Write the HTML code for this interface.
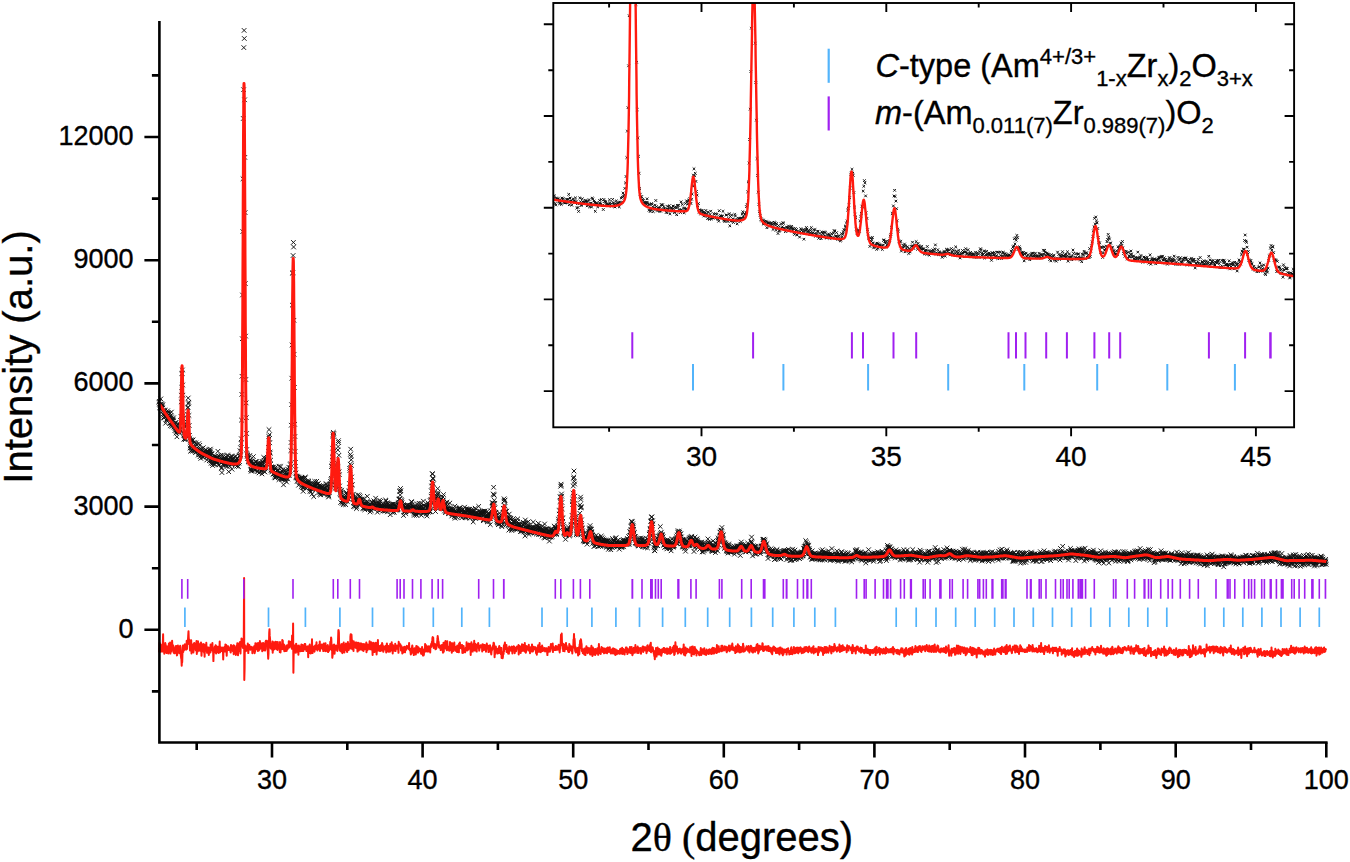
<!DOCTYPE html>
<html><head><meta charset="utf-8"><style>html,body{margin:0;padding:0;background:#fff;overflow:hidden}svg{display:block}</style></head><body>
<svg width="1350" height="862" viewBox="0 0 1350 862">
<rect width="1350" height="862" fill="#fff"/>
<defs><marker id="xm" markerUnits="userSpaceOnUse" markerWidth="8" markerHeight="8" refX="4" refY="4" overflow="visible"><path d="M1.7 1.7L6.3 6.3M6.3 1.7L1.7 6.3" stroke="#111" stroke-width="0.95"/></marker><marker id="xi" markerUnits="userSpaceOnUse" markerWidth="8" markerHeight="8" refX="4" refY="4" overflow="visible"><path d="M2.7 2.7L5.3 5.3M5.3 2.7L2.7 5.3" stroke="#111" stroke-width="1"/></marker></defs>
<polyline points="159,402.3 159.3,401.4 159.5,404.2 159.8,407.3 160,405.7 160.3,408.4 160.6,404.2 160.8,398.9 161.1,407.4 161.3,408.3 161.6,403.8 161.8,404.8 162.1,406.3 162.3,411.2 162.6,407.7 162.8,404.9 163.1,414.2 163.3,410.7 163.6,417.4 163.8,415.2 164.1,418 164.3,411.4 164.6,416.3 164.8,410 165.1,410.9 165.3,412.8 165.6,423.2 165.8,415.1 166.1,413.3 166.3,413 166.6,420.5 166.8,416.3 167.1,418.9 167.3,418.5 167.6,410.8 167.8,419.2 168.1,416.3 168.3,412.7 168.6,419.3 168.9,417.6 169.1,417 169.4,417.6 169.6,423.4 169.9,418.2 170.1,413.1 170.4,425.8 170.6,415.9 170.9,419.4 171.1,423 171.4,412.1 171.6,417.7 171.9,426.4 172.1,421.4 172.4,419.6 172.6,423.2 172.9,419.9 173.1,423.4 173.4,420.7 173.6,417.8 173.9,427 174.1,423.7 174.4,426.9 174.6,424.8 174.9,430.6 175.1,428.5 175.4,427.2 175.6,423 175.9,422.4 176.1,433 176.4,431.2 176.6,425.5 176.9,436.8 177.2,430.8 177.4,429.6 177.7,424.3 177.9,427 178.2,431.5 178.4,431.9 178.7,431.6 178.9,424.5 179.2,432.7 179.4,432.1 179.7,429.2 179.9,430.4 180.2,429 180.4,429.8 180.7,420.5 180.9,416.3 181.2,401.9 181.4,395.2 181.7,387.4 181.9,373.7 182.2,373.4 182.4,370 182.7,385 182.9,395.2 183.2,415.6 183.4,418.3 183.7,433.7 183.9,439.3 184.2,434.7 184.4,438.6 184.7,435 184.9,427 185.2,439.7 185.5,438.8 185.7,435 186,433 186.2,434.2 186.5,432.1 186.7,425.4 187,422.1 187.2,423.8 187.5,414.2 187.7,407.9 188,407.2 188.2,398 188.5,403.8 188.7,402.3 189,415.4 189.2,425.5 189.5,435.5 189.7,438 190,448.1 190.2,445.9 190.5,440.8 190.7,451.3 191,439.8 191.2,450.5 191.5,440.8 191.7,447.5 192,441.4 192.2,444.2 192.5,451.1 192.7,440.3 193,439.8 193.2,446 193.5,447.1 193.8,446.9 194,450.3 194.3,442.3 194.5,449.1 194.8,447.3 195,450.4 195.3,450 195.5,452.7 195.8,442.9 196,448.7 196.3,444.4 196.5,448.4 196.8,451.4 197,450.1 197.3,451.2 197.5,449.2 197.8,450.8 198,450.7 198.3,455.1 198.5,453.1 198.8,443.6 199,452.9 199.3,454.6 199.5,449.3 199.8,445.3 200,456.7 200.3,452 200.5,453.8 200.8,458.4 201,448.8 201.3,451.9 201.5,451.6 201.8,455 202.1,450.4 202.3,454.4 202.6,453 202.8,456.9 203.1,457.5 203.3,447.7 203.6,455 203.8,452 204.1,453.4 204.3,455.1 204.6,455.5 204.8,451.2 205.1,454.9 205.3,454.5 205.6,453.9 205.8,449.6 206.1,451.6 206.3,452.9 206.6,456.7 206.8,460 207.1,451.1 207.3,451.1 207.6,455.5 207.8,453 208.1,452.2 208.3,452.2 208.6,451.9 208.8,457.4 209.1,449.9 209.3,460.7 209.6,452.7 209.8,454.2 210.1,452.9 210.4,449.1 210.6,450.8 210.9,461 211.1,463.2 211.4,453.7 211.6,460.9 211.9,457.1 212.1,454 212.4,463.6 212.6,465.5 212.9,456.5 213.1,457.4 213.4,458.6 213.6,457.6 213.9,461.1 214.1,463.7 214.4,458.6 214.6,461.8 214.9,464.5 215.1,456.3 215.4,458.5 215.6,456.8 215.9,462.2 216.1,461 216.4,462.4 216.6,462.1 216.9,458 217.1,461.8 217.4,457.5 217.6,457.7 217.9,451.3 218.1,464.4 218.4,455.8 218.7,459.6 218.9,459.4 219.2,464.9 219.4,461.2 219.7,456.7 219.9,459.9 220.2,459.4 220.4,460.9 220.7,455.4 220.9,460 221.2,468.4 221.4,462.7 221.7,467.6 221.9,472.6 222.2,462.3 222.4,455.2 222.7,460.2 222.9,464.9 223.2,464.1 223.4,456.3 223.7,460 223.9,460.5 224.2,461 224.4,460.7 224.7,457.8 224.9,458.9 225.2,460.2 225.4,465 225.7,459.2 225.9,463.8 226.2,457.1 226.4,466.1 226.7,461.9 227,461.5 227.2,466.5 227.5,455 227.7,456 228,463.4 228.2,458.8 228.5,460.3 228.7,471.7 229,460.9 229.2,462.1 229.5,461.6 229.7,466.1 230,463.1 230.2,462.7 230.5,457.6 230.7,460.9 231,462.2 231.2,456.4 231.5,464.4 231.7,463.8 232,469.2 232.2,456.4 232.5,458.7 232.7,459 233,459.9 233.2,462 233.5,461.7 233.7,463.4 234,463.3 234.2,462.3 234.5,456.8 234.7,460.4 235,462.7 235.3,464.6 235.5,464.8 235.8,456.3 236,460.3 236.3,461.9 236.5,463.4 236.8,466.2 237,462.1 237.3,458.4 237.5,463 237.8,462.2 238,461.9 238.3,460.4 238.5,466.6 238.8,461.1 239,463 239.3,455.9 239.5,461.5 239.8,455.5 240,450.7 240.3,456 240.5,454.7 240.8,448 241,443.3 241.3,438.7 241.5,420.1 241.8,394.4 242,376.3 242.3,338.7 242.5,295 242.8,231.6 243,178.8 243.3,118.5 243.6,89.7 243.8,47.6 244.1,30.4 244.3,38.5 244.6,99.8 244.8,157.4 245.1,212.6 245.3,283.6 245.6,336.1 245.8,379.5 246.1,402.9 246.3,417.7 246.6,433.5 246.8,449.5 247.1,454.4 247.3,456.3 247.6,455.3 247.8,458.6 248.1,458.1 248.3,458.6 248.6,461.5 248.8,461.1 249.1,460.6 249.3,462.1 249.6,460.3 249.8,455.5 250.1,460.6 250.3,462.9 250.6,469.7 250.8,462.1 251.1,471.1 251.3,469.2 251.6,460.9 251.9,461.6 252.1,465 252.4,471 252.6,466.1 252.9,467.3 253.1,462.5 253.4,456.6 253.6,464.3 253.9,468.1 254.1,469.7 254.4,465.6 254.6,466.1 254.9,469.9 255.1,465.2 255.4,470 255.6,461.6 255.9,461.8 256.1,461.8 256.4,467.7 256.6,464.1 256.9,466.5 257.1,467.5 257.4,467.4 257.6,471.1 257.9,471.6 258.1,463.3 258.4,467 258.6,465.6 258.9,462.7 259.1,472.9 259.4,469.4 259.6,465.9 259.9,465.1 260.2,468 260.4,462.8 260.7,465.9 260.9,471.2 261.2,470.2 261.4,463.8 261.7,465.1 261.9,473.9 262.2,461.8 262.4,464.6 262.7,461.9 262.9,468.3 263.2,468 263.4,471.1 263.7,457.4 263.9,467.5 264.2,460.8 264.4,468.9 264.7,465.6 264.9,472 265.2,466.6 265.4,460.6 265.7,468 265.9,458.2 266.2,459.7 266.4,463.5 266.7,460.2 266.9,459.1 267.2,457.6 267.4,460.7 267.7,462.7 268,458.3 268.2,454.6 268.5,447.5 268.7,436.4 269,429.6 269.2,438.8 269.5,434.7 269.7,442.8 270,452.1 270.2,453.2 270.5,464.3 270.7,460.1 271,470.3 271.2,466.9 271.5,469.7 271.7,472 272,467.2 272.2,470.2 272.5,467.6 272.7,470.1 273,474.1 273.2,470.6 273.5,470.2 273.7,467 274,474 274.2,470.9 274.5,477.2 274.7,468.6 275,475.1 275.2,477.9 275.5,471.6 275.7,467.4 276,477.2 276.3,475.7 276.5,474.6 276.8,476.1 277,470.7 277.3,475.1 277.5,474.9 277.8,470.2 278,475.2 278.3,471 278.5,476.2 278.8,477.2 279,479.6 279.3,466.2 279.5,474.3 279.8,472.3 280,473.4 280.3,472.8 280.5,473.3 280.8,466.6 281,477.5 281.3,479.4 281.5,477.5 281.8,478.8 282,471.3 282.3,471.1 282.5,477.7 282.8,479.4 283,475.7 283.3,469.4 283.5,484.8 283.8,472.7 284,478.6 284.3,471 284.6,478.7 284.8,475.9 285.1,480.4 285.3,478.5 285.6,470 285.8,472.1 286.1,476.6 286.3,478.3 286.6,482 286.8,476.6 287.1,475.2 287.3,475.4 287.6,475.4 287.8,479 288.1,475.1 288.3,474.8 288.6,469.7 288.8,467.2 289.1,473.9 289.3,475.3 289.6,471.6 289.8,472 290.1,470.3 290.3,464.7 290.6,463.8 290.8,450.6 291.1,442.5 291.3,425.2 291.6,404.7 291.8,378.2 292.1,345 292.3,305.1 292.6,273.3 292.9,272.5 293.1,255.5 293.4,242.4 293.6,247 293.9,320.3 294.1,354.3 294.4,387.6 294.6,424.3 294.9,436.5 295.1,451.5 295.4,462.5 295.6,469.6 295.9,473 296.1,477.3 296.4,476 296.6,478 296.9,476.3 297.1,481.5 297.4,476.8 297.6,477.5 297.9,478.9 298.1,480.3 298.4,477 298.6,485.2 298.9,477.9 299.1,478.9 299.4,478.9 299.6,478.8 299.9,482.7 300.1,481.5 300.4,478.4 300.6,479.3 300.9,480.3 301.2,486.6 301.4,479.4 301.7,477.3 301.9,478.1 302.2,481 302.4,487.5 302.7,478.7 302.9,482.7 303.2,491.3 303.4,481.1 303.7,487.9 303.9,487.3 304.2,485.1 304.4,478.5 304.7,484.4 304.9,482.2 305.2,477.1 305.4,477.8 305.7,483.9 305.9,484.5 306.2,488.2 306.4,486.4 306.7,482.5 306.9,482.7 307.2,483.9 307.4,480.9 307.7,487.2 307.9,484.8 308.2,482.1 308.4,482.7 308.7,481.1 308.9,483.6 309.2,486.2 309.5,484 309.7,488.9 310,491.2 310.2,483.5 310.5,485.9 310.7,484.7 311,491.8 311.2,487.3 311.5,488.2 311.7,489.2 312,494.2 312.2,487.6 312.5,483.4 312.7,485.3 313,488.8 313.2,486.8 313.5,484.2 313.7,496.6 314,487.5 314.2,485.3 314.5,484.9 314.7,481.4 315,483.5 315.2,486.5 315.5,486.6 315.7,485 316,489.7 316.2,488.1 316.5,484.9 316.7,481.3 317,488.8 317.2,488.5 317.5,487.7 317.8,483.8 318,488.7 318.3,483.6 318.5,492.1 318.8,489.5 319,489.6 319.3,486.3 319.5,485.5 319.8,494.5 320,492.5 320.3,488.2 320.5,491.8 320.8,494.9 321,486.1 321.3,488.1 321.5,488.2 321.8,491.6 322,486.5 322.3,490.9 322.5,486.4 322.8,493.4 323,493.3 323.3,489.8 323.5,493 323.8,488.3 324,489.8 324.3,494 324.5,490.6 324.8,492.2 325,487.9 325.3,493.3 325.5,492.7 325.8,487.1 326.1,483.6 326.3,484.5 326.6,491.2 326.8,490.7 327.1,486.3 327.3,492 327.6,495 327.8,491.2 328.1,490 328.3,494.3 328.6,497 328.8,495.9 329.1,488.2 329.3,492.4 329.6,489.4 329.8,487.1 330.1,484.4 330.3,486.1 330.6,481.5 330.8,484.2 331.1,479.6 331.3,478.4 331.6,466.4 331.8,466.1 332.1,464.1 332.3,456.9 332.6,448.2 332.8,434.6 333.1,436.3 333.3,432.4 333.6,435.1 333.8,433.5 334.1,450.9 334.4,465.1 334.6,470.5 334.9,472.2 335.1,485 335.4,488.3 335.6,484.3 335.9,487 336.1,485.3 336.4,487.2 336.6,475.2 336.9,471.3 337.1,469.9 337.4,463.3 337.6,467 337.9,450 338.1,446.6 338.4,440.7 338.6,442.5 338.9,455.3 339.1,471.9 339.4,474.7 339.6,486 339.9,489.3 340.1,493.3 340.4,494.5 340.6,502.5 340.9,491.5 341.1,495.3 341.4,492.8 341.6,490.2 341.9,497 342.1,503.3 342.4,500.5 342.7,501.7 342.9,499.5 343.2,497.7 343.4,504.8 343.7,497.1 343.9,503.4 344.2,497.4 344.4,498.9 344.7,499.7 344.9,499 345.2,500.6 345.4,500.9 345.7,504.6 345.9,499.1 346.2,492.9 346.4,492.5 346.7,494.7 346.9,496.7 347.2,501.3 347.4,494 347.7,498.8 347.9,498.3 348.2,498.2 348.4,495.6 348.7,495.3 348.9,491.2 349.2,490.8 349.4,483.5 349.7,468.3 349.9,470.5 350.2,464.2 350.4,454.4 350.7,449.2 351,456.7 351.2,459.8 351.5,465.4 351.7,477 352,484.7 352.2,484.9 352.5,496.1 352.7,496 353,499.8 353.2,494.2 353.5,506.4 353.7,502.6 354,502.4 354.2,498.7 354.5,499.1 354.7,496.6 355,506.5 355.2,499 355.5,502.5 355.7,503.8 356,499.9 356.2,504.8 356.5,508.6 356.7,503 357,506.6 357.2,503.6 357.5,499.9 357.7,499.7 358,494.8 358.2,500 358.5,503.6 358.7,500.2 359,500.2 359.3,500.9 359.5,495.4 359.8,499.6 360,504.8 360.3,496.8 360.5,500.5 360.8,499.8 361,501.4 361.3,500.2 361.5,502.6 361.8,499 362,501.9 362.3,502.1 362.5,502.2 362.8,508.4 363,504.3 363.3,504.7 363.5,503.2 363.8,508.4 364,498.7 364.3,503.7 364.5,508.1 364.8,509.8 365,505.2 365.3,504.6 365.5,506.7 365.8,504.1 366,506.6 366.3,502.7 366.5,506.9 366.8,504.7 367,501.5 367.3,496.3 367.6,508 367.8,506.3 368.1,507.6 368.3,502.3 368.6,508.7 368.8,506.6 369.1,505.1 369.3,508.2 369.6,508.2 369.8,506.7 370.1,512 370.3,509.8 370.6,506.4 370.8,504.6 371.1,505.6 371.3,510.6 371.6,506.2 371.8,502 372.1,502.7 372.3,504.7 372.6,507.4 372.8,502.6 373.1,506.7 373.3,508.8 373.6,507.9 373.8,500.8 374.1,504.9 374.3,502.1 374.6,507.5 374.8,503 375.1,508.1 375.3,506.7 375.6,498.2 375.9,503.8 376.1,508 376.4,506.7 376.6,505.4 376.9,502.6 377.1,508.1 377.4,512.2 377.6,507.6 377.9,506.6 378.1,506.4 378.4,502.5 378.6,505.8 378.9,504.3 379.1,510.5 379.4,504.2 379.6,500.2 379.9,504.5 380.1,506.3 380.4,506.6 380.6,501.4 380.9,510.1 381.1,507.5 381.4,505.7 381.6,504.8 381.9,508.7 382.1,506.3 382.4,508.2 382.6,506.9 382.9,507.8 383.1,511 383.4,507.4 383.6,504.6 383.9,510.5 384.2,508.2 384.4,505.3 384.7,510.9 384.9,506.9 385.2,510.9 385.4,503.9 385.7,500.1 385.9,501.1 386.2,508.3 386.4,505.2 386.7,507.2 386.9,507.3 387.2,502.7 387.4,511.9 387.7,504.3 387.9,507.9 388.2,503.2 388.4,507.1 388.7,509.9 388.9,506.9 389.2,505.4 389.4,507.7 389.7,506.3 389.9,509.5 390.2,514.7 390.4,505 390.7,505.7 390.9,507.4 391.2,507.7 391.4,504.6 391.7,509.4 391.9,510.3 392.2,508.6 392.5,504.2 392.7,512.5 393,504.2 393.2,510.1 393.5,511.6 393.7,504 394,508.4 394.2,512.3 394.5,509.3 394.7,505.1 395,504.3 395.2,509.5 395.5,506.8 395.7,505.9 396,510.2 396.2,507 396.5,508.2 396.7,509.8 397,509.7 397.2,507.8 397.5,507.8 397.7,509.5 398,508.8 398.2,503.4 398.5,505.5 398.7,502.2 399,499.5 399.2,499.2 399.5,491.1 399.7,498.8 400,491.7 400.2,495 400.5,488.5 400.8,490.7 401,504.8 401.3,503.5 401.5,499.9 401.8,501 402,502.5 402.3,506.2 402.5,505.3 402.8,505.2 403,507.9 403.3,504.7 403.5,515.4 403.8,506.2 404,511.6 404.3,505.3 404.5,509.2 404.8,511.3 405,507.3 405.3,511.4 405.5,511.5 405.8,513.6 406,508.7 406.3,507 406.5,505.3 406.8,509.1 407,505.3 407.3,508.6 407.5,509 407.8,506.8 408,505.3 408.3,509.8 408.5,509.5 408.8,509.2 409.1,508.4 409.3,511.6 409.6,505.4 409.8,510 410.1,507.2 410.3,511.3 410.6,507.4 410.8,507.2 411.1,509.7 411.3,501.7 411.6,506.8 411.8,502.1 412.1,504.5 412.3,509.5 412.6,508.5 412.8,505.8 413.1,507 413.3,507.2 413.6,508.5 413.8,513.6 414.1,508.8 414.3,515.3 414.6,507.2 414.8,510.9 415.1,510.9 415.3,509.4 415.6,507.9 415.8,513.4 416.1,514.4 416.3,512.2 416.6,515.4 416.8,511.9 417.1,503.8 417.4,512.2 417.6,506.8 417.9,513.3 418.1,507.9 418.4,509.9 418.6,509.1 418.9,507.1 419.1,503.3 419.4,508.3 419.6,508.5 419.9,512 420.1,507.1 420.4,509.7 420.6,506.3 420.9,509.1 421.1,503.4 421.4,515.3 421.6,509.9 421.9,506.2 422.1,510.1 422.4,511.5 422.6,509.8 422.9,513.4 423.1,508.6 423.4,501.2 423.6,505.3 423.9,512.5 424.1,511.8 424.4,510.3 424.6,505.8 424.9,511.6 425.1,511.2 425.4,506.2 425.7,506.2 425.9,510.2 426.2,512.5 426.4,513.9 426.7,511.2 426.9,516 427.2,506.5 427.4,510.9 427.7,507.3 427.9,502.8 428.2,504.9 428.4,512.3 428.7,505.7 428.9,504.7 429.2,510.6 429.4,510.9 429.7,507.7 429.9,511.8 430.2,500.8 430.4,511.8 430.7,505.4 430.9,499.8 431.2,496.3 431.4,490.9 431.7,486 431.9,482.9 432.2,473.8 432.4,482.4 432.7,473.9 432.9,478.1 433.2,479 433.4,483.9 433.7,493.2 434,497.2 434.2,496.3 434.5,500.8 434.7,506.3 435,498.9 435.2,498.9 435.5,511.5 435.7,505.8 436,498.2 436.2,502.8 436.5,503.1 436.7,502.3 437,500.4 437.2,496.2 437.5,494.6 437.7,488.6 438,492.4 438.2,493.9 438.5,498.7 438.7,497.3 439,502.4 439.2,502.1 439.5,499.8 439.7,503.5 440,504.2 440.2,505.4 440.5,506.8 440.7,507.4 441,507.6 441.2,503.5 441.5,508.5 441.7,499.3 442,502 442.3,503.1 442.5,500.8 442.8,500.3 443,497 443.3,500 443.5,494.6 443.8,502.3 444,508.8 444.3,505.3 444.5,511 444.8,505.9 445,503.5 445.3,505.7 445.5,512.7 445.8,511.3 446,503.6 446.3,508.5 446.5,509.6 446.8,506.4 447,502.1 447.3,505.8 447.5,509.5 447.8,508.9 448,508.2 448.3,512.1 448.5,513.6 448.8,510.1 449,513.3 449.3,510.6 449.5,510.1 449.8,503.1 450,513.2 450.3,510.9 450.6,511.1 450.8,509.3 451.1,507.4 451.3,512.3 451.6,513.4 451.8,516 452.1,513.8 452.3,509.2 452.6,510.8 452.8,514.2 453.1,512.2 453.3,511 453.6,509.5 453.8,513 454.1,512 454.3,516.9 454.6,514.9 454.8,506.2 455.1,518.2 455.3,512.4 455.6,510.7 455.8,512.6 456.1,514 456.3,511.7 456.6,511.6 456.8,511.8 457.1,517.5 457.3,512.1 457.6,514.4 457.8,513.4 458.1,511 458.3,509.8 458.6,509 458.9,513.4 459.1,509 459.4,508.2 459.6,508.4 459.9,507.6 460.1,512.5 460.4,512.6 460.6,509.5 460.9,516.4 461.1,511.5 461.4,513.9 461.6,513.4 461.9,517.8 462.1,515.1 462.4,512.4 462.6,509.6 462.9,509.3 463.1,512.7 463.4,513.1 463.6,515.1 463.9,511.3 464.1,513.4 464.4,510.7 464.6,507.2 464.9,512.8 465.1,517.5 465.4,515.5 465.6,517.4 465.9,516.6 466.1,508.8 466.4,512.2 466.6,517.8 466.9,511 467.2,509.1 467.4,514.3 467.7,515.3 467.9,514.3 468.2,512.4 468.4,511.3 468.7,509.7 468.9,509.6 469.2,509.7 469.4,509.2 469.7,511.5 469.9,518.4 470.2,514 470.4,512.7 470.7,514.9 470.9,510.9 471.2,514.9 471.4,516.8 471.7,509.4 471.9,511.9 472.2,513.3 472.4,511.2 472.7,510.8 472.9,513.1 473.2,521.9 473.4,516.3 473.7,515.7 473.9,517.4 474.2,513.8 474.4,510.7 474.7,516 474.9,518 475.2,508.2 475.5,516 475.7,518.5 476,514 476.2,513.4 476.5,517 476.7,512.4 477,516.4 477.2,517.8 477.5,514.4 477.7,512.6 478,517 478.2,514.1 478.5,515.4 478.7,506.4 479,517.4 479.2,511 479.5,515.5 479.7,515.8 480,513.2 480.2,512.7 480.5,511.6 480.7,514.5 481,517.5 481.2,517.3 481.5,514.1 481.7,513.9 482,511.5 482.2,514.5 482.5,512.6 482.7,511.2 483,515.4 483.3,520.6 483.5,519.7 483.8,520.5 484,511.2 484.3,518.8 484.5,512.4 484.8,514.4 485,511 485.3,513.2 485.5,516.7 485.8,517 486,516.2 486.3,515.9 486.5,518.2 486.8,516.7 487,511.6 487.3,521.9 487.5,515.9 487.8,519.5 488,516.2 488.3,514.2 488.5,517 488.8,514.4 489,521.7 489.3,513.4 489.5,518.7 489.8,514.9 490,516.2 490.3,524.6 490.5,518.8 490.8,515.5 491,510.9 491.3,514.1 491.6,513.2 491.8,517.2 492.1,506.4 492.3,502.8 492.6,505.5 492.8,502.9 493.1,504.4 493.3,494 493.6,487.3 493.8,494.8 494.1,495.2 494.3,500.4 494.6,508.2 494.8,503.3 495.1,513.9 495.3,512.6 495.6,512.8 495.8,512.3 496.1,514.8 496.3,515.7 496.6,519.8 496.8,521.8 497.1,518 497.3,520.6 497.6,522.6 497.8,522.6 498.1,520.3 498.3,524.6 498.6,523.1 498.8,524.1 499.1,518.6 499.3,517.9 499.6,513.1 499.9,523.9 500.1,521.4 500.4,516.7 500.6,520.3 500.9,520.9 501.1,515.2 501.4,522.2 501.6,525.5 501.9,526.7 502.1,521.7 502.4,521.1 502.6,524.5 502.9,520.6 503.1,512.3 503.4,508.3 503.6,508.6 503.9,501.2 504.1,498.8 504.4,505.2 504.6,500.6 504.9,500.1 505.1,506.3 505.4,514.7 505.6,512.1 505.9,511.7 506.1,511.3 506.4,524.6 506.6,511.1 506.9,523.4 507.1,517.7 507.4,517.4 507.6,518.5 507.9,521.3 508.2,525.5 508.4,520.3 508.7,524.5 508.9,530.1 509.2,514.1 509.4,520.7 509.7,517.5 509.9,525.8 510.2,518.8 510.4,518.5 510.7,518.8 510.9,523.6 511.2,527.3 511.4,524.3 511.7,530.5 511.9,529.1 512.2,523.9 512.4,527.2 512.7,524.9 512.9,524.8 513.2,518.8 513.4,520.8 513.7,524.9 513.9,521.2 514.2,527.2 514.4,526 514.7,522.3 514.9,528.8 515.2,526 515.4,529.2 515.7,525 515.9,520.5 516.2,527.7 516.5,524.9 516.7,528.3 517,529.1 517.2,529.4 517.5,521.5 517.7,518.9 518,524.5 518.2,528.1 518.5,524 518.7,527.1 519,523.8 519.2,525.4 519.5,525.5 519.7,524.6 520,528.2 520.2,527.7 520.5,531.7 520.7,527.9 521,530.9 521.2,527.2 521.5,529.7 521.7,526.6 522,525.6 522.2,531.2 522.5,529.5 522.7,529.9 523,525 523.2,522.3 523.5,524.8 523.7,528.4 524,523.2 524.2,532 524.5,523.2 524.8,529.6 525,535.9 525.3,520 525.5,523.2 525.8,531 526,527.5 526.3,528.7 526.5,527.8 526.8,532.5 527,530.2 527.3,526.9 527.5,527.7 527.8,524.9 528,528.3 528.3,521.7 528.5,530.7 528.8,527.9 529,534.4 529.3,532.5 529.5,525 529.8,531.7 530,527.5 530.3,529.2 530.5,532.2 530.8,530.2 531,530.8 531.3,530.7 531.5,527.2 531.8,527.5 532,531.2 532.3,532.2 532.5,528.8 532.8,530 533.1,526.8 533.3,522.1 533.6,527.4 533.8,530.1 534.1,530.5 534.3,532.6 534.6,532.8 534.8,533.1 535.1,531.4 535.3,531.6 535.6,528.2 535.8,531.6 536.1,531.1 536.3,534.1 536.6,525.9 536.8,529.2 537.1,525.6 537.3,528.5 537.6,526.6 537.8,531.7 538.1,528.9 538.3,523.3 538.6,534.7 538.8,527.8 539.1,526.4 539.3,530.1 539.6,529.2 539.8,527.8 540.1,533.4 540.3,530.4 540.6,534.2 540.8,533.7 541.1,533.6 541.4,532.2 541.6,531.4 541.9,530.6 542.1,536.1 542.4,526.2 542.6,528.7 542.9,530 543.1,533.3 543.4,532.5 543.6,530.7 543.9,531.2 544.1,537.4 544.4,530.3 544.6,524 544.9,538 545.1,529.8 545.4,531.7 545.6,533.1 545.9,528.8 546.1,536.4 546.4,532.5 546.6,528.7 546.9,533.7 547.1,534.4 547.4,532.8 547.6,534.5 547.9,528.8 548.1,536 548.4,530.8 548.6,537.1 548.9,531.5 549.1,533.8 549.4,541.1 549.7,533.6 549.9,536.8 550.2,535 550.4,529.2 550.7,537 550.9,536.9 551.2,529.6 551.4,533.5 551.7,529.3 551.9,532.9 552.2,536.4 552.4,534 552.7,530.1 552.9,530.8 553.2,533.3 553.4,532.9 553.7,533.1 553.9,534 554.2,526.1 554.4,531.3 554.7,534.1 554.9,531.6 555.2,527.5 555.4,527.4 555.7,529.5 555.9,531.1 556.2,529.1 556.4,534.5 556.7,533.6 556.9,527.6 557.2,531.6 557.4,528.9 557.7,526 558,526.9 558.2,527.5 558.5,519.2 558.7,521.2 559,521.3 559.2,514.1 559.5,510.8 559.7,510.1 560,501.6 560.2,496.7 560.5,497.2 560.7,486.2 561,484.2 561.2,485.6 561.5,494 561.7,496.2 562,502.5 562.2,508.9 562.5,518.7 562.7,517.7 563,527.1 563.2,526.9 563.5,524.6 563.7,532.2 564,532.9 564.2,529.1 564.5,533.9 564.7,533.9 565,532.5 565.2,530 565.5,539.3 565.7,534.9 566,535.1 566.3,534.9 566.5,533.8 566.8,533.3 567,529.6 567.3,533 567.5,530.1 567.8,529.5 568,533.2 568.3,531.1 568.5,527.1 568.8,531.5 569,534.6 569.3,533.2 569.5,535.9 569.8,532.3 570,530.3 570.3,534.6 570.5,531.9 570.8,526.6 571,529.4 571.3,524.8 571.5,525.3 571.8,520.8 572,515.3 572.3,501.6 572.5,504.4 572.8,499 573,493.1 573.3,486 573.5,478.3 573.8,477.1 574,471 574.3,481.3 574.6,484 574.8,496.2 575.1,503.2 575.3,516.7 575.6,518.2 575.8,522.4 576.1,526.4 576.3,534.6 576.6,527.7 576.8,532.7 577.1,533.6 577.3,533.5 577.6,533.3 577.8,531.1 578.1,535 578.3,532.8 578.6,527.6 578.8,526 579.1,525.1 579.3,522.7 579.6,520 579.8,513.3 580.1,504.8 580.3,507.7 580.6,497.1 580.8,499.5 581.1,506.6 581.3,507.6 581.6,519.8 581.8,525.4 582.1,528 582.3,528.6 582.6,530.8 582.9,533.4 583.1,533.3 583.4,540.9 583.6,534.4 583.9,540.6 584.1,539 584.4,538.8 584.6,541.1 584.9,542 585.1,541.1 585.4,538.5 585.6,536.9 585.9,537.1 586.1,541.5 586.4,540.9 586.6,541.3 586.9,537.4 587.1,544.2 587.4,534.9 587.6,539.4 587.9,539.8 588.1,536.2 588.4,533.5 588.6,534.7 588.9,531.7 589.1,533.2 589.4,529 589.6,527.9 589.9,530.8 590.1,525.6 590.4,528.9 590.6,529.2 590.9,532.5 591.2,531.5 591.4,529.4 591.7,536.6 591.9,532.2 592.2,534.3 592.4,535.5 592.7,543.4 592.9,538.4 593.2,537 593.4,541.4 593.7,539.5 593.9,546.6 594.2,538.5 594.4,542.4 594.7,538.3 594.9,545.9 595.2,539 595.4,541.7 595.7,538.9 595.9,543.7 596.2,542.9 596.4,535.2 596.7,543.7 596.9,543.4 597.2,542.3 597.4,544.4 597.7,538.4 597.9,537 598.2,543.6 598.4,546.5 598.7,538.6 598.9,538.9 599.2,539.7 599.5,538.8 599.7,544.4 600,542.5 600.2,545.9 600.5,546 600.7,539.6 601,544.1 601.2,536.1 601.5,542.2 601.7,544.1 602,540.3 602.2,537.6 602.5,541.2 602.7,545.9 603,541.6 603.2,538.9 603.5,544.1 603.7,544.9 604,540 604.2,542.5 604.5,545.9 604.7,544 605,545 605.2,542.2 605.5,542.8 605.7,540 606,541.2 606.2,547.4 606.5,542.1 606.7,540.8 607,542.1 607.2,540.5 607.5,544.8 607.8,545.9 608,540.9 608.3,546.3 608.5,549.3 608.8,540.7 609,545.4 609.3,544.3 609.5,547.3 609.8,547.1 610,546.6 610.3,544.5 610.5,542.5 610.8,549.7 611,541.5 611.3,546.7 611.5,546.4 611.8,541.7 612,543.8 612.3,547.7 612.5,538.6 612.8,545.9 613,542.9 613.3,543.1 613.5,539.8 613.8,544.9 614,540.9 614.3,545.6 614.5,540.6 614.8,545.7 615,544.6 615.3,538.5 615.5,542.8 615.8,543.4 616.1,537.6 616.3,542.7 616.6,545.9 616.8,541.7 617.1,546.9 617.3,540.7 617.6,540.5 617.8,545.3 618.1,545.4 618.3,543.2 618.6,543.7 618.8,546.4 619.1,542.2 619.3,549.2 619.6,544.9 619.8,544.8 620.1,544.5 620.3,542.9 620.6,547.1 620.8,542.2 621.1,544.2 621.3,545.5 621.6,547.4 621.8,546.9 622.1,542.8 622.3,546.3 622.6,543.6 622.8,540.9 623.1,540.9 623.3,539.5 623.6,544.5 623.8,546.6 624.1,540.9 624.4,542.8 624.6,540.6 624.9,543.6 625.1,540.4 625.4,541.3 625.6,541.6 625.9,542.2 626.1,542.4 626.4,542.8 626.6,542.8 626.9,540.7 627.1,544.7 627.4,538.5 627.6,543.4 627.9,540.3 628.1,543 628.4,543.2 628.6,536.6 628.9,542.5 629.1,544.5 629.4,542.1 629.6,540 629.9,531.8 630.1,535.8 630.4,531.9 630.6,535.5 630.9,529.6 631.1,526.5 631.4,521.2 631.6,526.9 631.9,521.7 632.1,522 632.4,526 632.7,523.8 632.9,525.8 633.2,533.7 633.4,527.1 633.7,529.4 633.9,534.2 634.2,538.7 634.4,532.5 634.7,537.4 634.9,536.5 635.2,536.5 635.4,542.6 635.7,539.6 635.9,543 636.2,542.8 636.4,543.2 636.7,543.1 636.9,540.3 637.2,543.1 637.4,543.9 637.7,544.3 637.9,542.7 638.2,546.1 638.4,545.1 638.7,543.9 638.9,545.3 639.2,544.1 639.4,545.5 639.7,538.5 639.9,540.3 640.2,542.7 640.4,544.1 640.7,538 641,543.1 641.2,544.2 641.5,543.1 641.7,543.1 642,540.1 642.2,544 642.5,538.3 642.7,546.3 643,542.1 643.2,546.6 643.5,539 643.7,544.8 644,544 644.2,541.4 644.5,540.4 644.7,546.8 645,544.7 645.2,547.5 645.5,543.3 645.7,543.9 646,544.5 646.2,545.3 646.5,544.4 646.7,545.3 647,541.7 647.2,538.8 647.5,547.9 647.7,542.6 648,542.9 648.2,539.7 648.5,542.8 648.7,539.6 649,540.7 649.3,534.3 649.5,534.2 649.8,532.9 650,529.1 650.3,528.6 650.5,530.2 650.8,521.7 651,520.9 651.3,521.1 651.5,517.2 651.8,516.8 652,524.9 652.3,525.6 652.5,520.8 652.8,523.7 653,532.8 653.3,537.1 653.5,538.7 653.8,541.5 654,547.5 654.3,545.3 654.5,550.5 654.8,550.8 655,544.6 655.3,548.2 655.5,545.5 655.8,542.7 656,541.6 656.3,544.3 656.5,543.1 656.8,545.3 657,538.2 657.3,541.1 657.6,545.7 657.8,542.4 658.1,540.1 658.3,540.3 658.6,536 658.8,536.5 659.1,541 659.3,538.8 659.6,541.1 659.8,535.7 660.1,534.9 660.3,526.6 660.6,533.2 660.8,538.8 661.1,534.4 661.3,532.2 661.6,536.5 661.8,536.1 662.1,535.6 662.3,534.7 662.6,537.3 662.8,540.4 663.1,536.8 663.3,541.4 663.6,542.1 663.8,545.3 664.1,544.2 664.3,540.8 664.6,547.4 664.8,543.5 665.1,541.6 665.3,544.7 665.6,543.2 665.9,546.9 666.1,540.5 666.4,541.1 666.6,543.5 666.9,548.9 667.1,547 667.4,541.6 667.6,539.6 667.9,543.5 668.1,540.9 668.4,545.9 668.6,544.8 668.9,544.3 669.1,543.2 669.4,548.5 669.6,541.8 669.9,540.8 670.1,547.5 670.4,548 670.6,543.5 670.9,546.2 671.1,550.8 671.4,542.3 671.6,544 671.9,545.7 672.1,538.8 672.4,544.1 672.6,546.5 672.9,544.2 673.1,547.2 673.4,546.4 673.6,543.3 673.9,545.8 674.2,545.5 674.4,539.7 674.7,541.7 674.9,541.7 675.2,542.2 675.4,542 675.7,538.9 675.9,542.4 676.2,536.6 676.4,543.5 676.7,540.7 676.9,542.8 677.2,538.7 677.4,535 677.7,531.1 677.9,535.8 678.2,532.8 678.4,532.9 678.7,533.4 678.9,534.5 679.2,531 679.4,536.8 679.7,532.4 679.9,533.9 680.2,537.1 680.4,539.4 680.7,541.7 680.9,533.9 681.2,543.9 681.4,536.9 681.7,540.4 681.9,543.7 682.2,546.4 682.5,540.9 682.7,539.4 683,546.9 683.2,545.4 683.5,541.9 683.7,544 684,539.6 684.2,546.6 684.5,543.7 684.7,548.5 685,539.6 685.2,547.2 685.5,551.2 685.7,545.7 686,545.7 686.2,540.2 686.5,546.2 686.7,545.3 687,543.6 687.2,540.9 687.5,545.2 687.7,542 688,543.2 688.2,545.1 688.5,543.7 688.7,543.4 689,545.5 689.2,539.1 689.5,545.6 689.7,538 690,537.9 690.2,540.2 690.5,541.5 690.8,539.6 691,537.5 691.3,536.7 691.5,538.2 691.8,536.6 692,541.4 692.3,539.9 692.5,545.4 692.8,539.7 693,541.9 693.3,544 693.5,540.1 693.8,541.8 694,551.5 694.3,543.9 694.5,547.9 694.8,541.1 695,537.1 695.3,545 695.5,543.2 695.8,543.9 696,542.1 696.3,541.1 696.5,539.3 696.8,545.5 697,538.7 697.3,545.7 697.5,542.7 697.8,540.6 698,542.2 698.3,547 698.6,546.7 698.8,546.4 699.1,545.6 699.3,542.7 699.6,549.4 699.8,544.9 700.1,544.7 700.3,545 700.6,545.3 700.8,542.6 701.1,545.4 701.3,544.5 701.6,545.3 701.8,542.1 702.1,551.9 702.3,543.5 702.6,547.6 702.8,547.7 703.1,549.5 703.3,551.9 703.6,548 703.8,548.8 704.1,545.6 704.3,550.8 704.6,543 704.8,546 705.1,547.2 705.3,548.3 705.6,548.4 705.8,549.1 706.1,547.2 706.3,545.5 706.6,545.7 706.9,548.7 707.1,545.3 707.4,546.7 707.6,543.7 707.9,538.9 708.1,542.2 708.4,544.8 708.6,548.5 708.9,548.1 709.1,549.2 709.4,543 709.6,547.3 709.9,545.5 710.1,547.6 710.4,546 710.6,542.8 710.9,548.6 711.1,547.9 711.4,549.3 711.6,544.9 711.9,550.1 712.1,550.4 712.4,551.2 712.6,551.3 712.9,546.4 713.1,540.9 713.4,550.3 713.6,545.2 713.9,547 714.1,550.6 714.4,548.4 714.6,548.3 714.9,549.5 715.2,542.5 715.4,552.6 715.7,546.5 715.9,546.6 716.2,548.9 716.4,546.8 716.7,544.7 716.9,546.4 717.2,545.4 717.4,544.3 717.7,551 717.9,541 718.2,538 718.4,540.6 718.7,539.4 718.9,544.7 719.2,539.8 719.4,540.2 719.7,538.1 719.9,532.1 720.2,535.7 720.4,532.5 720.7,536.6 720.9,531 721.2,530.2 721.4,532.9 721.7,533.8 721.9,527.5 722.2,537.8 722.4,538.9 722.7,539.8 722.9,535.8 723.2,534.8 723.5,541.1 723.7,545.2 724,545.4 724.2,542.3 724.5,548.4 724.7,542.7 725,543.3 725.2,547.2 725.5,546 725.7,546 726,544.1 726.2,551.1 726.5,545.4 726.7,549.6 727,550.7 727.2,548.5 727.5,549.4 727.7,551.5 728,553.1 728.2,551.5 728.5,545.2 728.7,544 729,547.4 729.2,546.1 729.5,550.6 729.7,549.5 730,548.6 730.2,552.2 730.5,552 730.7,549.1 731,550.3 731.2,552.2 731.5,548.5 731.8,550.2 732,546.9 732.3,549.6 732.5,550.4 732.8,549.3 733,550.1 733.3,551.4 733.5,550.7 733.8,547.7 734,548 734.3,546.4 734.5,554.2 734.8,550.8 735,550.8 735.3,549.3 735.5,550.9 735.8,551.1 736,547.7 736.3,549.3 736.5,552.7 736.8,546.1 737,547 737.3,551 737.5,547.2 737.8,551.1 738,546 738.3,549.3 738.5,550.6 738.8,549.1 739,549.8 739.3,546.8 739.5,546.5 739.8,546.4 740.1,547.5 740.3,555.5 740.6,545.1 740.8,550.2 741.1,544.4 741.3,542 741.6,544.5 741.8,546.5 742.1,546.3 742.3,546.6 742.6,548.2 742.8,548.7 743.1,550.1 743.3,544.9 743.6,548.4 743.8,546.2 744.1,549.7 744.3,549.1 744.6,549.9 744.8,548.4 745.1,547.6 745.3,549.2 745.6,551.7 745.8,552 746.1,545.7 746.3,550.7 746.6,550.7 746.8,546.1 747.1,546.9 747.3,548.3 747.6,550.5 747.8,543.1 748.1,548 748.4,547.2 748.6,548.8 748.9,551.6 749.1,550.9 749.4,545.8 749.6,545.3 749.9,546.5 750.1,548.5 750.4,548.8 750.6,545.5 750.9,548.3 751.1,541.9 751.4,541.3 751.6,537.1 751.9,542.7 752.1,547.2 752.4,548.4 752.6,555.9 752.9,548.8 753.1,548.2 753.4,545.7 753.6,547.1 753.9,547.6 754.1,548.9 754.4,548 754.6,546.3 754.9,553 755.1,551.6 755.4,554.2 755.6,546.5 755.9,547.4 756.1,548.9 756.4,554 756.7,550.5 756.9,551.6 757.2,550.8 757.4,551.6 757.7,549.8 757.9,552.1 758.2,548.9 758.4,550.5 758.7,551.8 758.9,551.3 759.2,552.1 759.4,548.7 759.7,551.4 759.9,549.7 760.2,551.2 760.4,553.7 760.7,547 760.9,551.6 761.2,546.4 761.4,546.3 761.7,551 761.9,548.2 762.2,546.1 762.4,546 762.7,546 762.9,539.8 763.2,541.7 763.4,539.4 763.7,541.3 763.9,539.2 764.2,542.4 764.4,540.9 764.7,540 765,542.4 765.2,544.8 765.5,547.6 765.7,545.3 766,545.9 766.2,548.4 766.5,550.6 766.7,548 767,543.6 767.2,551.5 767.5,550.3 767.7,550.6 768,558.5 768.2,551.9 768.5,554.2 768.7,549.1 769,553.4 769.2,554.9 769.5,553.6 769.7,552.7 770,554.6 770.2,553.4 770.5,556.8 770.7,554 771,551.5 771.2,548.6 771.5,551.8 771.7,553 772,550.7 772.2,551.2 772.5,549.6 772.7,551.2 773,554.2 773.3,553.3 773.5,553.6 773.8,553.3 774,553.6 774.3,556.1 774.5,559.5 774.8,555.9 775,559.3 775.3,554 775.5,554.2 775.8,558.5 776,552.5 776.3,552.1 776.5,554.1 776.8,550.1 777,549.6 777.3,557.4 777.5,551.7 777.8,553.2 778,553.3 778.3,552 778.5,556.2 778.8,555.9 779,556.5 779.3,556.3 779.5,554.6 779.8,558.1 780,557 780.3,552.9 780.5,554.5 780.8,553.3 781,559 781.3,556.2 781.6,555.5 781.8,554 782.1,555.4 782.3,551.5 782.6,553.9 782.8,553.6 783.1,553.5 783.3,551.6 783.6,554.5 783.8,550.3 784.1,552 784.3,552.7 784.6,553.1 784.8,551.9 785.1,550.7 785.3,551 785.6,552.6 785.8,551.5 786.1,553.5 786.3,550.8 786.6,554.2 786.8,559.5 787.1,551 787.3,554.2 787.6,557.5 787.8,555.1 788.1,556.9 788.3,549.4 788.6,553.5 788.8,558.8 789.1,553.5 789.3,555.9 789.6,550.1 789.9,557.6 790.1,560.6 790.4,554.8 790.6,555.9 790.9,556.1 791.1,560.4 791.4,554 791.6,550.8 791.9,559.9 792.1,552.1 792.4,556.5 792.6,549.2 792.9,554 793.1,555.6 793.4,552.3 793.6,553.8 793.9,556.6 794.1,553.4 794.4,556.5 794.6,559.7 794.9,550.1 795.1,556.1 795.4,556.7 795.6,554.4 795.9,559.1 796.1,558.6 796.4,556.5 796.6,556.5 796.9,555.1 797.1,552.4 797.4,556.4 797.6,554 797.9,553.7 798.2,558 798.4,554.7 798.7,557.6 798.9,552.5 799.2,554.1 799.4,555.2 799.7,558.6 799.9,554.9 800.2,557.1 800.4,553.3 800.7,555.4 800.9,557.1 801.2,552.6 801.4,553.1 801.7,556.3 801.9,551.8 802.2,555.3 802.4,555.1 802.7,553.8 802.9,555.8 803.2,554.6 803.4,553.5 803.7,548.7 803.9,548.2 804.2,552.1 804.4,546.6 804.7,550.2 804.9,548.3 805.2,546.2 805.4,546.9 805.7,540.6 805.9,545.7 806.2,549.1 806.5,542.1 806.7,546.6 807,546.5 807.2,554 807.5,543.9 807.7,545.1 808,545.9 808.2,546.2 808.5,545.2 808.7,550.5 809,548.7 809.2,553.7 809.5,553.3 809.7,550.3 810,552.4 810.2,557.2 810.5,553.3 810.7,554.9 811,556.8 811.2,553.8 811.5,556.1 811.7,559.1 812,558.1 812.2,550.9 812.5,559.2 812.7,554.9 813,554 813.2,554 813.5,558.7 813.7,556.4 814,555.3 814.2,553.7 814.5,557.3 814.8,558.7 815,553.3 815.3,553 815.5,554.9 815.8,557.4 816,554.8 816.3,555.6 816.5,553.8 816.8,559 817,555.6 817.3,556.3 817.5,558.7 817.8,555.4 818,555.9 818.3,557 818.5,555 818.8,559.6 819,556.2 819.3,555 819.5,555.3 819.8,553.4 820,559.1 820.3,559.9 820.5,555.5 820.8,555 821,550.8 821.3,554.6 821.5,558.3 821.8,554.1 822,558.3 822.3,559.9 822.5,549.7 822.8,555.4 823.1,554.4 823.3,554.8 823.6,551.7 823.8,555.5 824.1,553.2 824.3,558.8 824.6,559.7 824.8,552.7 825.1,552.6 825.3,555 825.6,555.7 825.8,555.9 826.1,558 826.3,552.5 826.6,554.7 826.8,555.1 827.1,555.4 827.3,553.7 827.6,555.1 827.8,554.5 828.1,559.3 828.3,555.1 828.6,550.9 828.8,557.7 829.1,556.7 829.3,554.2 829.6,554 829.8,554.9 830.1,560.5 830.3,555.2 830.6,559.4 830.8,558.5 831.1,555.1 831.4,557.2 831.6,554.5 831.9,548.6 832.1,554.6 832.4,554.7 832.6,558.8 832.9,558.1 833.1,559.2 833.4,557.9 833.6,559.3 833.9,558.2 834.1,557.1 834.4,559.1 834.6,560.1 834.9,560 835.1,555.5 835.4,556.5 835.6,554.1 835.9,554 836.1,557.5 836.4,555 836.6,560.2 836.9,551 837.1,553.7 837.4,557.2 837.6,559.6 837.9,555.7 838.1,561.4 838.4,558.6 838.6,554.8 838.9,556.5 839.1,557.9 839.4,554.3 839.7,559.3 839.9,556 840.2,558 840.4,558.9 840.7,555.6 840.9,559.2 841.2,552 841.4,558.2 841.7,551.8 841.9,559.5 842.2,555.3 842.4,559.8 842.7,560.2 842.9,556.4 843.2,555.1 843.4,560 843.7,553.9 843.9,558.8 844.2,556.5 844.4,555.9 844.7,555.3 844.9,561.3 845.2,552.8 845.4,555.4 845.7,557.9 845.9,559.4 846.2,561 846.4,560.2 846.7,555.4 846.9,557.6 847.2,559.6 847.4,558.1 847.7,552.9 848,557.6 848.2,558.2 848.5,553.4 848.7,555.6 849,556.6 849.2,558.2 849.5,560.6 849.7,559.6 850,557.9 850.2,557.2 850.5,555.8 850.7,555.3 851,556.1 851.2,556.1 851.5,559.1 851.7,561.9 852,557.8 852.2,558.9 852.5,558.1 852.7,557.1 853,559.4 853.2,559 853.5,556.4 853.7,555.7 854,557.5 854.2,554.5 854.5,556.2 854.7,558 855,555.2 855.2,550.4 855.5,556.7 855.7,551.9 856,551.3 856.3,550.9 856.5,556.7 856.8,549.5 857,554.4 857.3,555.4 857.5,555.4 857.8,553.4 858,554.9 858.3,555.7 858.5,552.1 858.8,557.3 859,558.3 859.3,553.8 859.5,554.1 859.8,553.2 860,558.8 860.3,553.4 860.5,555 860.8,551.8 861,559.4 861.3,555.8 861.5,557.1 861.8,560.4 862,558.2 862.3,553.6 862.5,557.6 862.8,558.2 863,554.3 863.3,554 863.5,554 863.8,558.4 864,556.6 864.3,553.9 864.6,558.1 864.8,558.3 865.1,554.4 865.3,552.5 865.6,559.3 865.8,562.9 866.1,560.1 866.3,559 866.6,556.8 866.8,554.9 867.1,556.8 867.3,558.2 867.6,556 867.8,558.8 868.1,556.5 868.3,558 868.6,549.7 868.8,554.4 869.1,558.5 869.3,558.9 869.6,557.5 869.8,560.5 870.1,558.2 870.3,558.2 870.6,554.2 870.8,557.4 871.1,558.3 871.3,559.7 871.6,559.3 871.8,556.5 872.1,556.9 872.3,553.5 872.6,557.9 872.9,553.6 873.1,555.6 873.4,556.3 873.6,561.3 873.9,559.5 874.1,554.4 874.4,552.7 874.6,555.7 874.9,554.3 875.1,557.2 875.4,557.1 875.6,557.8 875.9,553.7 876.1,555.3 876.4,556.7 876.6,557 876.9,554.7 877.1,555.3 877.4,558.2 877.6,551.8 877.9,555.4 878.1,556 878.4,552.3 878.6,553.5 878.9,556.2 879.1,554.7 879.4,558.7 879.6,557.6 879.9,561.6 880.1,552.9 880.4,560.7 880.6,554.2 880.9,558 881.2,558.3 881.4,556.3 881.7,555.1 881.9,554.3 882.2,551.3 882.4,554.8 882.7,553.5 882.9,557.2 883.2,553.8 883.4,555.2 883.7,556.7 883.9,555.7 884.2,555.5 884.4,554.8 884.7,554.2 884.9,556.3 885.2,556.8 885.4,552.8 885.7,558.8 885.9,555.8 886.2,550 886.4,560.6 886.7,555.1 886.9,551.2 887.2,556.7 887.4,545.4 887.7,558.3 887.9,547.4 888.2,546.6 888.4,547.8 888.7,550.4 888.9,548.6 889.2,551.7 889.5,547.1 889.7,552.2 890,550.1 890.2,547.1 890.5,552.9 890.7,551.3 891,550.4 891.2,554.8 891.5,548.7 891.7,551.3 892,556.5 892.2,553.1 892.5,555.3 892.7,555.3 893,553.7 893.2,556 893.5,551.9 893.7,556.3 894,552.2 894.2,554.9 894.5,552.7 894.7,556.4 895,556.3 895.2,558 895.5,553.7 895.7,552.8 896,549.8 896.2,551.9 896.5,554.6 896.7,555.7 897,554.2 897.2,555.3 897.5,551.5 897.8,552.8 898,557.3 898.3,556.9 898.5,551.7 898.8,554.4 899,555.7 899.3,552.1 899.5,556.1 899.8,555.8 900,556.3 900.3,560 900.5,552.9 900.8,558.1 901,556.5 901.3,556.9 901.5,553.2 901.8,555.2 902,555 902.3,559.2 902.5,555.2 902.8,558.7 903,554.2 903.3,554 903.5,554.9 903.8,549.7 904,553.5 904.3,553.3 904.5,554.5 904.8,555.3 905,552.4 905.3,552 905.6,558.1 905.8,552.1 906.1,553.4 906.3,552.3 906.6,553.5 906.8,557.8 907.1,557.6 907.3,550 907.6,554 907.8,558.2 908.1,553.7 908.3,555.5 908.6,559.2 908.8,560.3 909.1,558.6 909.3,553.8 909.6,554.6 909.8,555.1 910.1,553.8 910.3,553 910.6,559.8 910.8,555.3 911.1,556.6 911.3,557.7 911.6,555.9 911.8,554.9 912.1,555.3 912.3,558.3 912.6,555.9 912.8,549.6 913.1,557.4 913.3,559.1 913.6,554.1 913.9,553.4 914.1,553.8 914.4,557.8 914.6,552.5 914.9,557 915.1,558 915.4,556.7 915.6,555.5 915.9,553.4 916.1,553.7 916.4,555.4 916.6,553 916.9,555.2 917.1,553.2 917.4,559 917.6,559.5 917.9,553.6 918.1,559.1 918.4,556.4 918.6,555.9 918.9,557 919.1,556.9 919.4,552.3 919.6,562.2 919.9,553.7 920.1,550.2 920.4,555.9 920.6,556.1 920.9,554.3 921.1,551.5 921.4,559.2 921.6,556 921.9,556.7 922.2,554.9 922.4,555.9 922.7,554.7 922.9,557.5 923.2,556.3 923.4,558.2 923.7,558.2 923.9,556.9 924.2,557 924.4,559.6 924.7,552.8 924.9,557.1 925.2,560.2 925.4,554 925.7,558.7 925.9,555.6 926.2,556.9 926.4,556.2 926.7,556.4 926.9,558.3 927.2,556.7 927.4,551.7 927.7,562.3 927.9,556.5 928.2,555.6 928.4,559.3 928.7,560 928.9,551.2 929.2,557.5 929.4,551.3 929.7,555.1 929.9,556.2 930.2,555.2 930.5,554.7 930.7,553.3 931,555.1 931.2,555.8 931.5,555.7 931.7,552.7 932,554 932.2,558.6 932.5,557.6 932.7,555.1 933,557.5 933.2,556.8 933.5,558.2 933.7,556.4 934,554.7 934.2,553.2 934.5,555.6 934.7,550.4 935,555.8 935.2,547.5 935.5,553 935.7,554.2 936,556.7 936.2,562.5 936.5,555.7 936.7,554.8 937,550.4 937.2,558.7 937.5,550.4 937.7,555.8 938,553.3 938.2,561.5 938.5,554.7 938.8,555.9 939,553.2 939.3,554.7 939.5,557.8 939.8,552.5 940,553.1 940.3,553.4 940.5,552.3 940.8,552.1 941,554.9 941.3,558.3 941.5,558.4 941.8,551.5 942,553.1 942.3,554.7 942.5,556 942.8,554.9 943,554.9 943.3,555.8 943.5,556.7 943.8,549.5 944,554.4 944.3,556.5 944.5,558.2 944.8,556.8 945,553.1 945.3,552.9 945.5,555.3 945.8,554.6 946,555.4 946.3,557.4 946.5,551.1 946.8,553.4 947.1,547.9 947.3,556 947.6,554.2 947.8,551.5 948.1,554.2 948.3,556.9 948.6,555.7 948.8,552.8 949.1,552.1 949.3,553.2 949.6,550.3 949.8,550.3 950.1,552.1 950.3,553 950.6,553.8 950.8,552 951.1,551.2 951.3,553.6 951.6,552.8 951.8,555 952.1,558 952.3,557.1 952.6,552.8 952.8,553.8 953.1,551.1 953.3,555.1 953.6,553.2 953.8,552.2 954.1,553.1 954.3,557.2 954.6,556.3 954.8,555.5 955.1,558.4 955.4,554.8 955.6,553.5 955.9,557.3 956.1,551.2 956.4,556.9 956.6,556.7 956.9,556.8 957.1,558 957.4,555.2 957.6,556.2 957.9,552.1 958.1,554.8 958.4,555 958.6,556.9 958.9,559.9 959.1,556.5 959.4,558.4 959.6,553.9 959.9,556.3 960.1,552 960.4,554.3 960.6,554 960.9,555.5 961.1,555.5 961.4,554.3 961.6,553.6 961.9,557.6 962.1,554.6 962.4,549.2 962.6,555.9 962.9,556.3 963.1,557.4 963.4,559.2 963.7,552.5 963.9,555.3 964.2,554.7 964.4,550.7 964.7,549 964.9,557.5 965.2,552.6 965.4,553.6 965.7,554.1 965.9,553.9 966.2,555.1 966.4,551 966.7,553.5 966.9,554.1 967.2,551.8 967.4,552.7 967.7,553.8 967.9,554.2 968.2,550.6 968.4,553.8 968.7,555.3 968.9,557.3 969.2,556 969.4,557.8 969.7,554.9 969.9,554.6 970.2,560.4 970.4,555.2 970.7,553.7 970.9,554.9 971.2,557.8 971.4,552.2 971.7,557.2 972,558.6 972.2,558.2 972.5,555.6 972.7,553.1 973,552.7 973.2,555.1 973.5,558.7 973.7,557.3 974,558 974.2,556.2 974.5,560.2 974.7,555.5 975,554.2 975.2,556.3 975.5,554.8 975.7,558.3 976,559.6 976.2,557.6 976.5,553.1 976.7,553.5 977,557.2 977.2,553.1 977.5,557 977.7,552.4 978,555 978.2,557.4 978.5,554.3 978.7,558.3 979,558.7 979.2,560 979.5,555.8 979.7,556.6 980,556.6 980.3,557.5 980.5,552.9 980.8,557.6 981,558.3 981.3,553.4 981.5,553 981.8,555.7 982,560.9 982.3,558 982.5,555 982.8,556.5 983,552.6 983.3,559.9 983.5,554.8 983.8,558 984,553.2 984.3,556.6 984.5,553.9 984.8,558.1 985,560 985.3,559.2 985.5,557.9 985.8,559 986,553.4 986.3,553 986.5,555.7 986.8,559 987,556.7 987.3,558.1 987.5,552.7 987.8,555.5 988,555.1 988.3,557.3 988.6,561.4 988.8,558.2 989.1,559.1 989.3,555.4 989.6,556 989.8,558.3 990.1,557.2 990.3,552.3 990.6,558.7 990.8,558.5 991.1,556.8 991.3,558 991.6,557.3 991.8,554.9 992.1,551.8 992.3,560.6 992.6,556.2 992.8,556 993.1,556.3 993.3,556.6 993.6,556.9 993.8,553.5 994.1,557.2 994.3,556.3 994.6,556 994.8,555.7 995.1,556.4 995.3,553.4 995.6,555.9 995.8,555.4 996.1,556 996.3,558.3 996.6,557.9 996.9,558.4 997.1,555.3 997.4,557.5 997.6,558.4 997.9,555.1 998.1,554.3 998.4,560.1 998.6,551.3 998.9,555.5 999.1,555.8 999.4,552.8 999.6,555.3 999.9,557 1000.1,549.9 1000.4,558.1 1000.6,555.6 1000.9,553.2 1001.1,558 1001.4,555.6 1001.6,554.3 1001.9,549.2 1002.1,557.5 1002.4,555.3 1002.6,553.5 1002.9,555 1003.1,558.2 1003.4,554.1 1003.6,554.8 1003.9,554 1004.1,552.2 1004.4,552.5 1004.6,554 1004.9,554.3 1005.2,557.8 1005.4,555.4 1005.7,554.5 1005.9,556.1 1006.2,554.8 1006.4,557.2 1006.7,551.3 1006.9,549.8 1007.2,556.2 1007.4,554.3 1007.7,555.9 1007.9,552.2 1008.2,554.3 1008.4,555.2 1008.7,556 1008.9,555.2 1009.2,558.1 1009.4,553.9 1009.7,557.4 1009.9,554.3 1010.2,555.4 1010.4,553 1010.7,555.9 1010.9,553.3 1011.2,558.2 1011.4,554.4 1011.7,556.6 1011.9,555.6 1012.2,555.9 1012.4,553.8 1012.7,561.2 1012.9,555.4 1013.2,560 1013.5,553.3 1013.7,561.3 1014,558.9 1014.2,560.6 1014.5,552.4 1014.7,559.8 1015,556.3 1015.2,558 1015.5,561.2 1015.7,557.5 1016,555.1 1016.2,557.3 1016.5,554.5 1016.7,557.8 1017,556.9 1017.2,557.9 1017.5,556.2 1017.7,552.3 1018,556.2 1018.2,556.6 1018.5,558.7 1018.7,559.1 1019,553.6 1019.2,560 1019.5,559.6 1019.7,557.6 1020,558.4 1020.2,552.5 1020.5,563.2 1020.7,556.4 1021,555.6 1021.2,560.1 1021.5,558.9 1021.8,556.2 1022,553.2 1022.3,559.6 1022.5,561.2 1022.8,554.8 1023,553.4 1023.3,558 1023.5,562.7 1023.8,553.5 1024,557.6 1024.3,554.3 1024.5,557.2 1024.8,558 1025,558.2 1025.3,553.4 1025.5,553.5 1025.8,562.4 1026,559.3 1026.3,552.5 1026.5,557.9 1026.8,560.3 1027,556.9 1027.3,557.2 1027.5,557.1 1027.8,558.1 1028,557.6 1028.3,558 1028.5,556 1028.8,558.8 1029,557.5 1029.3,557.1 1029.5,553.5 1029.8,555.8 1030.1,557 1030.3,555.4 1030.6,555.7 1030.8,553.9 1031.1,555.4 1031.3,552.1 1031.6,553.2 1031.8,556.7 1032.1,557.6 1032.3,554.3 1032.6,555.2 1032.8,556.8 1033.1,560.2 1033.3,561.1 1033.6,555.6 1033.8,554.5 1034.1,554.4 1034.3,559.6 1034.6,553.8 1034.8,557.7 1035.1,555.4 1035.3,555.3 1035.6,558.3 1035.8,557.8 1036.1,561.5 1036.3,558.6 1036.6,560.8 1036.8,555.1 1037.1,556.1 1037.3,553.9 1037.6,555.3 1037.8,557.7 1038.1,555.3 1038.4,557.1 1038.6,554.6 1038.9,555.3 1039.1,558.5 1039.4,556 1039.6,555.9 1039.9,556.8 1040.1,553.7 1040.4,551.7 1040.6,556.9 1040.9,556.8 1041.1,561.6 1041.4,556.2 1041.6,557 1041.9,561.3 1042.1,555.1 1042.4,554.3 1042.6,557.7 1042.9,556.7 1043.1,558.2 1043.4,553.8 1043.6,559.6 1043.9,556.5 1044.1,550.8 1044.4,555.6 1044.6,554.5 1044.9,556 1045.1,558.6 1045.4,555.7 1045.6,554.6 1045.9,558.2 1046.1,554.7 1046.4,552.4 1046.7,552.9 1046.9,559.5 1047.2,558 1047.4,559.6 1047.7,552.8 1047.9,554 1048.2,553.7 1048.4,557.7 1048.7,558.4 1048.9,555.3 1049.2,555.2 1049.4,557.6 1049.7,555 1049.9,553.8 1050.2,554.8 1050.4,558 1050.7,560.7 1050.9,556 1051.2,554.9 1051.4,556 1051.7,556.4 1051.9,557 1052.2,553.5 1052.4,555.4 1052.7,554.9 1052.9,557.7 1053.2,556.8 1053.4,554.8 1053.7,557.7 1053.9,558.3 1054.2,556 1054.4,552.1 1054.7,554.6 1055,551.4 1055.2,555.4 1055.5,555.9 1055.7,558.6 1056,556.5 1056.2,551.4 1056.5,554.2 1056.7,553.1 1057,553.2 1057.2,555 1057.5,555.4 1057.7,554.6 1058,553.2 1058.2,553.7 1058.5,553.6 1058.7,554.4 1059,556.7 1059.2,555.4 1059.5,557.1 1059.7,552.1 1060,560 1060.2,555.2 1060.5,548.5 1060.7,555.4 1061,557.4 1061.2,554.5 1061.5,551.2 1061.7,554.8 1062,552.8 1062.2,554.1 1062.5,555.3 1062.7,546.3 1063,554.1 1063.3,555.6 1063.5,555.4 1063.8,553.2 1064,553.1 1064.3,552.1 1064.5,553.7 1064.8,557.7 1065,552.7 1065.3,554.8 1065.5,554.7 1065.8,557.7 1066,555.3 1066.3,555.7 1066.5,553.9 1066.8,557.5 1067,553.6 1067.3,553.4 1067.5,556.6 1067.8,555.3 1068,555.8 1068.3,551.3 1068.5,560 1068.8,554.4 1069,557.8 1069.3,554.6 1069.5,551.3 1069.8,555 1070,553.1 1070.3,555.6 1070.5,548.4 1070.8,551 1071,550.5 1071.3,556.8 1071.6,556.2 1071.8,550.6 1072.1,553.9 1072.3,554.1 1072.6,552.6 1072.8,556.6 1073.1,551.5 1073.3,553.4 1073.6,552.3 1073.8,555.2 1074.1,552.2 1074.3,555.4 1074.6,551.2 1074.8,550.7 1075.1,551.3 1075.3,552.4 1075.6,552.1 1075.8,560.6 1076.1,551.6 1076.3,554.5 1076.6,553.6 1076.8,554.5 1077.1,557.4 1077.3,555.2 1077.6,552.2 1077.8,550.3 1078.1,555.5 1078.3,556.3 1078.6,550.3 1078.8,556.3 1079.1,548.8 1079.3,553.9 1079.6,556.3 1079.9,551.6 1080.1,549.8 1080.4,557.8 1080.6,550.2 1080.9,554.9 1081.1,550.5 1081.4,555.2 1081.6,558.3 1081.9,553 1082.1,552 1082.4,549 1082.6,550 1082.9,552.6 1083.1,555 1083.4,555.8 1083.6,555.2 1083.9,556.6 1084.1,555.2 1084.4,561 1084.6,554.1 1084.9,554.7 1085.1,548.2 1085.4,552.8 1085.6,556 1085.9,553.3 1086.1,557.9 1086.4,556.4 1086.6,559.6 1086.9,551.3 1087.1,553.5 1087.4,558 1087.6,555.2 1087.9,552.7 1088.2,553.9 1088.4,554.2 1088.7,557.4 1088.9,556.8 1089.2,555 1089.4,553 1089.7,557.4 1089.9,558.2 1090.2,552.5 1090.4,557.8 1090.7,552.8 1090.9,554.9 1091.2,553.4 1091.4,551.2 1091.7,553.9 1091.9,553.8 1092.2,558.1 1092.4,557.5 1092.7,554.2 1092.9,552 1093.2,552.4 1093.4,550.1 1093.7,555.2 1093.9,555.5 1094.2,553.5 1094.4,556.1 1094.7,556.3 1094.9,558.8 1095.2,553.7 1095.4,558.9 1095.7,555 1095.9,559.9 1096.2,553.6 1096.5,559 1096.7,554.3 1097,560.5 1097.2,557.6 1097.5,553.6 1097.7,558.6 1098,556.4 1098.2,557.8 1098.5,562.4 1098.7,555.8 1099,555.5 1099.2,559.4 1099.5,555.2 1099.7,558.6 1100,559.1 1100.2,556.6 1100.5,558.3 1100.7,550.8 1101,560.4 1101.2,554.7 1101.5,554 1101.7,561.4 1102,560.8 1102.2,555.1 1102.5,557.7 1102.7,555.5 1103,553.6 1103.2,557.3 1103.5,559.1 1103.7,563.2 1104,555.8 1104.2,558.7 1104.5,555.5 1104.8,555.7 1105,559.8 1105.3,552 1105.5,553.6 1105.8,554.1 1106,559.2 1106.3,557.2 1106.5,557.6 1106.8,557.2 1107,559 1107.3,555.1 1107.5,555.6 1107.8,555.2 1108,557.4 1108.3,552.9 1108.5,555.6 1108.8,563 1109,557.7 1109.3,556.2 1109.5,553.6 1109.8,556.8 1110,556.6 1110.3,557.7 1110.5,554.3 1110.8,557.1 1111,557.5 1111.3,557.8 1111.5,554.5 1111.8,557.3 1112,560.1 1112.3,554.3 1112.5,557.6 1112.8,555 1113.1,554.9 1113.3,552.9 1113.6,553.3 1113.8,557.3 1114.1,556.3 1114.3,559.2 1114.6,551.7 1114.8,554.8 1115.1,552.5 1115.3,556.8 1115.6,561.2 1115.8,552.2 1116.1,555.9 1116.3,555.8 1116.6,556 1116.8,554.6 1117.1,554.9 1117.3,560.2 1117.6,553.5 1117.8,557.6 1118.1,557.5 1118.3,552 1118.6,554.1 1118.8,557.3 1119.1,561.1 1119.3,556.1 1119.6,555.2 1119.8,556.7 1120.1,559.7 1120.3,558.6 1120.6,559.8 1120.9,556.1 1121.1,554.6 1121.4,554.1 1121.6,558.6 1121.9,556.2 1122.1,555.4 1122.4,558.1 1122.6,557.2 1122.9,551.6 1123.1,556.4 1123.4,554.7 1123.6,558.1 1123.9,556.9 1124.1,561.3 1124.4,557.1 1124.6,554.1 1124.9,551.8 1125.1,554.1 1125.4,555.4 1125.6,556.9 1125.9,558.6 1126.1,557.5 1126.4,555.5 1126.6,559 1126.9,554.6 1127.1,559.4 1127.4,561.4 1127.6,559.4 1127.9,561 1128.1,560.2 1128.4,553.9 1128.6,557.2 1128.9,556.1 1129.2,553.7 1129.4,553.4 1129.7,557.8 1129.9,553.2 1130.2,555.5 1130.4,556.4 1130.7,555.3 1130.9,559.9 1131.2,558.3 1131.4,556.5 1131.7,554.7 1131.9,557.1 1132.2,556.5 1132.4,553.7 1132.7,552.5 1132.9,554.1 1133.2,552.8 1133.4,557 1133.7,556.7 1133.9,555.1 1134.2,556.6 1134.4,557.1 1134.7,551.6 1134.9,556.2 1135.2,558.1 1135.4,554.4 1135.7,551 1135.9,555.4 1136.2,552.4 1136.4,556.6 1136.7,556.7 1136.9,557.2 1137.2,555.8 1137.5,550.7 1137.7,558.3 1138,551.2 1138.2,557.8 1138.5,555.8 1138.7,553.1 1139,553.6 1139.2,554.4 1139.5,559.3 1139.7,554.2 1140,557.6 1140.2,548.5 1140.5,555.5 1140.7,554.5 1141,557.8 1141.2,556.1 1141.5,558.1 1141.7,552.3 1142,555.4 1142.2,553.3 1142.5,556.4 1142.7,555.9 1143,551.4 1143.2,557.1 1143.5,559.2 1143.7,553.5 1144,557.4 1144.2,555.6 1144.5,552.1 1144.7,556.5 1145,552.2 1145.2,556.1 1145.5,550.6 1145.8,551 1146,555.5 1146.3,554.9 1146.5,556.5 1146.8,553.9 1147,551.5 1147.3,558.1 1147.5,552.2 1147.8,557.9 1148,556.8 1148.3,559.2 1148.5,549.4 1148.8,554.7 1149,554.3 1149.3,556.7 1149.5,552.4 1149.8,560.5 1150,555.1 1150.3,549.7 1150.5,556.3 1150.8,555.4 1151,553.8 1151.3,557.7 1151.5,555.7 1151.8,553.4 1152,555.4 1152.3,555 1152.5,556.9 1152.8,555.3 1153,556.1 1153.3,552.6 1153.5,554.5 1153.8,557.1 1154.1,562.7 1154.3,554.8 1154.6,554.8 1154.8,559 1155.1,561.8 1155.3,559.7 1155.6,554.6 1155.8,559.6 1156.1,558.2 1156.3,556.5 1156.6,554 1156.8,557.1 1157.1,557.3 1157.3,558.4 1157.6,553 1157.8,554.4 1158.1,557.2 1158.3,560.5 1158.6,558.9 1158.8,555.5 1159.1,558.7 1159.3,554.6 1159.6,555.9 1159.8,556.1 1160.1,555.2 1160.3,555.5 1160.6,558.9 1160.8,557.5 1161.1,550.8 1161.3,559.7 1161.6,557.8 1161.8,553.9 1162.1,557 1162.4,558.6 1162.6,559.8 1162.9,555.1 1163.1,553.9 1163.4,552.9 1163.6,556.2 1163.9,553.7 1164.1,558.9 1164.4,555.9 1164.6,558 1164.9,555.8 1165.1,554.3 1165.4,553.5 1165.6,558.6 1165.9,552.9 1166.1,557.3 1166.4,558.6 1166.6,556.5 1166.9,559.7 1167.1,556 1167.4,555.3 1167.6,556.5 1167.9,554.7 1168.1,556.8 1168.4,556 1168.6,559.7 1168.9,556 1169.1,558.3 1169.4,557.3 1169.6,556.4 1169.9,555.8 1170.1,560.4 1170.4,560.3 1170.7,557.2 1170.9,555.3 1171.2,555.6 1171.4,554.3 1171.7,553.4 1171.9,555.4 1172.2,556.8 1172.4,559.4 1172.7,559.2 1172.9,558.1 1173.2,556.3 1173.4,556.5 1173.7,557.1 1173.9,557.5 1174.2,555.6 1174.4,556.7 1174.7,556.6 1174.9,556.6 1175.2,558.8 1175.4,560 1175.7,556.3 1175.9,556.5 1176.2,558.2 1176.4,558.7 1176.7,552.1 1176.9,559.7 1177.2,558.4 1177.4,557.3 1177.7,560.8 1177.9,557.7 1178.2,553.6 1178.4,555.8 1178.7,556.6 1179,556.8 1179.2,558 1179.5,556 1179.7,558.8 1180,559.4 1180.2,558.2 1180.5,556.2 1180.7,557.7 1181,556.9 1181.2,563.5 1181.5,555.6 1181.7,552.8 1182,555.3 1182.2,559.4 1182.5,560.7 1182.7,558 1183,561.1 1183.2,556.9 1183.5,560 1183.7,556.3 1184,555.4 1184.2,563.8 1184.5,558 1184.7,560.5 1185,562.3 1185.2,560.3 1185.5,559.4 1185.7,556.3 1186,562.6 1186.2,556.3 1186.5,553.9 1186.7,557.4 1187,557.6 1187.3,559 1187.5,561.8 1187.8,557.6 1188,558 1188.3,557.2 1188.5,552.7 1188.8,557.2 1189,558 1189.3,555.2 1189.5,562.4 1189.8,561.9 1190,560 1190.3,560.7 1190.5,557.4 1190.8,559.9 1191,554.9 1191.3,555.4 1191.5,557.3 1191.8,560.1 1192,557.7 1192.3,557.2 1192.5,561.9 1192.8,558.4 1193,557.5 1193.3,558.7 1193.5,555.4 1193.8,556.3 1194,561.3 1194.3,559 1194.5,561.4 1194.8,557.9 1195,561.5 1195.3,557.1 1195.6,558.5 1195.8,557 1196.1,559.8 1196.3,563 1196.6,555.1 1196.8,559.9 1197.1,556.1 1197.3,558.5 1197.6,557.9 1197.8,555.1 1198.1,558.7 1198.3,556.1 1198.6,563.2 1198.8,557.5 1199.1,560.2 1199.3,560 1199.6,559.6 1199.8,558.8 1200.1,555.6 1200.3,564.2 1200.6,559.6 1200.8,561.5 1201.1,556.9 1201.3,560.8 1201.6,558.6 1201.8,560.8 1202.1,558.2 1202.3,557.3 1202.6,560.8 1202.8,559.7 1203.1,563.3 1203.3,559.1 1203.6,557.8 1203.9,561.3 1204.1,557.2 1204.4,565 1204.6,564.5 1204.9,563.4 1205.1,561.2 1205.4,559.9 1205.6,560.2 1205.9,560.2 1206.1,558.3 1206.4,561.2 1206.6,563.2 1206.9,563.1 1207.1,554.9 1207.4,565.8 1207.6,560.5 1207.9,556.6 1208.1,558.9 1208.4,562.2 1208.6,560.1 1208.9,558 1209.1,557.2 1209.4,562.3 1209.6,558.3 1209.9,559.5 1210.1,557.4 1210.4,556.7 1210.6,560.9 1210.9,563.6 1211.1,559.1 1211.4,555.7 1211.6,558.3 1211.9,559.4 1212.2,554.1 1212.4,562.5 1212.7,557.7 1212.9,561.3 1213.2,559.8 1213.4,559.7 1213.7,556.1 1213.9,562.1 1214.2,561.1 1214.4,563.7 1214.7,558.6 1214.9,560.9 1215.2,558.7 1215.4,562.4 1215.7,560.6 1215.9,557.1 1216.2,560.1 1216.4,558.1 1216.7,558.3 1216.9,560.5 1217.2,563.4 1217.4,557.2 1217.7,559.1 1217.9,557.1 1218.2,564.5 1218.4,563.6 1218.7,564.7 1218.9,561.6 1219.2,556.9 1219.4,558 1219.7,559.5 1219.9,559.1 1220.2,557.5 1220.5,560.1 1220.7,558.4 1221,559 1221.2,564.7 1221.5,560.2 1221.7,555.9 1222,560.2 1222.2,559.6 1222.5,560.7 1222.7,560.4 1223,556.4 1223.2,559.8 1223.5,561.7 1223.7,566.8 1224,560.5 1224.2,563.9 1224.5,563.6 1224.7,557.1 1225,557.3 1225.2,563.7 1225.5,556.9 1225.7,557.8 1226,560.9 1226.2,557.1 1226.5,562.9 1226.7,561.9 1227,562.5 1227.2,561.6 1227.5,556.7 1227.7,562.2 1228,561.7 1228.2,561.3 1228.5,558.4 1228.8,559.8 1229,556.8 1229.3,560.7 1229.5,562.2 1229.8,560.3 1230,559 1230.3,561.4 1230.5,558.4 1230.8,554.7 1231,560.6 1231.3,559.1 1231.5,555.9 1231.8,560.8 1232,561.3 1232.3,562 1232.5,558.3 1232.8,558.1 1233,559.7 1233.3,559.3 1233.5,556.3 1233.8,557.3 1234,562.9 1234.3,559.5 1234.5,559.3 1234.8,557.8 1235,560.1 1235.3,561.2 1235.5,560.8 1235.8,564 1236,559.7 1236.3,561.2 1236.5,558.6 1236.8,562.3 1237.1,560.8 1237.3,562.2 1237.6,562.4 1237.8,558.1 1238.1,561 1238.3,558.7 1238.6,562.6 1238.8,559.6 1239.1,564 1239.3,561 1239.6,561 1239.8,558.4 1240.1,559.3 1240.3,560.2 1240.6,557.7 1240.8,559.3 1241.1,558.4 1241.3,557.8 1241.6,559.9 1241.8,560.4 1242.1,558.9 1242.3,560.7 1242.6,558.7 1242.8,556.9 1243.1,557.5 1243.3,560.5 1243.6,562.7 1243.8,559.7 1244.1,559.9 1244.3,556.8 1244.6,560.5 1244.8,560 1245.1,557.7 1245.4,560.6 1245.6,559.8 1245.9,555.2 1246.1,555.8 1246.4,557.9 1246.6,558.7 1246.9,561.8 1247.1,558 1247.4,559.2 1247.6,558.8 1247.9,560.6 1248.1,559.3 1248.4,559.7 1248.6,558.5 1248.9,555.7 1249.1,558.3 1249.4,563.3 1249.6,561.6 1249.9,563.1 1250.1,561.1 1250.4,557.8 1250.6,558.2 1250.9,560.6 1251.1,558.4 1251.4,560.9 1251.6,562.6 1251.9,562.5 1252.1,561.2 1252.4,555.5 1252.6,562.3 1252.9,555.9 1253.1,555.7 1253.4,559.4 1253.7,559 1253.9,560.4 1254.2,558.9 1254.4,557.2 1254.7,558.8 1254.9,556.3 1255.2,555.9 1255.4,557.9 1255.7,557.9 1255.9,558.9 1256.2,557.8 1256.4,561.4 1256.7,557.6 1256.9,558.1 1257.2,560.7 1257.4,553.2 1257.7,560.9 1257.9,560.6 1258.2,557.8 1258.4,563.2 1258.7,560.4 1258.9,562.2 1259.2,560.7 1259.4,558.7 1259.7,557.5 1259.9,555.5 1260.2,556.3 1260.4,555.3 1260.7,556.7 1260.9,559.3 1261.2,555.4 1261.4,559.3 1261.7,559.6 1262,554.3 1262.2,556.1 1262.5,557.5 1262.7,556.1 1263,555.8 1263.2,561.3 1263.5,558.1 1263.7,560.8 1264,557.5 1264.2,559.5 1264.5,554.4 1264.7,556.5 1265,559.8 1265.2,557.8 1265.5,560.7 1265.7,557.6 1266,556.3 1266.2,557 1266.5,562.4 1266.7,558.4 1267,556.3 1267.2,556.7 1267.5,554.6 1267.7,560.7 1268,556.1 1268.2,559 1268.5,556.9 1268.7,556.3 1269,555.6 1269.2,558.7 1269.5,556.8 1269.7,560.2 1270,560.7 1270.3,555.8 1270.5,557.3 1270.8,561.2 1271,559.3 1271.3,557.1 1271.5,553.3 1271.8,554.5 1272,555.2 1272.3,561.6 1272.5,557.5 1272.8,556.1 1273,556.3 1273.3,556.3 1273.5,558 1273.8,553.1 1274,553.8 1274.3,557.8 1274.5,560.1 1274.8,552.6 1275,559.1 1275.3,554.8 1275.5,553.1 1275.8,560.3 1276,557.3 1276.3,558.9 1276.5,556.8 1276.8,557.4 1277,553.4 1277.3,556.8 1277.5,558.4 1277.8,555.6 1278,559.2 1278.3,559.5 1278.6,553.1 1278.8,560.7 1279.1,560 1279.3,558.7 1279.6,561.5 1279.8,564.1 1280.1,556.4 1280.3,561 1280.6,560.5 1280.8,560.1 1281.1,561.7 1281.3,562 1281.6,559 1281.8,553.5 1282.1,557.7 1282.3,557.7 1282.6,563.3 1282.8,559.7 1283.1,562.7 1283.3,557.9 1283.6,560.4 1283.8,559.8 1284.1,560.2 1284.3,561.5 1284.6,563.8 1284.8,558.7 1285.1,563.6 1285.3,563.1 1285.6,561 1285.8,562 1286.1,559.7 1286.3,557.9 1286.6,559.7 1286.9,559.9 1287.1,560.3 1287.4,558.3 1287.6,564.9 1287.9,559.5 1288.1,562.6 1288.4,563.4 1288.6,560.4 1288.9,561.3 1289.1,558.9 1289.4,557.7 1289.6,566 1289.9,560.5 1290.1,555.5 1290.4,558.2 1290.6,556.8 1290.9,560.1 1291.1,563.8 1291.4,563.1 1291.6,558.6 1291.9,558 1292.1,562.1 1292.4,560.9 1292.6,559.6 1292.9,564.6 1293.1,561.1 1293.4,556.3 1293.6,554.9 1293.9,560.5 1294.1,555.8 1294.4,561.5 1294.6,562.2 1294.9,565.7 1295.2,557.9 1295.4,561.2 1295.7,554.5 1295.9,559.4 1296.2,559.8 1296.4,564.6 1296.7,556.5 1296.9,561.1 1297.2,560.6 1297.4,565.6 1297.7,557.9 1297.9,557.8 1298.2,561.7 1298.4,560 1298.7,559.2 1298.9,557.8 1299.2,559.9 1299.4,555.9 1299.7,560.7 1299.9,561.6 1300.2,561.3 1300.4,566.3 1300.7,562.1 1300.9,557.7 1301.2,559.5 1301.4,562.1 1301.7,559.3 1301.9,565 1302.2,560.8 1302.4,558.8 1302.7,558.4 1302.9,562 1303.2,557.8 1303.5,555.5 1303.7,561.1 1304,558.3 1304.2,563.9 1304.5,564.9 1304.7,558.6 1305,559.9 1305.2,559.6 1305.5,561.5 1305.7,560.8 1306,558 1306.2,555.8 1306.5,560.5 1306.7,564.1 1307,556.9 1307.2,558.5 1307.5,558.3 1307.7,559.5 1308,554.3 1308.2,559.8 1308.5,558.7 1308.7,564.5 1309,561.4 1309.2,561.7 1309.5,560 1309.7,559.1 1310,561.8 1310.2,555.7 1310.5,562.6 1310.7,561.1 1311,559.4 1311.2,563 1311.5,558.6 1311.8,558.4 1312,560.7 1312.3,555.3 1312.5,559.8 1312.8,559.4 1313,562.4 1313.3,564.2 1313.5,561.7 1313.8,560.9 1314,561.3 1314.3,558.3 1314.5,566 1314.8,563 1315,564.7 1315.3,557 1315.5,561.7 1315.8,561.6 1316,563 1316.3,558.2 1316.5,561.4 1316.8,559.9 1317,565.4 1317.3,557.6 1317.5,559.5 1317.8,559.1 1318,557.5 1318.3,561 1318.5,560.9 1318.8,558.8 1319,559.5 1319.3,561.2 1319.5,560.5 1319.8,561.9 1320.1,558.9 1320.3,558.4 1320.6,560.7 1320.8,556.1 1321.1,564.5 1321.3,561.3 1321.6,556.6 1321.8,561.8 1322.1,564.7 1322.3,557.4 1322.6,559.5 1322.8,563.8 1323.1,559 1323.3,563.4 1323.6,564.2 1323.8,561.3 1324.1,562.2 1324.3,563.7 1324.6,561.9 1324.8,563.5 1325.1,560.9 1325.3,561.2 1325.6,559.3 1325.8,562.2 1326.1,564.4" fill="none" stroke="none" marker-start="url(#xm)" marker-mid="url(#xm)" marker-end="url(#xm)"/>
<polyline points="159,403.6 159.2,403.8 159.3,404 159.5,404.2 159.6,404.4 159.8,404.6 159.9,404.8 160.1,405 160.2,405.2 160.4,405.5 160.5,405.7 160.7,405.9 160.8,406.1 161,406.3 161.2,406.6 161.3,406.8 161.5,407 161.6,407.3 161.8,407.5 161.9,407.7 162.1,408 162.2,408.2 162.4,408.5 162.5,408.7 162.7,408.9 162.8,409.2 163,409.4 163.1,409.7 163.3,409.9 163.4,410.1 163.6,410.4 163.7,410.6 163.9,410.9 164,411.1 164.2,411.3 164.3,411.6 164.5,411.8 164.6,412.1 164.8,412.3 164.9,412.5 165.1,412.8 165.2,413 165.4,413.3 165.5,413.5 165.7,413.7 165.8,414 166,414.2 166.1,414.4 166.3,414.7 166.4,414.9 166.6,415.1 166.7,415.3 166.9,415.6 167,415.8 167.2,416 167.3,416.2 167.5,416.5 167.6,416.7 167.8,416.9 167.9,417.1 168.1,417.3 168.2,417.5 168.4,417.7 168.5,418 168.7,418.2 168.8,418.4 169,418.6 169.1,418.8 169.3,419 169.4,419.2 169.6,419.4 169.7,419.6 169.9,419.8 170,420 170.2,420.2 170.3,420.5 170.5,420.7 170.6,420.9 170.8,421.1 170.9,421.3 171.1,421.5 171.2,421.7 171.4,421.9 171.5,422.1 171.7,422.3 171.8,422.5 172,422.7 172.1,422.9 172.3,423.2 172.4,423.4 172.6,423.6 172.7,423.8 172.9,424 173,424.2 173.2,424.4 173.4,424.7 173.5,424.9 173.7,425.1 173.8,425.3 174,425.5 174.1,425.8 174.3,426 174.4,426.2 174.6,426.4 174.7,426.6 174.9,426.9 175,427.1 175.2,427.3 175.3,427.5 175.5,427.8 175.6,428 175.8,428.2 175.9,428.4 176.1,428.6 176.2,428.8 176.4,429.1 176.5,429.3 176.7,429.5 176.8,429.7 177,429.9 177.1,430.1 177.3,430.3 177.4,430.5 177.6,430.7 177.7,430.9 177.9,431 178,431.2 178.2,431.4 178.3,431.5 178.5,431.7 178.6,431.8 178.8,431.9 178.9,432 179.1,432.1 179.2,432.2 179.4,432.1 179.5,432.1 179.7,431.8 179.8,431.4 180,430.8 180.1,429.7 180.3,428.1 180.4,425.9 180.6,422.7 180.7,418.6 180.9,413.3 181,407.1 181.2,399.9 181.3,392.1 181.5,384.3 181.6,377 181.8,371.1 181.9,367.1 182.1,365.8 182.2,367.4 182.4,371.6 182.5,377.9 182.7,385.4 182.8,393.5 183,401.6 183.1,409 183.3,415.6 183.4,421.1 183.6,425.5 183.7,428.9 183.9,431.5 184,433.4 184.2,434.7 184.3,435.7 184.5,436.3 184.6,436.8 184.8,437.2 184.9,437.5 185.1,437.8 185.2,437.9 185.4,438.1 185.5,438.2 185.7,438.2 185.9,438.2 186,438 186.2,437.6 186.3,437 186.5,436 186.6,434.7 186.8,432.9 186.9,430.6 187.1,427.9 187.2,424.7 187.4,421.3 187.5,417.9 187.7,414.8 187.8,412.2 188,410.6 188.1,410.1 188.3,410.9 188.4,412.9 188.6,415.7 188.7,419.2 188.9,423 189,426.7 189.2,430.1 189.3,433.2 189.5,435.8 189.6,437.9 189.8,439.6 189.9,440.9 190.1,441.9 190.2,442.6 190.4,443.1 190.5,443.6 190.7,443.9 190.8,444.2 191,444.4 191.1,444.6 191.3,444.8 191.4,445 191.6,445.2 191.7,445.4 191.9,445.6 192,445.7 192.2,445.9 192.3,446.1 192.5,446.2 192.6,446.4 192.8,446.6 192.9,446.7 193.1,446.9 193.2,447 193.4,447.2 193.5,447.3 193.7,447.4 193.8,447.6 194,447.7 194.1,447.8 194.3,448 194.4,448.1 194.6,448.2 194.7,448.3 194.9,448.5 195,448.6 195.2,448.7 195.3,448.8 195.5,448.9 195.6,449 195.8,449.2 195.9,449.3 196.1,449.4 196.2,449.5 196.4,449.6 196.5,449.7 196.7,449.8 196.8,449.9 197,450 197.1,450.2 197.3,450.3 197.4,450.4 197.6,450.5 197.7,450.6 197.9,450.7 198.1,450.8 198.2,450.9 198.4,451 198.5,451.1 198.7,451.2 198.8,451.4 199,451.5 199.1,451.6 199.3,451.7 199.4,451.8 199.6,451.9 199.7,452 199.9,452.1 200,452.2 200.2,452.3 200.3,452.4 200.5,452.5 200.6,452.6 200.8,452.7 200.9,452.8 201.1,452.9 201.2,453 201.4,453.1 201.5,453.2 201.7,453.2 201.8,453.3 202,453.4 202.1,453.5 202.3,453.6 202.4,453.7 202.6,453.7 202.7,453.8 202.9,453.9 203,454 203.2,454 203.3,454.1 203.5,454.2 203.6,454.3 203.8,454.4 203.9,454.4 204.1,454.5 204.2,454.6 204.4,454.7 204.5,454.7 204.7,454.8 204.8,454.9 205,455 205.1,455 205.3,455.1 205.4,455.2 205.6,455.3 205.7,455.3 205.9,455.4 206,455.5 206.2,455.6 206.3,455.6 206.5,455.7 206.6,455.8 206.8,455.9 206.9,455.9 207.1,456 207.2,456.1 207.4,456.2 207.5,456.2 207.7,456.3 207.8,456.4 208,456.5 208.1,456.5 208.3,456.6 208.4,456.7 208.6,456.8 208.7,456.8 208.9,456.9 209,457 209.2,457.1 209.3,457.1 209.5,457.2 209.6,457.3 209.8,457.4 209.9,457.4 210.1,457.5 210.2,457.6 210.4,457.7 210.6,457.7 210.7,457.8 210.9,457.9 211,457.9 211.2,458 211.3,458.1 211.5,458.2 211.6,458.2 211.8,458.3 211.9,458.4 212.1,458.4 212.2,458.5 212.4,458.6 212.5,458.6 212.7,458.7 212.8,458.7 213,458.8 213.1,458.9 213.3,458.9 213.4,459 213.6,459 213.7,459.1 213.9,459.1 214,459.2 214.2,459.2 214.3,459.3 214.5,459.3 214.6,459.4 214.8,459.4 214.9,459.4 215.1,459.5 215.2,459.5 215.4,459.6 215.5,459.6 215.7,459.7 215.8,459.7 216,459.8 216.1,459.8 216.3,459.8 216.4,459.9 216.6,459.9 216.7,460 216.9,460 217,460.1 217.2,460.1 217.3,460.2 217.5,460.2 217.6,460.2 217.8,460.3 217.9,460.3 218.1,460.4 218.2,460.4 218.4,460.5 218.5,460.5 218.7,460.5 218.8,460.6 219,460.6 219.1,460.7 219.3,460.7 219.4,460.8 219.6,460.8 219.7,460.9 219.9,460.9 220,460.9 220.2,461 220.3,461 220.5,461.1 220.6,461.1 220.8,461.2 220.9,461.2 221.1,461.2 221.2,461.3 221.4,461.3 221.5,461.4 221.7,461.4 221.8,461.5 222,461.5 222.1,461.5 222.3,461.6 222.4,461.6 222.6,461.7 222.8,461.7 222.9,461.8 223.1,461.8 223.2,461.8 223.4,461.9 223.5,461.9 223.7,462 223.8,462 224,462 224.1,462.1 224.3,462.1 224.4,462.2 224.6,462.2 224.7,462.2 224.9,462.3 225,462.3 225.2,462.3 225.3,462.4 225.5,462.4 225.6,462.5 225.8,462.5 225.9,462.5 226.1,462.6 226.2,462.6 226.4,462.6 226.5,462.7 226.7,462.7 226.8,462.7 227,462.8 227.1,462.8 227.3,462.9 227.4,462.9 227.6,462.9 227.7,463 227.9,463 228,463 228.2,463.1 228.3,463.1 228.5,463.1 228.6,463.2 228.8,463.2 228.9,463.2 229.1,463.3 229.2,463.3 229.4,463.3 229.5,463.4 229.7,463.4 229.8,463.4 230,463.4 230.1,463.5 230.3,463.5 230.4,463.5 230.6,463.6 230.7,463.6 230.9,463.6 231,463.7 231.2,463.7 231.3,463.7 231.5,463.7 231.6,463.8 231.8,463.8 231.9,463.8 232.1,463.8 232.2,463.9 232.4,463.9 232.5,463.9 232.7,463.9 232.8,463.9 233,464 233.1,464 233.3,464 233.4,464 233.6,464 233.7,464.1 233.9,464.1 234,464.1 234.2,464.1 234.3,464.1 234.5,464.1 234.6,464.1 234.8,464.1 234.9,464.1 235.1,464.1 235.3,464.1 235.4,464.1 235.6,464.1 235.7,464.1 235.9,464.1 236,464.1 236.2,464 236.3,464 236.5,464 236.6,463.9 236.8,463.9 236.9,463.9 237.1,463.8 237.2,463.7 237.4,463.7 237.5,463.6 237.7,463.5 237.8,463.5 238,463.4 238.1,463.3 238.3,463.2 238.4,463 238.6,462.9 238.7,462.8 238.9,462.6 239,462.5 239.2,462.3 239.3,462.1 239.5,461.8 239.6,461.6 239.8,461.3 239.9,461 240.1,460.6 240.2,460.2 240.4,459.7 240.5,459.1 240.7,458.4 240.8,457.4 241,456.2 241.1,454.5 241.3,452.1 241.4,448.9 241.6,444.4 241.7,438.2 241.9,429.9 242,419 242.2,404.8 242.3,387 242.5,365.2 242.6,339.3 242.8,309.5 242.9,276.4 243.1,241 243.2,204.6 243.4,169.3 243.5,137.2 243.7,110.7 243.8,92.2 244,83.5 244.1,85.7 244.3,98.5 244.4,120.6 244.6,149.6 244.7,183.4 244.9,219.4 245,255.6 245.2,290.3 245.3,322.3 245.5,350.6 245.6,374.9 245.8,395.1 245.9,411.5 246.1,424.3 246.2,434.2 246.4,441.6 246.5,447 246.7,451 246.8,453.9 247,456 247.1,457.6 247.3,458.8 247.5,459.6 247.6,460.4 247.8,461 247.9,461.5 248.1,461.9 248.2,462.3 248.4,462.6 248.5,462.9 248.7,463.2 248.8,463.5 249,463.7 249.1,463.9 249.3,464.1 249.4,464.3 249.6,464.5 249.7,464.7 249.9,464.8 250,465 250.2,465.1 250.3,465.2 250.5,465.4 250.6,465.5 250.8,465.6 250.9,465.7 251.1,465.8 251.2,465.9 251.4,466 251.5,466.1 251.7,466.1 251.8,466.2 252,466.3 252.1,466.4 252.3,466.4 252.4,466.5 252.6,466.6 252.7,466.6 252.9,466.7 253,466.7 253.2,466.8 253.3,466.9 253.5,466.9 253.6,467 253.8,467 253.9,467.1 254.1,467.1 254.2,467.1 254.4,467.2 254.5,467.2 254.7,467.3 254.8,467.3 255,467.4 255.1,467.4 255.3,467.4 255.4,467.5 255.6,467.5 255.7,467.5 255.9,467.6 256,467.6 256.2,467.6 256.3,467.7 256.5,467.7 256.6,467.7 256.8,467.8 256.9,467.8 257.1,467.8 257.2,467.9 257.4,467.9 257.5,467.9 257.7,468 257.8,468 258,468 258.1,468 258.3,468.1 258.4,468.1 258.6,468.1 258.7,468.1 258.9,468.2 259,468.2 259.2,468.2 259.3,468.2 259.5,468.3 259.6,468.3 259.8,468.3 260,468.3 260.1,468.4 260.3,468.4 260.4,468.4 260.6,468.4 260.7,468.4 260.9,468.5 261,468.5 261.2,468.5 261.3,468.5 261.5,468.5 261.6,468.6 261.8,468.6 261.9,468.6 262.1,468.6 262.2,468.6 262.4,468.6 262.5,468.7 262.7,468.7 262.8,468.7 263,468.7 263.1,468.7 263.3,468.7 263.4,468.7 263.6,468.7 263.7,468.7 263.9,468.8 264,468.8 264.2,468.8 264.3,468.8 264.5,468.8 264.6,468.8 264.8,468.8 264.9,468.8 265.1,468.8 265.2,468.7 265.4,468.7 265.5,468.7 265.7,468.6 265.8,468.5 266,468.4 266.1,468.2 266.3,467.9 266.4,467.5 266.6,466.9 266.7,466 266.9,464.9 267,463.4 267.2,461.6 267.3,459.4 267.5,456.8 267.6,453.9 267.8,450.8 267.9,447.6 268.1,444.5 268.2,441.7 268.4,439.5 268.5,438.1 268.7,437.7 268.8,438.2 269,439.8 269.1,442.1 269.3,445 269.4,448.2 269.6,451.6 269.7,454.8 269.9,457.8 270,460.5 270.2,462.9 270.3,464.8 270.5,466.4 270.6,467.6 270.8,468.6 270.9,469.3 271.1,469.9 271.2,470.3 271.4,470.6 271.5,470.8 271.7,471 271.8,471.2 272,471.3 272.2,471.5 272.3,471.6 272.5,471.7 272.6,471.8 272.8,471.9 272.9,471.9 273.1,472 273.2,472.1 273.4,472.2 273.5,472.3 273.7,472.4 273.8,472.4 274,472.5 274.1,472.6 274.3,472.7 274.4,472.7 274.6,472.8 274.7,472.9 274.9,473 275,473 275.2,473.1 275.3,473.2 275.5,473.2 275.6,473.3 275.8,473.4 275.9,473.4 276.1,473.5 276.2,473.6 276.4,473.6 276.5,473.7 276.7,473.8 276.8,473.8 277,473.9 277.1,474 277.3,474 277.4,474.1 277.6,474.2 277.7,474.2 277.9,474.3 278,474.4 278.2,474.4 278.3,474.5 278.5,474.5 278.6,474.6 278.8,474.7 278.9,474.7 279.1,474.8 279.2,474.8 279.4,474.9 279.5,475 279.7,475 279.8,475.1 280,475.1 280.1,475.2 280.3,475.3 280.4,475.3 280.6,475.4 280.7,475.4 280.9,475.5 281,475.6 281.2,475.6 281.3,475.7 281.5,475.7 281.6,475.8 281.8,475.8 281.9,475.9 282.1,475.9 282.2,476 282.4,476 282.5,476.1 282.7,476.1 282.8,476.2 283,476.2 283.1,476.3 283.3,476.3 283.4,476.4 283.6,476.4 283.7,476.5 283.9,476.5 284,476.6 284.2,476.6 284.4,476.7 284.5,476.7 284.7,476.7 284.8,476.8 285,476.8 285.1,476.8 285.3,476.9 285.4,476.9 285.6,476.9 285.7,477 285.9,477 286,477 286.2,477 286.3,477 286.5,477.1 286.6,477.1 286.8,477.1 286.9,477.1 287.1,477.1 287.2,477.1 287.4,477 287.5,477 287.7,477 287.8,477 288,476.9 288.1,476.9 288.3,476.8 288.4,476.7 288.6,476.6 288.7,476.5 288.9,476.4 289,476.3 289.2,476.1 289.3,475.9 289.5,475.7 289.6,475.4 289.8,475 289.9,474.5 290.1,473.8 290.2,472.9 290.4,471.6 290.5,469.9 290.7,467.5 290.8,464.2 291,459.9 291.1,454.1 291.3,446.7 291.4,437.4 291.6,426 291.7,412.3 291.9,396.5 292,378.8 292.2,359.5 292.3,339.3 292.5,319.1 292.6,300 292.8,283.1 292.9,269.8 293.1,261.3 293.2,258.4 293.4,261.4 293.5,270 293.7,283.4 293.8,300.4 294,319.6 294.1,339.9 294.3,360.2 294.4,379.6 294.6,397.5 294.7,413.4 294.9,427.2 295,438.7 295.2,448.1 295.3,455.7 295.5,461.5 295.6,466 295.8,469.3 295.9,471.8 296.1,473.7 296.2,475.1 296.4,476.1 296.5,476.9 296.7,477.5 296.9,478 297,478.4 297.2,478.8 297.3,479.1 297.5,479.4 297.6,479.6 297.8,479.9 297.9,480.1 298.1,480.3 298.2,480.5 298.4,480.7 298.5,480.9 298.7,481 298.8,481.2 299,481.3 299.1,481.5 299.3,481.6 299.4,481.7 299.6,481.9 299.7,482 299.9,482.1 300,482.2 300.2,482.3 300.3,482.5 300.5,482.6 300.6,482.7 300.8,482.8 300.9,482.9 301.1,483 301.2,483.1 301.4,483.2 301.5,483.2 301.7,483.3 301.8,483.4 302,483.5 302.1,483.6 302.3,483.7 302.4,483.8 302.6,483.8 302.7,483.9 302.9,484 303,484.1 303.2,484.2 303.3,484.2 303.5,484.3 303.6,484.4 303.8,484.5 303.9,484.6 304.1,484.6 304.2,484.7 304.4,484.8 304.5,484.9 304.7,484.9 304.8,485 305,485.1 305.1,485.1 305.3,485.2 305.4,485.3 305.6,485.4 305.7,485.4 305.9,485.5 306,485.6 306.2,485.6 306.3,485.7 306.5,485.8 306.6,485.8 306.8,485.9 306.9,486 307.1,486 307.2,486.1 307.4,486.2 307.5,486.2 307.7,486.3 307.8,486.4 308,486.4 308.1,486.5 308.3,486.6 308.4,486.6 308.6,486.7 308.7,486.8 308.9,486.8 309.1,486.9 309.2,487 309.4,487 309.5,487.1 309.7,487.2 309.8,487.2 310,487.3 310.1,487.4 310.3,487.4 310.4,487.5 310.6,487.6 310.7,487.6 310.9,487.7 311,487.7 311.2,487.8 311.3,487.9 311.5,487.9 311.6,488 311.8,488.1 311.9,488.1 312.1,488.2 312.2,488.2 312.4,488.3 312.5,488.4 312.7,488.4 312.8,488.5 313,488.5 313.1,488.6 313.3,488.7 313.4,488.7 313.6,488.8 313.7,488.8 313.9,488.9 314,488.9 314.2,489 314.3,489.1 314.5,489.1 314.6,489.2 314.8,489.2 314.9,489.3 315.1,489.3 315.2,489.4 315.4,489.5 315.5,489.5 315.7,489.6 315.8,489.6 316,489.7 316.1,489.7 316.3,489.8 316.4,489.9 316.6,489.9 316.7,490 316.9,490 317,490.1 317.2,490.1 317.3,490.2 317.5,490.3 317.6,490.3 317.8,490.4 317.9,490.4 318.1,490.5 318.2,490.5 318.4,490.6 318.5,490.6 318.7,490.7 318.8,490.7 319,490.8 319.1,490.9 319.3,490.9 319.4,491 319.6,491 319.7,491.1 319.9,491.1 320,491.2 320.2,491.2 320.3,491.3 320.5,491.3 320.6,491.4 320.8,491.5 320.9,491.5 321.1,491.6 321.2,491.6 321.4,491.7 321.6,491.7 321.7,491.8 321.9,491.8 322,491.9 322.2,491.9 322.3,492 322.5,492 322.6,492.1 322.8,492.1 322.9,492.2 323.1,492.2 323.2,492.3 323.4,492.3 323.5,492.4 323.7,492.4 323.8,492.5 324,492.5 324.1,492.6 324.3,492.6 324.4,492.7 324.6,492.7 324.7,492.8 324.9,492.8 325,492.9 325.2,492.9 325.3,493 325.5,493 325.6,493 325.8,493.1 325.9,493.1 326.1,493.2 326.2,493.2 326.4,493.2 326.5,493.3 326.7,493.3 326.8,493.4 327,493.4 327.1,493.4 327.3,493.4 327.4,493.5 327.6,493.5 327.7,493.5 327.9,493.5 328,493.6 328.2,493.6 328.3,493.6 328.5,493.6 328.6,493.6 328.8,493.6 328.9,493.6 329.1,493.6 329.2,493.6 329.4,493.5 329.5,493.5 329.7,493.4 329.8,493.3 330,493.1 330.1,492.9 330.3,492.5 330.4,492.1 330.6,491.4 330.7,490.5 330.9,489.3 331,487.6 331.2,485.6 331.3,483 331.5,479.8 331.6,475.9 331.8,471.5 331.9,466.6 332.1,461.2 332.2,455.6 332.4,450 332.5,444.7 332.7,440 332.8,436.3 333,434 333.1,433.2 333.3,434.1 333.4,436.5 333.6,440.3 333.8,445 333.9,450.4 334.1,456.1 334.2,461.7 334.4,467.2 334.5,472.1 334.7,476.6 334.8,480.4 335,483.6 335.1,486.1 335.3,488 335.4,489.4 335.6,490.3 335.7,490.7 335.9,490.7 336,490.2 336.2,489.3 336.3,488 336.5,486.2 336.6,484 336.8,481.4 336.9,478.5 337.1,475.3 337.2,471.9 337.4,468.5 337.5,465.3 337.7,462.5 337.8,460.3 338,458.9 338.1,458.5 338.3,459.1 338.4,460.7 338.6,463.1 338.7,466.1 338.9,469.5 339,473.2 339.2,476.8 339.3,480.2 339.5,483.5 339.6,486.3 339.8,488.9 339.9,491 340.1,492.8 340.2,494.2 340.4,495.3 340.5,496.2 340.7,496.9 340.8,497.5 341,497.9 341.1,498.2 341.3,498.5 341.4,498.7 341.6,498.9 341.7,499 341.9,499.2 342,499.3 342.2,499.4 342.3,499.5 342.5,499.6 342.6,499.7 342.8,499.8 342.9,499.9 343.1,500 343.2,500.1 343.4,500.2 343.5,500.3 343.7,500.3 343.8,500.4 344,500.5 344.1,500.6 344.3,500.6 344.4,500.7 344.6,500.8 344.7,500.8 344.9,500.9 345,500.9 345.2,501 345.3,501 345.5,501.1 345.6,501.1 345.8,501.2 345.9,501.2 346.1,501.2 346.3,501.2 346.4,501.3 346.6,501.3 346.7,501.3 346.9,501.3 347,501.2 347.2,501.2 347.3,501.1 347.5,501 347.6,500.9 347.8,500.7 347.9,500.4 348.1,499.9 348.2,499.4 348.4,498.6 348.5,497.6 348.7,496.3 348.8,494.7 349,492.8 349.1,490.5 349.3,487.9 349.4,485 349.6,481.9 349.7,478.7 349.9,475.5 350,472.5 350.2,469.8 350.3,467.7 350.5,466.4 350.6,466 350.8,466.5 350.9,467.9 351.1,470 351.2,472.8 351.4,475.9 351.5,479.2 351.7,482.5 351.8,485.7 352,488.7 352.1,491.4 352.3,493.7 352.4,495.7 352.6,497.4 352.7,498.7 352.9,499.8 353,500.7 353.2,501.3 353.3,501.8 353.5,502.2 353.6,502.5 353.8,502.8 353.9,503 354.1,503.1 354.2,503.2 354.4,503.3 354.5,503.4 354.7,503.5 354.8,503.6 355,503.7 355.1,503.8 355.3,503.8 355.4,503.9 355.6,503.9 355.7,504 355.9,504 356,504.1 356.2,504.1 356.3,504.1 356.5,504.1 356.6,504.1 356.8,504.1 356.9,504.1 357.1,504 357.2,503.8 357.4,503.7 357.5,503.4 357.7,503.2 357.8,502.8 358,502.4 358.1,502 358.3,501.5 358.5,501 358.6,500.6 358.8,500.1 358.9,499.7 359.1,499.4 359.2,499.2 359.4,499.2 359.5,499.3 359.7,499.6 359.8,500 360,500.5 360.1,501 360.3,501.6 360.4,502.2 360.6,502.7 360.7,503.2 360.9,503.7 361,504.1 361.2,504.5 361.3,504.8 361.5,505.1 361.6,505.3 361.8,505.5 361.9,505.6 362.1,505.8 362.2,505.9 362.4,505.9 362.5,506 362.7,506.1 362.8,506.1 363,506.2 363.1,506.2 363.3,506.3 363.4,506.3 363.6,506.4 363.7,506.4 363.9,506.4 364,506.5 364.2,506.5 364.3,506.6 364.5,506.6 364.6,506.6 364.8,506.7 364.9,506.7 365.1,506.7 365.2,506.8 365.4,506.8 365.5,506.8 365.7,506.9 365.8,506.9 366,506.9 366.1,506.9 366.3,507 366.4,507 366.6,507 366.7,507.1 366.9,507.1 367,507.1 367.2,507.2 367.3,507.2 367.5,507.2 367.6,507.2 367.8,507.3 367.9,507.3 368.1,507.3 368.2,507.4 368.4,507.4 368.5,507.4 368.7,507.4 368.8,507.5 369,507.5 369.1,507.5 369.3,507.5 369.4,507.6 369.6,507.6 369.7,507.6 369.9,507.6 370,507.6 370.2,507.6 370.3,507.6 370.5,507.6 370.6,507.6 370.8,507.5 371,507.5 371.1,507.4 371.3,507.3 371.4,507.3 371.6,507.2 371.7,507.1 371.9,507 372,507 372.2,506.9 372.3,506.9 372.5,506.9 372.6,507 372.8,507.1 372.9,507.2 373.1,507.3 373.2,507.4 373.4,507.5 373.5,507.7 373.7,507.8 373.8,507.9 374,508 374.1,508.1 374.3,508.2 374.4,508.3 374.6,508.4 374.7,508.5 374.9,508.5 375,508.6 375.2,508.6 375.3,508.6 375.5,508.7 375.6,508.7 375.8,508.8 375.9,508.8 376.1,508.8 376.2,508.8 376.4,508.9 376.5,508.9 376.7,508.9 376.8,509 377,509 377.1,509 377.3,509.1 377.4,509.1 377.6,509.1 377.7,509.1 377.9,509.2 378,509.2 378.2,509.2 378.3,509.3 378.5,509.3 378.6,509.3 378.8,509.3 378.9,509.4 379.1,509.4 379.2,509.4 379.4,509.4 379.5,509.5 379.7,509.5 379.8,509.5 380,509.5 380.1,509.5 380.3,509.6 380.4,509.6 380.6,509.6 380.7,509.6 380.9,509.6 381,509.6 381.2,509.7 381.3,509.7 381.5,509.7 381.6,509.7 381.8,509.7 381.9,509.7 382.1,509.7 382.2,509.8 382.4,509.8 382.5,509.8 382.7,509.8 382.8,509.8 383,509.8 383.2,509.8 383.3,509.8 383.5,509.8 383.6,509.9 383.8,509.9 383.9,509.9 384.1,509.9 384.2,509.9 384.4,509.9 384.5,509.9 384.7,509.9 384.8,509.9 385,510 385.1,510 385.3,510 385.4,510 385.6,510 385.7,510 385.9,510 386,510 386.2,510 386.3,510.1 386.5,510.1 386.6,510.1 386.8,510.1 386.9,510.1 387.1,510.1 387.2,510.1 387.4,510.1 387.5,510.1 387.7,510.2 387.8,510.2 388,510.2 388.1,510.2 388.3,510.2 388.4,510.2 388.6,510.2 388.7,510.2 388.9,510.2 389,510.3 389.2,510.3 389.3,510.3 389.5,510.3 389.6,510.3 389.8,510.3 389.9,510.3 390.1,510.3 390.2,510.3 390.4,510.3 390.5,510.4 390.7,510.4 390.8,510.4 391,510.4 391.1,510.4 391.3,510.4 391.4,510.4 391.6,510.4 391.7,510.4 391.9,510.4 392,510.5 392.2,510.5 392.3,510.5 392.5,510.5 392.6,510.5 392.8,510.5 392.9,510.5 393.1,510.5 393.2,510.5 393.4,510.5 393.5,510.5 393.7,510.5 393.8,510.6 394,510.6 394.1,510.6 394.3,510.6 394.4,510.6 394.6,510.6 394.7,510.6 394.9,510.6 395,510.6 395.2,510.6 395.3,510.6 395.5,510.6 395.7,510.6 395.8,510.6 396,510.6 396.1,510.6 396.3,510.6 396.4,510.6 396.6,510.6 396.7,510.6 396.9,510.6 397,510.5 397.2,510.5 397.3,510.5 397.5,510.4 397.6,510.3 397.8,510.2 397.9,510 398.1,509.8 398.2,509.6 398.4,509.2 398.5,508.8 398.7,508.3 398.8,507.8 399,507.1 399.1,506.4 399.3,505.6 399.4,504.8 399.6,504 399.7,503.1 399.9,502.4 400,501.7 400.2,501.2 400.3,500.8 400.5,500.7 400.6,500.8 400.8,501.2 400.9,501.7 401.1,502.4 401.2,503.2 401.4,504 401.5,504.9 401.7,505.7 401.8,506.5 402,507.2 402.1,507.9 402.3,508.5 402.4,509 402.6,509.4 402.7,509.7 402.9,510 403,510.2 403.2,510.4 403.3,510.5 403.5,510.6 403.6,510.7 403.8,510.7 403.9,510.8 404.1,510.8 404.2,510.8 404.4,510.9 404.5,510.9 404.7,510.9 404.8,510.9 405,510.9 405.1,511 405.3,511 405.4,511 405.6,511 405.7,511 405.9,511 406,511 406.2,511 406.3,511.1 406.5,511.1 406.6,511.1 406.8,511.1 406.9,511.1 407.1,511.1 407.2,511.1 407.4,511.1 407.5,511.1 407.7,511.1 407.9,511.1 408,511.1 408.2,511.1 408.3,511.1 408.5,511.1 408.6,511.2 408.8,511.2 408.9,511.2 409.1,511.2 409.2,511.2 409.4,511.2 409.5,511.2 409.7,511.1 409.8,511.1 410,511.1 410.1,511.1 410.3,511.1 410.4,511.1 410.6,511 410.7,511 410.9,510.9 411,510.8 411.2,510.7 411.3,510.6 411.5,510.5 411.6,510.4 411.8,510.3 411.9,510.1 412.1,510 412.2,509.9 412.4,509.8 412.5,509.7 412.7,509.7 412.8,509.7 413,509.7 413.1,509.7 413.3,509.8 413.4,509.9 413.6,510 413.7,510.2 413.9,510.3 414,510.4 414.2,510.6 414.3,510.7 414.5,510.8 414.6,510.9 414.8,511 414.9,511 415.1,511.1 415.2,511.1 415.4,511.2 415.5,511.2 415.7,511.2 415.8,511.3 416,511.3 416.1,511.3 416.3,511.3 416.4,511.3 416.6,511.3 416.7,511.3 416.9,511.3 417,511.3 417.2,511.3 417.3,511.3 417.5,511.3 417.6,511.3 417.8,511.3 417.9,511.3 418.1,511.4 418.2,511.4 418.4,511.4 418.5,511.4 418.7,511.4 418.8,511.4 419,511.4 419.1,511.4 419.3,511.4 419.4,511.4 419.6,511.4 419.7,511.4 419.9,511.4 420,511.4 420.2,511.4 420.4,511.4 420.5,511.4 420.7,511.4 420.8,511.4 421,511.4 421.1,511.4 421.3,511.4 421.4,511.4 421.6,511.4 421.7,511.4 421.9,511.4 422,511.4 422.2,511.4 422.3,511.5 422.5,511.5 422.6,511.5 422.8,511.5 422.9,511.5 423.1,511.5 423.2,511.5 423.4,511.5 423.5,511.5 423.7,511.5 423.8,511.5 424,511.5 424.1,511.5 424.3,511.5 424.4,511.5 424.6,511.5 424.7,511.5 424.9,511.5 425,511.5 425.2,511.5 425.3,511.5 425.5,511.4 425.6,511.4 425.8,511.4 425.9,511.4 426.1,511.4 426.2,511.4 426.4,511.4 426.5,511.4 426.7,511.4 426.8,511.4 427,511.4 427.1,511.3 427.3,511.3 427.4,511.3 427.6,511.3 427.7,511.3 427.9,511.2 428,511.2 428.2,511.2 428.3,511.1 428.5,511.1 428.6,511 428.8,510.9 428.9,510.9 429.1,510.7 429.2,510.6 429.4,510.4 429.5,510.1 429.7,509.8 429.8,509.4 430,508.9 430.1,508.2 430.3,507.4 430.4,506.3 430.6,505.1 430.7,503.6 430.9,501.9 431,500 431.2,498 431.3,495.7 431.5,493.4 431.6,491 431.8,488.7 431.9,486.5 432.1,484.7 432.2,483.2 432.4,482.3 432.6,482 432.7,482.3 432.9,483.2 433,484.7 433.2,486.5 433.3,488.7 433.5,491 433.6,493.4 433.8,495.7 433.9,498 434.1,500 434.2,501.9 434.4,503.6 434.5,505 434.7,506.2 434.8,507.2 435,508 435.1,508.5 435.3,508.9 435.4,509.2 435.6,509.3 435.7,509.2 435.9,509.1 436,508.8 436.2,508.4 436.3,507.8 436.5,507.2 436.6,506.4 436.8,505.5 436.9,504.6 437.1,503.6 437.2,502.6 437.4,501.7 437.5,500.8 437.7,500 437.8,499.4 438,499 438.1,498.9 438.3,499.1 438.4,499.5 438.6,500.1 438.7,500.9 438.9,501.9 439,502.9 439.2,503.9 439.3,504.9 439.5,505.9 439.6,506.8 439.8,507.6 439.9,508.2 440.1,508.8 440.2,509.2 440.4,509.5 440.5,509.7 440.7,509.7 440.8,509.6 441,509.4 441.1,509 441.3,508.6 441.4,508 441.6,507.3 441.7,506.5 441.9,505.6 442,504.7 442.2,503.8 442.3,502.9 442.5,502.1 442.6,501.4 442.8,500.8 442.9,500.5 443.1,500.4 443.2,500.5 443.4,500.9 443.5,501.5 443.7,502.3 443.8,503.2 444,504.2 444.1,505.2 444.3,506.1 444.4,507.1 444.6,508 444.7,508.8 444.9,509.5 445.1,510.1 445.2,510.6 445.4,511.1 445.5,511.5 445.7,511.8 445.8,512 446,512.2 446.1,512.4 446.3,512.5 446.4,512.6 446.6,512.7 446.7,512.8 446.9,512.9 447,512.9 447.2,513 447.3,513 447.5,513.1 447.6,513.1 447.8,513.1 447.9,513.2 448.1,513.2 448.2,513.2 448.4,513.3 448.5,513.3 448.7,513.3 448.8,513.4 449,513.4 449.1,513.4 449.3,513.5 449.4,513.5 449.6,513.5 449.7,513.5 449.9,513.6 450,513.6 450.2,513.6 450.3,513.6 450.5,513.7 450.6,513.7 450.8,513.7 450.9,513.8 451.1,513.8 451.2,513.8 451.4,513.8 451.5,513.9 451.7,513.9 451.8,513.9 452,513.9 452.1,513.9 452.3,514 452.4,514 452.6,514 452.7,514 452.9,514.1 453,514.1 453.2,514.1 453.3,514.1 453.5,514.2 453.6,514.2 453.8,514.2 453.9,514.2 454.1,514.3 454.2,514.3 454.4,514.3 454.5,514.3 454.7,514.3 454.8,514.4 455,514.4 455.1,514.4 455.3,514.4 455.4,514.5 455.6,514.5 455.7,514.5 455.9,514.5 456,514.5 456.2,514.6 456.3,514.6 456.5,514.6 456.6,514.6 456.8,514.7 456.9,514.7 457.1,514.7 457.3,514.7 457.4,514.7 457.6,514.8 457.7,514.8 457.9,514.8 458,514.8 458.2,514.8 458.3,514.9 458.5,514.9 458.6,514.9 458.8,514.9 458.9,515 459.1,515 459.2,515 459.4,515 459.5,515 459.7,515.1 459.8,515.1 460,515.1 460.1,515.1 460.3,515.1 460.4,515.2 460.6,515.2 460.7,515.2 460.9,515.2 461,515.3 461.2,515.3 461.3,515.3 461.5,515.3 461.6,515.3 461.8,515.4 461.9,515.4 462.1,515.4 462.2,515.4 462.4,515.4 462.5,515.5 462.7,515.5 462.8,515.5 463,515.5 463.1,515.5 463.3,515.6 463.4,515.6 463.6,515.6 463.7,515.6 463.9,515.7 464,515.7 464.2,515.7 464.3,515.7 464.5,515.7 464.6,515.8 464.8,515.8 464.9,515.8 465.1,515.8 465.2,515.8 465.4,515.9 465.5,515.9 465.7,515.9 465.8,515.9 466,516 466.1,516 466.3,516 466.4,516 466.6,516.1 466.7,516.1 466.9,516.1 467,516.1 467.2,516.2 467.3,516.2 467.5,516.2 467.6,516.2 467.8,516.3 467.9,516.3 468.1,516.3 468.2,516.4 468.4,516.4 468.5,516.4 468.7,516.4 468.8,516.5 469,516.5 469.1,516.5 469.3,516.6 469.4,516.6 469.6,516.6 469.8,516.6 469.9,516.7 470.1,516.7 470.2,516.7 470.4,516.7 470.5,516.8 470.7,516.8 470.8,516.8 471,516.9 471.1,516.9 471.3,516.9 471.4,516.9 471.6,517 471.7,517 471.9,517 472,517.1 472.2,517.1 472.3,517.1 472.5,517.1 472.6,517.2 472.8,517.2 472.9,517.2 473.1,517.2 473.2,517.3 473.4,517.3 473.5,517.3 473.7,517.4 473.8,517.4 474,517.4 474.1,517.4 474.3,517.5 474.4,517.5 474.6,517.5 474.7,517.6 474.9,517.6 475,517.6 475.2,517.6 475.3,517.7 475.5,517.7 475.6,517.7 475.8,517.7 475.9,517.8 476.1,517.8 476.2,517.8 476.4,517.9 476.5,517.9 476.7,517.9 476.8,517.9 477,518 477.1,518 477.3,518 477.4,518 477.6,518.1 477.7,518.1 477.9,518.1 478,518.2 478.2,518.2 478.3,518.2 478.5,518.2 478.6,518.3 478.8,518.3 478.9,518.3 479.1,518.3 479.2,518.4 479.4,518.4 479.5,518.4 479.7,518.5 479.8,518.5 480,518.5 480.1,518.5 480.3,518.6 480.4,518.6 480.6,518.6 480.7,518.6 480.9,518.7 481,518.7 481.2,518.7 481.3,518.7 481.5,518.8 481.6,518.8 481.8,518.8 482,518.9 482.1,518.9 482.3,518.9 482.4,518.9 482.6,519 482.7,519 482.9,519 483,519 483.2,519.1 483.3,519.1 483.5,519.1 483.6,519.1 483.8,519.2 483.9,519.2 484.1,519.2 484.2,519.2 484.4,519.3 484.5,519.3 484.7,519.3 484.8,519.3 485,519.4 485.1,519.4 485.3,519.4 485.4,519.4 485.6,519.5 485.7,519.5 485.9,519.5 486,519.5 486.2,519.6 486.3,519.6 486.5,519.6 486.6,519.6 486.8,519.6 486.9,519.7 487.1,519.7 487.2,519.7 487.4,519.7 487.5,519.8 487.7,519.8 487.8,519.8 488,519.8 488.1,519.8 488.3,519.8 488.4,519.9 488.6,519.9 488.7,519.9 488.9,519.9 489,519.9 489.2,519.9 489.3,519.9 489.5,519.9 489.6,519.9 489.8,519.9 489.9,519.8 490.1,519.8 490.2,519.7 490.4,519.6 490.5,519.5 490.7,519.4 490.8,519.1 491,518.9 491.1,518.5 491.3,518.1 491.4,517.6 491.6,517 491.7,516.2 491.9,515.4 492,514.5 492.2,513.4 492.3,512.3 492.5,511.1 492.6,509.9 492.8,508.6 492.9,507.5 493.1,506.4 493.2,505.5 493.4,504.8 493.5,504.4 493.7,504.2 493.8,504.4 494,504.9 494.1,505.7 494.3,506.6 494.5,507.8 494.6,509 494.8,510.3 494.9,511.6 495.1,512.8 495.2,514 495.4,515.1 495.5,516.1 495.7,517 495.8,517.8 496,518.5 496.1,519.1 496.3,519.5 496.4,519.9 496.6,520.3 496.7,520.5 496.9,520.8 497,520.9 497.2,521.1 497.3,521.2 497.5,521.3 497.6,521.4 497.8,521.5 497.9,521.5 498.1,521.6 498.2,521.7 498.4,521.7 498.5,521.7 498.7,521.8 498.8,521.8 499,521.9 499.1,521.9 499.3,521.9 499.4,522 499.6,522 499.7,522 499.9,522 500,522 500.2,522 500.3,522 500.5,522 500.6,522 500.8,521.9 500.9,521.8 501.1,521.7 501.2,521.5 501.4,521.3 501.5,521 501.7,520.6 501.8,520.2 502,519.6 502.1,519 502.3,518.2 502.4,517.3 502.6,516.3 502.7,515.3 502.9,514.1 503,512.8 503.2,511.6 503.3,510.3 503.5,509.1 503.6,508 503.8,507.1 503.9,506.4 504.1,506 504.2,505.8 504.4,506 504.5,506.6 504.7,507.4 504.8,508.4 505,509.6 505.1,510.9 505.3,512.2 505.4,513.6 505.6,514.9 505.7,516.2 505.9,517.3 506,518.4 506.2,519.4 506.3,520.3 506.5,521 506.7,521.6 506.8,522.2 507,522.6 507.1,523 507.3,523.3 507.4,523.6 507.6,523.8 507.7,524 507.9,524.2 508,524.3 508.2,524.4 508.3,524.5 508.5,524.6 508.6,524.7 508.8,524.8 508.9,524.9 509.1,525 509.2,525.1 509.4,525.1 509.5,525.2 509.7,525.3 509.8,525.4 510,525.4 510.1,525.5 510.3,525.6 510.4,525.7 510.6,525.7 510.7,525.8 510.9,525.9 511,525.9 511.2,526 511.3,526.1 511.5,526.1 511.6,526.2 511.8,526.3 511.9,526.3 512.1,526.4 512.2,526.5 512.4,526.5 512.5,526.6 512.7,526.6 512.8,526.7 513,526.8 513.1,526.8 513.3,526.9 513.4,526.9 513.6,527 513.7,527 513.9,527.1 514,527.1 514.2,527.2 514.3,527.2 514.5,527.2 514.6,527.3 514.8,527.3 514.9,527.4 515.1,527.4 515.2,527.5 515.4,527.5 515.5,527.5 515.7,527.6 515.8,527.6 516,527.7 516.1,527.7 516.3,527.7 516.4,527.8 516.6,527.8 516.7,527.9 516.9,527.9 517,527.9 517.2,528 517.3,528 517.5,528.1 517.6,528.1 517.8,528.1 517.9,528.2 518.1,528.2 518.2,528.3 518.4,528.3 518.5,528.3 518.7,528.4 518.8,528.4 519,528.5 519.2,528.5 519.3,528.5 519.5,528.6 519.6,528.6 519.8,528.7 519.9,528.7 520.1,528.7 520.2,528.8 520.4,528.8 520.5,528.8 520.7,528.9 520.8,528.9 521,529 521.1,529 521.3,529 521.4,529.1 521.6,529.1 521.7,529.2 521.9,529.2 522,529.2 522.2,529.3 522.3,529.3 522.5,529.3 522.6,529.4 522.8,529.4 522.9,529.5 523.1,529.5 523.2,529.5 523.4,529.6 523.5,529.6 523.7,529.7 523.8,529.7 524,529.7 524.1,529.8 524.3,529.8 524.4,529.8 524.6,529.9 524.7,529.9 524.9,530 525,530 525.2,530 525.3,530.1 525.5,530.1 525.6,530.2 525.8,530.2 525.9,530.2 526.1,530.3 526.2,530.3 526.4,530.3 526.5,530.4 526.7,530.4 526.8,530.5 527,530.5 527.1,530.5 527.3,530.6 527.4,530.6 527.6,530.6 527.7,530.7 527.9,530.7 528,530.8 528.2,530.8 528.3,530.8 528.5,530.9 528.6,530.9 528.8,531 528.9,531 529.1,531 529.2,531.1 529.4,531.1 529.5,531.1 529.7,531.2 529.8,531.2 530,531.3 530.1,531.3 530.3,531.3 530.4,531.4 530.6,531.4 530.7,531.4 530.9,531.5 531,531.5 531.2,531.6 531.4,531.6 531.5,531.6 531.7,531.7 531.8,531.7 532,531.7 532.1,531.8 532.3,531.8 532.4,531.9 532.6,531.9 532.7,531.9 532.9,532 533,532 533.2,532 533.3,532.1 533.5,532.1 533.6,532.2 533.8,532.2 533.9,532.2 534.1,532.3 534.2,532.3 534.4,532.3 534.5,532.4 534.7,532.4 534.8,532.5 535,532.5 535.1,532.5 535.3,532.6 535.4,532.6 535.6,532.6 535.7,532.7 535.9,532.7 536,532.8 536.2,532.8 536.3,532.8 536.5,532.9 536.6,532.9 536.8,532.9 536.9,533 537.1,533 537.2,533.1 537.4,533.1 537.5,533.1 537.7,533.2 537.8,533.2 538,533.2 538.1,533.3 538.3,533.3 538.4,533.4 538.6,533.4 538.7,533.4 538.9,533.5 539,533.5 539.2,533.5 539.3,533.6 539.5,533.6 539.6,533.6 539.8,533.7 539.9,533.7 540.1,533.8 540.2,533.8 540.4,533.8 540.5,533.9 540.7,533.9 540.8,533.9 541,534 541.1,534 541.3,534 541.4,534.1 541.6,534.1 541.7,534.2 541.9,534.2 542,534.2 542.2,534.3 542.3,534.3 542.5,534.3 542.6,534.4 542.8,534.4 542.9,534.4 543.1,534.5 543.2,534.5 543.4,534.5 543.5,534.6 543.7,534.6 543.9,534.7 544,534.7 544.2,534.7 544.3,534.8 544.5,534.8 544.6,534.8 544.8,534.9 544.9,534.9 545.1,534.9 545.2,535 545.4,535 545.5,535 545.7,535.1 545.8,535.1 546,535.1 546.1,535.2 546.3,535.2 546.4,535.2 546.6,535.3 546.7,535.3 546.9,535.3 547,535.4 547.2,535.4 547.3,535.4 547.5,535.5 547.6,535.5 547.8,535.5 547.9,535.6 548.1,535.6 548.2,535.6 548.4,535.6 548.5,535.7 548.7,535.7 548.8,535.7 549,535.8 549.1,535.8 549.3,535.8 549.4,535.8 549.6,535.9 549.7,535.9 549.9,535.9 550,535.9 550.2,536 550.3,536 550.5,536 550.6,536 550.8,536.1 550.9,536.1 551.1,536.1 551.2,536.1 551.4,536.1 551.5,536.1 551.7,536.1 551.8,536.1 552,536.1 552.1,536.1 552.3,536.1 552.4,536 552.6,536 552.7,535.9 552.9,535.8 553,535.7 553.2,535.6 553.3,535.4 553.5,535.2 553.6,535 553.8,534.8 553.9,534.5 554.1,534.3 554.2,533.9 554.4,533.6 554.5,533.3 554.7,532.9 554.8,532.6 555,532.3 555.1,532 555.3,531.7 555.4,531.5 555.6,531.4 555.7,531.3 555.9,531.3 556.1,531.4 556.2,531.5 556.4,531.6 556.5,531.8 556.7,532 556.8,532.1 557,532.3 557.1,532.4 557.3,532.4 557.4,532.3 557.6,532.2 557.7,531.9 557.9,531.5 558,530.9 558.2,530.1 558.3,529.1 558.5,527.9 558.6,526.5 558.8,524.9 558.9,523 559.1,521 559.2,518.7 559.4,516.2 559.5,513.6 559.7,511 559.8,508.3 560,505.7 560.1,503.2 560.3,501 560.4,499.1 560.6,497.7 560.7,496.8 560.9,496.5 561,496.9 561.2,497.8 561.3,499.3 561.5,501.2 561.6,503.4 561.8,506 561.9,508.6 562.1,511.4 562.2,514.1 562.4,516.7 562.5,519.2 562.7,521.6 562.8,523.8 563,525.7 563.1,527.5 563.3,529 563.4,530.3 563.6,531.5 563.7,532.4 563.9,533.2 564,533.8 564.2,534.3 564.3,534.7 564.5,535 564.6,535.2 564.8,535.3 564.9,535.4 565.1,535.4 565.2,535.3 565.4,535.2 565.5,535 565.7,534.8 565.8,534.6 566,534.4 566.1,534.1 566.3,533.9 566.4,533.6 566.6,533.3 566.7,533.1 566.9,532.9 567,532.8 567.2,532.7 567.3,532.6 567.5,532.7 567.6,532.8 567.8,533 567.9,533.2 568.1,533.4 568.2,533.7 568.4,534 568.6,534.3 568.7,534.5 568.9,534.8 569,535 569.2,535.2 569.3,535.3 569.5,535.4 569.6,535.4 569.8,535.4 569.9,535.2 570.1,535 570.2,534.7 570.4,534.2 570.5,533.6 570.7,532.8 570.8,531.9 571,530.8 571.1,529.4 571.3,527.8 571.4,526 571.6,523.9 571.7,521.6 571.9,519.1 572,516.3 572.2,513.4 572.3,510.3 572.5,507.2 572.6,504 572.8,501 572.9,498.1 573.1,495.5 573.2,493.3 573.4,491.7 573.5,490.7 573.7,490.3 573.8,490.7 574,491.8 574.1,493.4 574.3,495.6 574.4,498.2 574.6,501.1 574.7,504.2 574.9,507.4 575,510.6 575.2,513.7 575.3,516.6 575.5,519.4 575.6,522 575.8,524.3 575.9,526.4 576.1,528.2 576.2,529.8 576.4,531.1 576.5,532.2 576.7,533.1 576.8,533.9 577,534.4 577.1,534.7 577.3,534.9 577.4,535 577.6,534.9 577.7,534.6 577.9,534.3 578,533.7 578.2,533.1 578.3,532.3 578.5,531.3 578.6,530.2 578.8,529 578.9,527.7 579.1,526.3 579.2,524.8 579.4,523.3 579.5,521.7 579.7,520.2 579.8,518.9 580,517.6 580.1,516.6 580.3,515.8 580.4,515.3 580.6,515.2 580.8,515.4 580.9,516 581.1,516.9 581.2,518 581.4,519.4 581.5,520.9 581.7,522.5 581.8,524.2 582,525.8 582.1,527.4 582.3,529 582.4,530.4 582.6,531.8 582.7,533 582.9,534.2 583,535.2 583.2,536 583.3,536.8 583.5,537.5 583.6,538 583.8,538.5 583.9,538.9 584.1,539.3 584.2,539.5 584.4,539.8 584.5,540 584.7,540.1 584.8,540.3 585,540.4 585.1,540.5 585.3,540.6 585.4,540.7 585.6,540.7 585.7,540.8 585.9,540.8 586,540.9 586.2,540.9 586.3,540.9 586.5,540.9 586.6,540.9 586.8,540.8 586.9,540.8 587.1,540.7 587.2,540.6 587.4,540.5 587.5,540.3 587.7,540.1 587.8,539.9 588,539.6 588.1,539.3 588.3,538.9 588.4,538.4 588.6,537.9 588.7,537.4 588.9,536.8 589,536.2 589.2,535.5 589.3,534.9 589.5,534.2 589.6,533.6 589.8,533 589.9,532.5 590.1,532 590.2,531.7 590.4,531.5 590.5,531.5 590.7,531.6 590.8,531.8 591,532.2 591.1,532.7 591.3,533.3 591.4,534 591.6,534.7 591.7,535.4 591.9,536.1 592,536.8 592.2,537.5 592.3,538.2 592.5,538.8 592.6,539.3 592.8,539.8 592.9,540.3 593.1,540.7 593.3,541.1 593.4,541.4 593.6,541.7 593.7,541.9 593.9,542.1 594,542.3 594.2,542.4 594.3,542.5 594.5,542.6 594.6,542.7 594.8,542.8 594.9,542.9 595.1,543 595.2,543 595.4,543.1 595.5,543.1 595.7,543.2 595.8,543.2 596,543.3 596.1,543.3 596.3,543.3 596.4,543.4 596.6,543.4 596.7,543.5 596.9,543.5 597,543.5 597.2,543.6 597.3,543.6 597.5,543.6 597.6,543.7 597.8,543.7 597.9,543.7 598.1,543.8 598.2,543.8 598.4,543.8 598.5,543.8 598.7,543.9 598.8,543.9 599,543.9 599.1,544 599.3,544 599.4,544 599.6,544 599.7,544.1 599.9,544.1 600,544.1 600.2,544.2 600.3,544.2 600.5,544.2 600.6,544.2 600.8,544.3 600.9,544.3 601.1,544.3 601.2,544.3 601.4,544.4 601.5,544.4 601.7,544.4 601.8,544.5 602,544.5 602.1,544.5 602.3,544.5 602.4,544.6 602.6,544.6 602.7,544.6 602.9,544.6 603,544.7 603.2,544.7 603.3,544.7 603.5,544.7 603.6,544.8 603.8,544.8 603.9,544.8 604.1,544.8 604.2,544.9 604.4,544.9 604.5,544.9 604.7,544.9 604.8,544.9 605,545 605.1,545 605.3,545 605.5,545 605.6,545.1 605.8,545.1 605.9,545.1 606.1,545.1 606.2,545.2 606.4,545.2 606.5,545.2 606.7,545.2 606.8,545.2 607,545.3 607.1,545.3 607.3,545.3 607.4,545.3 607.6,545.3 607.7,545.3 607.9,545.4 608,545.4 608.2,545.4 608.3,545.4 608.5,545.4 608.6,545.4 608.8,545.4 608.9,545.4 609.1,545.4 609.2,545.4 609.4,545.5 609.5,545.5 609.7,545.5 609.8,545.5 610,545.5 610.1,545.5 610.3,545.5 610.4,545.5 610.6,545.5 610.7,545.5 610.9,545.5 611,545.5 611.2,545.5 611.3,545.5 611.5,545.5 611.6,545.5 611.8,545.5 611.9,545.5 612.1,545.5 612.2,545.5 612.4,545.5 612.5,545.5 612.7,545.5 612.8,545.5 613,545.5 613.1,545.5 613.3,545.5 613.4,545.5 613.6,545.5 613.7,545.6 613.9,545.6 614,545.6 614.2,545.6 614.3,545.6 614.5,545.6 614.6,545.6 614.8,545.6 614.9,545.6 615.1,545.6 615.2,545.6 615.4,545.6 615.5,545.6 615.7,545.6 615.8,545.6 616,545.6 616.1,545.6 616.3,545.6 616.4,545.6 616.6,545.6 616.7,545.6 616.9,545.6 617,545.6 617.2,545.6 617.3,545.6 617.5,545.6 617.6,545.6 617.8,545.6 618,545.6 618.1,545.6 618.3,545.6 618.4,545.6 618.6,545.6 618.7,545.6 618.9,545.6 619,545.6 619.2,545.6 619.3,545.6 619.5,545.6 619.6,545.6 619.8,545.6 619.9,545.6 620.1,545.6 620.2,545.6 620.4,545.6 620.5,545.6 620.7,545.6 620.8,545.6 621,545.6 621.1,545.6 621.3,545.6 621.4,545.6 621.6,545.6 621.7,545.6 621.9,545.6 622,545.6 622.2,545.6 622.3,545.6 622.5,545.6 622.6,545.6 622.8,545.6 622.9,545.6 623.1,545.6 623.2,545.6 623.4,545.6 623.5,545.6 623.7,545.5 623.8,545.5 624,545.5 624.1,545.5 624.3,545.5 624.4,545.5 624.6,545.5 624.7,545.5 624.9,545.5 625,545.5 625.2,545.4 625.3,545.4 625.5,545.4 625.6,545.4 625.8,545.4 625.9,545.4 626.1,545.3 626.2,545.3 626.4,545.3 626.5,545.3 626.7,545.2 626.8,545.2 627,545.2 627.1,545.1 627.3,545.1 627.4,545 627.6,544.9 627.7,544.9 627.9,544.8 628,544.6 628.2,544.5 628.3,544.3 628.5,544.1 628.6,543.9 628.8,543.6 628.9,543.3 629.1,542.9 629.2,542.4 629.4,541.9 629.5,541.3 629.7,540.6 629.8,539.8 630,539 630.2,538 630.3,537 630.5,535.9 630.6,534.8 630.8,533.5 630.9,532.3 631.1,531 631.2,529.8 631.4,528.6 631.5,527.5 631.7,526.5 631.8,525.7 632,525.1 632.1,524.7 632.3,524.6 632.4,524.7 632.6,525.1 632.7,525.7 632.9,526.5 633,527.5 633.2,528.6 633.3,529.8 633.5,531.1 633.6,532.3 633.8,533.6 633.9,534.8 634.1,536 634.2,537.1 634.4,538.1 634.5,539 634.7,539.9 634.8,540.7 635,541.4 635.1,542 635.3,542.5 635.4,542.9 635.6,543.3 635.7,543.7 635.9,544 636,544.2 636.2,544.4 636.3,544.6 636.5,544.7 636.6,544.8 636.8,544.9 636.9,545 637.1,545.1 637.2,545.1 637.4,545.2 637.5,545.2 637.7,545.3 637.8,545.3 638,545.4 638.1,545.4 638.3,545.4 638.4,545.4 638.6,545.5 638.7,545.5 638.9,545.5 639,545.5 639.2,545.5 639.3,545.5 639.5,545.6 639.6,545.6 639.8,545.6 639.9,545.6 640.1,545.6 640.2,545.6 640.4,545.6 640.5,545.6 640.7,545.6 640.8,545.6 641,545.6 641.1,545.6 641.3,545.6 641.4,545.6 641.6,545.6 641.7,545.6 641.9,545.6 642,545.6 642.2,545.6 642.3,545.6 642.5,545.6 642.7,545.6 642.8,545.6 643,545.6 643.1,545.6 643.3,545.6 643.4,545.6 643.6,545.6 643.7,545.6 643.9,545.6 644,545.6 644.2,545.5 644.3,545.5 644.5,545.5 644.6,545.5 644.8,545.5 644.9,545.5 645.1,545.4 645.2,545.4 645.4,545.4 645.5,545.3 645.7,545.3 645.8,545.3 646,545.2 646.1,545.2 646.3,545.1 646.4,545.1 646.6,545 646.7,544.9 646.9,544.9 647,544.7 647.2,544.6 647.3,544.5 647.5,544.3 647.6,544.1 647.8,543.8 647.9,543.5 648.1,543.2 648.2,542.8 648.4,542.3 648.5,541.8 648.7,541.1 648.8,540.4 649,539.6 649.1,538.7 649.3,537.7 649.4,536.7 649.6,535.5 649.7,534.3 649.9,533 650,531.6 650.2,530.2 650.3,528.8 650.5,527.5 650.6,526.2 650.8,525 650.9,523.9 651.1,523 651.2,522.4 651.4,522 651.5,521.8 651.7,521.9 651.8,522.4 652,523 652.1,523.9 652.3,525 652.4,526.1 652.6,527.4 652.7,528.8 652.9,530.2 653,531.5 653.2,532.9 653.3,534.2 653.5,535.4 653.6,536.6 653.8,537.7 653.9,538.6 654.1,539.5 654.2,540.3 654.4,541 654.5,541.6 654.7,542.2 654.9,542.6 655,543 655.2,543.3 655.3,543.6 655.5,543.9 655.6,544.1 655.8,544.2 655.9,544.3 656.1,544.4 656.2,544.5 656.4,544.6 656.5,544.6 656.7,544.6 656.8,544.6 657,544.6 657.1,544.5 657.3,544.5 657.4,544.4 657.6,544.3 657.7,544.1 657.9,543.9 658,543.7 658.2,543.5 658.3,543.2 658.5,542.8 658.6,542.5 658.8,542 658.9,541.6 659.1,541.1 659.2,540.5 659.4,539.9 659.5,539.3 659.7,538.7 659.8,538 660,537.3 660.1,536.7 660.3,536.1 660.4,535.5 660.6,535 660.7,534.6 660.9,534.3 661,534.1 661.2,534.1 661.3,534.1 661.5,534.3 661.6,534.7 661.8,535.1 661.9,535.6 662.1,536.2 662.2,536.8 662.4,537.5 662.5,538.2 662.7,538.8 662.8,539.5 663,540.1 663.1,540.8 663.3,541.3 663.4,541.9 663.6,542.4 663.7,542.8 663.9,543.2 664,543.6 664.2,543.9 664.3,544.2 664.5,544.4 664.6,544.6 664.8,544.8 664.9,544.9 665.1,545.1 665.2,545.2 665.4,545.3 665.5,545.4 665.7,545.4 665.8,545.5 666,545.5 666.1,545.6 666.3,545.6 666.4,545.6 666.6,545.7 666.7,545.7 666.9,545.7 667.1,545.7 667.2,545.8 667.4,545.8 667.5,545.8 667.7,545.8 667.8,545.8 668,545.8 668.1,545.8 668.3,545.8 668.4,545.9 668.6,545.9 668.7,545.9 668.9,545.9 669,545.9 669.2,545.9 669.3,545.9 669.5,545.9 669.6,545.9 669.8,545.9 669.9,545.9 670.1,545.9 670.2,546 670.4,546 670.5,546 670.7,546 670.8,546 671,546 671.1,546 671.3,546 671.4,546 671.6,546 671.7,546 671.9,546 672,546 672.2,546 672.3,546 672.5,546 672.6,546 672.8,546 672.9,546 673.1,546 673.2,546 673.4,545.9 673.5,545.9 673.7,545.9 673.8,545.9 674,545.8 674.1,545.8 674.3,545.8 674.4,545.7 674.6,545.6 674.7,545.5 674.9,545.4 675,545.3 675.2,545.1 675.3,544.9 675.5,544.7 675.6,544.5 675.8,544.2 675.9,543.9 676.1,543.5 676.2,543 676.4,542.6 676.5,542 676.7,541.5 676.8,540.8 677,540.2 677.1,539.4 677.3,538.7 677.4,537.9 677.6,537.2 677.7,536.4 677.9,535.6 678,534.9 678.2,534.2 678.3,533.7 678.5,533.2 678.6,532.8 678.8,532.6 678.9,532.5 679.1,532.6 679.2,532.9 679.4,533.2 679.6,533.7 679.7,534.3 679.9,535 680,535.8 680.2,536.5 680.3,537.3 680.5,538.1 680.6,538.9 680.8,539.7 680.9,540.4 681.1,541.1 681.2,541.8 681.4,542.4 681.5,542.9 681.7,543.4 681.8,543.9 682,544.3 682.1,544.6 682.3,544.9 682.4,545.2 682.6,545.4 682.7,545.6 682.9,545.8 683,546 683.2,546.1 683.3,546.2 683.5,546.3 683.6,546.4 683.8,546.4 683.9,546.5 684.1,546.6 684.2,546.6 684.4,546.6 684.5,546.7 684.7,546.7 684.8,546.7 685,546.8 685.1,546.8 685.3,546.8 685.4,546.8 685.6,546.8 685.7,546.8 685.9,546.8 686,546.8 686.2,546.8 686.3,546.8 686.5,546.8 686.6,546.8 686.8,546.8 686.9,546.7 687.1,546.7 687.2,546.6 687.4,546.5 687.5,546.5 687.7,546.3 687.8,546.2 688,546.1 688.1,545.9 688.3,545.7 688.4,545.5 688.6,545.3 688.7,545 688.9,544.7 689,544.4 689.2,544.1 689.3,543.7 689.5,543.3 689.6,542.9 689.8,542.6 689.9,542.2 690.1,541.8 690.2,541.4 690.4,541.1 690.5,540.8 690.7,540.6 690.8,540.4 691,540.3 691.1,540.3 691.3,540.3 691.4,540.4 691.6,540.6 691.8,540.9 691.9,541.2 692.1,541.5 692.2,541.8 692.4,542.2 692.5,542.6 692.7,543 692.8,543.3 693,543.7 693.1,544 693.3,544.3 693.4,544.6 693.6,544.8 693.7,545 693.9,545.2 694,545.3 694.2,545.4 694.3,545.5 694.5,545.5 694.6,545.5 694.8,545.4 694.9,545.4 695.1,545.3 695.2,545.2 695.4,545 695.5,544.9 695.7,544.8 695.8,544.7 696,544.5 696.1,544.4 696.3,544.3 696.4,544.3 696.6,544.3 696.7,544.3 696.9,544.3 697,544.4 697.2,544.5 697.3,544.7 697.5,544.8 697.6,545 697.8,545.2 697.9,545.4 698.1,545.6 698.2,545.9 698.4,546.1 698.5,546.3 698.7,546.5 698.8,546.7 699,546.8 699.1,547 699.3,547.2 699.4,547.3 699.6,547.4 699.7,547.6 699.9,547.7 700,547.7 700.2,547.8 700.3,547.9 700.5,548 700.6,548 700.8,548.1 700.9,548.1 701.1,548.2 701.2,548.2 701.4,548.2 701.5,548.3 701.7,548.3 701.8,548.3 702,548.3 702.1,548.3 702.3,548.3 702.4,548.4 702.6,548.4 702.7,548.4 702.9,548.4 703,548.4 703.2,548.4 703.3,548.4 703.5,548.4 703.6,548.4 703.8,548.4 703.9,548.4 704.1,548.3 704.3,548.3 704.4,548.3 704.6,548.2 704.7,548.2 704.9,548.1 705,548.1 705.2,548 705.3,547.9 705.5,547.8 705.6,547.7 705.8,547.6 705.9,547.4 706.1,547.3 706.2,547.1 706.4,546.9 706.5,546.8 706.7,546.6 706.8,546.4 707,546.2 707.1,546 707.3,545.9 707.4,545.7 707.6,545.6 707.7,545.5 707.9,545.4 708,545.4 708.2,545.3 708.3,545.4 708.5,545.4 708.6,545.5 708.8,545.7 708.9,545.8 709.1,546 709.2,546.2 709.4,546.4 709.5,546.6 709.7,546.8 709.8,547 710,547.2 710.1,547.4 710.3,547.6 710.4,547.7 710.6,547.9 710.7,548 710.9,548.2 711,548.3 711.2,548.4 711.3,548.5 711.5,548.6 711.6,548.7 711.8,548.7 711.9,548.8 712.1,548.8 712.2,548.9 712.4,548.9 712.5,549 712.7,549 712.8,549 713,549 713.1,549 713.3,549.1 713.4,549.1 713.6,549.1 713.7,549.1 713.9,549.1 714,549.1 714.2,549.1 714.3,549.1 714.5,549.1 714.6,549.1 714.8,549.1 714.9,549 715.1,549 715.2,549 715.4,549 715.5,549 715.7,548.9 715.8,548.9 716,548.8 716.1,548.8 716.3,548.7 716.5,548.6 716.6,548.5 716.8,548.4 716.9,548.2 717.1,548.1 717.2,547.8 717.4,547.6 717.5,547.3 717.7,547 717.8,546.7 718,546.2 718.1,545.8 718.3,545.3 718.4,544.7 718.6,544 718.7,543.3 718.9,542.6 719,541.8 719.2,540.9 719.3,540.1 719.5,539.1 719.6,538.2 719.8,537.2 719.9,536.3 720.1,535.4 720.2,534.6 720.4,533.8 720.5,533.1 720.7,532.5 720.8,532.1 721,531.9 721.1,531.8 721.3,531.9 721.4,532.2 721.6,532.6 721.7,533.2 721.9,533.9 722,534.7 722.2,535.6 722.3,536.5 722.5,537.5 722.6,538.5 722.8,539.4 722.9,540.4 723.1,541.3 723.2,542.2 723.4,543 723.5,543.8 723.7,544.5 723.8,545.1 724,545.7 724.1,546.3 724.3,546.8 724.4,547.2 724.6,547.6 724.7,548 724.9,548.3 725,548.5 725.2,548.8 725.3,549 725.5,549.1 725.6,549.3 725.8,549.4 725.9,549.5 726.1,549.6 726.2,549.7 726.4,549.8 726.5,549.9 726.7,549.9 726.8,550 727,550 727.1,550.1 727.3,550.1 727.4,550.2 727.6,550.2 727.7,550.2 727.9,550.3 728,550.3 728.2,550.3 728.3,550.4 728.5,550.4 728.6,550.4 728.8,550.5 729,550.5 729.1,550.5 729.3,550.5 729.4,550.6 729.6,550.6 729.7,550.6 729.9,550.6 730,550.6 730.2,550.7 730.3,550.7 730.5,550.7 730.6,550.7 730.8,550.7 730.9,550.8 731.1,550.8 731.2,550.8 731.4,550.8 731.5,550.8 731.7,550.8 731.8,550.9 732,550.9 732.1,550.9 732.3,550.9 732.4,550.9 732.6,550.9 732.7,550.9 732.9,551 733,551 733.2,551 733.3,551 733.5,551 733.6,551 733.8,551 733.9,551 734.1,551 734.2,551.1 734.4,551.1 734.5,551.1 734.7,551.1 734.8,551.1 735,551.1 735.1,551.1 735.3,551.1 735.4,551.1 735.6,551.1 735.7,551.1 735.9,551.1 736,551.1 736.2,551.1 736.3,551 736.5,551 736.6,551 736.8,550.9 736.9,550.9 737.1,550.9 737.2,550.8 737.4,550.7 737.5,550.7 737.7,550.6 737.8,550.5 738,550.3 738.1,550.2 738.3,550.1 738.4,549.9 738.6,549.7 738.7,549.5 738.9,549.3 739,549.1 739.2,548.8 739.3,548.6 739.5,548.3 739.6,548.1 739.8,547.8 739.9,547.5 740.1,547.3 740.2,547.1 740.4,546.8 740.5,546.7 740.7,546.5 740.8,546.4 741,546.3 741.2,546.3 741.3,546.3 741.5,546.4 741.6,546.5 741.8,546.7 741.9,546.9 742.1,547.1 742.2,547.4 742.4,547.6 742.5,547.9 742.7,548.2 742.8,548.4 743,548.7 743.1,549 743.3,549.2 743.4,549.5 743.6,549.7 743.7,549.9 743.9,550.1 744,550.3 744.2,550.4 744.3,550.6 744.5,550.7 744.6,550.8 744.8,550.9 744.9,551 745.1,551 745.2,551.1 745.4,551.2 745.5,551.2 745.7,551.2 745.8,551.2 746,551.3 746.1,551.3 746.3,551.3 746.4,551.2 746.6,551.2 746.7,551.2 746.9,551.2 747,551.1 747.2,551 747.3,550.9 747.5,550.9 747.6,550.7 747.8,550.6 747.9,550.5 748.1,550.3 748.2,550.1 748.4,549.9 748.5,549.7 748.7,549.5 748.8,549.2 749,548.9 749.1,548.6 749.3,548.3 749.4,548 749.6,547.7 749.7,547.4 749.9,547.1 750,546.8 750.2,546.5 750.3,546.2 750.5,546 750.6,545.8 750.8,545.7 750.9,545.6 751.1,545.6 751.2,545.6 751.4,545.7 751.5,545.9 751.7,546.1 751.8,546.3 752,546.6 752.1,546.9 752.3,547.2 752.4,547.5 752.6,547.9 752.7,548.2 752.9,548.5 753,548.9 753.2,549.2 753.3,549.5 753.5,549.7 753.7,550 753.8,550.3 754,550.5 754.1,550.7 754.3,550.9 754.4,551 754.6,551.2 754.7,551.3 754.9,551.5 755,551.6 755.2,551.7 755.3,551.8 755.5,551.8 755.6,551.9 755.8,552 755.9,552 756.1,552.1 756.2,552.1 756.4,552.2 756.5,552.2 756.7,552.2 756.8,552.2 757,552.3 757.1,552.3 757.3,552.3 757.4,552.3 757.6,552.3 757.7,552.3 757.9,552.4 758,552.4 758.2,552.4 758.3,552.3 758.5,552.3 758.6,552.3 758.8,552.3 758.9,552.2 759.1,552.2 759.2,552.1 759.4,552.1 759.5,552 759.7,551.9 759.8,551.8 760,551.6 760.1,551.4 760.3,551.2 760.4,551 760.6,550.8 760.7,550.5 760.9,550.2 761,549.8 761.2,549.4 761.3,549 761.5,548.5 761.6,548 761.8,547.5 761.9,546.9 762.1,546.4 762.2,545.8 762.4,545.2 762.5,544.6 762.7,544 762.8,543.4 763,542.9 763.1,542.4 763.3,542 763.4,541.7 763.6,541.4 763.7,541.3 763.9,541.3 764,541.3 764.2,541.5 764.3,541.8 764.5,542.2 764.6,542.7 764.8,543.2 764.9,543.8 765.1,544.4 765.2,545 765.4,545.7 765.5,546.3 765.7,546.9 765.9,547.6 766,548.2 766.2,548.8 766.3,549.3 766.5,549.8 766.6,550.3 766.8,550.7 766.9,551.1 767.1,551.5 767.2,551.9 767.4,552.2 767.5,552.4 767.7,552.7 767.8,552.9 768,553.1 768.1,553.3 768.3,553.4 768.4,553.6 768.6,553.7 768.7,553.8 768.9,553.9 769,554 769.2,554.1 769.3,554.2 769.5,554.2 769.6,554.3 769.8,554.3 769.9,554.4 770.1,554.4 770.2,554.5 770.4,554.5 770.5,554.6 770.7,554.6 770.8,554.7 771,554.7 771.1,554.7 771.3,554.8 771.4,554.8 771.6,554.9 771.7,554.9 771.9,554.9 772,555 772.2,555 772.3,555 772.5,555 772.6,555.1 772.8,555.1 772.9,555.1 773.1,555.2 773.2,555.2 773.4,555.2 773.5,555.2 773.7,555.2 773.8,555.3 774,555.3 774.1,555.3 774.3,555.3 774.4,555.3 774.6,555.3 774.7,555.4 774.9,555.4 775,555.4 775.2,555.4 775.3,555.4 775.5,555.4 775.6,555.4 775.8,555.4 775.9,555.4 776.1,555.4 776.2,555.5 776.4,555.5 776.5,555.5 776.7,555.5 776.8,555.5 777,555.5 777.1,555.5 777.3,555.5 777.4,555.5 777.6,555.5 777.7,555.5 777.9,555.5 778,555.5 778.2,555.5 778.4,555.6 778.5,555.6 778.7,555.6 778.8,555.6 779,555.6 779.1,555.6 779.3,555.6 779.4,555.6 779.6,555.6 779.7,555.6 779.9,555.6 780,555.5 780.2,555.5 780.3,555.5 780.5,555.5 780.6,555.5 780.8,555.5 780.9,555.4 781.1,555.4 781.2,555.4 781.4,555.3 781.5,555.3 781.7,555.2 781.8,555.2 782,555.1 782.1,555.1 782.3,555 782.4,554.9 782.6,554.9 782.7,554.8 782.9,554.7 783,554.7 783.2,554.6 783.3,554.5 783.5,554.5 783.6,554.4 783.8,554.4 783.9,554.3 784.1,554.3 784.2,554.3 784.4,554.3 784.5,554.3 784.7,554.3 784.8,554.4 785,554.4 785.1,554.5 785.3,554.6 785.4,554.6 785.6,554.7 785.7,554.8 785.9,554.9 786,555 786.2,555 786.3,555.1 786.5,555.2 786.6,555.3 786.8,555.4 786.9,555.4 787.1,555.5 787.2,555.6 787.4,555.6 787.5,555.7 787.7,555.7 787.8,555.8 788,555.8 788.1,555.8 788.3,555.9 788.4,555.9 788.6,555.9 788.7,555.9 788.9,556 789,556 789.2,556 789.3,556 789.5,556 789.6,556.1 789.8,556.1 789.9,556.1 790.1,556.1 790.2,556.1 790.4,556.1 790.6,556.1 790.7,556.1 790.9,556.1 791,556.1 791.2,556.2 791.3,556.2 791.5,556.2 791.6,556.2 791.8,556.2 791.9,556.2 792.1,556.2 792.2,556.2 792.4,556.2 792.5,556.2 792.7,556.2 792.8,556.2 793,556.2 793.1,556.2 793.3,556.2 793.4,556.3 793.6,556.3 793.7,556.3 793.9,556.3 794,556.3 794.2,556.3 794.3,556.3 794.5,556.3 794.6,556.3 794.8,556.3 794.9,556.3 795.1,556.3 795.2,556.3 795.4,556.3 795.5,556.3 795.7,556.3 795.8,556.3 796,556.3 796.1,556.3 796.3,556.3 796.4,556.3 796.6,556.3 796.7,556.3 796.9,556.3 797,556.3 797.2,556.3 797.3,556.3 797.5,556.3 797.6,556.3 797.8,556.3 797.9,556.3 798.1,556.3 798.2,556.3 798.4,556.3 798.5,556.3 798.7,556.3 798.8,556.3 799,556.3 799.1,556.3 799.3,556.3 799.4,556.3 799.6,556.3 799.7,556.3 799.9,556.3 800,556.2 800.2,556.2 800.3,556.2 800.5,556.2 800.6,556.2 800.8,556.1 800.9,556.1 801.1,556.1 801.2,556 801.4,556 801.5,555.9 801.7,555.9 801.8,555.8 802,555.7 802.1,555.7 802.3,555.5 802.4,555.4 802.6,555.3 802.7,555.1 802.9,555 803.1,554.8 803.2,554.6 803.4,554.3 803.5,554.1 803.7,553.8 803.8,553.5 804,553.1 804.1,552.8 804.3,552.4 804.4,551.9 804.6,551.5 804.7,551.1 804.9,550.6 805,550.1 805.2,549.7 805.3,549.2 805.5,548.7 805.6,548.3 805.8,547.9 805.9,547.5 806.1,547.2 806.2,546.9 806.4,546.7 806.5,546.6 806.7,546.6 806.8,546.6 807,546.8 807.1,547 807.3,547.2 807.4,547.6 807.6,547.9 807.7,548.3 807.9,548.8 808,549.3 808.2,549.7 808.3,550.2 808.5,550.7 808.6,551.2 808.8,551.6 808.9,552.1 809.1,552.5 809.2,552.9 809.4,553.3 809.5,553.6 809.7,553.9 809.8,554.2 810,554.5 810.1,554.8 810.3,555 810.4,555.2 810.6,555.4 810.7,555.5 810.9,555.7 811,555.8 811.2,555.9 811.3,556 811.5,556.1 811.6,556.2 811.8,556.2 811.9,556.3 812.1,556.3 812.2,556.4 812.4,556.4 812.5,556.5 812.7,556.5 812.8,556.5 813,556.6 813.1,556.6 813.3,556.6 813.4,556.6 813.6,556.7 813.7,556.7 813.9,556.7 814,556.7 814.2,556.7 814.3,556.7 814.5,556.8 814.6,556.8 814.8,556.8 814.9,556.8 815.1,556.8 815.3,556.8 815.4,556.8 815.6,556.9 815.7,556.9 815.9,556.9 816,556.9 816.2,556.9 816.3,556.9 816.5,556.9 816.6,556.9 816.8,556.9 816.9,556.9 817.1,557 817.2,557 817.4,557 817.5,557 817.7,557 817.8,557 818,557 818.1,557 818.3,557 818.4,557 818.6,557 818.7,557 818.9,557 819,557.1 819.2,557.1 819.3,557.1 819.5,557.1 819.6,557.1 819.8,557.1 819.9,557.1 820.1,557.1 820.2,557.1 820.4,557.1 820.5,557.1 820.7,557.1 820.8,557.1 821,557.1 821.1,557.1 821.3,557.2 821.4,557.2 821.6,557.2 821.7,557.2 821.9,557.2 822,557.2 822.2,557.2 822.3,557.2 822.5,557.2 822.6,557.2 822.8,557.2 822.9,557.2 823.1,557.2 823.2,557.2 823.4,557.2 823.5,557.2 823.7,557.2 823.8,557.2 824,557.2 824.1,557.3 824.3,557.3 824.4,557.3 824.6,557.3 824.7,557.3 824.9,557.3 825,557.3 825.2,557.3 825.3,557.3 825.5,557.3 825.6,557.3 825.8,557.3 825.9,557.3 826.1,557.3 826.2,557.3 826.4,557.3 826.5,557.3 826.7,557.3 826.8,557.3 827,557.3 827.1,557.3 827.3,557.4 827.4,557.4 827.6,557.4 827.8,557.4 827.9,557.4 828.1,557.4 828.2,557.4 828.4,557.4 828.5,557.4 828.7,557.4 828.8,557.4 829,557.4 829.1,557.4 829.3,557.4 829.4,557.4 829.6,557.4 829.7,557.4 829.9,557.4 830,557.4 830.2,557.4 830.3,557.4 830.5,557.4 830.6,557.4 830.8,557.5 830.9,557.5 831.1,557.5 831.2,557.5 831.4,557.5 831.5,557.5 831.7,557.5 831.8,557.5 832,557.5 832.1,557.5 832.3,557.5 832.4,557.5 832.6,557.5 832.7,557.5 832.9,557.5 833,557.5 833.2,557.5 833.3,557.5 833.5,557.5 833.6,557.5 833.8,557.5 833.9,557.5 834.1,557.5 834.2,557.5 834.4,557.5 834.5,557.6 834.7,557.6 834.8,557.6 835,557.6 835.1,557.6 835.3,557.6 835.4,557.6 835.6,557.6 835.7,557.6 835.9,557.6 836,557.6 836.2,557.6 836.3,557.6 836.5,557.6 836.6,557.6 836.8,557.6 836.9,557.6 837.1,557.6 837.2,557.6 837.4,557.6 837.5,557.6 837.7,557.6 837.8,557.6 838,557.6 838.1,557.6 838.3,557.6 838.4,557.6 838.6,557.7 838.7,557.7 838.9,557.7 839,557.7 839.2,557.7 839.3,557.7 839.5,557.7 839.6,557.7 839.8,557.7 840,557.7 840.1,557.7 840.3,557.7 840.4,557.7 840.6,557.7 840.7,557.7 840.9,557.7 841,557.7 841.2,557.7 841.3,557.7 841.5,557.7 841.6,557.7 841.8,557.7 841.9,557.7 842.1,557.7 842.2,557.7 842.4,557.7 842.5,557.7 842.7,557.7 842.8,557.7 843,557.7 843.1,557.8 843.3,557.8 843.4,557.8 843.6,557.8 843.7,557.8 843.9,557.8 844,557.8 844.2,557.8 844.3,557.8 844.5,557.8 844.6,557.8 844.8,557.8 844.9,557.8 845.1,557.8 845.2,557.7 845.4,557.7 845.5,557.7 845.7,557.7 845.8,557.7 846,557.7 846.1,557.7 846.3,557.7 846.4,557.7 846.6,557.7 846.7,557.7 846.9,557.7 847,557.7 847.2,557.7 847.3,557.7 847.5,557.7 847.6,557.7 847.8,557.7 847.9,557.7 848.1,557.7 848.2,557.7 848.4,557.7 848.5,557.7 848.7,557.7 848.8,557.6 849,557.6 849.1,557.6 849.3,557.6 849.4,557.6 849.6,557.6 849.7,557.6 849.9,557.6 850,557.6 850.2,557.6 850.3,557.6 850.5,557.6 850.6,557.6 850.8,557.5 850.9,557.5 851.1,557.5 851.2,557.5 851.4,557.5 851.5,557.5 851.7,557.5 851.8,557.4 852,557.4 852.1,557.4 852.3,557.4 852.5,557.3 852.6,557.3 852.8,557.3 852.9,557.2 853.1,557.2 853.2,557.1 853.4,557.1 853.5,557 853.7,556.9 853.8,556.9 854,556.8 854.1,556.7 854.3,556.6 854.4,556.6 854.6,556.5 854.7,556.4 854.9,556.3 855,556.2 855.2,556.1 855.3,556 855.5,555.9 855.6,555.8 855.8,555.8 855.9,555.7 856.1,555.6 856.2,555.6 856.4,555.5 856.5,555.5 856.7,555.5 856.8,555.5 857,555.5 857.1,555.6 857.3,555.6 857.4,555.7 857.6,555.7 857.7,555.8 857.9,555.9 858,556 858.2,556 858.3,556.1 858.5,556.2 858.6,556.3 858.8,556.4 858.9,556.5 859.1,556.5 859.2,556.6 859.4,556.7 859.5,556.8 859.7,556.8 859.8,556.9 860,556.9 860.1,557 860.3,557 860.4,557.1 860.6,557.1 860.7,557.1 860.9,557.2 861,557.2 861.2,557.2 861.3,557.2 861.5,557.2 861.6,557.2 861.8,557.3 861.9,557.3 862.1,557.3 862.2,557.3 862.4,557.3 862.5,557.3 862.7,557.3 862.8,557.3 863,557.3 863.1,557.3 863.3,557.3 863.4,557.3 863.6,557.3 863.7,557.3 863.9,557.3 864,557.3 864.2,557.3 864.3,557.3 864.5,557.3 864.7,557.3 864.8,557.3 865,557.3 865.1,557.3 865.3,557.3 865.4,557.3 865.6,557.3 865.7,557.3 865.9,557.3 866,557.3 866.2,557.3 866.3,557.3 866.5,557.3 866.6,557.3 866.8,557.3 866.9,557.3 867.1,557.3 867.2,557.3 867.4,557.3 867.5,557.3 867.7,557.3 867.8,557.3 868,557.3 868.1,557.3 868.3,557.3 868.4,557.3 868.6,557.3 868.7,557.3 868.9,557.3 869,557.2 869.2,557.2 869.3,557.2 869.5,557.2 869.6,557.2 869.8,557.2 869.9,557.2 870.1,557.2 870.2,557.2 870.4,557.2 870.5,557.2 870.7,557.2 870.8,557.2 871,557.2 871.1,557.2 871.3,557.2 871.4,557.2 871.6,557.2 871.7,557.2 871.9,557.2 872,557.2 872.2,557.1 872.3,557.1 872.5,557.1 872.6,557.1 872.8,557.1 872.9,557.1 873.1,557.1 873.2,557.1 873.4,557.1 873.5,557.1 873.7,557.1 873.8,557.1 874,557.1 874.1,557.1 874.3,557.1 874.4,557.1 874.6,557.1 874.7,557 874.9,557 875,557 875.2,557 875.3,557 875.5,557 875.6,557 875.8,557 875.9,557 876.1,557 876.2,557 876.4,557 876.5,557 876.7,557 876.8,556.9 877,556.9 877.2,556.9 877.3,556.9 877.5,556.9 877.6,556.9 877.8,556.9 877.9,556.9 878.1,556.9 878.2,556.9 878.4,556.9 878.5,556.9 878.7,556.9 878.8,556.8 879,556.8 879.1,556.8 879.3,556.8 879.4,556.8 879.6,556.8 879.7,556.8 879.9,556.8 880,556.8 880.2,556.8 880.3,556.7 880.5,556.7 880.6,556.7 880.8,556.7 880.9,556.7 881.1,556.7 881.2,556.7 881.4,556.7 881.5,556.6 881.7,556.6 881.8,556.6 882,556.6 882.1,556.6 882.3,556.6 882.4,556.6 882.6,556.5 882.7,556.5 882.9,556.5 883,556.5 883.2,556.4 883.3,556.4 883.5,556.4 883.6,556.4 883.8,556.3 883.9,556.3 884.1,556.2 884.2,556.2 884.4,556.1 884.5,556.1 884.7,556 884.8,555.9 885,555.8 885.1,555.8 885.3,555.7 885.4,555.5 885.6,555.4 885.7,555.3 885.9,555.1 886,555 886.2,554.8 886.3,554.6 886.5,554.4 886.6,554.2 886.8,554 886.9,553.7 887.1,553.5 887.2,553.2 887.4,552.9 887.5,552.7 887.7,552.4 887.8,552.1 888,551.8 888.1,551.5 888.3,551.3 888.4,551 888.6,550.8 888.7,550.6 888.9,550.4 889,550.2 889.2,550.1 889.4,550.1 889.5,550 889.7,550.1 889.8,550.1 890,550.2 890.1,550.4 890.3,550.5 890.4,550.7 890.6,551 890.7,551.2 890.9,551.5 891,551.7 891.2,552 891.3,552.3 891.5,552.5 891.6,552.8 891.8,553.1 891.9,553.3 892.1,553.6 892.2,553.8 892.4,554 892.5,554.2 892.7,554.4 892.8,554.6 893,554.7 893.1,554.9 893.3,555 893.4,555.1 893.6,555.3 893.7,555.4 893.9,555.4 894,555.5 894.2,555.6 894.3,555.7 894.5,555.7 894.6,555.8 894.8,555.8 894.9,555.8 895.1,555.9 895.2,555.9 895.4,555.9 895.5,555.9 895.7,556 895.8,556 896,556 896.1,556 896.3,556 896.4,556 896.6,556 896.7,556 896.9,556 897,556 897.2,556 897.3,556 897.5,556 897.6,556 897.8,556 897.9,556 898.1,556 898.2,556 898.4,556 898.5,556 898.7,556 898.8,556 899,556 899.1,555.9 899.3,555.9 899.4,555.9 899.6,555.9 899.7,555.9 899.9,555.9 900,555.9 900.2,555.9 900.3,555.9 900.5,555.9 900.6,555.9 900.8,555.9 900.9,555.9 901.1,555.8 901.2,555.8 901.4,555.8 901.5,555.8 901.7,555.8 901.9,555.8 902,555.8 902.2,555.8 902.3,555.8 902.5,555.8 902.6,555.8 902.8,555.7 902.9,555.7 903.1,555.7 903.2,555.7 903.4,555.7 903.5,555.7 903.7,555.7 903.8,555.7 904,555.7 904.1,555.7 904.3,555.6 904.4,555.6 904.6,555.6 904.7,555.6 904.9,555.6 905,555.6 905.2,555.6 905.3,555.6 905.5,555.6 905.6,555.5 905.8,555.5 905.9,555.5 906.1,555.5 906.2,555.5 906.4,555.5 906.5,555.5 906.7,555.5 906.8,555.5 907,555.5 907.1,555.4 907.3,555.4 907.4,555.4 907.6,555.4 907.7,555.4 907.9,555.4 908,555.4 908.2,555.4 908.3,555.4 908.5,555.3 908.6,555.3 908.8,555.3 908.9,555.3 909.1,555.3 909.2,555.3 909.4,555.3 909.5,555.3 909.7,555.3 909.8,555.3 910,555.3 910.1,555.3 910.3,555.3 910.4,555.3 910.6,555.3 910.7,555.3 910.9,555.3 911,555.3 911.2,555.3 911.3,555.3 911.5,555.3 911.6,555.3 911.8,555.4 911.9,555.4 912.1,555.4 912.2,555.4 912.4,555.4 912.5,555.5 912.7,555.5 912.8,555.5 913,555.5 913.1,555.6 913.3,555.6 913.4,555.6 913.6,555.6 913.7,555.7 913.9,555.7 914.1,555.7 914.2,555.7 914.4,555.8 914.5,555.8 914.7,555.8 914.8,555.8 915,555.9 915.1,555.9 915.3,555.9 915.4,555.9 915.6,556 915.7,556 915.9,556 916,556 916.2,556.1 916.3,556.1 916.5,556.1 916.6,556.1 916.8,556.2 916.9,556.2 917.1,556.2 917.2,556.2 917.4,556.3 917.5,556.3 917.7,556.3 917.8,556.3 918,556.4 918.1,556.4 918.3,556.4 918.4,556.4 918.6,556.5 918.7,556.5 918.9,556.5 919,556.6 919.2,556.6 919.3,556.6 919.5,556.6 919.6,556.7 919.8,556.7 919.9,556.7 920.1,556.7 920.2,556.8 920.4,556.8 920.5,556.8 920.7,556.8 920.8,556.9 921,556.9 921.1,556.9 921.3,556.9 921.4,557 921.6,557 921.7,557 921.9,557 922,557.1 922.2,557.1 922.3,557.1 922.5,557.1 922.6,557.2 922.8,557.2 922.9,557.2 923.1,557.2 923.2,557.3 923.4,557.3 923.5,557.3 923.7,557.3 923.8,557.4 924,557.4 924.1,557.4 924.3,557.4 924.4,557.5 924.6,557.5 924.7,557.5 924.9,557.5 925,557.5 925.2,557.6 925.3,557.6 925.5,557.6 925.6,557.6 925.8,557.6 925.9,557.6 926.1,557.6 926.2,557.6 926.4,557.6 926.6,557.6 926.7,557.6 926.9,557.6 927,557.6 927.2,557.6 927.3,557.6 927.5,557.5 927.6,557.5 927.8,557.5 927.9,557.5 928.1,557.5 928.2,557.4 928.4,557.4 928.5,557.4 928.7,557.4 928.8,557.4 929,557.3 929.1,557.3 929.3,557.3 929.4,557.3 929.6,557.2 929.7,557.2 929.9,557.2 930,557.2 930.2,557.1 930.3,557.1 930.5,557.1 930.6,557.1 930.8,557 930.9,557 931.1,557 931.2,557 931.4,556.9 931.5,556.9 931.7,556.9 931.8,556.9 932,556.8 932.1,556.8 932.3,556.8 932.4,556.8 932.6,556.7 932.7,556.7 932.9,556.7 933,556.7 933.2,556.6 933.3,556.6 933.5,556.6 933.6,556.6 933.8,556.5 933.9,556.5 934.1,556.5 934.2,556.5 934.4,556.4 934.5,556.4 934.7,556.4 934.8,556.4 935,556.3 935.1,556.3 935.3,556.3 935.4,556.3 935.6,556.2 935.7,556.2 935.9,556.2 936,556.2 936.2,556.1 936.3,556.1 936.5,556.1 936.6,556.1 936.8,556 936.9,556 937.1,556 937.2,556 937.4,555.9 937.5,555.9 937.7,555.9 937.8,555.9 938,555.9 938.1,555.8 938.3,555.8 938.4,555.8 938.6,555.8 938.8,555.7 938.9,555.7 939.1,555.7 939.2,555.7 939.4,555.7 939.5,555.7 939.7,555.7 939.8,555.7 940,555.6 940.1,555.6 940.3,555.6 940.4,555.6 940.6,555.6 940.7,555.6 940.9,555.6 941,555.6 941.2,555.6 941.3,555.7 941.5,555.7 941.6,555.7 941.8,555.7 941.9,555.7 942.1,555.7 942.2,555.7 942.4,555.7 942.5,555.7 942.7,555.7 942.8,555.7 943,555.7 943.1,555.7 943.3,555.7 943.4,555.7 943.6,555.7 943.7,555.7 943.9,555.7 944,555.7 944.2,555.7 944.3,555.7 944.5,555.7 944.6,555.7 944.8,555.7 944.9,555.7 945.1,555.6 945.2,555.6 945.4,555.6 945.5,555.6 945.7,555.5 945.8,555.5 946,555.4 946.1,555.4 946.3,555.3 946.4,555.3 946.6,555.2 946.7,555.1 946.9,555 947,555 947.2,554.9 947.3,554.8 947.5,554.7 947.6,554.6 947.8,554.5 947.9,554.4 948.1,554.3 948.2,554.2 948.4,554.1 948.5,554 948.7,553.9 948.8,553.8 949,553.8 949.1,553.7 949.3,553.7 949.4,553.6 949.6,553.6 949.7,553.6 949.9,553.7 950,553.7 950.2,553.7 950.3,553.8 950.5,553.9 950.6,554 950.8,554.1 950.9,554.2 951.1,554.3 951.3,554.5 951.4,554.6 951.6,554.7 951.7,554.8 951.9,555 952,555.1 952.2,555.2 952.3,555.3 952.5,555.4 952.6,555.6 952.8,555.7 952.9,555.8 953.1,555.9 953.2,555.9 953.4,556 953.5,556.1 953.7,556.2 953.8,556.2 954,556.3 954.1,556.4 954.3,556.4 954.4,556.5 954.6,556.5 954.7,556.6 954.9,556.6 955,556.7 955.2,556.7 955.3,556.7 955.5,556.8 955.6,556.8 955.8,556.8 955.9,556.8 956.1,556.9 956.2,556.9 956.4,556.9 956.5,556.9 956.7,557 956.8,557 957,557 957.1,557 957.3,557 957.4,557 957.6,557 957.7,557.1 957.9,557.1 958,557.1 958.2,557.1 958.3,557.1 958.5,557.1 958.6,557.1 958.8,557.1 958.9,557 959.1,557 959.2,557 959.4,557 959.5,557 959.7,557 959.8,557 960,556.9 960.1,556.9 960.3,556.9 960.4,556.9 960.6,556.8 960.7,556.8 960.9,556.8 961,556.8 961.2,556.7 961.3,556.7 961.5,556.7 961.6,556.6 961.8,556.6 961.9,556.6 962.1,556.6 962.2,556.5 962.4,556.5 962.5,556.5 962.7,556.4 962.8,556.4 963,556.4 963.1,556.4 963.3,556.3 963.5,556.3 963.6,556.3 963.8,556.2 963.9,556.2 964.1,556.2 964.2,556.2 964.4,556.1 964.5,556.1 964.7,556.1 964.8,556 965,556 965.1,556 965.3,556 965.4,555.9 965.6,555.9 965.7,555.9 965.9,555.9 966,555.8 966.2,555.8 966.3,555.8 966.5,555.8 966.6,555.8 966.8,555.8 966.9,555.8 967.1,555.7 967.2,555.7 967.4,555.7 967.5,555.7 967.7,555.7 967.8,555.7 968,555.8 968.1,555.8 968.3,555.8 968.4,555.8 968.6,555.8 968.7,555.8 968.9,555.8 969,555.8 969.2,555.9 969.3,555.9 969.5,555.9 969.6,555.9 969.8,555.9 969.9,556 970.1,556 970.2,556 970.4,556 970.5,556 970.7,556 970.8,556.1 971,556.1 971.1,556.1 971.3,556.1 971.4,556.1 971.6,556.2 971.7,556.2 971.9,556.2 972,556.2 972.2,556.2 972.3,556.3 972.5,556.3 972.6,556.3 972.8,556.3 972.9,556.3 973.1,556.3 973.2,556.4 973.4,556.4 973.5,556.4 973.7,556.4 973.8,556.4 974,556.5 974.1,556.5 974.3,556.5 974.4,556.5 974.6,556.5 974.7,556.6 974.9,556.6 975,556.6 975.2,556.6 975.3,556.6 975.5,556.6 975.6,556.7 975.8,556.7 976,556.7 976.1,556.7 976.3,556.7 976.4,556.8 976.6,556.8 976.7,556.8 976.9,556.8 977,556.8 977.2,556.8 977.3,556.9 977.5,556.9 977.6,556.9 977.8,556.9 977.9,556.9 978.1,557 978.2,557 978.4,557 978.5,557 978.7,557 978.8,557.1 979,557.1 979.1,557.1 979.3,557.1 979.4,557.1 979.6,557.1 979.7,557.1 979.9,557.2 980,557.2 980.2,557.2 980.3,557.2 980.5,557.2 980.6,557.2 980.8,557.2 980.9,557.2 981.1,557.2 981.2,557.2 981.4,557.2 981.5,557.2 981.7,557.2 981.8,557.2 982,557.2 982.1,557.2 982.3,557.2 982.4,557.2 982.6,557.2 982.7,557.2 982.9,557.2 983,557.2 983.2,557.2 983.3,557.2 983.5,557.2 983.6,557.2 983.8,557.2 983.9,557.2 984.1,557.2 984.2,557.2 984.4,557.2 984.5,557.2 984.7,557.2 984.8,557.2 985,557.2 985.1,557.1 985.3,557.1 985.4,557.1 985.6,557.1 985.7,557.1 985.9,557.1 986,557.1 986.2,557.1 986.3,557.1 986.5,557.1 986.6,557.1 986.8,557.1 986.9,557.1 987.1,557.1 987.2,557.1 987.4,557.1 987.5,557.1 987.7,557.1 987.8,557.1 988,557.1 988.2,557 988.3,557 988.5,557 988.6,557 988.8,557 988.9,557 989.1,557 989.2,557 989.4,557 989.5,557 989.7,557 989.8,557 990,557 990.1,557 990.3,557 990.4,557 990.6,557 990.7,557 990.9,557 991,556.9 991.2,556.9 991.3,556.9 991.5,556.9 991.6,556.9 991.8,556.9 991.9,556.9 992.1,556.9 992.2,556.9 992.4,556.9 992.5,556.9 992.7,556.9 992.8,556.8 993,556.8 993.1,556.8 993.3,556.8 993.4,556.8 993.6,556.8 993.7,556.8 993.9,556.8 994,556.8 994.2,556.7 994.3,556.7 994.5,556.7 994.6,556.7 994.8,556.7 994.9,556.7 995.1,556.7 995.2,556.6 995.4,556.6 995.5,556.6 995.7,556.6 995.8,556.6 996,556.6 996.1,556.5 996.3,556.5 996.4,556.5 996.6,556.5 996.7,556.5 996.9,556.5 997,556.5 997.2,556.4 997.3,556.4 997.5,556.4 997.6,556.4 997.8,556.4 997.9,556.4 998.1,556.4 998.2,556.3 998.4,556.3 998.5,556.3 998.7,556.3 998.8,556.3 999,556.3 999.1,556.2 999.3,556.2 999.4,556.2 999.6,556.2 999.7,556.2 999.9,556.2 1000,556.2 1000.2,556.1 1000.3,556.1 1000.5,556.1 1000.7,556.1 1000.8,556.1 1001,556.1 1001.1,556.1 1001.3,556 1001.4,556 1001.6,556 1001.7,556 1001.9,556 1002,556 1002.2,555.9 1002.3,555.9 1002.5,555.9 1002.6,555.9 1002.8,555.9 1002.9,555.9 1003.1,555.9 1003.2,555.8 1003.4,555.8 1003.5,555.8 1003.7,555.8 1003.8,555.8 1004,555.8 1004.1,555.8 1004.3,555.8 1004.4,555.8 1004.6,555.8 1004.7,555.7 1004.9,555.7 1005,555.7 1005.2,555.7 1005.3,555.7 1005.5,555.8 1005.6,555.8 1005.8,555.8 1005.9,555.8 1006.1,555.8 1006.2,555.8 1006.4,555.8 1006.5,555.8 1006.7,555.9 1006.8,555.9 1007,555.9 1007.1,555.9 1007.3,555.9 1007.4,556 1007.6,556 1007.7,556 1007.9,556 1008,556.1 1008.2,556.1 1008.3,556.1 1008.5,556.1 1008.6,556.2 1008.8,556.2 1008.9,556.2 1009.1,556.2 1009.2,556.3 1009.4,556.3 1009.5,556.3 1009.7,556.4 1009.8,556.4 1010,556.4 1010.1,556.4 1010.3,556.5 1010.4,556.5 1010.6,556.5 1010.7,556.5 1010.9,556.6 1011,556.6 1011.2,556.6 1011.3,556.6 1011.5,556.7 1011.6,556.7 1011.8,556.7 1011.9,556.7 1012.1,556.8 1012.2,556.8 1012.4,556.8 1012.5,556.8 1012.7,556.9 1012.9,556.9 1013,556.9 1013.2,557 1013.3,557 1013.5,557 1013.6,557 1013.8,557.1 1013.9,557.1 1014.1,557.1 1014.2,557.1 1014.4,557.2 1014.5,557.2 1014.7,557.2 1014.8,557.2 1015,557.3 1015.1,557.3 1015.3,557.3 1015.4,557.3 1015.6,557.4 1015.7,557.4 1015.9,557.4 1016,557.4 1016.2,557.5 1016.3,557.5 1016.5,557.5 1016.6,557.6 1016.8,557.6 1016.9,557.6 1017.1,557.6 1017.2,557.7 1017.4,557.7 1017.5,557.7 1017.7,557.7 1017.8,557.8 1018,557.8 1018.1,557.8 1018.3,557.8 1018.4,557.9 1018.6,557.9 1018.7,557.9 1018.9,557.9 1019,557.9 1019.2,557.9 1019.3,558 1019.5,558 1019.6,558 1019.8,558 1019.9,558 1020.1,558 1020.2,558 1020.4,558 1020.5,558 1020.7,558 1020.8,558 1021,558 1021.1,558 1021.3,558 1021.4,558 1021.6,558 1021.7,558 1021.9,558 1022,558 1022.2,558 1022.3,557.9 1022.5,557.9 1022.6,557.9 1022.8,557.9 1022.9,557.9 1023.1,557.9 1023.2,557.9 1023.4,557.9 1023.5,557.9 1023.7,557.9 1023.8,557.8 1024,557.8 1024.1,557.8 1024.3,557.8 1024.4,557.8 1024.6,557.8 1024.7,557.8 1024.9,557.8 1025.1,557.8 1025.2,557.7 1025.4,557.7 1025.5,557.7 1025.7,557.7 1025.8,557.7 1026,557.7 1026.1,557.7 1026.3,557.7 1026.4,557.7 1026.6,557.6 1026.7,557.6 1026.9,557.6 1027,557.6 1027.2,557.6 1027.3,557.6 1027.5,557.6 1027.6,557.6 1027.8,557.6 1027.9,557.5 1028.1,557.5 1028.2,557.5 1028.4,557.5 1028.5,557.5 1028.7,557.5 1028.8,557.5 1029,557.5 1029.1,557.5 1029.3,557.5 1029.4,557.4 1029.6,557.4 1029.7,557.4 1029.9,557.4 1030,557.4 1030.2,557.4 1030.3,557.4 1030.5,557.4 1030.6,557.4 1030.8,557.3 1030.9,557.3 1031.1,557.3 1031.2,557.3 1031.4,557.3 1031.5,557.3 1031.7,557.3 1031.8,557.3 1032,557.3 1032.1,557.2 1032.3,557.2 1032.4,557.2 1032.6,557.2 1032.7,557.2 1032.9,557.2 1033,557.2 1033.2,557.2 1033.3,557.2 1033.5,557.1 1033.6,557.1 1033.8,557.1 1033.9,557.1 1034.1,557.1 1034.2,557.1 1034.4,557.1 1034.5,557.1 1034.7,557.1 1034.8,557 1035,557 1035.1,557 1035.3,557 1035.4,557 1035.6,557 1035.7,557 1035.9,557 1036,557 1036.2,556.9 1036.3,556.9 1036.5,556.9 1036.6,556.9 1036.8,556.9 1036.9,556.9 1037.1,556.9 1037.2,556.9 1037.4,556.9 1037.6,556.9 1037.7,556.8 1037.9,556.8 1038,556.8 1038.2,556.8 1038.3,556.8 1038.5,556.8 1038.6,556.8 1038.8,556.8 1038.9,556.8 1039.1,556.7 1039.2,556.7 1039.4,556.7 1039.5,556.7 1039.7,556.7 1039.8,556.7 1040,556.7 1040.1,556.7 1040.3,556.7 1040.4,556.6 1040.6,556.6 1040.7,556.6 1040.9,556.6 1041,556.6 1041.2,556.6 1041.3,556.6 1041.5,556.6 1041.6,556.6 1041.8,556.5 1041.9,556.5 1042.1,556.5 1042.2,556.5 1042.4,556.5 1042.5,556.5 1042.7,556.5 1042.8,556.5 1043,556.5 1043.1,556.5 1043.3,556.4 1043.4,556.4 1043.6,556.4 1043.7,556.4 1043.9,556.4 1044,556.4 1044.2,556.4 1044.3,556.4 1044.5,556.4 1044.6,556.4 1044.8,556.3 1044.9,556.3 1045.1,556.3 1045.2,556.3 1045.4,556.3 1045.5,556.3 1045.7,556.3 1045.8,556.3 1046,556.3 1046.1,556.3 1046.3,556.3 1046.4,556.2 1046.6,556.2 1046.7,556.2 1046.9,556.2 1047,556.2 1047.2,556.2 1047.3,556.2 1047.5,556.2 1047.6,556.2 1047.8,556.2 1047.9,556.2 1048.1,556.2 1048.2,556.1 1048.4,556.1 1048.5,556.1 1048.7,556.1 1048.8,556.1 1049,556.1 1049.1,556.1 1049.3,556.1 1049.4,556.1 1049.6,556.1 1049.8,556.1 1049.9,556.1 1050.1,556 1050.2,556 1050.4,556 1050.5,556 1050.7,556 1050.8,556 1051,556 1051.1,556 1051.3,556 1051.4,556 1051.6,556 1051.7,555.9 1051.9,555.9 1052,555.9 1052.2,555.9 1052.3,555.9 1052.5,555.9 1052.6,555.9 1052.8,555.9 1052.9,555.9 1053.1,555.9 1053.2,555.9 1053.4,555.9 1053.5,555.8 1053.7,555.8 1053.8,555.8 1054,555.8 1054.1,555.8 1054.3,555.8 1054.4,555.8 1054.6,555.8 1054.7,555.8 1054.9,555.8 1055,555.8 1055.2,555.8 1055.3,555.7 1055.5,555.7 1055.6,555.7 1055.8,555.7 1055.9,555.7 1056.1,555.7 1056.2,555.7 1056.4,555.7 1056.5,555.7 1056.7,555.7 1056.8,555.6 1057,555.6 1057.1,555.6 1057.3,555.6 1057.4,555.6 1057.6,555.6 1057.7,555.6 1057.9,555.5 1058,555.5 1058.2,555.5 1058.3,555.5 1058.5,555.5 1058.6,555.5 1058.8,555.4 1058.9,555.4 1059.1,555.4 1059.2,555.4 1059.4,555.4 1059.5,555.4 1059.7,555.3 1059.8,555.3 1060,555.3 1060.1,555.3 1060.3,555.3 1060.4,555.2 1060.6,555.2 1060.7,555.2 1060.9,555.2 1061,555.2 1061.2,555.1 1061.3,555.1 1061.5,555.1 1061.6,555.1 1061.8,555.1 1061.9,555 1062.1,555 1062.3,555 1062.4,555 1062.6,555 1062.7,555 1062.9,554.9 1063,554.9 1063.2,554.9 1063.3,554.9 1063.5,554.9 1063.6,554.8 1063.8,554.8 1063.9,554.8 1064.1,554.8 1064.2,554.8 1064.4,554.7 1064.5,554.7 1064.7,554.7 1064.8,554.7 1065,554.7 1065.1,554.6 1065.3,554.6 1065.4,554.6 1065.6,554.6 1065.7,554.6 1065.9,554.6 1066,554.5 1066.2,554.5 1066.3,554.5 1066.5,554.5 1066.6,554.5 1066.8,554.4 1066.9,554.4 1067.1,554.4 1067.2,554.4 1067.4,554.4 1067.5,554.3 1067.7,554.3 1067.8,554.3 1068,554.3 1068.1,554.3 1068.3,554.2 1068.4,554.2 1068.6,554.2 1068.7,554.2 1068.9,554.2 1069,554.2 1069.2,554.1 1069.3,554.1 1069.5,554.1 1069.6,554.1 1069.8,554.1 1069.9,554.1 1070.1,554 1070.2,554 1070.4,554 1070.5,554 1070.7,554 1070.8,554 1071,554 1071.1,554 1071.3,554 1071.4,554 1071.6,554 1071.7,554 1071.9,554 1072,554 1072.2,554 1072.3,554 1072.5,554.1 1072.6,554.1 1072.8,554.1 1072.9,554.1 1073.1,554.1 1073.2,554.1 1073.4,554.1 1073.5,554.1 1073.7,554.2 1073.8,554.2 1074,554.2 1074.1,554.2 1074.3,554.2 1074.5,554.2 1074.6,554.2 1074.8,554.3 1074.9,554.3 1075.1,554.3 1075.2,554.3 1075.4,554.3 1075.5,554.3 1075.7,554.3 1075.8,554.4 1076,554.4 1076.1,554.4 1076.3,554.4 1076.4,554.4 1076.6,554.4 1076.7,554.4 1076.9,554.5 1077,554.5 1077.2,554.5 1077.3,554.5 1077.5,554.5 1077.6,554.5 1077.8,554.5 1077.9,554.6 1078.1,554.6 1078.2,554.6 1078.4,554.6 1078.5,554.6 1078.7,554.6 1078.8,554.7 1079,554.7 1079.1,554.7 1079.3,554.7 1079.4,554.7 1079.6,554.7 1079.7,554.7 1079.9,554.8 1080,554.8 1080.2,554.8 1080.3,554.8 1080.5,554.8 1080.6,554.8 1080.8,554.8 1080.9,554.9 1081.1,554.9 1081.2,554.9 1081.4,554.9 1081.5,554.9 1081.7,554.9 1081.8,554.9 1082,555 1082.1,555 1082.3,555 1082.4,555 1082.6,555 1082.7,555 1082.9,555 1083,555.1 1083.2,555.1 1083.3,555.1 1083.5,555.1 1083.6,555.1 1083.8,555.1 1083.9,555.2 1084.1,555.2 1084.2,555.2 1084.4,555.2 1084.5,555.2 1084.7,555.2 1084.8,555.3 1085,555.3 1085.1,555.3 1085.3,555.3 1085.4,555.3 1085.6,555.4 1085.7,555.4 1085.9,555.4 1086,555.4 1086.2,555.4 1086.3,555.5 1086.5,555.5 1086.6,555.5 1086.8,555.5 1087,555.6 1087.1,555.6 1087.3,555.6 1087.4,555.6 1087.6,555.7 1087.7,555.7 1087.9,555.7 1088,555.7 1088.2,555.7 1088.3,555.8 1088.5,555.8 1088.6,555.8 1088.8,555.8 1088.9,555.9 1089.1,555.9 1089.2,555.9 1089.4,555.9 1089.5,556 1089.7,556 1089.8,556 1090,556 1090.1,556.1 1090.3,556.1 1090.4,556.1 1090.6,556.1 1090.7,556.1 1090.9,556.2 1091,556.2 1091.2,556.2 1091.3,556.2 1091.5,556.3 1091.6,556.3 1091.8,556.3 1091.9,556.3 1092.1,556.4 1092.2,556.4 1092.4,556.4 1092.5,556.4 1092.7,556.4 1092.8,556.5 1093,556.5 1093.1,556.5 1093.3,556.5 1093.4,556.6 1093.6,556.6 1093.7,556.6 1093.9,556.6 1094,556.7 1094.2,556.7 1094.3,556.7 1094.5,556.7 1094.6,556.7 1094.8,556.8 1094.9,556.8 1095.1,556.8 1095.2,556.8 1095.4,556.9 1095.5,556.9 1095.7,556.9 1095.8,556.9 1096,557 1096.1,557 1096.3,557 1096.4,557 1096.6,557 1096.7,557.1 1096.9,557.1 1097,557.1 1097.2,557.1 1097.3,557.1 1097.5,557.2 1097.6,557.2 1097.8,557.2 1097.9,557.2 1098.1,557.2 1098.2,557.2 1098.4,557.2 1098.5,557.2 1098.7,557.2 1098.8,557.2 1099,557.2 1099.2,557.2 1099.3,557.2 1099.5,557.2 1099.6,557.2 1099.8,557.2 1099.9,557.2 1100.1,557.2 1100.2,557.2 1100.4,557.2 1100.5,557.2 1100.7,557.2 1100.8,557.2 1101,557.1 1101.1,557.1 1101.3,557.1 1101.4,557.1 1101.6,557.1 1101.7,557.1 1101.9,557.1 1102,557.1 1102.2,557.1 1102.3,557.1 1102.5,557.1 1102.6,557.1 1102.8,557 1102.9,557 1103.1,557 1103.2,557 1103.4,557 1103.5,557 1103.7,557 1103.8,557 1104,557 1104.1,557 1104.3,557 1104.4,556.9 1104.6,556.9 1104.7,556.9 1104.9,556.9 1105,556.9 1105.2,556.9 1105.3,556.9 1105.5,556.9 1105.6,556.9 1105.8,556.9 1105.9,556.9 1106.1,556.8 1106.2,556.8 1106.4,556.8 1106.5,556.8 1106.7,556.8 1106.8,556.8 1107,556.8 1107.1,556.8 1107.3,556.8 1107.4,556.8 1107.6,556.8 1107.7,556.8 1107.9,556.7 1108,556.7 1108.2,556.7 1108.3,556.7 1108.5,556.7 1108.6,556.7 1108.8,556.7 1108.9,556.7 1109.1,556.7 1109.2,556.7 1109.4,556.7 1109.5,556.6 1109.7,556.6 1109.8,556.6 1110,556.6 1110.1,556.6 1110.3,556.6 1110.4,556.6 1110.6,556.6 1110.7,556.6 1110.9,556.6 1111,556.6 1111.2,556.5 1111.3,556.5 1111.5,556.5 1111.7,556.5 1111.8,556.5 1112,556.5 1112.1,556.5 1112.3,556.5 1112.4,556.5 1112.6,556.5 1112.7,556.5 1112.9,556.5 1113,556.5 1113.2,556.5 1113.3,556.5 1113.5,556.5 1113.6,556.5 1113.8,556.5 1113.9,556.5 1114.1,556.5 1114.2,556.5 1114.4,556.5 1114.5,556.5 1114.7,556.5 1114.8,556.6 1115,556.6 1115.1,556.6 1115.3,556.6 1115.4,556.6 1115.6,556.6 1115.7,556.7 1115.9,556.7 1116,556.7 1116.2,556.7 1116.3,556.7 1116.5,556.7 1116.6,556.8 1116.8,556.8 1116.9,556.8 1117.1,556.8 1117.2,556.8 1117.4,556.8 1117.5,556.9 1117.7,556.9 1117.8,556.9 1118,556.9 1118.1,556.9 1118.3,556.9 1118.4,557 1118.6,557 1118.7,557 1118.9,557 1119,557 1119.2,557.1 1119.3,557.1 1119.5,557.1 1119.6,557.1 1119.8,557.1 1119.9,557.1 1120.1,557.2 1120.2,557.2 1120.4,557.2 1120.5,557.2 1120.7,557.2 1120.8,557.2 1121,557.3 1121.1,557.3 1121.3,557.3 1121.4,557.3 1121.6,557.3 1121.7,557.3 1121.9,557.4 1122,557.4 1122.2,557.4 1122.3,557.4 1122.5,557.4 1122.6,557.5 1122.8,557.5 1122.9,557.5 1123.1,557.5 1123.2,557.5 1123.4,557.5 1123.5,557.6 1123.7,557.6 1123.9,557.6 1124,557.6 1124.2,557.6 1124.3,557.6 1124.5,557.6 1124.6,557.6 1124.8,557.7 1124.9,557.7 1125.1,557.7 1125.2,557.7 1125.4,557.7 1125.5,557.7 1125.7,557.7 1125.8,557.7 1126,557.7 1126.1,557.6 1126.3,557.6 1126.4,557.6 1126.6,557.6 1126.7,557.6 1126.9,557.6 1127,557.6 1127.2,557.5 1127.3,557.5 1127.5,557.5 1127.6,557.5 1127.8,557.4 1127.9,557.4 1128.1,557.4 1128.2,557.4 1128.4,557.4 1128.5,557.3 1128.7,557.3 1128.8,557.3 1129,557.3 1129.1,557.2 1129.3,557.2 1129.4,557.2 1129.6,557.2 1129.7,557.1 1129.9,557.1 1130,557.1 1130.2,557.1 1130.3,557 1130.5,557 1130.6,557 1130.8,557 1130.9,556.9 1131.1,556.9 1131.2,556.9 1131.4,556.9 1131.5,556.8 1131.7,556.8 1131.8,556.8 1132,556.8 1132.1,556.7 1132.3,556.7 1132.4,556.7 1132.6,556.7 1132.7,556.6 1132.9,556.6 1133,556.6 1133.2,556.6 1133.3,556.5 1133.5,556.5 1133.6,556.5 1133.8,556.5 1133.9,556.4 1134.1,556.4 1134.2,556.4 1134.4,556.4 1134.5,556.4 1134.7,556.3 1134.8,556.3 1135,556.3 1135.1,556.3 1135.3,556.2 1135.4,556.2 1135.6,556.2 1135.7,556.2 1135.9,556.2 1136,556.1 1136.2,556.1 1136.4,556.1 1136.5,556.1 1136.7,556.1 1136.8,556 1137,556 1137.1,556 1137.3,556 1137.4,556 1137.6,555.9 1137.7,555.9 1137.9,555.9 1138,555.9 1138.2,555.9 1138.3,555.8 1138.5,555.8 1138.6,555.8 1138.8,555.8 1138.9,555.8 1139.1,555.7 1139.2,555.7 1139.4,555.7 1139.5,555.7 1139.7,555.7 1139.8,555.6 1140,555.6 1140.1,555.6 1140.3,555.6 1140.4,555.6 1140.6,555.5 1140.7,555.5 1140.9,555.5 1141,555.5 1141.2,555.5 1141.3,555.4 1141.5,555.4 1141.6,555.4 1141.8,555.4 1141.9,555.4 1142.1,555.3 1142.2,555.3 1142.4,555.3 1142.5,555.3 1142.7,555.3 1142.8,555.2 1143,555.2 1143.1,555.2 1143.3,555.2 1143.4,555.2 1143.6,555.1 1143.7,555.1 1143.9,555.1 1144,555.1 1144.2,555.1 1144.3,555 1144.5,555 1144.6,555 1144.8,555 1144.9,555 1145.1,555 1145.2,554.9 1145.4,554.9 1145.5,554.9 1145.7,554.9 1145.8,554.9 1146,554.9 1146.1,554.9 1146.3,554.9 1146.4,554.9 1146.6,554.9 1146.7,554.9 1146.9,555 1147,555 1147.2,555 1147.3,555 1147.5,555.1 1147.6,555.1 1147.8,555.1 1147.9,555.2 1148.1,555.2 1148.2,555.2 1148.4,555.3 1148.6,555.3 1148.7,555.4 1148.9,555.4 1149,555.5 1149.2,555.5 1149.3,555.6 1149.5,555.6 1149.6,555.7 1149.8,555.7 1149.9,555.7 1150.1,555.8 1150.2,555.8 1150.4,555.9 1150.5,555.9 1150.7,556 1150.8,556 1151,556.1 1151.1,556.1 1151.3,556.2 1151.4,556.2 1151.6,556.3 1151.7,556.3 1151.9,556.4 1152,556.4 1152.2,556.5 1152.3,556.5 1152.5,556.6 1152.6,556.6 1152.8,556.7 1152.9,556.7 1153.1,556.8 1153.2,556.8 1153.4,556.9 1153.5,556.9 1153.7,557 1153.8,557 1154,557.1 1154.1,557.1 1154.3,557.2 1154.4,557.2 1154.6,557.2 1154.7,557.3 1154.9,557.3 1155,557.4 1155.2,557.4 1155.3,557.4 1155.5,557.5 1155.6,557.5 1155.8,557.5 1155.9,557.6 1156.1,557.6 1156.2,557.6 1156.4,557.6 1156.5,557.6 1156.7,557.6 1156.8,557.6 1157,557.6 1157.1,557.6 1157.3,557.6 1157.4,557.6 1157.6,557.6 1157.7,557.6 1157.9,557.6 1158,557.6 1158.2,557.6 1158.3,557.5 1158.5,557.5 1158.6,557.5 1158.8,557.5 1158.9,557.5 1159.1,557.5 1159.2,557.4 1159.4,557.4 1159.5,557.4 1159.7,557.4 1159.8,557.4 1160,557.4 1160.1,557.3 1160.3,557.3 1160.4,557.3 1160.6,557.3 1160.7,557.3 1160.9,557.3 1161.1,557.2 1161.2,557.2 1161.4,557.2 1161.5,557.2 1161.7,557.2 1161.8,557.1 1162,557.1 1162.1,557.1 1162.3,557.1 1162.4,557.1 1162.6,557.1 1162.7,557 1162.9,557 1163,557 1163.2,557 1163.3,557 1163.5,557 1163.6,556.9 1163.8,556.9 1163.9,556.9 1164.1,556.9 1164.2,556.9 1164.4,556.8 1164.5,556.8 1164.7,556.8 1164.8,556.8 1165,556.8 1165.1,556.8 1165.3,556.7 1165.4,556.7 1165.6,556.7 1165.7,556.7 1165.9,556.7 1166,556.7 1166.2,556.6 1166.3,556.6 1166.5,556.6 1166.6,556.6 1166.8,556.6 1166.9,556.6 1167.1,556.6 1167.2,556.6 1167.4,556.6 1167.5,556.6 1167.7,556.6 1167.8,556.6 1168,556.6 1168.1,556.6 1168.3,556.6 1168.4,556.6 1168.6,556.6 1168.7,556.6 1168.9,556.6 1169,556.7 1169.2,556.7 1169.3,556.7 1169.5,556.7 1169.6,556.8 1169.8,556.8 1169.9,556.8 1170.1,556.8 1170.2,556.9 1170.4,556.9 1170.5,556.9 1170.7,557 1170.8,557 1171,557 1171.1,557.1 1171.3,557.1 1171.4,557.1 1171.6,557.2 1171.7,557.2 1171.9,557.2 1172,557.3 1172.2,557.3 1172.3,557.3 1172.5,557.4 1172.6,557.4 1172.8,557.4 1172.9,557.5 1173.1,557.5 1173.3,557.5 1173.4,557.6 1173.6,557.6 1173.7,557.6 1173.9,557.7 1174,557.7 1174.2,557.7 1174.3,557.8 1174.5,557.8 1174.6,557.8 1174.8,557.9 1174.9,557.9 1175.1,557.9 1175.2,558 1175.4,558 1175.5,558 1175.7,558.1 1175.8,558.1 1176,558.1 1176.1,558.2 1176.3,558.2 1176.4,558.2 1176.6,558.3 1176.7,558.3 1176.9,558.3 1177,558.4 1177.2,558.4 1177.3,558.4 1177.5,558.5 1177.6,558.5 1177.8,558.5 1177.9,558.6 1178.1,558.6 1178.2,558.6 1178.4,558.7 1178.5,558.7 1178.7,558.7 1178.8,558.8 1179,558.8 1179.1,558.8 1179.3,558.8 1179.4,558.9 1179.6,558.9 1179.7,558.9 1179.9,558.9 1180,559 1180.2,559 1180.3,559 1180.5,559 1180.6,559 1180.8,559 1180.9,559.1 1181.1,559.1 1181.2,559.1 1181.4,559.1 1181.5,559.1 1181.7,559.1 1181.8,559.1 1182,559.1 1182.1,559.2 1182.3,559.2 1182.4,559.2 1182.6,559.2 1182.7,559.2 1182.9,559.2 1183,559.2 1183.2,559.2 1183.3,559.2 1183.5,559.2 1183.6,559.2 1183.8,559.3 1183.9,559.3 1184.1,559.3 1184.2,559.3 1184.4,559.3 1184.5,559.3 1184.7,559.3 1184.8,559.3 1185,559.3 1185.1,559.3 1185.3,559.3 1185.4,559.4 1185.6,559.4 1185.8,559.4 1185.9,559.4 1186.1,559.4 1186.2,559.4 1186.4,559.4 1186.5,559.4 1186.7,559.4 1186.8,559.4 1187,559.4 1187.1,559.4 1187.3,559.5 1187.4,559.5 1187.6,559.5 1187.7,559.5 1187.9,559.5 1188,559.5 1188.2,559.5 1188.3,559.5 1188.5,559.5 1188.6,559.5 1188.8,559.5 1188.9,559.6 1189.1,559.6 1189.2,559.6 1189.4,559.6 1189.5,559.6 1189.7,559.6 1189.8,559.6 1190,559.6 1190.1,559.6 1190.3,559.6 1190.4,559.6 1190.6,559.6 1190.7,559.7 1190.9,559.7 1191,559.7 1191.2,559.7 1191.3,559.7 1191.5,559.7 1191.6,559.7 1191.8,559.7 1191.9,559.7 1192.1,559.7 1192.2,559.7 1192.4,559.8 1192.5,559.8 1192.7,559.8 1192.8,559.8 1193,559.8 1193.1,559.8 1193.3,559.8 1193.4,559.8 1193.6,559.8 1193.7,559.8 1193.9,559.8 1194,559.9 1194.2,559.9 1194.3,559.9 1194.5,559.9 1194.6,559.9 1194.8,559.9 1194.9,559.9 1195.1,559.9 1195.2,559.9 1195.4,559.9 1195.5,559.9 1195.7,559.9 1195.8,560 1196,560 1196.1,560 1196.3,560 1196.4,560 1196.6,560 1196.7,560 1196.9,560 1197,560 1197.2,560 1197.3,560 1197.5,560.1 1197.6,560.1 1197.8,560.1 1198,560.1 1198.1,560.1 1198.3,560.1 1198.4,560.1 1198.6,560.1 1198.7,560.1 1198.9,560.1 1199,560.1 1199.2,560.1 1199.3,560.2 1199.5,560.2 1199.6,560.2 1199.8,560.2 1199.9,560.2 1200.1,560.2 1200.2,560.2 1200.4,560.2 1200.5,560.2 1200.7,560.2 1200.8,560.2 1201,560.3 1201.1,560.3 1201.3,560.3 1201.4,560.3 1201.6,560.3 1201.7,560.3 1201.9,560.3 1202,560.3 1202.2,560.3 1202.3,560.3 1202.5,560.3 1202.6,560.4 1202.8,560.4 1202.9,560.4 1203.1,560.4 1203.2,560.4 1203.4,560.4 1203.5,560.4 1203.7,560.4 1203.8,560.4 1204,560.4 1204.1,560.4 1204.3,560.4 1204.4,560.5 1204.6,560.5 1204.7,560.5 1204.9,560.5 1205,560.5 1205.2,560.5 1205.3,560.5 1205.5,560.5 1205.6,560.5 1205.8,560.5 1205.9,560.5 1206.1,560.6 1206.2,560.6 1206.4,560.6 1206.5,560.6 1206.7,560.6 1206.8,560.6 1207,560.6 1207.1,560.6 1207.3,560.6 1207.4,560.6 1207.6,560.6 1207.7,560.6 1207.9,560.6 1208,560.6 1208.2,560.6 1208.3,560.7 1208.5,560.7 1208.6,560.7 1208.8,560.7 1208.9,560.7 1209.1,560.7 1209.2,560.7 1209.4,560.6 1209.5,560.6 1209.7,560.6 1209.8,560.6 1210,560.6 1210.1,560.6 1210.3,560.6 1210.5,560.6 1210.6,560.6 1210.8,560.6 1210.9,560.6 1211.1,560.6 1211.2,560.5 1211.4,560.5 1211.5,560.5 1211.7,560.5 1211.8,560.5 1212,560.5 1212.1,560.5 1212.3,560.5 1212.4,560.5 1212.6,560.5 1212.7,560.4 1212.9,560.4 1213,560.4 1213.2,560.4 1213.3,560.4 1213.5,560.4 1213.6,560.4 1213.8,560.4 1213.9,560.3 1214.1,560.3 1214.2,560.3 1214.4,560.3 1214.5,560.3 1214.7,560.3 1214.8,560.3 1215,560.3 1215.1,560.3 1215.3,560.2 1215.4,560.2 1215.6,560.2 1215.7,560.2 1215.9,560.2 1216,560.2 1216.2,560.2 1216.3,560.2 1216.5,560.2 1216.6,560.1 1216.8,560.1 1216.9,560.1 1217.1,560.1 1217.2,560.1 1217.4,560.1 1217.5,560.1 1217.7,560.1 1217.8,560.1 1218,560 1218.1,560 1218.3,560 1218.4,560 1218.6,560 1218.7,560 1218.9,560 1219,560 1219.2,560 1219.3,559.9 1219.5,559.9 1219.6,559.9 1219.8,559.9 1219.9,559.9 1220.1,559.9 1220.2,559.9 1220.4,559.9 1220.5,559.9 1220.7,559.8 1220.8,559.8 1221,559.8 1221.1,559.8 1221.3,559.8 1221.4,559.8 1221.6,559.8 1221.7,559.8 1221.9,559.8 1222,559.7 1222.2,559.7 1222.3,559.7 1222.5,559.7 1222.7,559.7 1222.8,559.7 1223,559.7 1223.1,559.7 1223.3,559.7 1223.4,559.6 1223.6,559.6 1223.7,559.6 1223.9,559.6 1224,559.6 1224.2,559.6 1224.3,559.6 1224.5,559.6 1224.6,559.6 1224.8,559.5 1224.9,559.5 1225.1,559.5 1225.2,559.5 1225.4,559.5 1225.5,559.5 1225.7,559.5 1225.8,559.5 1226,559.5 1226.1,559.5 1226.3,559.4 1226.4,559.4 1226.6,559.4 1226.7,559.4 1226.9,559.4 1227,559.4 1227.2,559.4 1227.3,559.4 1227.5,559.4 1227.6,559.4 1227.8,559.4 1227.9,559.4 1228.1,559.4 1228.2,559.4 1228.4,559.4 1228.5,559.4 1228.7,559.4 1228.8,559.4 1229,559.5 1229.1,559.5 1229.3,559.5 1229.4,559.5 1229.6,559.5 1229.7,559.5 1229.9,559.5 1230,559.5 1230.2,559.6 1230.3,559.6 1230.5,559.6 1230.6,559.6 1230.8,559.6 1230.9,559.6 1231.1,559.6 1231.2,559.7 1231.4,559.7 1231.5,559.7 1231.7,559.7 1231.8,559.7 1232,559.7 1232.1,559.7 1232.3,559.8 1232.4,559.8 1232.6,559.8 1232.7,559.8 1232.9,559.8 1233,559.8 1233.2,559.8 1233.3,559.9 1233.5,559.9 1233.6,559.9 1233.8,559.9 1233.9,559.9 1234.1,559.9 1234.2,559.9 1234.4,560 1234.5,560 1234.7,560 1234.8,560 1235,560 1235.2,560 1235.3,560 1235.5,560.1 1235.6,560.1 1235.8,560.1 1235.9,560.1 1236.1,560.1 1236.2,560.1 1236.4,560.1 1236.5,560.2 1236.7,560.2 1236.8,560.2 1237,560.2 1237.1,560.2 1237.3,560.2 1237.4,560.2 1237.6,560.2 1237.7,560.2 1237.9,560.2 1238,560.2 1238.2,560.2 1238.3,560.2 1238.5,560.2 1238.6,560.2 1238.8,560.2 1238.9,560.2 1239.1,560.2 1239.2,560.2 1239.4,560.2 1239.5,560.2 1239.7,560.2 1239.8,560.2 1240,560.2 1240.1,560.2 1240.3,560.2 1240.4,560.2 1240.6,560.1 1240.7,560.1 1240.9,560.1 1241,560.1 1241.2,560.1 1241.3,560.1 1241.5,560.1 1241.6,560.1 1241.8,560.1 1241.9,560.1 1242.1,560 1242.2,560 1242.4,560 1242.5,560 1242.7,560 1242.8,560 1243,560 1243.1,560 1243.3,560 1243.4,560 1243.6,560 1243.7,559.9 1243.9,559.9 1244,559.9 1244.2,559.9 1244.3,559.9 1244.5,559.9 1244.6,559.9 1244.8,559.9 1244.9,559.9 1245.1,559.9 1245.2,559.8 1245.4,559.8 1245.5,559.8 1245.7,559.8 1245.8,559.8 1246,559.8 1246.1,559.8 1246.3,559.8 1246.4,559.8 1246.6,559.8 1246.7,559.7 1246.9,559.7 1247,559.7 1247.2,559.7 1247.4,559.7 1247.5,559.7 1247.7,559.7 1247.8,559.7 1248,559.7 1248.1,559.7 1248.3,559.7 1248.4,559.6 1248.6,559.6 1248.7,559.6 1248.9,559.6 1249,559.6 1249.2,559.6 1249.3,559.6 1249.5,559.6 1249.6,559.6 1249.8,559.6 1249.9,559.5 1250.1,559.5 1250.2,559.5 1250.4,559.5 1250.5,559.5 1250.7,559.5 1250.8,559.5 1251,559.5 1251.1,559.5 1251.3,559.5 1251.4,559.4 1251.6,559.4 1251.7,559.4 1251.9,559.4 1252,559.4 1252.2,559.4 1252.3,559.4 1252.5,559.4 1252.6,559.4 1252.8,559.4 1252.9,559.3 1253.1,559.3 1253.2,559.3 1253.4,559.3 1253.5,559.3 1253.7,559.3 1253.8,559.3 1254,559.2 1254.1,559.2 1254.3,559.2 1254.4,559.2 1254.6,559.2 1254.7,559.2 1254.9,559.2 1255,559.1 1255.2,559.1 1255.3,559.1 1255.5,559.1 1255.6,559.1 1255.8,559.1 1255.9,559 1256.1,559 1256.2,559 1256.4,559 1256.5,559 1256.7,559 1256.8,558.9 1257,558.9 1257.1,558.9 1257.3,558.9 1257.4,558.9 1257.6,558.9 1257.7,558.9 1257.9,558.8 1258,558.8 1258.2,558.8 1258.3,558.8 1258.5,558.8 1258.6,558.8 1258.8,558.7 1258.9,558.7 1259.1,558.7 1259.2,558.7 1259.4,558.7 1259.5,558.7 1259.7,558.6 1259.9,558.6 1260,558.6 1260.2,558.6 1260.3,558.6 1260.5,558.6 1260.6,558.5 1260.8,558.5 1260.9,558.5 1261.1,558.5 1261.2,558.5 1261.4,558.5 1261.5,558.4 1261.7,558.4 1261.8,558.4 1262,558.4 1262.1,558.4 1262.3,558.4 1262.4,558.3 1262.6,558.3 1262.7,558.3 1262.9,558.3 1263,558.3 1263.2,558.3 1263.3,558.3 1263.5,558.2 1263.6,558.2 1263.8,558.2 1263.9,558.2 1264.1,558.2 1264.2,558.2 1264.4,558.1 1264.5,558.1 1264.7,558.1 1264.8,558.1 1265,558.1 1265.1,558.1 1265.3,558 1265.4,558 1265.6,558 1265.7,558 1265.9,558 1266,558 1266.2,557.9 1266.3,557.9 1266.5,557.9 1266.6,557.9 1266.8,557.9 1266.9,557.9 1267.1,557.8 1267.2,557.8 1267.4,557.8 1267.5,557.8 1267.7,557.8 1267.8,557.8 1268,557.7 1268.1,557.7 1268.3,557.7 1268.4,557.7 1268.6,557.7 1268.7,557.7 1268.9,557.7 1269,557.6 1269.2,557.6 1269.3,557.6 1269.5,557.6 1269.6,557.6 1269.8,557.6 1269.9,557.5 1270.1,557.5 1270.2,557.5 1270.4,557.5 1270.5,557.5 1270.7,557.5 1270.8,557.5 1271,557.5 1271.1,557.5 1271.3,557.5 1271.4,557.5 1271.6,557.5 1271.7,557.5 1271.9,557.5 1272.1,557.5 1272.2,557.5 1272.4,557.5 1272.5,557.5 1272.7,557.5 1272.8,557.6 1273,557.6 1273.1,557.6 1273.3,557.6 1273.4,557.7 1273.6,557.7 1273.7,557.7 1273.9,557.8 1274,557.8 1274.2,557.8 1274.3,557.9 1274.5,557.9 1274.6,557.9 1274.8,558 1274.9,558 1275.1,558.1 1275.2,558.1 1275.4,558.1 1275.5,558.2 1275.7,558.2 1275.8,558.2 1276,558.3 1276.1,558.3 1276.3,558.4 1276.4,558.4 1276.6,558.4 1276.7,558.5 1276.9,558.5 1277,558.5 1277.2,558.6 1277.3,558.6 1277.5,558.7 1277.6,558.7 1277.8,558.7 1277.9,558.8 1278.1,558.8 1278.2,558.8 1278.4,558.9 1278.5,558.9 1278.7,559 1278.8,559 1279,559 1279.1,559.1 1279.3,559.1 1279.4,559.1 1279.6,559.2 1279.7,559.2 1279.9,559.3 1280,559.3 1280.2,559.3 1280.3,559.4 1280.5,559.4 1280.6,559.4 1280.8,559.5 1280.9,559.5 1281.1,559.6 1281.2,559.6 1281.4,559.6 1281.5,559.7 1281.7,559.7 1281.8,559.7 1282,559.8 1282.1,559.8 1282.3,559.9 1282.4,559.9 1282.6,559.9 1282.7,560 1282.9,560 1283,560 1283.2,560.1 1283.3,560.1 1283.5,560.2 1283.6,560.2 1283.8,560.2 1283.9,560.3 1284.1,560.3 1284.2,560.3 1284.4,560.4 1284.6,560.4 1284.7,560.4 1284.9,560.5 1285,560.5 1285.2,560.5 1285.3,560.5 1285.5,560.6 1285.6,560.6 1285.8,560.6 1285.9,560.6 1286.1,560.6 1286.2,560.6 1286.4,560.6 1286.5,560.7 1286.7,560.7 1286.8,560.7 1287,560.7 1287.1,560.7 1287.3,560.7 1287.4,560.7 1287.6,560.7 1287.7,560.7 1287.9,560.7 1288,560.7 1288.2,560.7 1288.3,560.7 1288.5,560.7 1288.6,560.7 1288.8,560.7 1288.9,560.7 1289.1,560.7 1289.2,560.7 1289.4,560.6 1289.5,560.6 1289.7,560.6 1289.8,560.6 1290,560.6 1290.1,560.6 1290.3,560.6 1290.4,560.6 1290.6,560.6 1290.7,560.6 1290.9,560.6 1291,560.6 1291.2,560.6 1291.3,560.6 1291.5,560.6 1291.6,560.6 1291.8,560.6 1291.9,560.6 1292.1,560.6 1292.2,560.6 1292.4,560.6 1292.5,560.6 1292.7,560.6 1292.8,560.6 1293,560.6 1293.1,560.6 1293.3,560.6 1293.4,560.6 1293.6,560.6 1293.7,560.6 1293.9,560.6 1294,560.6 1294.2,560.6 1294.3,560.6 1294.5,560.5 1294.6,560.5 1294.8,560.5 1294.9,560.5 1295.1,560.5 1295.2,560.5 1295.4,560.5 1295.5,560.5 1295.7,560.5 1295.8,560.5 1296,560.5 1296.1,560.5 1296.3,560.5 1296.4,560.5 1296.6,560.5 1296.8,560.5 1296.9,560.5 1297.1,560.5 1297.2,560.5 1297.4,560.5 1297.5,560.5 1297.7,560.5 1297.8,560.5 1298,560.5 1298.1,560.5 1298.3,560.5 1298.4,560.5 1298.6,560.5 1298.7,560.5 1298.9,560.5 1299,560.5 1299.2,560.5 1299.3,560.5 1299.5,560.5 1299.6,560.5 1299.8,560.4 1299.9,560.4 1300.1,560.4 1300.2,560.4 1300.4,560.4 1300.5,560.4 1300.7,560.4 1300.8,560.4 1301,560.4 1301.1,560.4 1301.3,560.4 1301.4,560.4 1301.6,560.4 1301.7,560.4 1301.9,560.4 1302,560.4 1302.2,560.4 1302.3,560.4 1302.5,560.4 1302.6,560.4 1302.8,560.4 1302.9,560.4 1303.1,560.4 1303.2,560.4 1303.4,560.4 1303.5,560.4 1303.7,560.4 1303.8,560.4 1304,560.4 1304.1,560.4 1304.3,560.4 1304.4,560.4 1304.6,560.4 1304.7,560.4 1304.9,560.3 1305,560.3 1305.2,560.3 1305.3,560.3 1305.5,560.3 1305.6,560.3 1305.8,560.3 1305.9,560.3 1306.1,560.3 1306.2,560.3 1306.4,560.3 1306.5,560.3 1306.7,560.3 1306.8,560.3 1307,560.3 1307.1,560.3 1307.3,560.3 1307.4,560.3 1307.6,560.3 1307.7,560.3 1307.9,560.3 1308,560.3 1308.2,560.3 1308.3,560.3 1308.5,560.3 1308.6,560.3 1308.8,560.3 1308.9,560.3 1309.1,560.3 1309.3,560.3 1309.4,560.3 1309.6,560.3 1309.7,560.3 1309.9,560.3 1310,560.3 1310.2,560.3 1310.3,560.3 1310.5,560.3 1310.6,560.3 1310.8,560.3 1310.9,560.3 1311.1,560.3 1311.2,560.3 1311.4,560.3 1311.5,560.3 1311.7,560.3 1311.8,560.3 1312,560.3 1312.1,560.3 1312.3,560.3 1312.4,560.3 1312.6,560.3 1312.7,560.4 1312.9,560.4 1313,560.4 1313.2,560.4 1313.3,560.4 1313.5,560.4 1313.6,560.4 1313.8,560.4 1313.9,560.5 1314.1,560.5 1314.2,560.5 1314.4,560.5 1314.5,560.5 1314.7,560.5 1314.8,560.5 1315,560.5 1315.1,560.6 1315.3,560.6 1315.4,560.6 1315.6,560.6 1315.7,560.6 1315.9,560.6 1316,560.6 1316.2,560.6 1316.3,560.7 1316.5,560.7 1316.6,560.7 1316.8,560.7 1316.9,560.7 1317.1,560.7 1317.2,560.7 1317.4,560.7 1317.5,560.8 1317.7,560.8 1317.8,560.8 1318,560.8 1318.1,560.8 1318.3,560.8 1318.4,560.8 1318.6,560.8 1318.7,560.9 1318.9,560.9 1319,560.9 1319.2,560.9 1319.3,560.9 1319.5,560.9 1319.6,560.9 1319.8,560.9 1319.9,561 1320.1,561 1320.2,561 1320.4,561 1320.5,561 1320.7,561 1320.8,561 1321,561 1321.1,561.1 1321.3,561.1 1321.5,561.1 1321.6,561.1 1321.8,561.1 1321.9,561.1 1322.1,561.1 1322.2,561.1 1322.4,561.1 1322.5,561.2 1322.7,561.2 1322.8,561.2 1323,561.2 1323.1,561.2 1323.3,561.2 1323.4,561.2 1323.6,561.2 1323.7,561.3 1323.9,561.3 1324,561.3 1324.2,561.3 1324.3,561.3 1324.5,561.3 1324.6,561.3 1324.8,561.3 1324.9,561.4 1325.1,561.4 1325.2,561.4 1325.4,561.4 1325.5,561.4 1325.7,561.4 1325.8,561.4 1326,561.4 1326.1,561.4 1326.3,561.5" fill="none" stroke="#ff1a0f" stroke-width="3" stroke-linejoin="round"/>
<polyline points="159,652.3 159.3,648.7 159.5,642.8 159.8,645.1 160,650.1 160.3,644.8 160.6,651.8 160.8,644.6 161.1,649.2 161.3,645.4 161.6,645.9 161.8,648.9 162.1,646.9 162.3,651.6 162.6,648.3 162.8,644.4 163.1,634.3 163.3,645.7 163.6,647.8 163.8,651.5 164.1,644.6 164.3,653.7 164.6,650.8 164.8,647 165.1,652.2 165.3,643.1 165.6,644.6 165.8,650.2 166.1,650.1 166.3,652.7 166.6,653 166.8,646.9 167.1,646.3 167.3,647.2 167.6,647.5 167.8,650.3 168.1,647.2 168.3,653.4 168.6,648.4 168.9,643.6 169.1,644.1 169.4,650.1 169.6,649.7 169.9,643.9 170.1,642.6 170.4,653.6 170.6,650 170.9,647.8 171.1,644.6 171.4,651.5 171.6,646.5 171.9,649.7 172.1,640.7 172.4,647.3 172.6,649.2 172.9,649.8 173.1,645.2 173.4,646.5 173.6,652.4 173.9,648 174.1,653.2 174.4,651.3 174.6,653.1 174.9,653.2 175.1,651 175.4,652 175.6,647 175.9,646.1 176.1,649.5 176.4,652.4 176.6,646.1 176.9,655.4 177.2,655.1 177.4,646.3 177.7,646.5 177.9,645.5 178.2,649.4 178.4,652.8 178.7,650.3 178.9,646.8 179.2,651.1 179.4,650.9 179.7,653.2 179.9,652.4 180.2,645.8 180.4,647.4 180.7,653.8 180.9,656.1 181.2,658.5 181.4,658.8 181.7,665.8 181.9,659.9 182.2,662.1 182.4,655.4 182.7,647.8 182.9,645.5 183.2,652.2 183.4,650.9 183.7,645.6 183.9,649.5 184.2,649.9 184.4,646.4 184.7,647.4 184.9,644.3 185.2,645.2 185.5,649.3 185.7,647.3 186,646.3 186.2,649.7 186.5,647.7 186.7,640.8 187,649 187.2,640.6 187.5,643.1 187.7,643.9 188,639.3 188.2,636.1 188.5,631.2 188.7,637.3 189,640.3 189.2,644.3 189.5,640 189.7,644.2 190,650.5 190.2,648.7 190.5,649.9 190.7,647.6 191,646.9 191.2,640.3 191.5,653.4 191.7,644.3 192,646.2 192.2,649.8 192.5,648.1 192.7,649.2 193,647.4 193.2,644.4 193.5,652.4 193.8,643.4 194,648.8 194.3,642.9 194.5,646.3 194.8,643.7 195,645.9 195.3,644.2 195.5,647.5 195.8,650.3 196,645.6 196.3,645.5 196.5,641.1 196.8,654 197,648.4 197.3,644.5 197.5,651.7 197.8,648.6 198,641.3 198.3,643.5 198.5,650.7 198.8,643.5 199,644.3 199.3,645.6 199.5,646.9 199.8,647.4 200,650.8 200.3,649.8 200.5,645.9 200.8,647.8 201,642.6 201.3,649.4 201.5,655.8 201.8,649.5 202.1,647.6 202.3,647.3 202.6,648.4 202.8,651.2 203.1,644 203.3,650.8 203.6,646.6 203.8,649.7 204.1,652.6 204.3,644.5 204.6,656.7 204.8,651.6 205.1,647.7 205.3,650.2 205.6,646.8 205.8,649.5 206.1,650.7 206.3,642.7 206.6,650 206.8,649.9 207.1,652.8 207.3,651.8 207.6,647.6 207.8,647.9 208.1,649.6 208.3,651.8 208.6,647.6 208.8,655 209.1,650.9 209.3,650.6 209.6,652.5 209.8,649.5 210.1,652 210.4,652.5 210.6,644.6 210.9,647.8 211.1,646.5 211.4,650 211.6,647.3 211.9,647.9 212.1,646.6 212.4,643.1 212.6,651 212.9,649.6 213.1,650.5 213.4,661.1 213.6,654.7 213.9,650.4 214.1,648.5 214.4,652.2 214.6,647 214.9,646.6 215.1,651.8 215.4,646.2 215.6,645.2 215.9,649.1 216.1,653.5 216.4,646.1 216.6,651.1 216.9,651.7 217.1,650.2 217.4,652.2 217.6,647.3 217.9,648.2 218.1,646.8 218.4,648.8 218.7,652.9 218.9,651 219.2,647.8 219.4,651.7 219.7,641.6 219.9,651.2 220.2,652.2 220.4,646.9 220.7,648.1 220.9,650.4 221.2,651 221.4,649 221.7,647.8 221.9,647.9 222.2,651.1 222.4,648.9 222.7,647.6 222.9,647.8 223.2,659.4 223.4,652.7 223.7,652.4 223.9,650.7 224.2,649.4 224.4,647.1 224.7,648 224.9,650.2 225.2,649.7 225.4,644.4 225.7,651.6 225.9,648.8 226.2,644.9 226.4,648.5 226.7,655.7 227,648.4 227.2,650.6 227.5,649.8 227.7,646.2 228,647.9 228.2,650.1 228.5,646.6 228.7,647.9 229,648.8 229.2,648.2 229.5,648.3 229.7,650 230,650.4 230.2,648.9 230.5,651.8 230.7,652.6 231,644.9 231.2,649.5 231.5,648.8 231.7,649.1 232,648.6 232.2,648.6 232.5,648.4 232.7,651 233,645.7 233.2,650.6 233.5,645.3 233.7,654.2 234,651.6 234.2,645.4 234.5,648.8 234.7,650.3 235,647.2 235.3,651.4 235.5,648 235.8,654.9 236,649.5 236.3,650.1 236.5,646.5 236.8,645.5 237,650.7 237.3,643.3 237.5,649.9 237.8,654.2 238,655.2 238.3,643.4 238.5,648.3 238.8,650 239,650.2 239.3,651.2 239.5,643.7 239.8,647.9 240,642 240.3,647.6 240.5,653.5 240.8,643 241,645.9 241.3,644.7 241.5,638.4 241.8,643.9 242,639.3 242.3,643.6 242.5,646.8 242.8,643.4 243,647.9 243.3,642.5 243.6,643.9 243.8,635.2 244.1,578 244.3,680 244.6,668.5 244.8,645.1 245.1,648.8 245.3,646 245.6,651.3 245.8,647.8 246.1,646.7 246.3,650.7 246.6,649.5 246.8,649.8 247.1,645.9 247.3,650.4 247.6,646.9 247.8,643.6 248.1,647.1 248.3,653.1 248.6,647.9 248.8,645.1 249.1,649.1 249.3,644.9 249.6,646.4 249.8,647 250.1,649.1 250.3,649.8 250.6,649.1 250.8,648.1 251.1,646.7 251.3,647.1 251.6,649.2 251.9,648.1 252.1,647.2 252.4,653.2 252.6,650.6 252.9,650.7 253.1,648.9 253.4,649.1 253.6,649.1 253.9,650.9 254.1,646.3 254.4,647.5 254.6,653.2 254.9,648.2 255.1,651.6 255.4,643.2 255.6,649.6 255.9,649.4 256.1,648 256.4,648.8 256.6,648.3 256.9,643.6 257.1,647.5 257.4,645.6 257.6,644.7 257.9,651 258.1,643 258.4,646 258.6,645.2 258.9,650.5 259.1,645.5 259.4,646.7 259.6,649.5 259.9,641.1 260.2,646.1 260.4,648.5 260.7,647.2 260.9,645 261.2,644.3 261.4,645.9 261.7,644 261.9,643.2 262.2,651.2 262.4,648.9 262.7,650.2 262.9,647.1 263.2,643.1 263.4,645.4 263.7,650.3 263.9,648 264.2,643.9 264.4,648.3 264.7,646.7 264.9,645 265.2,650.6 265.4,642.1 265.7,642.5 265.9,640.8 266.2,644.5 266.4,643.1 266.7,642.4 266.9,640.8 267.2,644.3 267.4,649.3 267.7,649.8 268,654.1 268.2,658.8 268.5,654 268.7,641.3 269,643.1 269.2,633.1 269.5,629.2 269.7,635.9 270,638.2 270.2,641.2 270.5,646.9 270.7,648.5 271,647.2 271.2,643.6 271.5,647.4 271.7,646.7 272,647.4 272.2,650 272.5,641.6 272.7,652.8 273,647.8 273.2,644.3 273.5,650 273.7,644.1 274,642.2 274.2,648.4 274.5,645.2 274.7,649.1 275,644.3 275.2,645.6 275.5,645.2 275.7,641.8 276,644.4 276.3,641.9 276.5,644 276.8,649.3 277,645.1 277.3,644.4 277.5,650 277.8,642 278,645.6 278.3,644.8 278.5,648.5 278.8,645.7 279,645 279.3,646.9 279.5,645.7 279.8,652.1 280,642 280.3,649.2 280.5,652.4 280.8,648.9 281,648.5 281.3,644.6 281.5,648.8 281.8,645.4 282,649 282.3,639.9 282.5,644.7 282.8,640.7 283,649.3 283.3,644.5 283.5,649.2 283.8,644.9 284,644.6 284.3,651.2 284.6,649.9 284.8,650.1 285.1,651.1 285.3,648.9 285.6,649.6 285.8,651.1 286.1,646.7 286.3,645.4 286.6,650.8 286.8,648.7 287.1,647.1 287.3,647.9 287.6,649.3 287.8,644.9 288.1,644.9 288.3,645.3 288.6,647.8 288.8,641.3 289.1,641.8 289.3,647.5 289.6,646.1 289.8,641.5 290.1,646.4 290.3,642 290.6,642.1 290.8,643.6 291.1,641.8 291.3,646 291.6,643.2 291.8,648.7 292.1,635.4 292.3,639 292.6,640.9 292.9,646 293.1,623.4 293.4,672.8 293.6,658.1 293.9,645 294.1,651.3 294.4,647 294.6,650.3 294.9,652.5 295.1,652.2 295.4,647.3 295.6,645.5 295.9,652.7 296.1,643.7 296.4,644.5 296.6,649.9 296.9,650.1 297.1,649 297.4,646 297.6,650 297.9,652 298.1,647.9 298.4,654.8 298.6,648.5 298.9,645.6 299.1,648.1 299.4,646.7 299.6,647.6 299.9,646.9 300.1,648.6 300.4,651.3 300.6,649.6 300.9,649.2 301.2,645.4 301.4,644.4 301.7,647.8 301.9,651.1 302.2,651 302.4,649.5 302.7,645 302.9,648 303.2,649.1 303.4,651 303.7,646.4 303.9,648 304.2,649 304.4,648.5 304.7,644.1 304.9,649.2 305.2,644 305.4,645.3 305.7,648.6 305.9,646.2 306.2,649 306.4,651 306.7,649.4 306.9,651.1 307.2,647.2 307.4,648.5 307.7,647 307.9,646.2 308.2,657.2 308.4,647.6 308.7,653.5 308.9,647.9 309.2,650.8 309.5,648.1 309.7,644.5 310,653.1 310.2,647.7 310.5,648.5 310.7,653.5 311,646.4 311.2,648.1 311.5,649.6 311.7,650.1 312,639.2 312.2,649.2 312.5,653.1 312.7,650.6 313,649 313.2,649.1 313.5,648.2 313.7,650.9 314,646.4 314.2,649.3 314.5,651.7 314.7,650.2 315,648.9 315.2,645.5 315.5,646.5 315.7,648.8 316,647.8 316.2,647.2 316.5,642.2 316.7,649.5 317,646.5 317.2,645.8 317.5,650.4 317.8,647.3 318,647.3 318.3,649.1 318.5,646.2 318.8,645 319,644.7 319.3,648.3 319.5,647.3 319.8,641.4 320,650.9 320.3,647.2 320.5,645.4 320.8,647.5 321,646.1 321.3,647.4 321.5,645.8 321.8,644.4 322,648.5 322.3,647.4 322.5,648.1 322.8,649.1 323,648.1 323.3,651.1 323.5,646 323.8,643.4 324,643.4 324.3,644.6 324.5,650.8 324.8,644 325,650.1 325.3,648.4 325.5,643.2 325.8,651.2 326.1,646 326.3,647.5 326.6,648.7 326.8,650.7 327.1,647.2 327.3,649.6 327.6,645.6 327.8,645.1 328.1,652.1 328.3,649.6 328.6,648.9 328.8,651 329.1,650.4 329.3,646.5 329.6,646.5 329.8,649.5 330.1,645.5 330.3,641.7 330.6,645.6 330.8,644.4 331.1,637.4 331.3,638.6 331.6,648.4 331.8,650.5 332.1,649.4 332.3,657.8 332.6,655.7 332.8,653.2 333.1,645.3 333.3,652.4 333.6,651.3 333.8,649.7 334.1,644.4 334.4,648.9 334.6,653.7 334.9,647.4 335.1,646.9 335.4,649.5 335.6,649.8 335.9,647.6 336.1,645.5 336.4,648.4 336.6,647.3 336.9,648.9 337.1,649.8 337.4,651 337.6,646.1 337.9,644.4 338.1,638.9 338.4,630.2 338.6,630.1 338.9,632.5 339.1,645.2 339.4,643.6 339.6,649.2 339.9,650.5 340.1,650.8 340.4,645.2 340.6,646.3 340.9,650.4 341.1,651.5 341.4,648.3 341.6,649.6 341.9,643.9 342.1,652.2 342.4,653.1 342.7,648.9 342.9,648.1 343.2,647.8 343.4,646.1 343.7,642.5 343.9,648.9 344.2,649.4 344.4,652.5 344.7,647.2 344.9,645.5 345.2,648.4 345.4,644.6 345.7,647.6 345.9,643.6 346.2,646.7 346.4,650.3 346.7,649.1 346.9,651.4 347.2,651.9 347.4,646.6 347.7,644.9 347.9,642 348.2,647.3 348.4,647.7 348.7,650 348.9,644.3 349.2,645.8 349.4,648.5 349.7,644.5 349.9,643.8 350.2,648.5 350.4,636.6 350.7,634.2 351,634.2 351.2,636.6 351.5,634.7 351.7,639.1 352,640.4 352.2,649.2 352.5,648 352.7,643.8 353,649.4 353.2,648.1 353.5,650.9 353.7,641.2 354,643.3 354.2,644.8 354.5,645.4 354.7,647.1 355,647 355.2,644.3 355.5,647.7 355.7,642.6 356,647.1 356.2,648.1 356.5,642.4 356.7,646.1 357,644.3 357.2,646.8 357.5,651.6 357.7,644.3 358,649.2 358.2,642.8 358.5,649.8 358.7,650.6 359,644.8 359.3,644.5 359.5,645.4 359.8,648.9 360,643.3 360.3,649.5 360.5,646.9 360.8,647.7 361,646.7 361.3,643.5 361.5,647.4 361.8,644.3 362,643.9 362.3,650.2 362.5,648.8 362.8,646.8 363,647.3 363.3,645 363.5,650.9 363.8,644 364,644 364.3,646.4 364.5,649.5 364.8,646 365,647.4 365.3,644.6 365.5,646.3 365.8,644.2 366,647.3 366.3,642.5 366.5,652.2 366.8,648.9 367,645 367.3,650.2 367.6,644.5 367.8,649.6 368.1,646.2 368.3,648.9 368.6,647.7 368.8,646.1 369.1,646.9 369.3,647.6 369.6,641.2 369.8,646.7 370.1,649.3 370.3,644.4 370.6,644.8 370.8,643.8 371.1,642.3 371.3,649.4 371.6,644.3 371.8,644.1 372.1,647.1 372.3,646.5 372.6,655 372.8,648.7 373.1,642.7 373.3,651.9 373.6,648.7 373.8,646.7 374.1,646 374.3,643.3 374.6,652 374.8,647.4 375.1,645.4 375.3,651 375.6,647.7 375.9,642.8 376.1,644.3 376.4,646.4 376.6,654.5 376.9,648.1 377.1,646.8 377.4,648.6 377.6,648 377.9,640 378.1,648.5 378.4,650.4 378.6,647.3 378.9,648.8 379.1,648.8 379.4,648.2 379.6,646 379.9,647.4 380.1,651.1 380.4,648.4 380.6,646.8 380.9,649.3 381.1,645.1 381.4,646.1 381.6,650.6 381.9,647.3 382.1,643 382.4,644.1 382.6,648.2 382.9,645.8 383.1,649.8 383.4,651.8 383.6,646.7 383.9,647.5 384.2,646.8 384.4,648.1 384.7,647.2 384.9,649.4 385.2,646.9 385.4,645.9 385.7,648.2 385.9,646 386.2,652.5 386.4,650 386.7,644.3 386.9,643.5 387.2,647.3 387.4,648.2 387.7,651.2 387.9,647 388.2,646 388.4,651.7 388.7,646.5 388.9,646.6 389.2,646.8 389.4,650.7 389.7,646.5 389.9,651.7 390.2,644 390.4,647.5 390.7,650.8 390.9,644.4 391.2,644.8 391.4,649.4 391.7,642.2 391.9,650.3 392.2,646.9 392.5,644.7 392.7,653.5 393,645.2 393.2,647.9 393.5,647.7 393.7,650.4 394,646.8 394.2,650.5 394.5,650.1 394.7,648.8 395,650.8 395.2,643.7 395.5,651.1 395.7,649.6 396,648.5 396.2,647.7 396.5,645.7 396.7,645.6 397,648.5 397.2,648.7 397.5,647.6 397.7,645.6 398,645.9 398.2,649 398.5,652.8 398.7,641.8 399,644.2 399.2,645 399.5,643.6 399.7,644.8 400,645.6 400.2,644.2 400.5,644.9 400.8,647.2 401,650.5 401.3,648.2 401.5,646.3 401.8,649.2 402,648 402.3,653.4 402.5,648.7 402.8,648.5 403,651.3 403.3,652.6 403.5,647.2 403.8,650.4 404,647.1 404.3,649.4 404.5,646.8 404.8,649.3 405,652.3 405.3,648.7 405.5,649.4 405.8,646.9 406,649.8 406.3,649.7 406.5,646.5 406.8,645.8 407,646.9 407.3,646.2 407.5,647.7 407.8,647 408,646.7 408.3,648 408.5,648.9 408.8,648.7 409.1,643 409.3,649.1 409.6,649.8 409.8,650.2 410.1,649.4 410.3,648.7 410.6,652.3 410.8,654.5 411.1,648.7 411.3,653.6 411.6,648.9 411.8,649.2 412.1,646.7 412.3,645.4 412.6,648.7 412.8,651.1 413.1,652.7 413.3,651.8 413.6,649.7 413.8,655.1 414.1,649.6 414.3,649.9 414.6,648.2 414.8,650.8 415.1,649.7 415.3,651.8 415.6,651.1 415.8,654.5 416.1,649.7 416.3,646.1 416.6,649.6 416.8,649.1 417.1,652.5 417.4,646.4 417.6,652 417.9,648 418.1,649.8 418.4,652.5 418.6,647.5 418.9,650 419.1,649.6 419.4,648.9 419.6,650.1 419.9,651 420.1,648.8 420.4,651 420.6,649.8 420.9,651.7 421.1,653.7 421.4,651.6 421.6,651.2 421.9,649.9 422.1,646.9 422.4,654.1 422.6,649.5 422.9,655.4 423.1,652.4 423.4,651 423.6,655.4 423.9,654.4 424.1,649.2 424.4,649.4 424.6,649.8 424.9,651.6 425.1,644 425.4,649.8 425.7,651.6 425.9,645.1 426.2,647.7 426.4,650.2 426.7,646.2 426.9,648.8 427.2,647.5 427.4,648.5 427.7,651.6 427.9,646.5 428.2,648.5 428.4,651.4 428.7,650.8 428.9,646.3 429.2,649.7 429.4,648.5 429.7,646.9 429.9,648.2 430.2,652.4 430.4,646.8 430.7,645.9 430.9,646 431.2,643.8 431.4,646.9 431.7,645.1 431.9,641.7 432.2,645.5 432.4,638.2 432.7,637.1 432.9,639.7 433.2,637.6 433.4,641.7 433.7,647.9 434,643.6 434.2,646.3 434.5,646.4 434.7,647.2 435,644.1 435.2,646.1 435.5,649.3 435.7,646.2 436,645.4 436.2,648.9 436.5,647.6 436.7,646.5 437,645.7 437.2,641.6 437.5,638.7 437.7,636 438,638.5 438.2,640.4 438.5,641.5 438.7,642.2 439,647.4 439.2,645 439.5,646.1 439.7,647.3 440,648.1 440.2,648.2 440.5,647.6 440.7,650.1 441,645.6 441.2,646.9 441.5,646.6 441.7,646 442,645 442.3,648.4 442.5,647.1 442.8,651.1 443,652.7 443.3,652 443.5,642.8 443.8,651.6 444,645.6 444.3,643 444.5,648 444.8,642.7 445,642.2 445.3,644.5 445.5,640.9 445.8,645.3 446,648.8 446.3,645.6 446.5,648.1 446.8,650.2 447,650.2 447.3,641.2 447.5,648.4 447.8,647.1 448,648.7 448.3,646.7 448.5,647.7 448.8,648.1 449,650.2 449.3,650.7 449.5,649 449.8,646.4 450,642 450.3,644.6 450.6,642.7 450.8,646.1 451.1,647.5 451.3,650.6 451.6,647.3 451.8,652.8 452.1,648.1 452.3,643.3 452.6,646.6 452.8,644.6 453.1,648.4 453.3,651 453.6,648.7 453.8,648.5 454.1,644.6 454.3,642.6 454.6,649.5 454.8,648.5 455.1,648 455.3,648.5 455.6,650.8 455.8,647.5 456.1,646.8 456.3,646.8 456.6,650.8 456.8,648.1 457.1,652.1 457.3,645.5 457.6,650.4 457.8,648.5 458.1,648.9 458.3,649.3 458.6,650.5 458.9,652.3 459.1,643.5 459.4,647.2 459.6,647.2 459.9,642.6 460.1,648.1 460.4,646.5 460.6,647.8 460.9,644.9 461.1,646.6 461.4,647.1 461.6,648.5 461.9,647.2 462.1,644.9 462.4,653 462.6,648.2 462.9,648.9 463.1,648.6 463.4,652.7 463.6,646 463.9,649.9 464.1,648.3 464.4,649 464.6,651.9 464.9,648.8 465.1,652.3 465.4,650 465.6,648.5 465.9,647.7 466.1,647.5 466.4,648 466.6,642.3 466.9,646.5 467.2,650.6 467.4,649.1 467.7,649.2 467.9,647.9 468.2,649 468.4,649.6 468.7,643.4 468.9,647.3 469.2,648.2 469.4,648 469.7,647.9 469.9,643.9 470.2,646.1 470.4,644.5 470.7,655 470.9,646.4 471.2,644.6 471.4,642.3 471.7,647.1 471.9,651.4 472.2,645.7 472.4,648.6 472.7,651.6 472.9,648.6 473.2,644.5 473.4,644.1 473.7,645.3 473.9,649.6 474.2,640.8 474.4,649.9 474.7,647.2 474.9,650.6 475.2,643.8 475.5,645.9 475.7,644.8 476,646.8 476.2,647.1 476.5,646.5 476.7,651.6 477,644.5 477.2,644.7 477.5,647.9 477.7,647 478,646.3 478.2,643.1 478.5,645.9 478.7,646.9 479,648.3 479.2,650.7 479.5,648.5 479.7,646.9 480,647.7 480.2,646.9 480.5,645.3 480.7,646.1 481,646.5 481.2,645.6 481.5,646.8 481.7,647.3 482,646.1 482.2,651.5 482.5,644.3 482.7,650.5 483,645.3 483.3,647.4 483.5,644.8 483.8,647.4 484,649.9 484.3,645 484.5,647.2 484.8,647.4 485,647.5 485.3,645.3 485.5,645.8 485.8,647.3 486,651.7 486.3,648.9 486.5,647.7 486.8,643.6 487,647.1 487.3,648.4 487.5,645.3 487.8,648.5 488,648.4 488.3,648 488.5,652.1 488.8,646.1 489,647.5 489.3,649.3 489.5,651.4 489.8,648.2 490,645.3 490.3,650.3 490.5,651.4 490.8,647.9 491,652.9 491.3,654.5 491.6,650.1 491.8,650.7 492.1,649.4 492.3,649.6 492.6,646.4 492.8,646.6 493.1,646.3 493.3,645.3 493.6,642.7 493.8,642.8 494.1,644.3 494.3,646.1 494.6,657.3 494.8,651.9 495.1,650.4 495.3,649.2 495.6,653.8 495.8,646.4 496.1,649.2 496.3,651.5 496.6,649.6 496.8,650.9 497.1,651.9 497.3,648.9 497.6,651.2 497.8,653.6 498.1,651.7 498.3,650.5 498.6,652.8 498.8,647.2 499.1,652.9 499.3,646.1 499.6,648.2 499.9,652.6 500.1,650.1 500.4,647.7 500.6,651.2 500.9,654.1 501.1,651.6 501.4,648.1 501.6,657.9 501.9,654.3 502.1,656.8 502.4,657.7 502.6,658.2 502.9,657.1 503.1,652.2 503.4,651.7 503.6,654 503.9,645.5 504.1,651.2 504.4,644.6 504.6,645.1 504.9,642.6 505.1,645.7 505.4,645.1 505.6,648.9 505.9,647.2 506.1,649.2 506.4,644.9 506.6,651.9 506.9,647.3 507.1,649.1 507.4,649.7 507.6,651.5 507.9,649 508.2,653.6 508.4,653.3 508.7,648.3 508.9,653.7 509.2,646.5 509.4,650.6 509.7,649.3 509.9,649.7 510.2,648.8 510.4,650.5 510.7,650.6 510.9,650 511.2,647.2 511.4,647 511.7,646.6 511.9,648.7 512.2,650 512.4,653.5 512.7,647.9 512.9,647.4 513.2,650.3 513.4,647.4 513.7,646.3 513.9,649 514.2,646.7 514.4,648.5 514.7,653.3 514.9,650.2 515.2,650.1 515.4,647.8 515.7,651.1 515.9,650 516.2,651.2 516.5,649 516.7,648.7 517,646.6 517.2,647 517.5,648.4 517.7,648.2 518,648.5 518.2,648.5 518.5,645.1 518.7,654.5 519,649.1 519.2,647.9 519.5,646 519.7,651.2 520,647.8 520.2,646.5 520.5,649.6 520.7,653 521,649.4 521.2,651.3 521.5,647 521.7,650.5 522,644.3 522.2,648.1 522.5,650.3 522.7,649.6 523,651 523.2,647.5 523.5,645 523.7,648.9 524,646.3 524.2,650.6 524.5,647.7 524.8,643.1 525,651.7 525.3,645.6 525.5,645.7 525.8,652.8 526,651.8 526.3,650.7 526.5,646.2 526.8,649.5 527,648.9 527.3,646.9 527.5,648.3 527.8,648 528,649.3 528.3,646 528.5,650.4 528.8,644.7 529,649.4 529.3,650.5 529.5,647.2 529.8,647.6 530,653.3 530.3,648.2 530.5,651.9 530.8,650.7 531,647 531.3,650.8 531.5,648 531.8,649.7 532,644.4 532.3,649.1 532.5,651.6 532.8,651.4 533.1,651 533.3,648.6 533.6,649 533.8,646.7 534.1,648.6 534.3,648.7 534.6,648.3 534.8,649.3 535.1,648.4 535.3,647.3 535.6,647.3 535.8,650.3 536.1,653.2 536.3,651 536.6,648.5 536.8,654.8 537.1,650.2 537.3,648.1 537.6,650.5 537.8,651.7 538.1,645.2 538.3,646 538.6,649.8 538.8,646.2 539.1,646.2 539.3,651.8 539.6,643.1 539.8,651.3 540.1,649.8 540.3,651.7 540.6,649 540.8,652.2 541.1,649.2 541.4,646.7 541.6,648.6 541.9,649.7 542.1,645.6 542.4,651.1 542.6,646.9 542.9,649.7 543.1,648.5 543.4,648.9 543.6,648.7 543.9,649.1 544.1,650.7 544.4,650.2 544.6,647.9 544.9,649.1 545.1,651.5 545.4,650.4 545.6,650.4 545.9,648.9 546.1,648.3 546.4,648.5 546.6,650.2 546.9,648.6 547.1,651.7 547.4,655.1 547.6,648.7 547.9,652.3 548.1,650.6 548.4,651.2 548.6,647 548.9,651.1 549.1,647.8 549.4,649.4 549.7,651.1 549.9,651.8 550.2,647.2 550.4,647.3 550.7,646.4 550.9,644 551.2,647.5 551.4,647.4 551.7,648.3 551.9,647.8 552.2,648.8 552.4,650 552.7,643.4 552.9,652.1 553.2,647.3 553.4,646.8 553.7,647.4 553.9,649.9 554.2,648.2 554.4,648.8 554.7,650.1 554.9,647.8 555.2,648.6 555.4,648.9 555.7,646 555.9,650 556.2,646.5 556.4,648.9 556.7,646.5 556.9,647.3 557.2,646.9 557.4,649.7 557.7,649.2 558,649.4 558.2,647 558.5,645.7 558.7,644.8 559,648.6 559.2,647.1 559.5,651.2 559.7,652.4 560,648.1 560.2,645.8 560.5,645.5 560.7,643.2 561,634.7 561.2,637.7 561.5,641.4 561.7,633.6 562,642.2 562.2,645.7 562.5,644.7 562.7,648.9 563,643.7 563.2,651.1 563.5,650.6 563.7,647.9 564,649.4 564.2,644.5 564.5,651.3 564.7,649.4 565,647.3 565.2,646.6 565.5,645.6 565.7,647.1 566,642.9 566.3,649.1 566.5,647.6 566.8,646.1 567,648.8 567.3,648.8 567.5,649.3 567.8,649.7 568,650.9 568.3,649.6 568.5,651.9 568.8,647.6 569,652.1 569.3,643.9 569.5,644.8 569.8,646.2 570,649.2 570.3,650.1 570.5,646.1 570.8,648.5 571,647.7 571.3,650.7 571.5,646.5 571.8,651.1 572,648.9 572.3,653.5 572.5,650.6 572.8,647 573,648.2 573.3,646 573.5,639.6 573.8,639.2 574,634.1 574.3,644.4 574.6,638.7 574.8,642 575.1,650.1 575.3,651.4 575.6,647.2 575.8,652.4 576.1,651.5 576.3,648.8 576.6,651 576.8,649.2 577.1,652.3 577.3,649.7 577.6,648 577.8,649.7 578.1,655.5 578.3,649.1 578.6,650.4 578.8,652.7 579.1,647.1 579.3,654.2 579.6,644.5 579.8,648.7 580.1,640.7 580.3,641.9 580.6,643.1 580.8,639.3 581.1,640.3 581.3,642.6 581.6,644.1 581.8,651 582.1,649 582.3,649 582.6,651.6 582.9,653.2 583.1,653.3 583.4,649.5 583.6,649.4 583.9,653 584.1,654.2 584.4,648.5 584.6,654.6 584.9,650.9 585.1,653 585.4,655.1 585.6,651 585.9,651.7 586.1,648.1 586.4,646.3 586.6,651.7 586.9,649 587.1,649 587.4,652.4 587.6,653.2 587.9,647.7 588.1,652.1 588.4,651.3 588.6,651.9 588.9,651.5 589.1,652.6 589.4,649.5 589.6,648.3 589.9,652 590.1,654.3 590.4,651 590.6,654.6 590.9,652.6 591.2,648.3 591.4,645.8 591.7,650.2 591.9,653.4 592.2,649.3 592.4,656 592.7,652.5 592.9,647.6 593.2,649.3 593.4,653.9 593.7,654.5 593.9,649 594.2,651 594.4,652.1 594.7,649.9 594.9,652 595.2,654.9 595.4,649 595.7,652.1 595.9,652.9 596.2,653.6 596.4,650.2 596.7,652.4 596.9,649.3 597.2,651.2 597.4,648.3 597.7,651.4 597.9,652 598.2,654.8 598.4,652.9 598.7,649 598.9,644 599.2,653.2 599.5,652.8 599.7,649.8 600,649.5 600.2,652 600.5,650.3 600.7,654 601,651.1 601.2,648.6 601.5,647 601.7,650.9 602,651.1 602.2,649.5 602.5,648.1 602.7,649.5 603,652.1 603.2,649.8 603.5,648.5 603.7,652.1 604,653.4 604.2,649.5 604.5,649.8 604.7,648.5 605,650.4 605.2,652 605.5,651.5 605.7,652.8 606,652.7 606.2,651.9 606.5,651.7 606.7,648.3 607,653.3 607.2,650.8 607.5,652 607.8,647.6 608,650.2 608.3,651.6 608.5,649.1 608.8,650.7 609,651.9 609.3,647.6 609.5,649.4 609.8,647.3 610,648.5 610.3,649.4 610.5,650.8 610.8,653.4 611,649.6 611.3,651 611.5,649.7 611.8,651.2 612,652.7 612.3,653.4 612.5,649.7 612.8,648.5 613,651.9 613.3,650.3 613.5,648.4 613.8,653.1 614,652.1 614.3,653.8 614.5,648.9 614.8,650.9 615,652.5 615.3,655 615.5,651.9 615.8,649.4 616.1,652.2 616.3,652.5 616.6,650.2 616.8,654.2 617.1,651.5 617.3,650.4 617.6,653.3 617.8,653.4 618.1,651.1 618.3,651.9 618.6,652.2 618.8,651.2 619.1,651.2 619.3,653.7 619.6,653.1 619.8,650.7 620.1,649.3 620.3,648.8 620.6,653.5 620.8,649.4 621.1,650.1 621.3,651.7 621.6,650.6 621.8,649.9 622.1,647.8 622.3,653.9 622.6,650.3 622.8,651.9 623.1,652 623.3,649.1 623.6,649.8 623.8,653.7 624.1,652.1 624.4,651 624.6,654.4 624.9,649.6 625.1,651.5 625.4,651 625.6,650.6 625.9,647.5 626.1,651.2 626.4,652 626.6,647.5 626.9,652.2 627.1,652.2 627.4,654 627.6,648.7 627.9,650.4 628.1,649.9 628.4,650.6 628.6,651.1 628.9,652.5 629.1,652.5 629.4,649.8 629.6,650.4 629.9,647.1 630.1,652.3 630.4,651.6 630.6,652.8 630.9,647.3 631.1,653.2 631.4,648.6 631.6,646.9 631.9,650.6 632.1,648.5 632.4,655.2 632.7,651 632.9,653.9 633.2,649.6 633.4,649.9 633.7,651.6 633.9,647.7 634.2,649 634.4,650.9 634.7,650.8 634.9,652.8 635.2,650 635.4,645 635.7,651 635.9,648.6 636.2,650.6 636.4,647.7 636.7,648.4 636.9,649.8 637.2,653 637.4,650.3 637.7,646.6 637.9,649.7 638.2,647.8 638.4,650.1 638.7,653 638.9,648.1 639.2,648.3 639.4,650.2 639.7,649.7 639.9,648.3 640.2,650.1 640.4,648.1 640.7,649.3 641,653.8 641.2,649.1 641.5,650 641.7,650.5 642,647.9 642.2,649.8 642.5,647.6 642.7,646.4 643,648.4 643.2,652 643.5,650.2 643.7,646.8 644,649.2 644.2,650.4 644.5,648.9 644.7,647.6 645,648.1 645.2,647.3 645.5,650.5 645.7,649.3 646,649.3 646.2,648.8 646.5,653.2 646.7,649.3 647,651.7 647.2,645.9 647.5,645.5 647.7,645.3 648,647.2 648.2,650 648.5,646.9 648.7,649.4 649,647.7 649.3,651 649.5,650.3 649.8,648 650,645.1 650.3,649.2 650.5,643.9 650.8,642.7 651,652.3 651.3,649.3 651.5,651.6 651.8,649.6 652,650.6 652.3,649.6 652.5,647.3 652.8,647.7 653,649.8 653.3,651.2 653.5,652.1 653.8,653.5 654,653.9 654.3,656.2 654.5,655.6 654.8,659.2 655,653.7 655.3,650.4 655.5,652.4 655.8,654.7 656,648 656.3,651.1 656.5,656.6 656.8,650.6 657,648.8 657.3,649.3 657.6,647.5 657.8,648.9 658.1,649.9 658.3,654.5 658.6,652.7 658.8,649.9 659.1,648.9 659.3,652.6 659.6,651.7 659.8,649.4 660.1,654.7 660.3,654.8 660.6,651 660.8,650 661.1,651.6 661.3,655.8 661.6,650.6 661.8,653.6 662.1,649.2 662.3,650.9 662.6,650.1 662.8,649.3 663.1,651.9 663.3,648.9 663.6,648.1 663.8,649.9 664.1,647.9 664.3,652.1 664.6,648.8 664.8,650.2 665.1,652.9 665.3,651 665.6,651.9 665.9,652 666.1,650.6 666.4,648.6 666.6,651.5 666.9,650.6 667.1,653.9 667.4,650.6 667.6,648.4 667.9,649.1 668.1,649.8 668.4,651.9 668.6,652.8 668.9,651 669.1,653.6 669.4,653.4 669.6,648.7 669.9,652.7 670.1,646.9 670.4,653.7 670.6,649.8 670.9,653.2 671.1,650.3 671.4,652.8 671.6,650.5 671.9,650.9 672.1,651.6 672.4,649.5 672.6,647.4 672.9,651.8 673.1,648.7 673.4,650.3 673.6,650.6 673.9,645.8 674.2,655 674.4,651.9 674.7,654.3 674.9,651.1 675.2,650.9 675.4,642.3 675.7,649.6 675.9,646.5 676.2,647.5 676.4,651.3 676.7,649.3 676.9,646.6 677.2,649.9 677.4,649.8 677.7,649.1 677.9,653.6 678.2,652.1 678.4,649.4 678.7,649 678.9,652.3 679.2,650.9 679.4,650.5 679.7,650.5 679.9,648.6 680.2,649.9 680.4,649.8 680.7,653.3 680.9,652.5 681.2,649.5 681.4,653.6 681.7,649.6 681.9,651.6 682.2,651.9 682.5,648.8 682.7,651.6 683,652 683.2,651.6 683.5,650.1 683.7,644.4 684,654.7 684.2,650.3 684.5,650.8 684.7,648.3 685,651.1 685.2,655.5 685.5,647.6 685.7,652.7 686,650.5 686.2,653.3 686.5,652.7 686.7,651.5 687,648.7 687.2,648.7 687.5,651.8 687.7,649.5 688,651.4 688.2,650.4 688.5,650.3 688.7,649.4 689,652 689.2,651.1 689.5,650.3 689.7,650.6 690,652.6 690.2,647.2 690.5,652 690.8,649.3 691,650.6 691.3,648.4 691.5,655.9 691.8,646.7 692,651.6 692.3,653.9 692.5,651 692.8,646.4 693,650.2 693.3,654 693.5,652.4 693.8,648.6 694,654.5 694.3,651.9 694.5,652.2 694.8,647 695,652.2 695.3,648.8 695.5,653.1 695.8,653.4 696,649.6 696.3,650.4 696.5,655.5 696.8,650.5 697,650.5 697.3,653.2 697.5,651.4 697.8,651.4 698,653 698.3,653.2 698.6,653.4 698.8,652.6 699.1,654.9 699.3,652.2 699.6,655.2 699.8,652 700.1,652.3 700.3,654.3 700.6,650.4 700.8,648.1 701.1,649.4 701.3,655 701.6,649.5 701.8,651.7 702.1,652.3 702.3,653.4 702.6,652.2 702.8,649.3 703.1,651 703.3,653 703.6,653.6 703.8,653 704.1,650.9 704.3,648.2 704.6,654.3 704.8,652.1 705.1,652.9 705.3,653.6 705.6,651.2 705.8,650.9 706.1,655 706.3,654.2 706.6,649.4 706.9,651.3 707.1,650.8 707.4,652.9 707.6,652.6 707.9,650.8 708.1,652.8 708.4,654.1 708.6,651.7 708.9,649.7 709.1,653.8 709.4,649.3 709.6,650 709.9,653.3 710.1,651.4 710.4,651.5 710.6,650 710.9,649.9 711.1,653.9 711.4,654 711.6,649 711.9,650.8 712.1,650.2 712.4,650.3 712.6,647.7 712.9,653.4 713.1,648.5 713.4,652.4 713.6,649.2 713.9,647.9 714.1,653.4 714.4,649.7 714.6,651 714.9,651 715.2,650.3 715.4,652.5 715.7,652.2 715.9,648.8 716.2,648.4 716.4,651.2 716.7,653 716.9,645.1 717.2,647.6 717.4,649.1 717.7,652 717.9,651 718.2,649.2 718.4,651.7 718.7,646.2 718.9,649.2 719.2,648.6 719.4,651.7 719.7,651.4 719.9,651.1 720.2,648.7 720.4,649.9 720.7,649.9 720.9,648.5 721.2,648.6 721.4,645.7 721.7,649.5 721.9,651.3 722.2,649 722.4,645.7 722.7,650.1 722.9,648.8 723.2,649.6 723.5,647.9 723.7,648.2 724,650.5 724.2,649.2 724.5,646.7 724.7,646.4 725,646.7 725.2,646.9 725.5,649.3 725.7,649.3 726,646.7 726.2,651 726.5,648.7 726.7,652.3 727,649.3 727.2,650 727.5,651 727.7,647.3 728,650 728.2,649.3 728.5,649 728.7,650 729,645.6 729.2,649.5 729.5,648.1 729.7,651.2 730,649.5 730.2,649.2 730.5,649.2 730.7,649.7 731,648.3 731.2,645.4 731.5,648.9 731.8,648.9 732,649.4 732.3,643.5 732.5,645.4 732.8,647.5 733,647.2 733.3,650.1 733.5,649 733.8,648.3 734,648.5 734.3,650.5 734.5,650.4 734.8,647.7 735,648.2 735.3,653.1 735.5,648.7 735.8,646.3 736,650.2 736.3,648.4 736.5,651.9 736.8,647.3 737,651.2 737.3,651.5 737.5,649.7 737.8,644.2 738,650.3 738.3,651.6 738.5,648.1 738.8,648.6 739,645.7 739.3,651.8 739.5,652.4 739.8,649.8 740.1,648.4 740.3,648.5 740.6,647 740.8,652.3 741.1,651 741.3,649.5 741.6,647.5 741.8,648.3 742.1,650.2 742.3,651.4 742.6,647.5 742.8,647.3 743.1,643.7 743.3,649.7 743.6,646 743.8,651.8 744.1,650.4 744.3,650.7 744.6,650.3 744.8,651.1 745.1,650.4 745.3,649.4 745.6,650.2 745.8,648 746.1,649.5 746.3,649.3 746.6,646.3 746.8,648.6 747.1,648.9 747.3,649.3 747.6,649.1 747.8,648 748.1,650.8 748.4,646.8 748.6,645.9 748.9,646.8 749.1,650.1 749.4,652.4 749.6,650 749.9,648.7 750.1,647.3 750.4,649.4 750.6,649.6 750.9,645.8 751.1,650.4 751.4,646.7 751.6,647 751.9,651.7 752.1,648.3 752.4,650 752.6,650.8 752.9,652.6 753.1,652 753.4,647.9 753.6,649.5 753.9,648.1 754.1,650.8 754.4,649.3 754.6,649.2 754.9,651.7 755.1,651.9 755.4,647.6 755.6,648.2 755.9,650.4 756.1,648.7 756.4,647.1 756.7,644.7 756.9,650.2 757.2,647.1 757.4,644.1 757.7,648.2 757.9,645.4 758.2,653.5 758.4,645.4 758.7,648.3 758.9,652 759.2,646.7 759.4,646.1 759.7,645.8 759.9,645.8 760.2,648.2 760.4,649.7 760.7,649.1 760.9,648.2 761.2,647.3 761.4,649.1 761.7,648 761.9,646.3 762.2,647.5 762.4,643.3 762.7,643.6 762.9,650.6 763.2,649.4 763.4,651 763.7,650.7 763.9,647 764.2,650.3 764.4,650.4 764.7,648.8 765,646.5 765.2,649 765.5,649 765.7,646.4 766,647.3 766.2,647.4 766.5,646.4 766.7,650.4 767,648 767.2,649.7 767.5,646.4 767.7,646.8 768,650.6 768.2,645.9 768.5,650.9 768.7,646.3 769,648.2 769.2,650.4 769.5,651 769.7,649.4 770,648.9 770.2,650.3 770.5,647.8 770.7,651.7 771,649 771.2,649 771.5,652.8 771.7,648.5 772,651.7 772.2,654.2 772.5,650.5 772.7,649.8 773,647.6 773.3,650.4 773.5,646.5 773.8,646.7 774,647.4 774.3,647 774.5,649 774.8,650.8 775,648.5 775.3,647.9 775.5,649.4 775.8,650.4 776,653.1 776.3,648.7 776.5,649.4 776.8,652.7 777,650 777.3,648.8 777.5,650.5 777.8,648.7 778,648.9 778.3,653.3 778.5,651 778.8,649.5 779,648.7 779.3,647.8 779.5,654.4 779.8,650.8 780,649.3 780.3,648.3 780.5,647.4 780.8,652.6 781,651.6 781.3,652.9 781.6,649.3 781.8,653.5 782.1,648.6 782.3,649.1 782.6,650 782.8,655.3 783.1,652.4 783.3,649.6 783.6,653.9 783.8,651.6 784.1,651.3 784.3,649.4 784.6,650.6 784.8,650.6 785.1,652.1 785.3,651.2 785.6,651.5 785.8,649.8 786.1,651.6 786.3,649.2 786.6,654.6 786.8,648.9 787.1,651.6 787.3,649 787.6,651.1 787.8,649.5 788.1,648.3 788.3,652.3 788.6,651.1 788.8,651.5 789.1,650.8 789.3,654.4 789.6,651.5 789.9,651.6 790.1,652.7 790.4,651.5 790.6,654.1 790.9,648.3 791.1,650.2 791.4,647.3 791.6,652.7 791.9,653.3 792.1,650.4 792.4,654.2 792.6,650.5 792.9,652.3 793.1,651.5 793.4,650.3 793.6,650.7 793.9,647.1 794.1,649.5 794.4,653.2 794.6,648.7 794.9,653.2 795.1,650.4 795.4,653 795.6,652.1 795.9,647.9 796.1,651.5 796.4,651.7 796.6,651.5 796.9,650.9 797.1,647.4 797.4,652.6 797.6,652.6 797.9,649 798.2,653.3 798.4,650.8 798.7,647.8 798.9,650 799.2,650.9 799.4,651.3 799.7,651.7 799.9,651 800.2,649.6 800.4,647.3 800.7,647.9 800.9,650.8 801.2,651.1 801.4,648.3 801.7,653.2 801.9,650.5 802.2,650.2 802.4,651.8 802.7,651.5 802.9,648.8 803.2,652.8 803.4,651.3 803.7,650.7 803.9,649.2 804.2,652.2 804.4,647.2 804.7,650 804.9,649.9 805.2,650.1 805.4,650.7 805.7,651.3 805.9,646.9 806.2,648.9 806.5,649.5 806.7,647.2 807,650.7 807.2,647.9 807.5,649.2 807.7,651.1 808,647.7 808.2,652.3 808.5,647.9 808.7,651 809,648.4 809.2,646.4 809.5,648.1 809.7,650.4 810,649.3 810.2,650 810.5,651.6 810.7,651.5 811,649.2 811.2,648.2 811.5,652.8 811.7,649.4 812,648.3 812.2,649.1 812.5,651.3 812.7,647.3 813,651.8 813.2,648.1 813.5,646.3 813.7,653.4 814,648.9 814.2,648.8 814.5,649 814.8,651 815,650.1 815.3,652.3 815.5,649.3 815.8,648.5 816,650.9 816.3,651.4 816.5,650.5 816.8,649.7 817,649.5 817.3,649.9 817.5,649.6 817.8,652.3 818,655.1 818.3,648.5 818.5,647 818.8,652.5 819,651.1 819.3,649.2 819.5,648 819.8,648.6 820,647.3 820.3,650 820.5,649.1 820.8,649.1 821,650.7 821.3,647.5 821.5,648.7 821.8,648 822,650.7 822.3,647.9 822.5,652 822.8,649.2 823.1,655 823.3,651.9 823.6,648.5 823.8,650.8 824.1,649.6 824.3,653.1 824.6,646.9 824.8,648.7 825.1,649.9 825.3,649.1 825.6,649.2 825.8,647.1 826.1,649.4 826.3,652.7 826.6,650.3 826.8,647.3 827.1,648.7 827.3,650.6 827.6,648.6 827.8,649.5 828.1,648.5 828.3,652.8 828.6,651.4 828.8,648.4 829.1,650.1 829.3,648.9 829.6,645.8 829.8,650.1 830.1,649 830.3,650.6 830.6,650.7 830.8,649.6 831.1,652.2 831.4,653.4 831.6,646.7 831.9,649.5 832.1,647.1 832.4,649 832.6,648.9 832.9,647.8 833.1,647.7 833.4,651.4 833.6,646.7 833.9,650.9 834.1,648.6 834.4,644 834.6,648.7 834.9,645.6 835.1,649.5 835.4,647.6 835.6,648.6 835.9,647.9 836.1,650.3 836.4,650.4 836.6,647.9 836.9,651.6 837.1,650.1 837.4,647.2 837.6,649.6 837.9,650.1 838.1,650.5 838.4,648.1 838.6,649 838.9,648 839.1,648.6 839.4,644.6 839.7,649 839.9,651.9 840.2,647.9 840.4,648.1 840.7,647.8 840.9,651.2 841.2,645.9 841.4,648.1 841.7,648.1 841.9,651 842.2,647.1 842.4,648.1 842.7,645.3 842.9,648.7 843.2,650.3 843.4,647.7 843.7,649.7 843.9,647.1 844.2,650 844.4,648.1 844.7,648.3 844.9,648 845.2,648.9 845.4,649.5 845.7,648 845.9,649 846.2,647.6 846.4,648.5 846.7,652.3 846.9,648.1 847.2,645.3 847.4,647.4 847.7,646.9 848,647.2 848.2,649 848.5,650.6 848.7,646.5 849,646.1 849.2,647.1 849.5,647.4 849.7,647.5 850,648.3 850.2,647.8 850.5,648.3 850.7,647.7 851,650.2 851.2,649.6 851.5,647.4 851.7,649.2 852,653.2 852.2,648.4 852.5,653 852.7,645 853,647.4 853.2,647.5 853.5,650.1 853.7,651.1 854,649.3 854.2,649 854.5,650.5 854.7,648.8 855,647.8 855.2,648.1 855.5,651.3 855.7,653.5 856,649.4 856.3,650.7 856.5,648.6 856.8,646.4 857,646.4 857.3,649.1 857.5,647.6 857.8,646.6 858,649.7 858.3,649.3 858.5,648.3 858.8,650 859,651 859.3,651.5 859.5,650.1 859.8,651.4 860,648.7 860.3,650.9 860.5,647.6 860.8,648.1 861,652.8 861.3,648.4 861.5,651.3 861.8,648 862,649.7 862.3,650.8 862.5,649.5 862.8,651.8 863,650.2 863.3,650.1 863.5,651.2 863.8,650.2 864,652.9 864.3,649.9 864.6,653.3 864.8,649.9 865.1,650.2 865.3,649.8 865.6,652.2 865.8,645.4 866.1,651.6 866.3,650.9 866.6,652.7 866.8,648.6 867.1,652.2 867.3,649.4 867.6,653.1 867.8,650.8 868.1,652.1 868.3,649.6 868.6,651.9 868.8,653 869.1,650.6 869.3,653.7 869.6,653.2 869.8,650 870.1,655 870.3,650 870.6,652.2 870.8,653.2 871.1,651 871.3,650.2 871.6,652.5 871.8,651.7 872.1,649.9 872.3,650 872.6,651.5 872.9,652.8 873.1,653.2 873.4,652.5 873.6,650.1 873.9,650.2 874.1,650.7 874.4,648.7 874.6,651.8 874.9,652 875.1,652 875.4,647.6 875.6,655.1 875.9,650.6 876.1,650.3 876.4,651 876.6,646.7 876.9,648.9 877.1,649.6 877.4,652.8 877.6,650.1 877.9,651.7 878.1,650.9 878.4,650.6 878.6,651.9 878.9,649.7 879.1,647.8 879.4,648.9 879.6,650.5 879.9,654.5 880.1,648.8 880.4,648.8 880.6,651.1 880.9,651.7 881.2,649.5 881.4,652.2 881.7,649.2 881.9,652.7 882.2,652.4 882.4,650.6 882.7,653.4 882.9,650.6 883.2,649.6 883.4,653.1 883.7,648.8 883.9,651.6 884.2,649.5 884.4,650.1 884.7,651.4 884.9,651.5 885.2,653.7 885.4,651.8 885.7,652 885.9,647.4 886.2,648.6 886.4,653.1 886.7,649 886.9,650.1 887.2,651.2 887.4,649.6 887.7,649 887.9,651.6 888.2,651 888.4,650.2 888.7,652.4 888.9,650.2 889.2,650.7 889.5,651.9 889.7,652.2 890,650 890.2,648.9 890.5,650 890.7,652.3 891,649.2 891.2,650.3 891.5,649.5 891.7,648.5 892,652.4 892.2,651 892.5,651.9 892.7,652.4 893,647 893.2,649 893.5,654.2 893.7,650.1 894,651.9 894.2,648.7 894.5,650.8 894.7,651.3 895,650.7 895.2,650.3 895.5,651 895.7,651.5 896,651.3 896.2,650.1 896.5,653.2 896.7,651.2 897,651.4 897.2,652.1 897.5,649.8 897.8,653.7 898,652 898.3,652.9 898.5,650.3 898.8,652.2 899,651.3 899.3,650.7 899.5,654.4 899.8,650.6 900,652.8 900.3,651.9 900.5,651.7 900.8,650 901,650.1 901.3,648.2 901.5,651.2 901.8,652.5 902,652.5 902.3,650.4 902.5,648.6 902.8,651 903,652.7 903.3,651.1 903.5,651.1 903.8,651.6 904,653 904.3,656.4 904.5,652.6 904.8,649.6 905,651.2 905.3,655.8 905.6,651.6 905.8,655.1 906.1,647.9 906.3,651.2 906.6,653.8 906.8,650 907.1,653 907.3,650.5 907.6,651.5 907.8,653.7 908.1,650.2 908.3,653.9 908.6,648.9 908.8,651.3 909.1,653.3 909.3,654.7 909.6,648.3 909.8,648.5 910.1,653.6 910.3,648.1 910.6,650.8 910.8,651.5 911.1,651.2 911.3,651.5 911.6,648.3 911.8,650.7 912.1,654.4 912.3,646.9 912.6,649.2 912.8,652.8 913.1,651.4 913.3,652.4 913.6,650.6 913.9,649.9 914.1,650.1 914.4,651.6 914.6,651.9 914.9,648.8 915.1,650.5 915.4,646.1 915.6,651.8 915.9,648.7 916.1,650 916.4,651.5 916.6,647.5 916.9,649.7 917.1,651.6 917.4,650.5 917.6,647.9 917.9,652.1 918.1,647.1 918.4,648.4 918.6,650.1 918.9,647 919.1,646.2 919.4,648.3 919.6,649.1 919.9,645.9 920.1,646.5 920.4,651 920.6,649.6 920.9,649.6 921.1,649.9 921.4,651.9 921.6,647.4 921.9,648.8 922.2,648.8 922.4,646.3 922.7,649.9 922.9,648.9 923.2,648.3 923.4,649.6 923.7,648.9 923.9,647.3 924.2,648.7 924.4,646.2 924.7,650 924.9,648.2 925.2,651.2 925.4,648.7 925.7,649.8 925.9,645.9 926.2,647.1 926.4,647.5 926.7,645 926.9,645.7 927.2,647.1 927.4,649.7 927.7,651.1 927.9,648.4 928.2,649 928.4,649.6 928.7,648.9 928.9,651.4 929.2,645.6 929.4,650.5 929.7,649.6 929.9,647.3 930.2,651.4 930.5,646.7 930.7,646.6 931,649 931.2,650.4 931.5,649.3 931.7,651.9 932,645.9 932.2,648.4 932.5,649.9 932.7,650.2 933,647.5 933.2,645.7 933.5,651 933.7,649.7 934,652 934.2,647.4 934.5,648.4 934.7,644.5 935,649 935.2,649.6 935.5,650.2 935.7,647.3 936,652 936.2,647.5 936.5,648.5 936.7,650 937,650.8 937.2,647.1 937.5,645.6 937.7,650 938,648.2 938.2,646 938.5,650.5 938.8,649.8 939,651.7 939.3,649.7 939.5,649.6 939.8,650.3 940,651 940.3,652.6 940.5,652.2 940.8,651.5 941,648.5 941.3,650.7 941.5,651.4 941.8,648.6 942,648.8 942.3,651.4 942.5,651.1 942.8,648.7 943,649.3 943.3,651.7 943.5,649.6 943.8,650.2 944,648 944.3,651.9 944.5,648.6 944.8,649.4 945,652.2 945.3,648.3 945.5,648.6 945.8,652.9 946,646.6 946.3,652.6 946.5,652.2 946.8,651.1 947.1,649 947.3,649.4 947.6,650.7 947.8,647.9 948.1,649.8 948.3,647.9 948.6,645.2 948.8,650.3 949.1,655.7 949.3,651.5 949.6,652.8 949.8,650.5 950.1,650.5 950.3,653.1 950.6,653 950.8,651.2 951.1,651.1 951.3,655.8 951.6,648.8 951.8,650.7 952.1,650.7 952.3,650.1 952.6,652.7 952.8,650.8 953.1,648.7 953.3,648.6 953.6,649.8 953.8,651.2 954.1,652.3 954.3,648.1 954.6,649.7 954.8,651.5 955.1,654.8 955.4,652.3 955.6,654.4 955.9,648.2 956.1,650.2 956.4,652 956.6,651.1 956.9,645.5 957.1,648.2 957.4,653.1 957.6,650.8 957.9,652.9 958.1,653.8 958.4,650.2 958.6,645.8 958.9,647.4 959.1,650.4 959.4,651.2 959.6,650 959.9,648.4 960.1,653.2 960.4,654 960.6,646.7 960.9,649.8 961.1,647.2 961.4,649.9 961.6,647.4 961.9,651.5 962.1,649.3 962.4,647.3 962.6,648.3 962.9,651.2 963.1,648.5 963.4,651.6 963.7,653.1 963.9,649.2 964.2,647.5 964.4,648.6 964.7,652.7 964.9,648.5 965.2,648.9 965.4,651.2 965.7,655.2 965.9,648.3 966.2,648.5 966.4,649.3 966.7,653.7 966.9,653.3 967.2,648.3 967.4,648.7 967.7,649.3 967.9,650.8 968.2,649.6 968.4,651.4 968.7,651 968.9,652.1 969.2,649.9 969.4,651.3 969.7,648.6 969.9,649.1 970.2,652.1 970.4,646.9 970.7,652.8 970.9,649.7 971.2,648.5 971.4,648.1 971.7,655.1 972,648.7 972.2,648.3 972.5,647.9 972.7,655.2 973,652.2 973.2,651.1 973.5,651.8 973.7,648.3 974,652.3 974.2,648.6 974.5,649.9 974.7,654 975,653.1 975.2,652.1 975.5,651 975.7,649.3 976,651.7 976.2,649.5 976.5,654.5 976.7,657.5 977,652.1 977.2,650.6 977.5,652.3 977.7,653.6 978,650.8 978.2,647.8 978.5,651.9 978.7,653.2 979,653.5 979.2,647.9 979.5,651.9 979.7,650.7 980,649.5 980.3,649.8 980.5,653.8 980.8,650.1 981,650.4 981.3,651.1 981.5,650.1 981.8,653.3 982,652.3 982.3,653.3 982.5,650.8 982.8,653.6 983,651.5 983.3,654.5 983.5,652.6 983.8,653.1 984,652.6 984.3,652.2 984.5,652.8 984.8,652.9 985,656.6 985.3,650.3 985.5,653.8 985.8,653 986,654.2 986.3,650.6 986.5,654.3 986.8,651.6 987,650.2 987.3,649.3 987.5,650.2 987.8,651.3 988,654.9 988.3,650 988.6,650.2 988.8,650.9 989.1,650.9 989.3,652.4 989.6,653.5 989.8,650.3 990.1,649.9 990.3,654.5 990.6,650.6 990.8,651.9 991.1,650.6 991.3,651.8 991.6,650.1 991.8,650.3 992.1,650.5 992.3,655 992.6,650.6 992.8,652.1 993.1,654.4 993.3,650.7 993.6,654.8 993.8,650.3 994.1,648.6 994.3,652.9 994.6,650.1 994.8,651 995.1,650.5 995.3,654.4 995.6,650.5 995.8,651.4 996.1,650.2 996.3,651.6 996.6,649.4 996.9,650.9 997.1,650.1 997.4,648.7 997.6,651 997.9,649.3 998.1,650.8 998.4,650.1 998.6,652.1 998.9,649.5 999.1,648.6 999.4,651.1 999.6,649.3 999.9,650 1000.1,653 1000.4,650 1000.6,648.1 1000.9,651.6 1001.1,654.1 1001.4,650.1 1001.6,651.7 1001.9,646.7 1002.1,650.4 1002.4,650.3 1002.6,651.5 1002.9,649.7 1003.1,651.3 1003.4,651.9 1003.6,650.2 1003.9,651.6 1004.1,647.4 1004.4,652.2 1004.6,650 1004.9,651.2 1005.2,652.5 1005.4,646.5 1005.7,653.9 1005.9,646.8 1006.2,652.4 1006.4,649.4 1006.7,645.1 1006.9,653.7 1007.2,652.2 1007.4,646.9 1007.7,649.1 1007.9,650.5 1008.2,649.5 1008.4,651.3 1008.7,649.1 1008.9,646.4 1009.2,650.1 1009.4,649 1009.7,646.9 1009.9,645.4 1010.2,650.4 1010.4,648.7 1010.7,650.3 1010.9,650.5 1011.2,650 1011.4,650.4 1011.7,652.6 1011.9,653.1 1012.2,650.6 1012.4,648.9 1012.7,646.8 1012.9,650.2 1013.2,649.5 1013.5,647.9 1013.7,647.8 1014,649.4 1014.2,649.3 1014.5,645.6 1014.7,649.9 1015,650.2 1015.2,652.4 1015.5,648.4 1015.7,649.8 1016,645.6 1016.2,650 1016.5,647.8 1016.7,647.5 1017,646.2 1017.2,651.9 1017.5,646.4 1017.7,649.4 1018,649.6 1018.2,650.1 1018.5,650.3 1018.7,650.2 1019,654 1019.2,648.6 1019.5,649.5 1019.7,651.4 1020,649.8 1020.2,645.2 1020.5,648.9 1020.7,650.4 1021,646.4 1021.2,651.3 1021.5,650.1 1021.8,650.9 1022,650.3 1022.3,648.4 1022.5,648.7 1022.8,651.3 1023,650.2 1023.3,649.8 1023.5,650.7 1023.8,650 1024,651.4 1024.3,651.4 1024.5,650 1024.8,652 1025,649.3 1025.3,650.5 1025.5,651.9 1025.8,651.3 1026,651.1 1026.3,650.5 1026.5,649.9 1026.8,650.6 1027,651.9 1027.3,647.4 1027.5,648.5 1027.8,650 1028,648.4 1028.3,649.6 1028.5,650.7 1028.8,650.1 1029,645.1 1029.3,648.3 1029.5,648.2 1029.8,651 1030.1,649.1 1030.3,645.9 1030.6,649.4 1030.8,648.2 1031.1,647.8 1031.3,649 1031.6,647.2 1031.8,649.8 1032.1,649.3 1032.3,651.4 1032.6,645.1 1032.8,649.6 1033.1,650 1033.3,647.5 1033.6,651.1 1033.8,650.1 1034.1,651.6 1034.3,650.1 1034.6,650.8 1034.8,649 1035.1,650.3 1035.3,651.2 1035.6,650.6 1035.8,650.2 1036.1,651 1036.3,648.1 1036.6,648.6 1036.8,649.6 1037.1,652.2 1037.3,648.9 1037.6,652.3 1037.8,649.5 1038.1,649.7 1038.4,650.9 1038.6,651.4 1038.9,651.1 1039.1,645.8 1039.4,650.2 1039.6,650.1 1039.9,647.8 1040.1,648.8 1040.4,647.6 1040.6,651.9 1040.9,651.7 1041.1,643.1 1041.4,649.6 1041.6,650.1 1041.9,649.2 1042.1,647.6 1042.4,651.7 1042.6,648.9 1042.9,649.5 1043.1,648.1 1043.4,649.1 1043.6,650.4 1043.9,651 1044.1,654.1 1044.4,647.5 1044.6,652.2 1044.9,650.1 1045.1,646.1 1045.4,650.1 1045.6,648.2 1045.9,649.7 1046.1,648 1046.4,649.3 1046.7,650.3 1046.9,646.7 1047.2,649.9 1047.4,651.9 1047.7,650 1047.9,648.3 1048.2,651.5 1048.4,647.9 1048.7,647.9 1048.9,645.3 1049.2,650.7 1049.4,648.2 1049.7,652.7 1049.9,650.3 1050.2,649.3 1050.4,648.8 1050.7,649.7 1050.9,649.8 1051.2,650.8 1051.4,650.5 1051.7,649.1 1051.9,648.6 1052.2,648.5 1052.4,647.9 1052.7,647.5 1052.9,653.3 1053.2,650.9 1053.4,650.2 1053.7,651.2 1053.9,648 1054.2,648.6 1054.4,650.3 1054.7,649.9 1055,647.7 1055.2,650.9 1055.5,650.9 1055.7,648.6 1056,649.5 1056.2,647.7 1056.5,649.8 1056.7,649.1 1057,651.6 1057.2,652.4 1057.5,650.7 1057.7,655.8 1058,650 1058.2,649 1058.5,650.7 1058.7,651.4 1059,648.9 1059.2,651.1 1059.5,649.2 1059.7,646.9 1060,649.8 1060.2,649.5 1060.5,650.4 1060.7,650.9 1061,650.9 1061.2,651.4 1061.5,649.4 1061.7,654.7 1062,652.2 1062.2,650.4 1062.5,653.4 1062.7,652 1063,653.2 1063.3,651 1063.5,650.3 1063.8,649.2 1064,651.1 1064.3,653.5 1064.5,651.6 1064.8,651 1065,649.5 1065.3,656.4 1065.5,651.5 1065.8,655.8 1066,651 1066.3,651.5 1066.5,651.4 1066.8,650.7 1067,651.7 1067.3,653.7 1067.5,651.8 1067.8,650.2 1068,652.8 1068.3,652.5 1068.5,655 1068.8,650.4 1069,653.6 1069.3,654.1 1069.5,653.5 1069.8,654.4 1070,653.2 1070.3,650.2 1070.5,651.2 1070.8,650 1071,649.8 1071.3,654.5 1071.6,651.8 1071.8,649.8 1072.1,648.3 1072.3,655.5 1072.6,655.5 1072.8,651.8 1073.1,653.4 1073.3,654.6 1073.6,651.9 1073.8,654.2 1074.1,657 1074.3,652.7 1074.6,652.4 1074.8,651.4 1075.1,650.8 1075.3,652.2 1075.6,653 1075.8,653.8 1076.1,655.7 1076.3,653.3 1076.6,650.5 1076.8,651.1 1077.1,648.4 1077.3,652.6 1077.6,655.8 1077.8,650.7 1078.1,650.2 1078.3,654.5 1078.6,655.3 1078.8,651.8 1079.1,650.7 1079.3,654.2 1079.6,652.7 1079.9,653.5 1080.1,654.2 1080.4,654.4 1080.6,651.6 1080.9,652.6 1081.1,653.1 1081.4,656.8 1081.6,648.4 1081.9,653.5 1082.1,651.9 1082.4,653.8 1082.6,650.8 1082.9,654.4 1083.1,651.3 1083.4,651.8 1083.6,649.6 1083.9,653.5 1084.1,652.6 1084.4,651.7 1084.6,647.2 1084.9,654 1085.1,650.6 1085.4,652.4 1085.6,650.5 1085.9,649.8 1086.1,650.8 1086.4,650.5 1086.6,650.4 1086.9,652.1 1087.1,651.3 1087.4,654.1 1087.6,651.5 1087.9,652.3 1088.2,651.3 1088.4,649.4 1088.7,650 1088.9,649.8 1089.2,648.6 1089.4,655.3 1089.7,649.9 1089.9,650.7 1090.2,650.8 1090.4,653.1 1090.7,649.6 1090.9,648.4 1091.2,648.6 1091.4,650.7 1091.7,649.3 1091.9,648.8 1092.2,647.1 1092.4,648.2 1092.7,650.3 1092.9,650.3 1093.2,650.2 1093.4,650.1 1093.7,651.5 1093.9,649 1094.2,651.8 1094.4,652 1094.7,649.8 1094.9,651.6 1095.2,651 1095.4,654.5 1095.7,649 1095.9,650.6 1096.2,650.8 1096.5,649.7 1096.7,650.2 1097,651.9 1097.2,646.8 1097.5,651.5 1097.7,648.8 1098,647.2 1098.2,651.8 1098.5,650.5 1098.7,652.2 1099,648.7 1099.2,651.3 1099.5,652.8 1099.7,648.2 1100,649 1100.2,652.4 1100.5,648.5 1100.7,650.4 1101,645.7 1101.2,647.6 1101.5,651.9 1101.7,651.4 1102,652.5 1102.2,650.6 1102.5,650.8 1102.7,649.5 1103,650.8 1103.2,653.7 1103.5,652.5 1103.7,648.3 1104,648.8 1104.2,651.3 1104.5,651.2 1104.8,651.3 1105,651 1105.3,654.2 1105.5,649.3 1105.8,652.3 1106,650.8 1106.3,655.8 1106.5,650.6 1106.8,648.5 1107,655.3 1107.3,648.2 1107.5,650.2 1107.8,652.4 1108,654.1 1108.3,648.8 1108.5,650.5 1108.8,649.9 1109,651.5 1109.3,652.5 1109.5,649.4 1109.8,652.8 1110,649.3 1110.3,654.2 1110.5,652.7 1110.8,653.7 1111,648.4 1111.3,654.3 1111.5,653.1 1111.8,649.6 1112,650.4 1112.3,646.7 1112.5,647.3 1112.8,649.6 1113.1,649.5 1113.3,654.2 1113.6,652.4 1113.8,651.3 1114.1,651 1114.3,653.3 1114.6,652.4 1114.8,652.2 1115.1,648.5 1115.3,649.7 1115.6,651.1 1115.8,651 1116.1,649.9 1116.3,651.7 1116.6,650.8 1116.8,653.6 1117.1,649 1117.3,648.4 1117.6,649.5 1117.8,649.2 1118.1,649.4 1118.3,646.2 1118.6,649.6 1118.8,652.5 1119.1,651.9 1119.3,648.6 1119.6,647.8 1119.8,648.4 1120.1,648.2 1120.3,649.4 1120.6,652.5 1120.9,651 1121.1,653.1 1121.4,650.3 1121.6,652.2 1121.9,649.3 1122.1,649.8 1122.4,653.2 1122.6,648 1122.9,647.9 1123.1,652 1123.4,649 1123.6,647.9 1123.9,649.8 1124.1,647.6 1124.4,648.8 1124.6,647.1 1124.9,648.8 1125.1,649.4 1125.4,648.1 1125.6,647.6 1125.9,648.6 1126.1,649.9 1126.4,650.5 1126.6,649.7 1126.9,650.1 1127.1,648.6 1127.4,648.6 1127.6,649.1 1127.9,648.9 1128.1,648.6 1128.4,645.9 1128.6,646.6 1128.9,650 1129.2,648.1 1129.4,649.5 1129.7,649.1 1129.9,649.3 1130.2,650.1 1130.4,651.5 1130.7,653.6 1130.9,648.5 1131.2,646.6 1131.4,650.7 1131.7,648 1131.9,649.7 1132.2,648.4 1132.4,650.5 1132.7,649.5 1132.9,649.2 1133.2,653.6 1133.4,648.7 1133.7,649.4 1133.9,653.9 1134.2,647.9 1134.4,649.3 1134.7,648.8 1134.9,648.6 1135.2,650.1 1135.4,651.4 1135.7,650.2 1135.9,650.2 1136.2,645.2 1136.4,645.9 1136.7,650.5 1136.9,650.4 1137.2,649 1137.5,648.6 1137.7,651 1138,651.7 1138.2,646.1 1138.5,647.8 1138.7,652.9 1139,653.4 1139.2,651.6 1139.5,649.6 1139.7,649 1140,650.8 1140.2,653.4 1140.5,649.8 1140.7,649.2 1141,650.4 1141.2,651.4 1141.5,649.4 1141.7,650.7 1142,652.8 1142.2,650.5 1142.5,653.2 1142.7,648.9 1143,649.9 1143.2,652.8 1143.5,650.5 1143.7,648.5 1144,655.2 1144.2,651.4 1144.5,647.9 1144.7,654.2 1145,651.6 1145.2,654.1 1145.5,651.5 1145.8,656.1 1146,654.6 1146.3,652.5 1146.5,651.3 1146.8,650.8 1147,650.8 1147.3,649.4 1147.5,650.3 1147.8,650.3 1148,653.7 1148.3,652.1 1148.5,645.6 1148.8,647.4 1149,650.3 1149.3,650.5 1149.5,650.1 1149.8,652.8 1150,648.2 1150.3,652.8 1150.5,652.3 1150.8,647.9 1151,656.2 1151.3,651.5 1151.5,655.6 1151.8,653.5 1152,652.4 1152.3,652.9 1152.5,651.9 1152.8,653.8 1153,652.5 1153.3,654.6 1153.5,653.1 1153.8,655 1154.1,651 1154.3,654.9 1154.6,651 1154.8,653.2 1155.1,652.9 1155.3,650 1155.6,652.1 1155.8,656 1156.1,651.4 1156.3,658 1156.6,651.8 1156.8,653.1 1157.1,655 1157.3,652.1 1157.6,652.9 1157.8,648.4 1158.1,653.1 1158.3,648.4 1158.6,649.5 1158.8,653.4 1159.1,653.8 1159.3,649.6 1159.6,652.4 1159.8,651.8 1160.1,652.6 1160.3,654.5 1160.6,652.8 1160.8,654 1161.1,655.1 1161.3,652.6 1161.6,648.5 1161.8,648.8 1162.1,652.1 1162.4,651.7 1162.6,650.9 1162.9,649.2 1163.1,651.2 1163.4,652.8 1163.6,652.6 1163.9,649.6 1164.1,646.6 1164.4,653 1164.6,655.8 1164.9,650.1 1165.1,651.8 1165.4,651.4 1165.6,649.2 1165.9,651.5 1166.1,654.2 1166.4,655.5 1166.6,651.7 1166.9,653.9 1167.1,651 1167.4,654.1 1167.6,652.2 1167.9,654.4 1168.1,652.2 1168.4,652.3 1168.6,650.3 1168.9,648.8 1169.1,651.8 1169.4,653.1 1169.6,647.5 1169.9,650.7 1170.1,650.2 1170.4,650.2 1170.7,648.5 1170.9,649.4 1171.2,650 1171.4,649.9 1171.7,653.1 1171.9,652.6 1172.2,651.6 1172.4,651.2 1172.7,651.3 1172.9,650.8 1173.2,651.3 1173.4,652.2 1173.7,654.6 1173.9,649.8 1174.2,650.3 1174.4,653.2 1174.7,650.5 1174.9,650.7 1175.2,651.3 1175.4,655.1 1175.7,653.9 1175.9,652.7 1176.2,648.3 1176.4,653.2 1176.7,652.2 1176.9,653.8 1177.2,652.6 1177.4,650.9 1177.7,655.7 1177.9,657.2 1178.2,650.4 1178.4,651.6 1178.7,652.9 1179,649.8 1179.2,649.9 1179.5,655.9 1179.7,652.1 1180,649.7 1180.2,653.2 1180.5,652.5 1180.7,650 1181,652.4 1181.2,654.3 1181.5,653.3 1181.7,654.6 1182,650.9 1182.2,655.4 1182.5,650.1 1182.7,655.3 1183,652 1183.2,655 1183.5,652.8 1183.7,650.2 1184,650 1184.2,649.6 1184.5,652.4 1184.7,652 1185,651.8 1185.2,651.1 1185.5,653.1 1185.7,650.1 1186,651.7 1186.2,650.1 1186.5,651.4 1186.7,651 1187,653.8 1187.3,653.2 1187.5,654.9 1187.8,652.9 1188,652.7 1188.3,650.7 1188.5,654.8 1188.8,646.1 1189,652.6 1189.3,649.9 1189.5,650.3 1189.8,657.3 1190,652.9 1190.3,649.5 1190.5,657.1 1190.8,650.8 1191,654.1 1191.3,653.2 1191.5,651.8 1191.8,655.9 1192,651.9 1192.3,653.5 1192.5,653.7 1192.8,650.8 1193,645.3 1193.3,651.5 1193.5,651 1193.8,652.2 1194,653.5 1194.3,651.5 1194.5,649 1194.8,651.6 1195,650.2 1195.3,652.3 1195.6,646.9 1195.8,655 1196.1,650.6 1196.3,650.7 1196.6,651.2 1196.8,653.8 1197.1,653.8 1197.3,652 1197.6,651.3 1197.8,653.8 1198.1,653.5 1198.3,650.3 1198.6,649.3 1198.8,652.4 1199.1,652.6 1199.3,652.6 1199.6,646.3 1199.8,650.1 1200.1,651.2 1200.3,649 1200.6,646.5 1200.8,648.6 1201.1,653.6 1201.3,650.9 1201.6,651.5 1201.8,651.3 1202.1,653 1202.3,651.3 1202.6,652.6 1202.8,649.8 1203.1,650.3 1203.3,653.1 1203.6,653.6 1203.9,651.2 1204.1,648.9 1204.4,649.2 1204.6,650.2 1204.9,656.5 1205.1,651 1205.4,651.4 1205.6,650.6 1205.9,652.2 1206.1,650.7 1206.4,651.1 1206.6,644.5 1206.9,648.3 1207.1,650 1207.4,649.7 1207.6,649.8 1207.9,649.2 1208.1,650.3 1208.4,649.5 1208.6,647.5 1208.9,647.8 1209.1,648.8 1209.4,646.8 1209.6,648.9 1209.9,651.2 1210.1,652.7 1210.4,650.6 1210.6,649.4 1210.9,648.4 1211.1,647.1 1211.4,650.3 1211.6,650.7 1211.9,647.7 1212.2,646.9 1212.4,650.1 1212.7,648.5 1212.9,646.4 1213.2,648.5 1213.4,649.2 1213.7,653.2 1213.9,646.5 1214.2,647.9 1214.4,648.9 1214.7,650 1214.9,651.6 1215.2,649.3 1215.4,649.4 1215.7,647 1215.9,651.5 1216.2,646.4 1216.4,649.1 1216.7,646.9 1216.9,651.1 1217.2,648.6 1217.4,646.9 1217.7,649.1 1217.9,652.2 1218.2,650 1218.4,648.4 1218.7,652.2 1218.9,652.3 1219.2,649 1219.4,651.4 1219.7,648.2 1219.9,651.9 1220.2,653.2 1220.5,651.2 1220.7,646.8 1221,651.4 1221.2,649.8 1221.5,649.3 1221.7,651.7 1222,647.7 1222.2,649.6 1222.5,649.1 1222.7,653.3 1223,653.5 1223.2,655.5 1223.5,650.5 1223.7,650.6 1224,648.8 1224.2,647.3 1224.5,650.8 1224.7,650.9 1225,649.5 1225.2,647.4 1225.5,652.1 1225.7,649.3 1226,651 1226.2,651.2 1226.5,649 1226.7,652.2 1227,652.8 1227.2,649.4 1227.5,650.8 1227.7,651.3 1228,651.1 1228.2,649.9 1228.5,651.6 1228.8,649.4 1229,650.2 1229.3,648.1 1229.5,648.6 1229.8,649.4 1230,651.5 1230.3,650.9 1230.5,652.3 1230.8,645.6 1231,651.6 1231.3,650.1 1231.5,648.6 1231.8,653.9 1232,652.9 1232.3,652.1 1232.5,653.3 1232.8,653.8 1233,652.4 1233.3,648.9 1233.5,650 1233.8,651.3 1234,651.4 1234.3,654.7 1234.5,650.1 1234.8,650.6 1235,653.6 1235.3,651.1 1235.5,651.8 1235.8,652.5 1236,653.4 1236.3,652.8 1236.5,653.3 1236.8,650.6 1237.1,650.8 1237.3,650.8 1237.6,651.8 1237.8,652.3 1238.1,647.5 1238.3,655.1 1238.6,649.1 1238.8,650.8 1239.1,651.3 1239.3,652.4 1239.6,651.8 1239.8,653.7 1240.1,654.1 1240.3,651.6 1240.6,654.6 1240.8,649.7 1241.1,649.2 1241.3,658 1241.6,654.3 1241.8,650.8 1242.1,650.9 1242.3,651.1 1242.6,650.4 1242.8,649.8 1243.1,649.5 1243.3,647.7 1243.6,651.2 1243.8,649.5 1244.1,654.3 1244.3,651.4 1244.6,653.5 1244.8,648.4 1245.1,646.6 1245.4,650.1 1245.6,653.6 1245.9,651.3 1246.1,651 1246.4,650.7 1246.6,648.9 1246.9,649.2 1247.1,656.2 1247.4,648.4 1247.6,652 1247.9,652.1 1248.1,648.2 1248.4,651.5 1248.6,653.7 1248.9,653.6 1249.1,650.9 1249.4,649.2 1249.6,648.1 1249.9,651.3 1250.1,651.9 1250.4,647.8 1250.6,651.9 1250.9,648.2 1251.1,650.6 1251.4,650.6 1251.6,651.5 1251.9,650.5 1252.1,652 1252.4,652.4 1252.6,651.3 1252.9,652.4 1253.1,650.5 1253.4,651 1253.7,651.7 1253.9,651.6 1254.2,651.6 1254.4,647.8 1254.7,651.2 1254.9,652.4 1255.2,651.9 1255.4,650 1255.7,651.7 1255.9,651.7 1256.2,651.9 1256.4,651.1 1256.7,650.7 1256.9,650.6 1257.2,654.7 1257.4,653.6 1257.7,656.7 1257.9,650 1258.2,649.5 1258.4,649.1 1258.7,651.4 1258.9,649.5 1259.2,651.9 1259.4,652.1 1259.7,654.9 1259.9,653.5 1260.2,653.1 1260.4,650.2 1260.7,648.8 1260.9,653 1261.2,651.4 1261.4,651.6 1261.7,653.7 1262,655.6 1262.2,653.8 1262.5,655.2 1262.7,653 1263,652.7 1263.2,652.8 1263.5,652.8 1263.7,651.6 1264,654.4 1264.2,650.9 1264.5,655.9 1264.7,652.6 1265,652 1265.2,654.3 1265.5,655.9 1265.7,651.6 1266,654.2 1266.2,651.4 1266.5,651.4 1266.7,653 1267,653 1267.2,651.1 1267.5,652.3 1267.7,654.9 1268,652.8 1268.2,652 1268.5,652.7 1268.7,652.8 1269,653.5 1269.2,653.4 1269.5,655.1 1269.7,656.1 1270,651 1270.3,654.5 1270.5,652.8 1270.8,656.3 1271,653 1271.3,654.9 1271.5,647.4 1271.8,655.3 1272,655.2 1272.3,651.5 1272.5,651.1 1272.8,657.5 1273,652.8 1273.3,651.6 1273.5,655.7 1273.8,651.9 1274,654.3 1274.3,655.2 1274.5,653.9 1274.8,654.1 1275,655.9 1275.3,648.8 1275.5,654.1 1275.8,654.6 1276,651.4 1276.3,653.2 1276.5,650.5 1276.8,653.6 1277,652.3 1277.3,652.8 1277.5,652.6 1277.8,653.3 1278,653.1 1278.3,649.6 1278.6,654.1 1278.8,653.8 1279.1,653.4 1279.3,651.6 1279.6,651.9 1279.8,650.8 1280.1,655.1 1280.3,652 1280.6,652.8 1280.8,653 1281.1,652 1281.3,656.1 1281.6,651.7 1281.8,651.9 1282.1,654.9 1282.3,652.3 1282.6,649.1 1282.8,652.7 1283.1,650.8 1283.3,652.3 1283.6,653.4 1283.8,653.6 1284.1,652.5 1284.3,649.2 1284.6,650.1 1284.8,652.9 1285.1,649.6 1285.3,651.7 1285.6,652.7 1285.8,650.5 1286.1,653.1 1286.3,654.3 1286.6,648.7 1286.9,654.7 1287.1,650.1 1287.4,654 1287.6,651.1 1287.9,651.3 1288.1,651.8 1288.4,655.1 1288.6,651 1288.9,650.8 1289.1,652.5 1289.4,650.8 1289.6,648.7 1289.9,652 1290.1,650.1 1290.4,652.7 1290.6,649.8 1290.9,649.2 1291.1,645.7 1291.4,648.7 1291.6,649.5 1291.9,647.6 1292.1,652.2 1292.4,648.2 1292.6,651.3 1292.9,651.4 1293.1,648.1 1293.4,649.7 1293.6,647.6 1293.9,652.9 1294.1,649.6 1294.4,651.1 1294.6,650.6 1294.9,653.7 1295.2,648.3 1295.4,649.6 1295.7,651.9 1295.9,652.6 1296.2,651.7 1296.4,647.3 1296.7,650.2 1296.9,650.6 1297.2,649 1297.4,650 1297.7,649.5 1297.9,648.6 1298.2,649.4 1298.4,648.3 1298.7,652.3 1298.9,649.9 1299.2,650.7 1299.4,649.8 1299.7,650.1 1299.9,651.3 1300.2,650.7 1300.4,648.3 1300.7,651.1 1300.9,652.5 1301.2,649 1301.4,648.3 1301.7,650.7 1301.9,649.9 1302.2,651.8 1302.4,650.6 1302.7,648.1 1302.9,648.7 1303.2,650 1303.5,650.8 1303.7,653.4 1304,649.7 1304.2,649.5 1304.5,648.4 1304.7,646.6 1305,649.7 1305.2,648.6 1305.5,652.6 1305.7,648.2 1306,648.9 1306.2,648 1306.5,649.3 1306.7,649.7 1307,647.8 1307.2,651.9 1307.5,649.4 1307.7,648.6 1308,652.2 1308.2,652.9 1308.5,649.9 1308.7,650.5 1309,649.6 1309.2,649.6 1309.5,652.3 1309.7,650.2 1310,648.7 1310.2,651.5 1310.5,651.4 1310.7,653 1311,649.3 1311.2,647.2 1311.5,653.5 1311.8,649.5 1312,649.2 1312.3,652 1312.5,651.7 1312.8,652.9 1313,652.4 1313.3,650.7 1313.5,649.7 1313.8,650.8 1314,649.4 1314.3,650.6 1314.5,653.2 1314.8,648.2 1315,648.7 1315.3,652.3 1315.5,647.6 1315.8,650.1 1316,650.7 1316.3,647.3 1316.5,655.7 1316.8,654 1317,649.6 1317.3,651.4 1317.5,652.7 1317.8,648 1318,649.9 1318.3,653.3 1318.5,652.1 1318.8,649.2 1319,647.4 1319.3,654.6 1319.5,650.3 1319.8,651.5 1320.1,654 1320.3,651 1320.6,653.7 1320.8,651.7 1321.1,647.6 1321.3,649.6 1321.6,649.1 1321.8,649.4 1322.1,649.9 1322.3,648.7 1322.6,652.7 1322.8,651.2 1323.1,648.9 1323.3,651.8 1323.6,651.2 1323.8,648.1 1324.1,647.5 1324.3,651.5 1324.6,651.9 1324.8,649.2 1325.1,649.8 1325.3,651.5 1325.6,649.1 1325.8,649.2 1326.1,650" fill="none" stroke="#ff1a0f" stroke-width="2" stroke-linejoin="round"/>
<path d="M181.9 578.9V598.7M187.7 578.9V598.7M243.8 578.9V598.7M293 578.9V598.7M333.3 578.9V598.7M337.8 578.9V598.7M350.3 578.9V598.7M359.5 578.9V598.7M397.1 578.9V598.7M400.2 578.9V598.7M404 578.9V598.7M412.5 578.9V598.7M420.9 578.9V598.7M432.1 578.9V598.7M438.2 578.9V598.7M442.6 578.9V598.7M478.7 578.9V598.7M493.5 578.9V598.7M503.7 578.9V598.7M503.9 578.9V598.7M555.3 578.9V598.7M560.8 578.9V598.7M573.4 578.9V598.7M580.4 578.9V598.7M589.8 578.9V598.7M632.2 578.9V598.7M632.5 578.9V598.7M642 578.9V598.7M650.8 578.9V598.7M652.1 578.9V598.7M655.5 578.9V598.7M658.3 578.9V598.7M661.2 578.9V598.7M678 578.9V598.7M678.2 578.9V598.7M678.7 578.9V598.7M690.9 578.9V598.7M696.1 578.9V598.7M719.4 578.9V598.7M721.9 578.9V598.7M741.7 578.9V598.7M751.2 578.9V598.7M763.5 578.9V598.7M764.8 578.9V598.7M783.3 578.9V598.7M786.4 578.9V598.7M786.8 578.9V598.7M797.5 578.9V598.7M803.4 578.9V598.7M807 578.9V598.7M807.2 578.9V598.7M807.7 578.9V598.7M811.3 578.9V598.7M856.5 578.9V598.7M864.2 578.9V598.7M866.1 578.9V598.7M875.1 578.9V598.7M883.5 578.9V598.7M886.6 578.9V598.7M887.9 578.9V598.7M890.6 578.9V598.7M900.6 578.9V598.7M904.3 578.9V598.7M910.6 578.9V598.7M911.3 578.9V598.7M923.2 578.9V598.7M925.2 578.9V598.7M930.1 578.9V598.7M939.9 578.9V598.7M940.9 578.9V598.7M949.8 578.9V598.7M952.3 578.9V598.7M963.1 578.9V598.7M967.6 578.9V598.7M977.9 578.9V598.7M979.7 578.9V598.7M983.4 578.9V598.7M986.3 578.9V598.7M992.1 578.9V598.7M992.8 578.9V598.7M1001.7 578.9V598.7M1002.9 578.9V598.7M1005.3 578.9V598.7M1005.6 578.9V598.7M1006 578.9V598.7M1027 578.9V598.7M1030.5 578.9V598.7M1031.1 578.9V598.7M1039.2 578.9V598.7M1041.1 578.9V598.7M1046 578.9V598.7M1055.5 578.9V598.7M1060.7 578.9V598.7M1063.2 578.9V598.7M1067 578.9V598.7M1069.2 578.9V598.7M1072.9 578.9V598.7M1078.3 578.9V598.7M1080.1 578.9V598.7M1081.3 578.9V598.7M1082.4 578.9V598.7M1085.6 578.9V598.7M1094.3 578.9V598.7M1113.5 578.9V598.7M1115.9 578.9V598.7M1127.3 578.9V598.7M1134.6 578.9V598.7M1144.2 578.9V598.7M1144.8 578.9V598.7M1148.5 578.9V598.7M1151.2 578.9V598.7M1160.7 578.9V598.7M1168.1 578.9V598.7M1172.4 578.9V598.7M1180.3 578.9V598.7M1189.6 578.9V598.7M1198.3 578.9V598.7M1216 578.9V598.7M1227.3 578.9V598.7M1228.1 578.9V598.7M1230 578.9V598.7M1234.8 578.9V598.7M1244.3 578.9V598.7M1248.7 578.9V598.7M1251.5 578.9V598.7M1254.6 578.9V598.7M1261.7 578.9V598.7M1264.4 578.9V598.7M1270.3 578.9V598.7M1270.5 578.9V598.7M1270.9 578.9V598.7M1271.1 578.9V598.7M1276.4 578.9V598.7M1281.4 578.9V598.7M1283 578.9V598.7M1291.7 578.9V598.7M1294.2 578.9V598.7M1299.1 578.9V598.7M1304.7 578.9V598.7M1311.9 578.9V598.7M1312.3 578.9V598.7M1312.9 578.9V598.7M1319.3 578.9V598.7M1325.4 578.9V598.7M1325.5 578.9V598.7" stroke="#a020f0" stroke-width="1.6"/>
<path d="M184.9 607.6V626.9M268.5 607.6V626.9M305.4 607.6V626.9M339.9 607.6V626.9M372.5 607.6V626.9M403.6 607.6V626.9M433.3 607.6V626.9M461.8 607.6V626.9M489.4 607.6V626.9M542 607.6V626.9M567.2 607.6V626.9M591.9 607.6V626.9M615.9 607.6V626.9M639.5 607.6V626.9M662.6 607.6V626.9M685.3 607.6V626.9M707.7 607.6V626.9M729.7 607.6V626.9M751.4 607.6V626.9M772.7 607.6V626.9M793.9 607.6V626.9M814.8 607.6V626.9M835.4 607.6V626.9M896.2 607.6V626.9M916.2 607.6V626.9M936 607.6V626.9M955.7 607.6V626.9M975.2 607.6V626.9M994.7 607.6V626.9M1014 607.6V626.9M1033.3 607.6V626.9M1052.5 607.6V626.9M1071.7 607.6V626.9M1090.8 607.6V626.9M1109.8 607.6V626.9M1128.8 607.6V626.9M1147.8 607.6V626.9M1166.8 607.6V626.9M1204.8 607.6V626.9M1223.8 607.6V626.9M1242.8 607.6V626.9M1261.9 607.6V626.9M1281 607.6V626.9M1300.1 607.6V626.9M1319.3 607.6V626.9" stroke="#52b4fb" stroke-width="1.7"/>
<path d="M159.4 21V742.5H1327.6" stroke="#000" stroke-width="2.6" fill="none"/>
<path d="M159.4 691.4h-7.5M159.4 629.8h-15M159.4 568.2h-7.5M159.4 506.6h-15M159.4 445h-7.5M159.4 383.4h-15M159.4 321.8h-7.5M159.4 260.2h-15M159.4 198.6h-7.5M159.4 137h-15M159.4 75.4h-7.5M196.7 742.5v7.5M272 742.5v15M347.3 742.5v7.5M422.6 742.5v15M497.9 742.5v7.5M573.2 742.5v15M648.5 742.5v7.5M723.8 742.5v15M799.1 742.5v7.5M874.4 742.5v15M949.7 742.5v7.5M1025 742.5v15M1100.4 742.5v7.5M1175.7 742.5v15M1251 742.5v7.5M1326.3 742.5v15" stroke="#000" stroke-width="2.6" fill="none"/>
<text x="133.6" y="637.8" font-family="Liberation Sans, sans-serif" stroke="#000" stroke-width="0.35" font-size="27" text-anchor="end">0</text>
<text x="133.6" y="514.6" font-family="Liberation Sans, sans-serif" stroke="#000" stroke-width="0.35" font-size="27" text-anchor="end">3000</text>
<text x="133.6" y="391.4" font-family="Liberation Sans, sans-serif" stroke="#000" stroke-width="0.35" font-size="27" text-anchor="end">6000</text>
<text x="133.6" y="268.2" font-family="Liberation Sans, sans-serif" stroke="#000" stroke-width="0.35" font-size="27" text-anchor="end">9000</text>
<text x="133.6" y="145" font-family="Liberation Sans, sans-serif" stroke="#000" stroke-width="0.35" font-size="27" text-anchor="end">12000</text>
<text x="272" y="788.5" font-family="Liberation Sans, sans-serif" stroke="#000" stroke-width="0.35" font-size="27" text-anchor="middle">30</text>
<text x="422.6" y="788.5" font-family="Liberation Sans, sans-serif" stroke="#000" stroke-width="0.35" font-size="27" text-anchor="middle">40</text>
<text x="573.2" y="788.5" font-family="Liberation Sans, sans-serif" stroke="#000" stroke-width="0.35" font-size="27" text-anchor="middle">50</text>
<text x="723.8" y="788.5" font-family="Liberation Sans, sans-serif" stroke="#000" stroke-width="0.35" font-size="27" text-anchor="middle">60</text>
<text x="874.4" y="788.5" font-family="Liberation Sans, sans-serif" stroke="#000" stroke-width="0.35" font-size="27" text-anchor="middle">70</text>
<text x="1025" y="788.5" font-family="Liberation Sans, sans-serif" stroke="#000" stroke-width="0.35" font-size="27" text-anchor="middle">80</text>
<text x="1175.7" y="788.5" font-family="Liberation Sans, sans-serif" stroke="#000" stroke-width="0.35" font-size="27" text-anchor="middle">90</text>
<text x="1326.3" y="788.5" font-family="Liberation Sans, sans-serif" stroke="#000" stroke-width="0.35" font-size="27" text-anchor="middle">100</text>
<text transform="translate(32.1 357) rotate(-90)" font-family="Liberation Sans, sans-serif" stroke="#000" stroke-width="0.35" font-size="40" text-anchor="middle">Intensity (a.u.)</text>
<text x="630.5" y="851" font-family="Liberation Sans, sans-serif" stroke="#000" stroke-width="0.35" font-size="40">2<tspan font-family="Liberation Serif, serif">&#952; (</tspan>degrees)</text>
<rect x="553.3" y="3" width="740.8" height="424.3" fill="#fff"/>
<clipPath id="ic"><rect x="553.3" y="3" width="740.8" height="424.3"/></clipPath>
<g clip-path="url(#ic)">
<polyline points="550.2,191.8 550.8,193.1 551.4,201.2 552.1,203 552.7,195.6 553.3,201.2 553.9,198.3 554.5,195.9 555.2,203.5 555.8,205 556.4,198 557,198.7 557.6,199.7 558.2,198.9 558.9,201.7 559.5,203.8 560.1,199.8 560.7,202.3 561.3,204.4 561.9,198 562.6,199.8 563.2,198.5 563.8,202.8 564.4,201.9 565,203 565.6,202.7 566.3,199.5 566.9,202.6 567.5,199.2 568.1,199.4 568.7,194.4 569.3,204.7 570,198 570.6,201 571.2,200.8 571.8,205.2 572.4,202.3 573.1,198.8 573.7,201.3 574.3,200.9 574.9,202.1 575.5,197.9 576.1,201.5 576.8,208.1 577.4,203.6 578,207.5 578.6,211.4 579.2,203.4 579.8,197.9 580.5,201.8 581.1,205.5 581.7,204.9 582.3,198.8 582.9,201.8 583.5,202.2 584.2,202.6 584.8,202.4 585.4,200.2 586,201 586.6,202 587.2,205.8 587.9,201.3 588.5,204.9 589.1,199.7 589.7,206.8 590.3,203.5 591,203.1 591.6,207.1 592.2,198.1 592.8,199 593.4,204.7 594,201.1 594.7,202.4 595.3,211.3 595.9,202.9 596.5,203.8 597.1,203.5 597.7,206.9 598.4,204.6 599,204.4 599.6,200.4 600.2,203 600.8,204 601.4,199.5 602.1,205.7 602.7,205.3 603.3,209.5 603.9,199.5 604.5,201.4 605.1,201.5 605.8,202.3 606.4,204 607,203.7 607.6,205.1 608.2,204.9 608.9,204.2 609.5,199.8 610.1,202.7 610.7,204.4 611.3,206 611.9,206.1 612.6,199.4 613.2,202.6 613.8,203.8 614.4,204.9 615,207 615.6,203.8 616.3,200.9 616.9,204.4 617.5,203.7 618.1,203.4 618.7,202.2 619.3,206.9 620,202.4 620.6,203.8 621.2,198.1 621.8,202.2 622.4,197.3 623,193.1 623.7,196.7 624.3,194.9 624.9,188.4 625.5,182.9 626.1,176.5 626.8,157.6 627.4,131.1 628,107.7 628.6,65.8 629.2,15.7 629.8,-52.9 630.5,-114.8 631.1,-182 631.7,-249.1 632.3,-270.7 632.9,-284.4 633.5,-258.8 634.2,-200 634.8,-135.1 635.4,-71 636,4.3 636.6,62.3 637.2,109.6 637.9,137.9 638.5,156.3 639.1,173.2 639.7,188.6 640.3,194.2 640.9,196.8 641.6,196.7 642.2,199.7 642.8,199.6 643.4,200.3 644,202.8 644.7,202.7 645.3,202.5 645.9,203.8 646.5,202.5 647.1,198.8 647.7,202.9 648.4,204.8 649,210.2 649.6,204.4 650.2,211.5 650.8,210.1 651.4,203.6 652.1,204.2 652.7,206.9 653.3,211.6 653.9,207.9 654.5,208.9 655.1,205.2 655.8,200.5 656.4,206.6 657,209.6 657.6,210.9 658.2,207.7 658.8,208.2 659.5,211.1 660.1,207.5 660.7,211.2 661.3,204.7 661.9,204.9 662.6,204.9 663.2,209.5 663.8,206.7 664.4,208.7 665,209.5 665.6,209.4 666.3,212.2 666.9,212.7 667.5,206.2 668.1,209.2 668.7,208 669.3,205.8 670,213.8 670.6,211.1 671.2,208.3 671.8,207.7 672.4,210 673,206 673.7,208.4 674.3,212.6 674.9,211.8 675.5,206.7 676.1,207.8 676.7,214.7 677.4,205.3 678,207.5 678.6,205.3 679.2,210.4 679.8,210.1 680.5,212.5 681.1,201.8 681.7,209.7 682.3,204.4 682.9,210.7 683.5,208 684.2,212.8 684.8,208.4 685.4,203.5 686,208.9 686.6,200.9 687.2,201.6 687.9,204.2 688.5,201.1 689.1,199.9 689.7,198.8 690.3,201.6 690.9,203.5 691.6,199.2 692.2,194.1 692.8,185.9 693.4,175.1 694,168.8 694.6,175.8 695.3,173.3 695.9,181.4 696.5,191.5 697.1,195.1 697.7,205.7 698.4,203.5 699,212.1 699.6,209.7 700.2,212.1 700.8,214 701.4,210.4 702.1,212.7 702.7,210.7 703.3,212.8 703.9,216 704.5,213.3 705.1,213 705.8,210.5 706.4,216 707,213.7 707.6,218.7 708.2,212 708.8,217.1 709.5,219.3 710.1,214.4 710.7,211.2 711.3,218.9 711.9,217.7 712.5,216.9 713.2,218.1 713.8,213.9 714.4,217.4 715,217.3 715.6,213.7 716.3,217.6 716.9,214.3 717.5,218.5 718.1,219.3 718.7,221.2 719.3,210.7 720,217.1 720.6,215.6 721.2,216.5 721.8,216 722.4,216.4 723,211.3 723.7,219.8 724.3,221.3 724.9,219.9 725.5,220.9 726.1,215.1 726.7,215 727.4,220.1 728,221.5 728.6,218.6 729.2,213.7 729.8,225.8 730.4,216.4 731.1,221 731.7,215.1 732.3,221.1 732.9,219 733.5,222.5 734.2,221 734.8,214.4 735.4,216 736,219.5 736.6,220.9 737.2,223.8 737.9,219.6 738.5,218.5 739.1,218.6 739.7,218.6 740.3,221.4 740.9,218.3 741.6,218 742.2,213.9 742.8,211.8 743.4,216.8 744,217.7 744.6,214.4 745.3,214.2 745.9,212.2 746.5,206.7 747.1,204.4 747.7,191.8 748.3,181.9 749,163 749.6,139.6 750.2,109.2 750.8,71.7 751.4,28.2 752.1,-7.9 752.7,-37.6 753.3,-44.8 753.9,-26.2 754.5,-2.6 755.1,43.2 755.8,82.5 756.4,120.2 757,158.6 757.6,175.5 758.2,192.2 758.8,204.2 759.5,211.7 760.1,215.5 760.7,219.6 761.3,219.1 761.9,220.9 762.5,219.9 763.2,224.1 763.8,220.6 764.4,221.3 765,222.5 765.6,223.7 766.2,221.2 766.9,227.7 767.5,222 768.1,222.9 768.7,223 769.3,223 769.9,226.1 770.6,225.2 771.2,222.9 771.8,223.6 772.4,224.5 773,229.4 773.7,223.9 774.3,222.3 774.9,222.9 775.5,225.2 776.1,230.3 776.7,223.6 777.4,226.7 778,233.5 778.6,225.6 779.2,230.9 779.8,230.5 780.4,228.8 781.1,223.7 781.7,228.3 782.3,226.7 782.9,222.7 783.5,223.3 784.1,228.1 784.8,228.6 785.4,231.6 786,230.1 786.6,227.2 787.2,227.4 787.8,228.3 788.5,226 789.1,231 789.7,229.1 790.3,227.1 790.9,227.6 791.6,226.4 792.2,228.4 792.8,230.4 793.4,228.7 794,232.6 794.6,234.4 795.3,228.5 795.9,230.3 796.5,229.5 797.1,235.1 797.7,231.5 798.3,232.3 799,233.1 799.6,237.1 800.2,231.9 800.8,228.7 801.4,230.2 802,233 802.7,231.5 803.3,229.5 803.9,239.2 804.5,232.1 805.1,230.4 805.7,230.1 806.4,227.5 807,229.1 807.6,231.5 808.2,231.6 808.8,230.4 809.5,234.1 810.1,232.8 810.7,230.4 811.3,227.6 811.9,233.5 812.5,233.3 813.2,232.7 813.8,229.7 814.4,233.5 815,229.6 815.6,236.3 816.2,234.3 816.9,234.4 817.5,231.8 818.1,231.2 818.7,238.3 819.3,236.7 819.9,233.5 820.6,236.3 821.2,238.7 821.8,231.9 822.4,233.4 823,233.5 823.6,236.3 824.3,232.3 824.9,235.8 825.5,232.3 826.1,237.8 826.7,237.8 827.4,235 828,237.5 828.6,233.9 829.2,235.1 829.8,238.4 830.4,235.8 831.1,237 831.7,233.7 832.3,238 832.9,237.5 833.5,233.2 834.1,230.5 834.8,231.2 835.4,236.5 836,236.1 836.6,232.6 837.2,237.1 837.8,239.5 838.5,236.5 839.1,235.6 839.7,238.9 840.3,240.9 840.9,240 841.5,233.8 842.2,236.9 842.8,234.2 843.4,232 844,229.5 844.6,230.3 845.3,226.1 845.9,227.5 846.5,223 847.1,220.9 847.7,210.1 848.3,208.3 849,205.1 849.6,197.6 850.2,188.1 850.8,174.2 851.4,172.8 852,169.3 852.7,173.3 853.3,175.3 853.9,192.6 854.5,207.1 855.1,214.1 855.7,217.6 856.4,229.1 857,232.8 857.6,230.1 858.2,232.3 858.8,230.6 859.4,231.3 860.1,220.8 860.7,216.2 861.3,213.3 861.9,206.1 862.5,206.8 863.2,191.1 863.8,186.3 864.4,180.6 865,182.8 865.6,195.9 866.2,212.8 866.9,218.4 867.5,229.7 868.1,233.9 868.7,238.1 869.3,239.7 869.9,246.4 870.6,238 871.2,241.2 871.8,239.4 872.4,237.5 873,242.9 873.6,247.9 874.3,245.7 874.9,246.7 875.5,245 876.1,243.7 876.7,249.3 877.3,243.3 878,248.3 878.6,243.7 879.2,244.9 879.8,245.5 880.4,245 881.1,246.3 881.7,246.6 882.3,249.4 882.9,245.2 883.5,240.3 884.1,240 884.8,241.7 885.4,243.3 886,246.8 886.6,241.2 887.2,244.8 887.8,244.2 888.5,243.9 889.1,241.4 889.7,240.5 890.3,236.2 890.9,234.6 891.5,227.3 892.2,213.6 892.8,213.2 893.4,205.9 894,196 894.6,190.3 895.2,196.4 895.9,201.1 896.5,208.7 897.1,220.8 897.7,229.2 898.3,231.1 899,241.1 899.6,241.9 900.2,245.4 900.8,241.4 901.4,251.1 902,248.3 902.7,248.3 903.3,245.5 903.9,245.8 904.5,244 905.1,251.8 905.7,245.9 906.4,248.7 907,249.7 907.6,246.7 908.2,250.5 908.8,253.5 909.4,249.1 910.1,251.9 910.7,249.5 911.3,246.5 911.9,246.2 912.5,242.2 913.1,245.9 913.8,248.5 914.4,245.6 915,245.4 915.6,245.8 916.2,241.6 916.9,245 917.5,249.3 918.1,243.4 918.7,246.6 919.3,246.4 919.9,247.8 920.6,247.1 921.2,249.1 921.8,246.4 922.4,248.8 923,249 923.6,249.1 924.3,254 924.9,250.8 925.5,251.1 926.1,250 926.7,254.1 927.3,246.5 928,250.5 928.6,253.9 929.2,255.2 929.8,251.7 930.4,251.2 931,252.9 931.7,250.9 932.3,252.8 932.9,249.8 933.5,253.1 934.1,251.4 934.8,248.9 935.4,244.9 936,254.1 936.6,252.7 937.2,253.7 937.8,249.7 938.5,254.6 939.1,253 939.7,251.9 940.3,254.3 940.9,254.3 941.5,253.1 942.2,257.3 942.8,255.6 943.4,252.9 944,251.4 944.6,252.2 945.2,256.1 945.9,252.6 946.5,249.3 947.1,249.8 947.7,251.4 948.3,253.5 948.9,249.8 949.6,253 950.2,254.8 950.8,254.1 951.4,248.6 952,251.9 952.7,249.7 953.3,254 953.9,250.6 954.5,254.5 955.1,253.5 955.7,246.9 956.4,251.3 957,254.6 957.6,253.6 958.2,252.6 958.8,250.4 959.4,254.7 960.1,258 960.7,254.3 961.3,253.6 961.9,253.4 962.5,250.5 963.1,253 963.8,251.8 964.4,256.7 965,251.8 965.6,248.7 966.2,252.1 966.8,253.5 967.5,253.7 968.1,249.7 968.7,256.5 969.3,254.5 969.9,253.1 970.6,252.4 971.2,255.4 971.8,253.5 972.4,255 973,254.1 973.6,254.7 974.3,257.3 974.9,254.5 975.5,252.2 976.1,256.9 976.7,255.1 977.3,252.8 978,257.2 978.6,254.1 979.2,257.2 979.8,251.7 980.4,248.8 981,249.6 981.7,255.2 982.3,252.8 982.9,254.4 983.5,254.5 984.1,250.8 984.7,258.1 985.4,252.1 986,254.9 986.6,251.3 987.2,254.4 987.8,256.5 988.5,254.2 989.1,253 989.7,254.8 990.3,253.7 990.9,256.3 991.5,260.3 992.2,252.7 992.8,253.3 993.4,254.7 994,254.9 994.6,252.5 995.2,256.2 995.9,256.9 996.5,255.6 997.1,252.2 997.7,258.6 998.3,252.2 998.9,256.8 999.6,258 1000.2,252.1 1000.8,255.5 1001.4,258.5 1002,256.2 1002.6,252.9 1003.3,252.3 1003.9,256.4 1004.5,254.3 1005.1,253.5 1005.7,256.9 1006.3,254.4 1007,255.4 1007.6,256.6 1008.2,256.4 1008.8,255 1009.4,254.9 1010.1,256.2 1010.7,255.6 1011.3,251.2 1011.9,252.6 1012.5,249.6 1013.1,246.9 1013.8,246 1014.4,238.7 1015,243.9 1015.6,237.8 1016.2,240.2 1016.8,235.4 1017.5,237.7 1018.1,249.4 1018.7,249 1019.3,246.8 1019.9,248.2 1020.5,249.8 1021.2,253 1021.8,252.6 1022.4,252.7 1023,255 1023.6,252.5 1024.2,260.9 1024.9,253.8 1025.5,258.1 1026.1,253.2 1026.7,256.2 1027.3,257.9 1028,254.7 1028.6,258 1029.2,258 1029.8,259.7 1030.4,255.8 1031,254.5 1031.7,253.2 1032.3,256.2 1032.9,253.2 1033.5,255.8 1034.1,256.1 1034.7,254.4 1035.4,253.2 1036,256.7 1036.6,256.5 1037.2,256.3 1037.8,255.7 1038.4,258.1 1039.1,253.3 1039.7,256.9 1040.3,254.7 1040.9,257.9 1041.5,254.8 1042.1,254.7 1042.8,256.5 1043.4,250.2 1044,254.2 1044.6,250.4 1045.2,252.2 1045.9,256.1 1046.5,255.2 1047.1,253.1 1047.7,254.1 1048.3,254.3 1048.9,255.4 1049.6,259.5 1050.2,255.7 1050.8,260.9 1051.4,254.6 1052,257.5 1052.6,257.6 1053.3,256.5 1053.9,255.3 1054.5,259.6 1055.1,260.4 1055.7,258.7 1056.3,261.2 1057,258.5 1057.6,252.1 1058.2,258.7 1058.8,254.5 1059.4,259.5 1060,255.4 1060.7,256.9 1061.3,256.3 1061.9,254.7 1062.5,251.7 1063.1,255.7 1063.8,255.8 1064.4,258.6 1065,254.7 1065.6,256.8 1066.2,254.1 1066.8,256.3 1067.5,251.8 1068.1,261.2 1068.7,256.9 1069.3,254 1069.9,257.1 1070.5,258.2 1071.2,256.9 1071.8,259.7 1072.4,255.9 1073,250.1 1073.6,253.4 1074.2,259 1074.9,258.4 1075.5,257.3 1076.1,253.7 1076.7,258.3 1077.3,258 1077.9,254 1078.6,254.1 1079.2,257.1 1079.8,259 1080.4,260 1081,257.9 1081.7,261.7 1082.3,254.2 1082.9,257.6 1083.5,254.8 1084.1,251.3 1084.7,253 1085.4,258.7 1086,253.5 1086.6,252.7 1087.2,257.2 1087.8,257.4 1088.4,254.7 1089.1,257.6 1089.7,248.6 1090.3,256.7 1090.9,251 1091.5,245.7 1092.1,241.8 1092.8,236.2 1093.4,230.8 1094,226.9 1094.6,218.3 1095.2,224 1095.8,217 1096.5,220.9 1097.1,222.9 1097.7,228.5 1098.3,237.6 1098.9,242.3 1099.6,242.9 1100.2,247.4 1100.8,252.4 1101.4,247.1 1102,247.4 1102.6,257.4 1103.3,253 1103.9,246.9 1104.5,250.2 1105.1,249.9 1105.7,248.5 1106.3,246.1 1107,241.7 1107.6,239.5 1108.2,234.4 1108.8,237.3 1109.4,238.9 1110,243.4 1110.7,243.1 1111.3,247.9 1111.9,248.3 1112.5,247.2 1113.1,250.5 1113.7,251.4 1114.4,252.6 1115,253.8 1115.6,254.3 1116.2,254.4 1116.8,250.9 1117.5,254.4 1118.1,246.8 1118.7,248.5 1119.3,248.8 1119.9,246.5 1120.5,245.8 1121.2,243 1121.8,245.4 1122.4,241.5 1123,247.9 1123.6,253.5 1124.2,251.3 1124.9,256.3 1125.5,252.8 1126.1,251.3 1126.7,253.3 1127.3,259 1127.9,258 1128.6,252.1 1129.2,256 1129.8,256.9 1130.4,254.5 1131,251.1 1131.6,254.1 1132.3,257 1132.9,256.5 1133.5,256 1134.1,259.1 1134.7,260.2 1135.4,257.5 1136,260.1 1136.6,257.9 1137.2,257.6 1137.8,252.1 1138.4,260 1139.1,258.3 1139.7,258.4 1140.3,257 1140.9,255.5 1141.5,259.4 1142.1,260.3 1142.8,262.3 1143.4,260.6 1144,257 1144.6,258.3 1145.2,261 1145.8,259.4 1146.5,258.5 1147.1,257.3 1147.7,260.1 1148.3,259.3 1148.9,263.2 1149.5,261.6 1150.2,254.8 1150.8,264.2 1151.4,259.7 1152,258.4 1152.6,259.9 1153.3,261 1153.9,259.2 1154.5,259.1 1155.1,259.3 1155.7,263.8 1156.3,259.6 1157,261.3 1157.6,260.6 1158.2,258.8 1158.8,257.8 1159.4,257.2 1160,260.7 1160.7,257.2 1161.3,256.6 1161.9,256.8 1162.5,256.2 1163.1,260 1163.7,260.1 1164.4,257.7 1165,263.1 1165.6,259.3 1166.2,261.1 1166.8,260.8 1167.4,264.2 1168.1,262.1 1168.7,260 1169.3,257.9 1169.9,257.6 1170.5,260.3 1171.2,260.6 1171.8,262.2 1172.4,259.2 1173,260.9 1173.6,258.8 1174.2,256.1 1174.9,260.5 1175.5,264.1 1176.1,262.6 1176.7,264.1 1177.3,263.5 1177.9,257.4 1178.6,260.1 1179.2,264.4 1179.8,259.1 1180.4,257.7 1181,261.7 1181.6,262.6 1182.3,261.8 1182.9,260.3 1183.5,259.5 1184.1,258.2 1184.7,258.2 1185.3,258.3 1186,257.9 1186.6,259.7 1187.2,265.1 1187.8,261.7 1188.4,260.7 1189.1,262.5 1189.7,259.3 1190.3,262.5 1190.9,263.9 1191.5,258.2 1192.1,260.2 1192.8,261.3 1193.4,259.6 1194,259.3 1194.6,261.2 1195.2,268 1195.8,263.7 1196.5,263.3 1197.1,264.6 1197.7,261.8 1198.3,259.4 1198.9,263.5 1199.5,265.2 1200.2,257.5 1200.8,263.6 1201.4,265.5 1202,262 1202.6,261.6 1203.2,264.4 1203.9,260.8 1204.5,264 1205.1,265.1 1205.7,262.5 1206.3,261.1 1207,264.5 1207.6,262.3 1208.2,263.3 1208.8,256.3 1209.4,264.9 1210,259.9 1210.7,263.4 1211.3,263.7 1211.9,261.7 1212.5,261.3 1213.1,260.4 1213.7,262.8 1214.4,265.1 1215,265 1215.6,262.5 1216.2,262.4 1216.8,260.4 1217.4,262.8 1218.1,261.3 1218.7,260.3 1219.3,263.6 1219.9,267.6 1220.5,266.9 1221.1,267.6 1221.8,260.3 1222.4,266.3 1223,261.3 1223.6,262.9 1224.2,260.2 1224.8,262 1225.5,264.7 1226.1,265 1226.7,264.3 1227.3,264.2 1227.9,265.9 1228.6,264.8 1229.2,260.8 1229.8,268.9 1230.4,264.2 1231,267 1231.6,264.4 1232.3,262.9 1232.9,265.1 1233.5,263.1 1234.1,268.8 1234.7,262.3 1235.3,266.4 1236,263.4 1236.6,264.4 1237.2,271 1237.8,266.4 1238.4,263.7 1239,259.9 1239.7,262.3 1240.3,261.3 1240.9,263.9 1241.5,254.8 1242.1,251.2 1242.7,252.3 1243.4,249.2 1244,249.3 1244.6,240.5 1245.2,235 1245.8,241.2 1246.5,242.3 1247.1,247.2 1247.7,254.3 1248.3,251.4 1248.9,260.4 1249.5,260.1 1250.2,260.7 1250.8,260.8 1251.4,263.1 1252,264.1 1252.6,267.5 1253.2,269.2 1253.9,266.3 1254.5,268.4 1255.1,270 1255.7,270.1 1256.3,268.4 1256.9,271.7 1257.6,270.6 1258.2,271.4 1258.8,267.1 1259.4,266.6 1260,262.9 1260.6,271.3 1261.3,269.4 1261.9,265.7 1262.5,268.6 1263.1,269.2 1263.7,264.9 1264.4,270.6 1265,273.5 1265.6,274.6 1266.2,270.8 1266.8,270.1 1267.4,272.1 1268.1,268.1 1268.7,260.4 1269.3,256.1 1269.9,255.1 1270.5,248.2 1271.1,245.5 1271.8,250.1 1272.4,246.6 1273,246.8 1273.6,252.6 1274.2,260.4 1274.8,259.5 1275.5,260 1276.1,260.5 1276.7,271.4 1277.3,261.3 1277.9,271.2 1278.5,267 1279.2,266.9 1279.8,267.9 1280.4,270.1 1281,273.5 1281.6,269.5 1282.3,272.8 1282.9,277.2 1283.5,264.8 1284.1,270 1284.7,267.5 1285.3,274.1 1286,268.6 1286.6,268.5 1287.2,268.7 1287.8,272.5 1288.4,275.4 1289,273.2 1289.7,278 1290.3,277 1290.9,272.9 1291.5,275.6 1292.1,273.8 1292.7,273.8 1293.4,269.1 1294,270.7 1294.6,273.9 1295.2,271.1 1295.8,275.8 1296.4,274.9" fill="none" stroke="none" marker-start="url(#xi)" marker-mid="url(#xi)" marker-end="url(#xi)"/>
<polyline points="550,198.8 550.1,198.9 550.3,198.9 550.5,199 550.7,199 550.9,199 551.1,199.1 551.3,199.1 551.4,199.2 551.6,199.2 551.8,199.2 552,199.3 552.2,199.3 552.4,199.4 552.6,199.4 552.7,199.4 552.9,199.5 553.1,199.5 553.3,199.6 553.5,199.6 553.7,199.6 553.8,199.7 554,199.7 554.2,199.7 554.4,199.8 554.6,199.8 554.8,199.9 555,199.9 555.1,199.9 555.3,200 555.5,200 555.7,200 555.9,200.1 556.1,200.1 556.2,200.1 556.4,200.2 556.6,200.2 556.8,200.2 557,200.3 557.2,200.3 557.4,200.3 557.5,200.3 557.7,200.4 557.9,200.4 558.1,200.4 558.3,200.5 558.5,200.5 558.6,200.5 558.8,200.5 559,200.6 559.2,200.6 559.4,200.6 559.6,200.7 559.8,200.7 559.9,200.7 560.1,200.7 560.3,200.8 560.5,200.8 560.7,200.8 560.9,200.8 561.1,200.9 561.2,200.9 561.4,200.9 561.6,200.9 561.8,201 562,201 562.2,201 562.3,201 562.5,201.1 562.7,201.1 562.9,201.1 563.1,201.1 563.3,201.2 563.5,201.2 563.6,201.2 563.8,201.2 564,201.3 564.2,201.3 564.4,201.3 564.6,201.3 564.7,201.4 564.9,201.4 565.1,201.4 565.3,201.4 565.5,201.5 565.7,201.5 565.9,201.5 566,201.5 566.2,201.6 566.4,201.6 566.6,201.6 566.8,201.6 567,201.7 567.2,201.7 567.3,201.7 567.5,201.7 567.7,201.8 567.9,201.8 568.1,201.8 568.3,201.8 568.4,201.9 568.6,201.9 568.8,201.9 569,201.9 569.2,202 569.4,202 569.6,202 569.7,202 569.9,202 570.1,202.1 570.3,202.1 570.5,202.1 570.7,202.1 570.8,202.2 571,202.2 571.2,202.2 571.4,202.2 571.6,202.3 571.8,202.3 572,202.3 572.1,202.3 572.3,202.4 572.5,202.4 572.7,202.4 572.9,202.4 573.1,202.5 573.2,202.5 573.4,202.5 573.6,202.5 573.8,202.6 574,202.6 574.2,202.6 574.4,202.6 574.5,202.7 574.7,202.7 574.9,202.7 575.1,202.7 575.3,202.8 575.5,202.8 575.7,202.8 575.8,202.8 576,202.8 576.2,202.9 576.4,202.9 576.6,202.9 576.8,202.9 576.9,203 577.1,203 577.3,203 577.5,203 577.7,203.1 577.9,203.1 578.1,203.1 578.2,203.1 578.4,203.2 578.6,203.2 578.8,203.2 579,203.2 579.2,203.3 579.3,203.3 579.5,203.3 579.7,203.3 579.9,203.4 580.1,203.4 580.3,203.4 580.5,203.4 580.6,203.4 580.8,203.5 581,203.5 581.2,203.5 581.4,203.5 581.6,203.6 581.7,203.6 581.9,203.6 582.1,203.6 582.3,203.7 582.5,203.7 582.7,203.7 582.9,203.7 583,203.7 583.2,203.8 583.4,203.8 583.6,203.8 583.8,203.8 584,203.9 584.2,203.9 584.3,203.9 584.5,203.9 584.7,203.9 584.9,204 585.1,204 585.3,204 585.4,204 585.6,204.1 585.8,204.1 586,204.1 586.2,204.1 586.4,204.1 586.6,204.2 586.7,204.2 586.9,204.2 587.1,204.2 587.3,204.2 587.5,204.3 587.7,204.3 587.8,204.3 588,204.3 588.2,204.3 588.4,204.4 588.6,204.4 588.8,204.4 589,204.4 589.1,204.4 589.3,204.5 589.5,204.5 589.7,204.5 589.9,204.5 590.1,204.5 590.3,204.6 590.4,204.6 590.6,204.6 590.8,204.6 591,204.6 591.2,204.7 591.4,204.7 591.5,204.7 591.7,204.7 591.9,204.7 592.1,204.8 592.3,204.8 592.5,204.8 592.7,204.8 592.8,204.8 593,204.9 593.2,204.9 593.4,204.9 593.6,204.9 593.8,204.9 593.9,205 594.1,205 594.3,205 594.5,205 594.7,205 594.9,205 595.1,205.1 595.2,205.1 595.4,205.1 595.6,205.1 595.8,205.1 596,205.2 596.2,205.2 596.3,205.2 596.5,205.2 596.7,205.2 596.9,205.2 597.1,205.3 597.3,205.3 597.5,205.3 597.6,205.3 597.8,205.3 598,205.3 598.2,205.4 598.4,205.4 598.6,205.4 598.8,205.4 598.9,205.4 599.1,205.5 599.3,205.5 599.5,205.5 599.7,205.5 599.9,205.5 600,205.5 600.2,205.5 600.4,205.6 600.6,205.6 600.8,205.6 601,205.6 601.2,205.6 601.3,205.6 601.5,205.7 601.7,205.7 601.9,205.7 602.1,205.7 602.3,205.7 602.4,205.7 602.6,205.7 602.8,205.8 603,205.8 603.2,205.8 603.4,205.8 603.6,205.8 603.7,205.8 603.9,205.8 604.1,205.9 604.3,205.9 604.5,205.9 604.7,205.9 604.8,205.9 605,205.9 605.2,205.9 605.4,205.9 605.6,206 605.8,206 606,206 606.1,206 606.3,206 606.5,206 606.7,206 606.9,206 607.1,206 607.3,206.1 607.4,206.1 607.6,206.1 607.8,206.1 608,206.1 608.2,206.1 608.4,206.1 608.5,206.1 608.7,206.1 608.9,206.1 609.1,206.1 609.3,206.1 609.5,206.1 609.7,206.1 609.8,206.1 610,206.1 610.2,206.1 610.4,206.1 610.6,206.1 610.8,206.1 610.9,206.1 611.1,206.1 611.3,206.1 611.5,206.1 611.7,206.1 611.9,206.1 612.1,206.1 612.2,206.1 612.4,206.1 612.6,206.1 612.8,206.1 613,206.1 613.2,206.1 613.4,206.1 613.5,206 613.7,206 613.9,206 614.1,206 614.3,206 614.5,206 614.6,205.9 614.8,205.9 615,205.9 615.2,205.9 615.4,205.8 615.6,205.8 615.8,205.8 615.9,205.8 616.1,205.7 616.3,205.7 616.5,205.6 616.7,205.6 616.9,205.6 617,205.5 617.2,205.5 617.4,205.4 617.6,205.4 617.8,205.3 618,205.3 618.2,205.2 618.3,205.2 618.5,205.1 618.7,205.1 618.9,205 619.1,204.9 619.3,204.9 619.4,204.8 619.6,204.7 619.8,204.6 620,204.6 620.2,204.5 620.4,204.4 620.6,204.3 620.7,204.2 620.9,204.1 621.1,204 621.3,203.8 621.5,203.7 621.7,203.6 621.9,203.4 622,203.3 622.2,203.1 622.4,203 622.6,202.8 622.8,202.6 623,202.4 623.1,202.2 623.3,202 623.5,201.8 623.7,201.5 623.9,201.2 624.1,200.9 624.3,200.6 624.4,200.2 624.6,199.7 624.8,199.2 625,198.7 625.2,198 625.4,197.3 625.5,196.4 625.7,195.4 625.9,194.2 626.1,192.7 626.3,191.1 626.5,189.1 626.7,186.8 626.8,184.1 627,180.9 627.2,177.2 627.4,172.9 627.6,168 627.8,162.3 627.9,155.8 628.1,148.3 628.3,140 628.5,130.6 628.7,120.1 628.9,108.5 629.1,95.7 629.2,81.9 629.4,66.8 629.6,50.7 629.8,33.6 630,15.5 630.2,-3.4 630.4,-23 630.5,-43 630.7,-63.3 630.9,-83.6 631.1,-103.6 631.3,-123 631.5,-141.5 631.6,-158.9 631.8,-174.6 632,-188.4 632.2,-200 632.4,-209.1 632.6,-215.4 632.8,-218.8 632.9,-219.1 633.1,-216.3 633.3,-210.6 633.5,-202 633.7,-190.9 633.9,-177.4 634,-162 634.2,-144.9 634.4,-126.6 634.6,-107.3 634.8,-87.3 635,-67.1 635.2,-46.8 635.3,-26.6 635.5,-7 635.7,12.1 635.9,30.4 636.1,47.8 636.3,64.1 636.5,79.4 636.6,93.5 636.8,106.5 637,118.4 637.2,129.1 637.4,138.7 637.6,147.3 637.7,155 637.9,161.7 638.1,167.6 638.3,172.7 638.5,177.1 638.7,181 638.9,184.3 639,187.1 639.2,189.5 639.4,191.5 639.6,193.3 639.8,194.8 640,196 640.1,197.1 640.3,198 640.5,198.8 640.7,199.5 640.9,200.1 641.1,200.7 641.3,201.1 641.4,201.6 641.6,201.9 641.8,202.3 642,202.6 642.2,202.9 642.4,203.2 642.5,203.4 642.7,203.6 642.9,203.9 643.1,204.1 643.3,204.3 643.5,204.5 643.7,204.6 643.8,204.8 644,205 644.2,205.1 644.4,205.3 644.6,205.4 644.8,205.5 645,205.7 645.1,205.8 645.3,205.9 645.5,206 645.7,206.2 645.9,206.3 646.1,206.4 646.2,206.5 646.4,206.6 646.6,206.7 646.8,206.8 647,206.8 647.2,206.9 647.4,207 647.5,207.1 647.7,207.2 647.9,207.2 648.1,207.3 648.3,207.4 648.5,207.5 648.6,207.5 648.8,207.6 649,207.6 649.2,207.7 649.4,207.8 649.6,207.8 649.8,207.9 649.9,207.9 650.1,208 650.3,208 650.5,208.1 650.7,208.2 650.9,208.2 651,208.2 651.2,208.3 651.4,208.3 651.6,208.4 651.8,208.4 652,208.5 652.2,208.5 652.3,208.6 652.5,208.6 652.7,208.6 652.9,208.7 653.1,208.7 653.3,208.8 653.5,208.8 653.6,208.8 653.8,208.9 654,208.9 654.2,208.9 654.4,209 654.6,209 654.7,209 654.9,209.1 655.1,209.1 655.3,209.1 655.5,209.2 655.7,209.2 655.9,209.2 656,209.2 656.2,209.3 656.4,209.3 656.6,209.3 656.8,209.4 657,209.4 657.1,209.4 657.3,209.4 657.5,209.5 657.7,209.5 657.9,209.5 658.1,209.5 658.3,209.6 658.4,209.6 658.6,209.6 658.8,209.6 659,209.7 659.2,209.7 659.4,209.7 659.6,209.7 659.7,209.8 659.9,209.8 660.1,209.8 660.3,209.8 660.5,209.8 660.7,209.9 660.8,209.9 661,209.9 661.2,209.9 661.4,209.9 661.6,210 661.8,210 662,210 662.1,210 662.3,210 662.5,210.1 662.7,210.1 662.9,210.1 663.1,210.1 663.2,210.1 663.4,210.1 663.6,210.2 663.8,210.2 664,210.2 664.2,210.2 664.4,210.2 664.5,210.3 664.7,210.3 664.9,210.3 665.1,210.3 665.3,210.3 665.5,210.3 665.6,210.4 665.8,210.4 666,210.4 666.2,210.4 666.4,210.4 666.6,210.4 666.8,210.4 666.9,210.5 667.1,210.5 667.3,210.5 667.5,210.5 667.7,210.5 667.9,210.5 668.1,210.6 668.2,210.6 668.4,210.6 668.6,210.6 668.8,210.6 669,210.6 669.2,210.6 669.3,210.7 669.5,210.7 669.7,210.7 669.9,210.7 670.1,210.7 670.3,210.7 670.5,210.7 670.6,210.7 670.8,210.8 671,210.8 671.2,210.8 671.4,210.8 671.6,210.8 671.7,210.8 671.9,210.8 672.1,210.9 672.3,210.9 672.5,210.9 672.7,210.9 672.9,210.9 673,210.9 673.2,210.9 673.4,210.9 673.6,210.9 673.8,211 674,211 674.1,211 674.3,211 674.5,211 674.7,211 674.9,211 675.1,211 675.3,211 675.4,211.1 675.6,211.1 675.8,211.1 676,211.1 676.2,211.1 676.4,211.1 676.6,211.1 676.7,211.1 676.9,211.1 677.1,211.1 677.3,211.2 677.5,211.2 677.7,211.2 677.8,211.2 678,211.2 678.2,211.2 678.4,211.2 678.6,211.2 678.8,211.2 679,211.2 679.1,211.2 679.3,211.2 679.5,211.3 679.7,211.3 679.9,211.3 680.1,211.3 680.2,211.3 680.4,211.3 680.6,211.3 680.8,211.3 681,211.3 681.2,211.3 681.4,211.3 681.5,211.3 681.7,211.3 681.9,211.3 682.1,211.3 682.3,211.3 682.5,211.3 682.7,211.3 682.8,211.3 683,211.3 683.2,211.3 683.4,211.3 683.6,211.3 683.8,211.3 683.9,211.3 684.1,211.3 684.3,211.3 684.5,211.3 684.7,211.3 684.9,211.3 685.1,211.3 685.2,211.3 685.4,211.2 685.6,211.2 685.8,211.2 686,211.2 686.2,211.1 686.3,211.1 686.5,211 686.7,210.9 686.9,210.8 687.1,210.7 687.3,210.5 687.5,210.4 687.6,210.1 687.8,209.9 688,209.6 688.2,209.2 688.4,208.8 688.6,208.2 688.7,207.7 688.9,207 689.1,206.2 689.3,205.4 689.5,204.4 689.7,203.3 689.9,202.1 690,200.9 690.2,199.5 690.4,198 690.6,196.4 690.8,194.7 691,193 691.2,191.3 691.3,189.5 691.5,187.7 691.7,185.9 691.9,184.2 692.1,182.6 692.3,181.1 692.4,179.8 692.6,178.7 692.8,177.8 693,177.1 693.2,176.7 693.4,176.6 693.6,176.8 693.7,177.3 693.9,178 694.1,179 694.3,180.2 694.5,181.6 694.7,183.1 694.8,184.8 695,186.6 695.2,188.4 695.4,190.3 695.6,192.1 695.8,194 696,195.7 696.1,197.5 696.3,199.1 696.5,200.7 696.7,202.1 696.9,203.5 697.1,204.7 697.2,205.9 697.4,206.9 697.6,207.9 697.8,208.7 698,209.4 698.2,210.1 698.4,210.6 698.5,211.1 698.7,211.6 698.9,212 699.1,212.3 699.3,212.6 699.5,212.8 699.7,213 699.8,213.2 700,213.4 700.2,213.5 700.4,213.6 700.6,213.8 700.8,213.9 700.9,213.9 701.1,214 701.3,214.1 701.5,214.2 701.7,214.3 701.9,214.3 702.1,214.4 702.2,214.4 702.4,214.5 702.6,214.6 702.8,214.6 703,214.7 703.2,214.7 703.3,214.8 703.5,214.8 703.7,214.9 703.9,214.9 704.1,215 704.3,215 704.5,215.1 704.6,215.1 704.8,215.2 705,215.2 705.2,215.3 705.4,215.3 705.6,215.3 705.8,215.4 705.9,215.4 706.1,215.5 706.3,215.5 706.5,215.6 706.7,215.6 706.9,215.6 707,215.7 707.2,215.7 707.4,215.8 707.6,215.8 707.8,215.9 708,215.9 708.2,215.9 708.3,216 708.5,216 708.7,216.1 708.9,216.1 709.1,216.1 709.3,216.2 709.4,216.2 709.6,216.2 709.8,216.3 710,216.3 710.2,216.4 710.4,216.4 710.6,216.4 710.7,216.5 710.9,216.5 711.1,216.6 711.3,216.6 711.5,216.6 711.7,216.7 711.8,216.7 712,216.7 712.2,216.8 712.4,216.8 712.6,216.8 712.8,216.9 713,216.9 713.1,217 713.3,217 713.5,217 713.7,217.1 713.9,217.1 714.1,217.1 714.3,217.2 714.4,217.2 714.6,217.2 714.8,217.3 715,217.3 715.2,217.4 715.4,217.4 715.5,217.4 715.7,217.5 715.9,217.5 716.1,217.5 716.3,217.6 716.5,217.6 716.7,217.6 716.8,217.7 717,217.7 717.2,217.7 717.4,217.8 717.6,217.8 717.8,217.8 717.9,217.9 718.1,217.9 718.3,217.9 718.5,218 718.7,218 718.9,218 719.1,218.1 719.2,218.1 719.4,218.1 719.6,218.2 719.8,218.2 720,218.2 720.2,218.3 720.3,218.3 720.5,218.3 720.7,218.4 720.9,218.4 721.1,218.4 721.3,218.5 721.5,218.5 721.6,218.5 721.8,218.6 722,218.6 722.2,218.6 722.4,218.7 722.6,218.7 722.8,218.7 722.9,218.8 723.1,218.8 723.3,218.8 723.5,218.9 723.7,218.9 723.9,218.9 724,219 724.2,219 724.4,219 724.6,219.1 724.8,219.1 725,219.1 725.2,219.1 725.3,219.2 725.5,219.2 725.7,219.2 725.9,219.3 726.1,219.3 726.3,219.3 726.4,219.4 726.6,219.4 726.8,219.4 727,219.4 727.2,219.5 727.4,219.5 727.6,219.5 727.7,219.6 727.9,219.6 728.1,219.6 728.3,219.6 728.5,219.7 728.7,219.7 728.9,219.7 729,219.8 729.2,219.8 729.4,219.8 729.6,219.8 729.8,219.9 730,219.9 730.1,219.9 730.3,219.9 730.5,220 730.7,220 730.9,220 731.1,220 731.3,220.1 731.4,220.1 731.6,220.1 731.8,220.1 732,220.2 732.2,220.2 732.4,220.2 732.5,220.2 732.7,220.2 732.9,220.3 733.1,220.3 733.3,220.3 733.5,220.3 733.7,220.3 733.8,220.4 734,220.4 734.2,220.4 734.4,220.4 734.6,220.4 734.8,220.4 734.9,220.5 735.1,220.5 735.3,220.5 735.5,220.5 735.7,220.5 735.9,220.5 736.1,220.5 736.2,220.5 736.4,220.5 736.6,220.6 736.8,220.6 737,220.6 737.2,220.6 737.4,220.6 737.5,220.6 737.7,220.6 737.9,220.6 738.1,220.6 738.3,220.6 738.5,220.6 738.6,220.6 738.8,220.6 739,220.6 739.2,220.6 739.4,220.5 739.6,220.5 739.8,220.5 739.9,220.5 740.1,220.5 740.3,220.5 740.5,220.4 740.7,220.4 740.9,220.4 741,220.4 741.2,220.3 741.4,220.3 741.6,220.3 741.8,220.2 742,220.2 742.2,220.1 742.3,220.1 742.5,220 742.7,219.9 742.9,219.9 743.1,219.8 743.3,219.7 743.4,219.6 743.6,219.5 743.8,219.4 744,219.3 744.2,219.2 744.4,219 744.6,218.9 744.7,218.7 744.9,218.5 745.1,218.3 745.3,218 745.5,217.7 745.7,217.3 745.9,216.9 746,216.5 746.2,215.9 746.4,215.3 746.6,214.5 746.8,213.6 747,212.6 747.1,211.3 747.3,209.9 747.5,208.2 747.7,206.2 747.9,204 748.1,201.4 748.3,198.4 748.4,195 748.6,191.1 748.8,186.7 749,181.8 749.2,176.3 749.4,170.2 749.5,163.6 749.7,156.3 749.9,148.3 750.1,139.8 750.3,130.7 750.5,121 750.7,110.8 750.8,100.2 751,89.3 751.2,78.1 751.4,66.8 751.6,55.4 751.8,44.2 752,33.3 752.1,22.9 752.3,13.1 752.5,4.1 752.7,-3.9 752.9,-10.8 753.1,-16.3 753.2,-20.3 753.4,-22.7 753.6,-23.6 753.8,-22.7 754,-20.2 754.2,-16.1 754.4,-10.5 754.5,-3.6 754.7,4.4 754.9,13.5 755.1,23.4 755.3,33.9 755.5,44.8 755.6,56.1 755.8,67.5 756,78.9 756.2,90.2 756.4,101.2 756.6,111.8 756.8,122 756.9,131.8 757.1,141 757.3,149.6 757.5,157.5 757.7,164.9 757.9,171.6 758,177.8 758.2,183.3 758.4,188.3 758.6,192.7 758.8,196.7 759,200.2 759.2,203.2 759.3,205.9 759.5,208.2 759.7,210.2 759.9,212 760.1,213.5 760.3,214.8 760.5,215.9 760.6,216.8 760.8,217.7 761,218.4 761.2,219 761.4,219.5 761.6,220 761.7,220.4 761.9,220.8 762.1,221.1 762.3,221.4 762.5,221.6 762.7,221.9 762.9,222.1 763,222.3 763.2,222.5 763.4,222.7 763.6,222.9 763.8,223 764,223.2 764.1,223.3 764.3,223.5 764.5,223.6 764.7,223.7 764.9,223.9 765.1,224 765.3,224.1 765.4,224.2 765.6,224.3 765.8,224.4 766,224.5 766.2,224.6 766.4,224.7 766.5,224.8 766.7,224.9 766.9,225 767.1,225.1 767.3,225.2 767.5,225.3 767.7,225.4 767.8,225.4 768,225.5 768.2,225.6 768.4,225.7 768.6,225.7 768.8,225.8 769,225.9 769.1,226 769.3,226 769.5,226.1 769.7,226.2 769.9,226.2 770.1,226.3 770.2,226.4 770.4,226.4 770.6,226.5 770.8,226.5 771,226.6 771.2,226.7 771.4,226.7 771.5,226.8 771.7,226.8 771.9,226.9 772.1,227 772.3,227 772.5,227.1 772.6,227.1 772.8,227.2 773,227.2 773.2,227.3 773.4,227.3 773.6,227.4 773.8,227.4 773.9,227.5 774.1,227.5 774.3,227.6 774.5,227.6 774.7,227.7 774.9,227.7 775.1,227.8 775.2,227.8 775.4,227.9 775.6,227.9 775.8,228 776,228 776.2,228.1 776.3,228.1 776.5,228.2 776.7,228.2 776.9,228.3 777.1,228.3 777.3,228.3 777.5,228.4 777.6,228.4 777.8,228.5 778,228.5 778.2,228.6 778.4,228.6 778.6,228.7 778.7,228.7 778.9,228.7 779.1,228.8 779.3,228.8 779.5,228.9 779.7,228.9 779.9,229 780,229 780.2,229 780.4,229.1 780.6,229.1 780.8,229.2 781,229.2 781.1,229.2 781.3,229.3 781.5,229.3 781.7,229.4 781.9,229.4 782.1,229.4 782.3,229.5 782.4,229.5 782.6,229.6 782.8,229.6 783,229.6 783.2,229.7 783.4,229.7 783.6,229.8 783.7,229.8 783.9,229.8 784.1,229.9 784.3,229.9 784.5,230 784.7,230 784.8,230 785,230.1 785.2,230.1 785.4,230.2 785.6,230.2 785.8,230.2 786,230.3 786.1,230.3 786.3,230.3 786.5,230.4 786.7,230.4 786.9,230.5 787.1,230.5 787.2,230.5 787.4,230.6 787.6,230.6 787.8,230.7 788,230.7 788.2,230.7 788.4,230.8 788.5,230.8 788.7,230.8 788.9,230.9 789.1,230.9 789.3,231 789.5,231 789.6,231 789.8,231.1 790,231.1 790.2,231.1 790.4,231.2 790.6,231.2 790.8,231.2 790.9,231.3 791.1,231.3 791.3,231.4 791.5,231.4 791.7,231.4 791.9,231.5 792.1,231.5 792.2,231.5 792.4,231.6 792.6,231.6 792.8,231.7 793,231.7 793.2,231.7 793.3,231.8 793.5,231.8 793.7,231.8 793.9,231.9 794.1,231.9 794.3,231.9 794.5,232 794.6,232 794.8,232 795,232.1 795.2,232.1 795.4,232.2 795.6,232.2 795.7,232.2 795.9,232.3 796.1,232.3 796.3,232.3 796.5,232.4 796.7,232.4 796.9,232.4 797,232.5 797.2,232.5 797.4,232.5 797.6,232.6 797.8,232.6 798,232.7 798.2,232.7 798.3,232.7 798.5,232.8 798.7,232.8 798.9,232.8 799.1,232.9 799.3,232.9 799.4,232.9 799.6,233 799.8,233 800,233 800.2,233.1 800.4,233.1 800.6,233.1 800.7,233.2 800.9,233.2 801.1,233.2 801.3,233.3 801.5,233.3 801.7,233.3 801.8,233.4 802,233.4 802.2,233.4 802.4,233.5 802.6,233.5 802.8,233.5 803,233.6 803.1,233.6 803.3,233.6 803.5,233.7 803.7,233.7 803.9,233.7 804.1,233.8 804.2,233.8 804.4,233.8 804.6,233.9 804.8,233.9 805,233.9 805.2,234 805.4,234 805.5,234 805.7,234 805.9,234.1 806.1,234.1 806.3,234.1 806.5,234.2 806.7,234.2 806.8,234.2 807,234.3 807.2,234.3 807.4,234.3 807.6,234.4 807.8,234.4 807.9,234.4 808.1,234.5 808.3,234.5 808.5,234.5 808.7,234.6 808.9,234.6 809.1,234.6 809.2,234.7 809.4,234.7 809.6,234.7 809.8,234.7 810,234.8 810.2,234.8 810.3,234.8 810.5,234.9 810.7,234.9 810.9,234.9 811.1,235 811.3,235 811.5,235 811.6,235.1 811.8,235.1 812,235.1 812.2,235.2 812.4,235.2 812.6,235.2 812.7,235.2 812.9,235.3 813.1,235.3 813.3,235.3 813.5,235.4 813.7,235.4 813.9,235.4 814,235.5 814.2,235.5 814.4,235.5 814.6,235.6 814.8,235.6 815,235.6 815.2,235.6 815.3,235.7 815.5,235.7 815.7,235.7 815.9,235.8 816.1,235.8 816.3,235.8 816.4,235.9 816.6,235.9 816.8,235.9 817,236 817.2,236 817.4,236 817.6,236 817.7,236.1 817.9,236.1 818.1,236.1 818.3,236.2 818.5,236.2 818.7,236.2 818.8,236.3 819,236.3 819.2,236.3 819.4,236.4 819.6,236.4 819.8,236.4 820,236.4 820.1,236.5 820.3,236.5 820.5,236.5 820.7,236.6 820.9,236.6 821.1,236.6 821.3,236.7 821.4,236.7 821.6,236.7 821.8,236.7 822,236.8 822.2,236.8 822.4,236.8 822.5,236.9 822.7,236.9 822.9,236.9 823.1,237 823.3,237 823.5,237 823.7,237 823.8,237.1 824,237.1 824.2,237.1 824.4,237.2 824.6,237.2 824.8,237.2 824.9,237.2 825.1,237.3 825.3,237.3 825.5,237.3 825.7,237.4 825.9,237.4 826.1,237.4 826.2,237.4 826.4,237.5 826.6,237.5 826.8,237.5 827,237.6 827.2,237.6 827.3,237.6 827.5,237.6 827.7,237.7 827.9,237.7 828.1,237.7 828.3,237.8 828.5,237.8 828.6,237.8 828.8,237.8 829,237.9 829.2,237.9 829.4,237.9 829.6,237.9 829.8,238 829.9,238 830.1,238 830.3,238 830.5,238.1 830.7,238.1 830.9,238.1 831,238.2 831.2,238.2 831.4,238.2 831.6,238.2 831.8,238.3 832,238.3 832.2,238.3 832.3,238.3 832.5,238.4 832.7,238.4 832.9,238.4 833.1,238.4 833.3,238.5 833.4,238.5 833.6,238.5 833.8,238.5 834,238.5 834.2,238.6 834.4,238.6 834.6,238.6 834.7,238.6 834.9,238.7 835.1,238.7 835.3,238.7 835.5,238.7 835.7,238.7 835.8,238.8 836,238.8 836.2,238.8 836.4,238.8 836.6,238.8 836.8,238.8 837,238.9 837.1,238.9 837.3,238.9 837.5,238.9 837.7,238.9 837.9,238.9 838.1,239 838.3,239 838.4,239 838.6,239 838.8,239 839,239 839.2,239 839.4,239 839.5,239 839.7,239 839.9,239 840.1,239.1 840.3,239.1 840.5,239.1 840.7,239.1 840.8,239.1 841,239.1 841.2,239 841.4,239 841.6,239 841.8,239 841.9,239 842.1,239 842.3,239 842.5,238.9 842.7,238.9 842.9,238.9 843.1,238.8 843.2,238.8 843.4,238.7 843.6,238.6 843.8,238.5 844,238.4 844.2,238.2 844.4,238.1 844.5,237.9 844.7,237.6 844.9,237.3 845.1,237 845.3,236.6 845.5,236.1 845.6,235.6 845.8,234.9 846,234.2 846.2,233.4 846.4,232.4 846.6,231.3 846.8,230.1 846.9,228.7 847.1,227.2 847.3,225.5 847.5,223.6 847.7,221.6 847.9,219.3 848,217 848.2,214.4 848.4,211.7 848.6,208.9 848.8,206 849,202.9 849.2,199.8 849.3,196.7 849.5,193.5 849.7,190.4 849.9,187.4 850.1,184.5 850.3,181.7 850.4,179.2 850.6,177 850.8,175.1 851,173.6 851.2,172.5 851.4,171.8 851.6,171.6 851.7,171.9 851.9,172.6 852.1,173.7 852.3,175.3 852.5,177.2 852.7,179.5 852.9,182 853,184.8 853.2,187.7 853.4,190.8 853.6,194 853.8,197.2 854,200.3 854.1,203.5 854.3,206.6 854.5,209.5 854.7,212.4 854.9,215.1 855.1,217.7 855.3,220.1 855.4,222.3 855.6,224.3 855.8,226.2 856,227.9 856.2,229.4 856.4,230.7 856.5,231.8 856.7,232.9 856.9,233.7 857.1,234.4 857.3,235 857.5,235.4 857.7,235.7 857.8,235.8 858,235.9 858.2,235.8 858.4,235.6 858.6,235.3 858.8,234.8 858.9,234.3 859.1,233.6 859.3,232.8 859.5,231.9 859.7,230.8 859.9,229.7 860.1,228.4 860.2,227 860.4,225.5 860.6,223.9 860.8,222.2 861,220.4 861.2,218.6 861.4,216.7 861.5,214.8 861.7,212.9 861.9,211 862.1,209.2 862.3,207.4 862.5,205.8 862.6,204.3 862.8,203 863,201.8 863.2,200.9 863.4,200.3 863.6,199.9 863.8,199.8 863.9,200 864.1,200.5 864.3,201.3 864.5,202.3 864.7,203.5 864.9,205 865,206.6 865.2,208.4 865.4,210.2 865.6,212.2 865.8,214.2 866,216.2 866.2,218.3 866.3,220.3 866.5,222.2 866.7,224.1 866.9,226 867.1,227.7 867.3,229.4 867.5,230.9 867.6,232.4 867.8,233.7 868,235 868.2,236.1 868.4,237.2 868.6,238.1 868.7,238.9 868.9,239.7 869.1,240.4 869.3,241 869.5,241.5 869.7,242 869.9,242.4 870,242.8 870.2,243.1 870.4,243.4 870.6,243.6 870.8,243.8 871,244 871.1,244.2 871.3,244.3 871.5,244.5 871.7,244.6 871.9,244.7 872.1,244.8 872.3,244.9 872.4,245 872.6,245.1 872.8,245.2 873,245.3 873.2,245.3 873.4,245.4 873.5,245.5 873.7,245.5 873.9,245.6 874.1,245.7 874.3,245.7 874.5,245.8 874.7,245.8 874.8,245.9 875,245.9 875.2,246 875.4,246.1 875.6,246.1 875.8,246.2 876,246.2 876.1,246.3 876.3,246.3 876.5,246.3 876.7,246.4 876.9,246.4 877.1,246.5 877.2,246.5 877.4,246.6 877.6,246.6 877.8,246.7 878,246.7 878.2,246.7 878.4,246.8 878.5,246.8 878.7,246.9 878.9,246.9 879.1,246.9 879.3,247 879.5,247 879.6,247 879.8,247.1 880,247.1 880.2,247.1 880.4,247.2 880.6,247.2 880.8,247.2 880.9,247.3 881.1,247.3 881.3,247.3 881.5,247.3 881.7,247.4 881.9,247.4 882,247.4 882.2,247.4 882.4,247.5 882.6,247.5 882.8,247.5 883,247.5 883.2,247.5 883.3,247.5 883.5,247.6 883.7,247.6 883.9,247.6 884.1,247.6 884.3,247.6 884.5,247.6 884.6,247.6 884.8,247.6 885,247.6 885.2,247.6 885.4,247.6 885.6,247.6 885.7,247.5 885.9,247.5 886.1,247.5 886.3,247.4 886.5,247.4 886.7,247.3 886.9,247.3 887,247.2 887.2,247.1 887.4,246.9 887.6,246.8 887.8,246.6 888,246.4 888.1,246.1 888.3,245.8 888.5,245.5 888.7,245.1 888.9,244.6 889.1,244.1 889.3,243.5 889.4,242.8 889.6,242.1 889.8,241.2 890,240.3 890.2,239.3 890.4,238.2 890.6,236.9 890.7,235.6 890.9,234.2 891.1,232.7 891.3,231.1 891.5,229.5 891.7,227.8 891.8,226 892,224.2 892.2,222.4 892.4,220.6 892.6,218.8 892.8,217.1 893,215.4 893.1,213.9 893.3,212.5 893.5,211.2 893.7,210.2 893.9,209.3 894.1,208.7 894.2,208.3 894.4,208.2 894.6,208.4 894.8,208.8 895,209.4 895.2,210.3 895.4,211.5 895.5,212.8 895.7,214.2 895.9,215.8 896.1,217.5 896.3,219.3 896.5,221.1 896.6,223 896.8,224.8 897,226.7 897.2,228.5 897.4,230.2 897.6,231.9 897.8,233.6 897.9,235.1 898.1,236.5 898.3,237.9 898.5,239.2 898.7,240.3 898.9,241.4 899.1,242.4 899.2,243.3 899.4,244.1 899.6,244.8 899.8,245.4 900,246 900.2,246.5 900.3,247 900.5,247.3 900.7,247.7 900.9,248 901.1,248.3 901.3,248.5 901.5,248.7 901.6,248.9 901.8,249 902,249.2 902.2,249.3 902.4,249.4 902.6,249.5 902.7,249.6 902.9,249.7 903.1,249.7 903.3,249.8 903.5,249.9 903.7,249.9 903.9,250 904,250 904.2,250.1 904.4,250.1 904.6,250.2 904.8,250.2 905,250.3 905.1,250.3 905.3,250.3 905.5,250.4 905.7,250.4 905.9,250.5 906.1,250.5 906.3,250.5 906.4,250.6 906.6,250.6 906.8,250.6 907,250.6 907.2,250.7 907.4,250.7 907.6,250.7 907.7,250.7 907.9,250.8 908.1,250.8 908.3,250.8 908.5,250.8 908.7,250.8 908.8,250.8 909,250.8 909.2,250.8 909.4,250.8 909.6,250.8 909.8,250.8 910,250.7 910.1,250.7 910.3,250.6 910.5,250.6 910.7,250.5 910.9,250.4 911.1,250.3 911.2,250.2 911.4,250 911.6,249.9 911.8,249.7 912,249.6 912.2,249.4 912.4,249.1 912.5,248.9 912.7,248.7 912.9,248.4 913.1,248.2 913.3,247.9 913.5,247.6 913.7,247.4 913.8,247.1 914,246.8 914.2,246.6 914.4,246.3 914.6,246.1 914.8,245.9 914.9,245.7 915.1,245.5 915.3,245.4 915.5,245.3 915.7,245.3 915.9,245.3 916.1,245.3 916.2,245.4 916.4,245.6 916.6,245.7 916.8,245.9 917,246.2 917.2,246.4 917.3,246.7 917.5,247 917.7,247.3 917.9,247.6 918.1,247.9 918.3,248.3 918.5,248.6 918.6,248.9 918.8,249.2 919,249.5 919.2,249.8 919.4,250.1 919.6,250.3 919.7,250.6 919.9,250.8 920.1,251 920.3,251.2 920.5,251.4 920.7,251.6 920.9,251.7 921,251.9 921.2,252 921.4,252.1 921.6,252.2 921.8,252.3 922,252.4 922.2,252.5 922.3,252.6 922.5,252.6 922.7,252.7 922.9,252.7 923.1,252.8 923.3,252.8 923.4,252.9 923.6,252.9 923.8,252.9 924,253 924.2,253 924.4,253 924.6,253.1 924.7,253.1 924.9,253.1 925.1,253.2 925.3,253.2 925.5,253.2 925.7,253.2 925.8,253.3 926,253.3 926.2,253.3 926.4,253.3 926.6,253.3 926.8,253.4 927,253.4 927.1,253.4 927.3,253.4 927.5,253.5 927.7,253.5 927.9,253.5 928.1,253.5 928.2,253.5 928.4,253.6 928.6,253.6 928.8,253.6 929,253.6 929.2,253.6 929.4,253.7 929.5,253.7 929.7,253.7 929.9,253.7 930.1,253.7 930.3,253.7 930.5,253.8 930.7,253.8 930.8,253.8 931,253.8 931.2,253.8 931.4,253.8 931.6,253.9 931.8,253.9 931.9,253.9 932.1,253.9 932.3,253.9 932.5,253.9 932.7,254 932.9,254 933.1,254 933.2,254 933.4,254 933.6,254 933.8,254.1 934,254.1 934.2,254.1 934.3,254.1 934.5,254.1 934.7,254.1 934.9,254.2 935.1,254.2 935.3,254.2 935.5,254.2 935.6,254.2 935.8,254.2 936,254.3 936.2,254.3 936.4,254.3 936.6,254.3 936.8,254.3 936.9,254.3 937.1,254.4 937.3,254.4 937.5,254.4 937.7,254.4 937.9,254.4 938,254.4 938.2,254.4 938.4,254.5 938.6,254.5 938.8,254.5 939,254.5 939.2,254.5 939.3,254.5 939.5,254.5 939.7,254.6 939.9,254.6 940.1,254.6 940.3,254.6 940.4,254.6 940.6,254.6 940.8,254.6 941,254.6 941.2,254.7 941.4,254.7 941.6,254.7 941.7,254.7 941.9,254.7 942.1,254.7 942.3,254.7 942.5,254.7 942.7,254.7 942.8,254.7 943,254.7 943.2,254.7 943.4,254.6 943.6,254.6 943.8,254.6 944,254.6 944.1,254.6 944.3,254.5 944.5,254.5 944.7,254.5 944.9,254.4 945.1,254.4 945.3,254.3 945.4,254.3 945.6,254.3 945.8,254.2 946,254.2 946.2,254.1 946.4,254.1 946.5,254.1 946.7,254 946.9,254 947.1,254 947.3,253.9 947.5,253.9 947.7,253.9 947.8,253.9 948,253.9 948.2,254 948.4,254 948.6,254 948.8,254.1 948.9,254.1 949.1,254.2 949.3,254.2 949.5,254.3 949.7,254.4 949.9,254.4 950.1,254.5 950.2,254.6 950.4,254.7 950.6,254.7 950.8,254.8 951,254.9 951.2,255 951.3,255 951.5,255.1 951.7,255.2 951.9,255.2 952.1,255.3 952.3,255.3 952.5,255.4 952.6,255.4 952.8,255.5 953,255.5 953.2,255.6 953.4,255.6 953.6,255.6 953.8,255.7 953.9,255.7 954.1,255.7 954.3,255.8 954.5,255.8 954.7,255.8 954.9,255.8 955,255.8 955.2,255.9 955.4,255.9 955.6,255.9 955.8,255.9 956,255.9 956.2,256 956.3,256 956.5,256 956.7,256 956.9,256 957.1,256.1 957.3,256.1 957.4,256.1 957.6,256.1 957.8,256.1 958,256.1 958.2,256.2 958.4,256.2 958.6,256.2 958.7,256.2 958.9,256.2 959.1,256.2 959.3,256.3 959.5,256.3 959.7,256.3 959.9,256.3 960,256.3 960.2,256.3 960.4,256.3 960.6,256.4 960.8,256.4 961,256.4 961.1,256.4 961.3,256.4 961.5,256.4 961.7,256.5 961.9,256.5 962.1,256.5 962.3,256.5 962.4,256.5 962.6,256.5 962.8,256.6 963,256.6 963.2,256.6 963.4,256.6 963.5,256.6 963.7,256.6 963.9,256.6 964.1,256.7 964.3,256.7 964.5,256.7 964.7,256.7 964.8,256.7 965,256.7 965.2,256.7 965.4,256.7 965.6,256.8 965.8,256.8 965.9,256.8 966.1,256.8 966.3,256.8 966.5,256.8 966.7,256.8 966.9,256.8 967.1,256.9 967.2,256.9 967.4,256.9 967.6,256.9 967.8,256.9 968,256.9 968.2,256.9 968.4,256.9 968.5,256.9 968.7,256.9 968.9,257 969.1,257 969.3,257 969.5,257 969.6,257 969.8,257 970,257 970.2,257 970.4,257 970.6,257 970.8,257 970.9,257 971.1,257 971.3,257.1 971.5,257.1 971.7,257.1 971.9,257.1 972,257.1 972.2,257.1 972.4,257.1 972.6,257.1 972.8,257.1 973,257.1 973.2,257.1 973.3,257.1 973.5,257.1 973.7,257.1 973.9,257.1 974.1,257.2 974.3,257.2 974.4,257.2 974.6,257.2 974.8,257.2 975,257.2 975.2,257.2 975.4,257.2 975.6,257.2 975.7,257.2 975.9,257.2 976.1,257.2 976.3,257.2 976.5,257.2 976.7,257.2 976.9,257.2 977,257.3 977.2,257.3 977.4,257.3 977.6,257.3 977.8,257.3 978,257.3 978.1,257.3 978.3,257.3 978.5,257.3 978.7,257.3 978.9,257.3 979.1,257.3 979.3,257.3 979.4,257.3 979.6,257.3 979.8,257.3 980,257.4 980.2,257.4 980.4,257.4 980.5,257.4 980.7,257.4 980.9,257.4 981.1,257.4 981.3,257.4 981.5,257.4 981.7,257.4 981.8,257.4 982,257.4 982.2,257.4 982.4,257.4 982.6,257.4 982.8,257.4 983,257.5 983.1,257.5 983.3,257.5 983.5,257.5 983.7,257.5 983.9,257.5 984.1,257.5 984.2,257.5 984.4,257.5 984.6,257.5 984.8,257.5 985,257.5 985.2,257.5 985.4,257.5 985.5,257.5 985.7,257.5 985.9,257.5 986.1,257.6 986.3,257.6 986.5,257.6 986.6,257.6 986.8,257.6 987,257.6 987.2,257.6 987.4,257.6 987.6,257.6 987.8,257.6 987.9,257.6 988.1,257.6 988.3,257.6 988.5,257.6 988.7,257.6 988.9,257.6 989,257.6 989.2,257.7 989.4,257.7 989.6,257.7 989.8,257.7 990,257.7 990.2,257.7 990.3,257.7 990.5,257.7 990.7,257.7 990.9,257.7 991.1,257.7 991.3,257.7 991.5,257.7 991.6,257.7 991.8,257.7 992,257.7 992.2,257.7 992.4,257.8 992.6,257.8 992.7,257.8 992.9,257.8 993.1,257.8 993.3,257.8 993.5,257.8 993.7,257.8 993.9,257.8 994,257.8 994.2,257.8 994.4,257.8 994.6,257.8 994.8,257.8 995,257.8 995.1,257.8 995.3,257.8 995.5,257.8 995.7,257.9 995.9,257.9 996.1,257.9 996.3,257.9 996.4,257.9 996.6,257.9 996.8,257.9 997,257.9 997.2,257.9 997.4,257.9 997.5,257.9 997.7,257.9 997.9,257.9 998.1,257.9 998.3,257.9 998.5,257.9 998.7,257.9 998.8,257.9 999,257.9 999.2,257.9 999.4,258 999.6,258 999.8,258 1000,258 1000.1,258 1000.3,258 1000.5,258 1000.7,258 1000.9,258 1001.1,258 1001.2,258 1001.4,258 1001.6,258 1001.8,258 1002,258 1002.2,258 1002.4,258 1002.5,258 1002.7,258 1002.9,258 1003.1,258 1003.3,258 1003.5,258 1003.6,258 1003.8,258 1004,258 1004.2,258 1004.4,258 1004.6,258 1004.8,258 1004.9,258 1005.1,258 1005.3,258 1005.5,258 1005.7,258 1005.9,258 1006.1,258 1006.2,258 1006.4,258 1006.6,258 1006.8,258 1007,258 1007.2,258 1007.3,258 1007.5,258 1007.7,258 1007.9,258 1008.1,258 1008.3,258 1008.5,257.9 1008.6,257.9 1008.8,257.9 1009,257.9 1009.2,257.8 1009.4,257.8 1009.6,257.7 1009.7,257.7 1009.9,257.6 1010.1,257.6 1010.3,257.5 1010.5,257.4 1010.7,257.3 1010.9,257.1 1011,257 1011.2,256.9 1011.4,256.7 1011.6,256.5 1011.8,256.3 1012,256 1012.1,255.8 1012.3,255.5 1012.5,255.2 1012.7,254.9 1012.9,254.5 1013.1,254.2 1013.3,253.8 1013.4,253.4 1013.6,252.9 1013.8,252.5 1014,252 1014.2,251.6 1014.4,251.1 1014.6,250.6 1014.7,250.2 1014.9,249.7 1015.1,249.3 1015.3,248.8 1015.5,248.4 1015.7,248.1 1015.8,247.8 1016,247.5 1016.2,247.3 1016.4,247.1 1016.6,247 1016.8,247 1017,247 1017.1,247.1 1017.3,247.3 1017.5,247.5 1017.7,247.8 1017.9,248.1 1018.1,248.5 1018.2,248.9 1018.4,249.3 1018.6,249.7 1018.8,250.2 1019,250.7 1019.2,251.2 1019.4,251.6 1019.5,252.1 1019.7,252.6 1019.9,253 1020.1,253.5 1020.3,253.9 1020.5,254.3 1020.6,254.6 1020.8,255 1021,255.3 1021.2,255.6 1021.4,255.9 1021.6,256.2 1021.8,256.4 1021.9,256.6 1022.1,256.8 1022.3,257 1022.5,257.2 1022.7,257.3 1022.9,257.4 1023.1,257.6 1023.2,257.7 1023.4,257.8 1023.6,257.8 1023.8,257.9 1024,258 1024.2,258 1024.3,258.1 1024.5,258.1 1024.7,258.1 1024.9,258.2 1025.1,258.2 1025.3,258.2 1025.5,258.2 1025.6,258.3 1025.8,258.3 1026,258.3 1026.2,258.3 1026.4,258.3 1026.6,258.3 1026.7,258.4 1026.9,258.4 1027.1,258.4 1027.3,258.4 1027.5,258.4 1027.7,258.4 1027.9,258.4 1028,258.4 1028.2,258.4 1028.4,258.4 1028.6,258.4 1028.8,258.5 1029,258.5 1029.2,258.5 1029.3,258.5 1029.5,258.5 1029.7,258.5 1029.9,258.5 1030.1,258.5 1030.3,258.5 1030.4,258.5 1030.6,258.5 1030.8,258.5 1031,258.5 1031.2,258.5 1031.4,258.5 1031.6,258.5 1031.7,258.6 1031.9,258.6 1032.1,258.6 1032.3,258.6 1032.5,258.6 1032.7,258.6 1032.8,258.6 1033,258.6 1033.2,258.6 1033.4,258.6 1033.6,258.6 1033.8,258.6 1034,258.6 1034.1,258.6 1034.3,258.6 1034.5,258.6 1034.7,258.6 1034.9,258.6 1035.1,258.6 1035.2,258.6 1035.4,258.6 1035.6,258.6 1035.8,258.6 1036,258.6 1036.2,258.6 1036.4,258.6 1036.5,258.6 1036.7,258.6 1036.9,258.6 1037.1,258.6 1037.3,258.6 1037.5,258.6 1037.7,258.6 1037.8,258.6 1038,258.6 1038.2,258.6 1038.4,258.6 1038.6,258.6 1038.8,258.6 1038.9,258.6 1039.1,258.6 1039.3,258.6 1039.5,258.6 1039.7,258.6 1039.9,258.6 1040.1,258.6 1040.2,258.6 1040.4,258.6 1040.6,258.6 1040.8,258.6 1041,258.6 1041.2,258.5 1041.3,258.5 1041.5,258.5 1041.7,258.5 1041.9,258.4 1042.1,258.4 1042.3,258.4 1042.5,258.3 1042.6,258.3 1042.8,258.2 1043,258.2 1043.2,258.1 1043.4,258.1 1043.6,258 1043.7,257.9 1043.9,257.9 1044.1,257.8 1044.3,257.7 1044.5,257.7 1044.7,257.6 1044.9,257.5 1045,257.4 1045.2,257.4 1045.4,257.3 1045.6,257.2 1045.8,257.2 1046,257.1 1046.2,257.1 1046.3,257 1046.5,257 1046.7,257 1046.9,257 1047.1,257 1047.3,257 1047.4,257 1047.6,257 1047.8,257.1 1048,257.1 1048.2,257.1 1048.4,257.2 1048.6,257.3 1048.7,257.3 1048.9,257.4 1049.1,257.5 1049.3,257.6 1049.5,257.6 1049.7,257.7 1049.8,257.8 1050,257.9 1050.2,257.9 1050.4,258 1050.6,258.1 1050.8,258.1 1051,258.2 1051.1,258.3 1051.3,258.3 1051.5,258.4 1051.7,258.4 1051.9,258.4 1052.1,258.5 1052.3,258.5 1052.4,258.6 1052.6,258.6 1052.8,258.6 1053,258.6 1053.2,258.7 1053.4,258.7 1053.5,258.7 1053.7,258.7 1053.9,258.7 1054.1,258.7 1054.3,258.8 1054.5,258.8 1054.7,258.8 1054.8,258.8 1055,258.8 1055.2,258.8 1055.4,258.8 1055.6,258.8 1055.8,258.8 1055.9,258.8 1056.1,258.8 1056.3,258.8 1056.5,258.8 1056.7,258.8 1056.9,258.8 1057.1,258.8 1057.2,258.8 1057.4,258.8 1057.6,258.8 1057.8,258.8 1058,258.8 1058.2,258.8 1058.3,258.8 1058.5,258.8 1058.7,258.9 1058.9,258.9 1059.1,258.9 1059.3,258.9 1059.5,258.9 1059.6,258.9 1059.8,258.9 1060,258.9 1060.2,258.9 1060.4,258.9 1060.6,258.9 1060.8,258.9 1060.9,258.9 1061.1,258.9 1061.3,258.9 1061.5,258.9 1061.7,258.9 1061.9,258.9 1062,258.9 1062.2,258.9 1062.4,258.9 1062.6,258.9 1062.8,258.9 1063,258.9 1063.2,258.9 1063.3,258.9 1063.5,258.9 1063.7,258.9 1063.9,258.9 1064.1,258.9 1064.3,258.9 1064.4,258.9 1064.6,258.9 1064.8,258.9 1065,258.9 1065.2,258.9 1065.4,258.9 1065.6,258.9 1065.7,258.9 1065.9,258.9 1066.1,258.9 1066.3,258.9 1066.5,258.9 1066.7,258.9 1066.8,258.9 1067,258.9 1067.2,258.9 1067.4,258.9 1067.6,258.9 1067.8,259 1068,259 1068.1,259 1068.3,259 1068.5,259 1068.7,259 1068.9,259 1069.1,259 1069.3,259 1069.4,259 1069.6,259 1069.8,259 1070,259 1070.2,259 1070.4,259 1070.5,259 1070.7,259 1070.9,259 1071.1,259 1071.3,259 1071.5,259 1071.7,259 1071.8,259 1072,259 1072.2,259 1072.4,259 1072.6,259 1072.8,259 1072.9,259 1073.1,259 1073.3,259 1073.5,259 1073.7,259 1073.9,259 1074.1,259 1074.2,259 1074.4,259 1074.6,259 1074.8,259 1075,259 1075.2,259 1075.4,259 1075.5,259 1075.7,259 1075.9,259 1076.1,259 1076.3,259 1076.5,259 1076.6,259 1076.8,259 1077,259 1077.2,259 1077.4,259 1077.6,259 1077.8,259 1077.9,259 1078.1,259 1078.3,259 1078.5,259 1078.7,259 1078.9,259 1079,259 1079.2,259 1079.4,258.9 1079.6,258.9 1079.8,258.9 1080,258.9 1080.2,258.9 1080.3,258.9 1080.5,258.9 1080.7,258.9 1080.9,258.9 1081.1,258.9 1081.3,258.9 1081.4,258.9 1081.6,258.9 1081.8,258.9 1082,258.9 1082.2,258.9 1082.4,258.8 1082.6,258.8 1082.7,258.8 1082.9,258.8 1083.1,258.8 1083.3,258.8 1083.5,258.8 1083.7,258.8 1083.9,258.7 1084,258.7 1084.2,258.7 1084.4,258.7 1084.6,258.7 1084.8,258.7 1085,258.6 1085.1,258.6 1085.3,258.6 1085.5,258.6 1085.7,258.5 1085.9,258.5 1086.1,258.5 1086.3,258.4 1086.4,258.4 1086.6,258.3 1086.8,258.2 1087,258.2 1087.2,258.1 1087.4,258 1087.5,257.9 1087.7,257.8 1087.9,257.7 1088.1,257.5 1088.3,257.4 1088.5,257.2 1088.7,256.9 1088.8,256.7 1089,256.4 1089.2,256.1 1089.4,255.7 1089.6,255.3 1089.8,254.9 1089.9,254.4 1090.1,253.9 1090.3,253.3 1090.5,252.6 1090.7,251.9 1090.9,251.1 1091.1,250.2 1091.2,249.3 1091.4,248.4 1091.6,247.3 1091.8,246.2 1092,245.1 1092.2,243.9 1092.4,242.7 1092.5,241.4 1092.7,240.1 1092.9,238.8 1093.1,237.4 1093.3,236.1 1093.5,234.8 1093.6,233.5 1093.8,232.3 1094,231.1 1094.2,230.1 1094.4,229.1 1094.6,228.2 1094.8,227.5 1094.9,226.9 1095.1,226.4 1095.3,226.2 1095.5,226.1 1095.7,226.2 1095.9,226.5 1096,226.9 1096.2,227.5 1096.4,228.2 1096.6,229.1 1096.8,230.1 1097,231.2 1097.2,232.3 1097.3,233.5 1097.5,234.8 1097.7,236.1 1097.9,237.5 1098.1,238.8 1098.3,240.1 1098.5,241.4 1098.6,242.7 1098.8,243.9 1099,245.1 1099.2,246.2 1099.4,247.3 1099.6,248.3 1099.7,249.3 1099.9,250.2 1100.1,251 1100.3,251.8 1100.5,252.5 1100.7,253.1 1100.9,253.7 1101,254.2 1101.2,254.7 1101.4,255.1 1101.6,255.4 1101.8,255.7 1102,256 1102.1,256.2 1102.3,256.3 1102.5,256.4 1102.7,256.5 1102.9,256.6 1103.1,256.5 1103.3,256.5 1103.4,256.4 1103.6,256.3 1103.8,256.2 1104,256 1104.2,255.8 1104.4,255.5 1104.5,255.2 1104.7,254.9 1104.9,254.6 1105.1,254.2 1105.3,253.8 1105.5,253.3 1105.7,252.9 1105.8,252.4 1106,251.9 1106.2,251.3 1106.4,250.8 1106.6,250.2 1106.8,249.7 1107,249.1 1107.1,248.6 1107.3,248 1107.5,247.5 1107.7,247 1107.9,246.6 1108.1,246.2 1108.2,245.8 1108.4,245.5 1108.6,245.3 1108.8,245.1 1109,245 1109.2,245 1109.4,245 1109.5,245.1 1109.7,245.3 1109.9,245.6 1110.1,245.9 1110.3,246.3 1110.5,246.7 1110.6,247.2 1110.8,247.7 1111,248.3 1111.2,248.8 1111.4,249.4 1111.6,250 1111.8,250.6 1111.9,251.1 1112.1,251.7 1112.3,252.2 1112.5,252.8 1112.7,253.3 1112.9,253.8 1113,254.2 1113.2,254.6 1113.4,255 1113.6,255.4 1113.8,255.7 1114,256 1114.2,256.3 1114.3,256.5 1114.5,256.7 1114.7,256.8 1114.9,256.9 1115.1,257 1115.3,257 1115.5,257 1115.6,257 1115.8,256.9 1116,256.8 1116.2,256.7 1116.4,256.5 1116.6,256.3 1116.7,256 1116.9,255.8 1117.1,255.4 1117.3,255.1 1117.5,254.7 1117.7,254.3 1117.9,253.9 1118,253.4 1118.2,253 1118.4,252.5 1118.6,252 1118.8,251.5 1119,251 1119.1,250.5 1119.3,249.9 1119.5,249.4 1119.7,249 1119.9,248.5 1120.1,248.1 1120.3,247.7 1120.4,247.4 1120.6,247.1 1120.8,246.9 1121,246.7 1121.2,246.6 1121.4,246.6 1121.6,246.7 1121.7,246.8 1121.9,247 1122.1,247.2 1122.3,247.6 1122.5,247.9 1122.7,248.3 1122.8,248.8 1123,249.3 1123.2,249.8 1123.4,250.3 1123.6,250.8 1123.8,251.4 1124,251.9 1124.1,252.5 1124.3,253 1124.5,253.6 1124.7,254.1 1124.9,254.6 1125.1,255.1 1125.2,255.5 1125.4,256 1125.6,256.4 1125.8,256.8 1126,257.1 1126.2,257.5 1126.4,257.8 1126.5,258.1 1126.7,258.3 1126.9,258.6 1127.1,258.8 1127.3,259 1127.5,259.2 1127.6,259.3 1127.8,259.5 1128,259.6 1128.2,259.7 1128.4,259.9 1128.6,259.9 1128.8,260 1128.9,260.1 1129.1,260.2 1129.3,260.2 1129.5,260.3 1129.7,260.4 1129.9,260.4 1130.1,260.4 1130.2,260.5 1130.4,260.5 1130.6,260.6 1130.8,260.6 1131,260.6 1131.2,260.6 1131.3,260.7 1131.5,260.7 1131.7,260.7 1131.9,260.7 1132.1,260.8 1132.3,260.8 1132.5,260.8 1132.6,260.8 1132.8,260.9 1133,260.9 1133.2,260.9 1133.4,260.9 1133.6,260.9 1133.7,261 1133.9,261 1134.1,261 1134.3,261 1134.5,261 1134.7,261 1134.9,261.1 1135,261.1 1135.2,261.1 1135.4,261.1 1135.6,261.1 1135.8,261.1 1136,261.2 1136.1,261.2 1136.3,261.2 1136.5,261.2 1136.7,261.2 1136.9,261.2 1137.1,261.3 1137.3,261.3 1137.4,261.3 1137.6,261.3 1137.8,261.3 1138,261.3 1138.2,261.4 1138.4,261.4 1138.6,261.4 1138.7,261.4 1138.9,261.4 1139.1,261.4 1139.3,261.4 1139.5,261.5 1139.7,261.5 1139.8,261.5 1140,261.5 1140.2,261.5 1140.4,261.5 1140.6,261.5 1140.8,261.6 1141,261.6 1141.1,261.6 1141.3,261.6 1141.5,261.6 1141.7,261.6 1141.9,261.6 1142.1,261.7 1142.2,261.7 1142.4,261.7 1142.6,261.7 1142.8,261.7 1143,261.7 1143.2,261.7 1143.4,261.8 1143.5,261.8 1143.7,261.8 1143.9,261.8 1144.1,261.8 1144.3,261.8 1144.5,261.8 1144.7,261.8 1144.8,261.9 1145,261.9 1145.2,261.9 1145.4,261.9 1145.6,261.9 1145.8,261.9 1145.9,261.9 1146.1,262 1146.3,262 1146.5,262 1146.7,262 1146.9,262 1147.1,262 1147.2,262 1147.4,262 1147.6,262.1 1147.8,262.1 1148,262.1 1148.2,262.1 1148.3,262.1 1148.5,262.1 1148.7,262.1 1148.9,262.1 1149.1,262.2 1149.3,262.2 1149.5,262.2 1149.6,262.2 1149.8,262.2 1150,262.2 1150.2,262.2 1150.4,262.2 1150.6,262.3 1150.7,262.3 1150.9,262.3 1151.1,262.3 1151.3,262.3 1151.5,262.3 1151.7,262.3 1151.9,262.3 1152,262.4 1152.2,262.4 1152.4,262.4 1152.6,262.4 1152.8,262.4 1153,262.4 1153.2,262.4 1153.3,262.4 1153.5,262.5 1153.7,262.5 1153.9,262.5 1154.1,262.5 1154.3,262.5 1154.4,262.5 1154.6,262.5 1154.8,262.5 1155,262.5 1155.2,262.6 1155.4,262.6 1155.6,262.6 1155.7,262.6 1155.9,262.6 1156.1,262.6 1156.3,262.6 1156.5,262.6 1156.7,262.7 1156.8,262.7 1157,262.7 1157.2,262.7 1157.4,262.7 1157.6,262.7 1157.8,262.7 1158,262.7 1158.1,262.8 1158.3,262.8 1158.5,262.8 1158.7,262.8 1158.9,262.8 1159.1,262.8 1159.2,262.8 1159.4,262.8 1159.6,262.9 1159.8,262.9 1160,262.9 1160.2,262.9 1160.4,262.9 1160.5,262.9 1160.7,262.9 1160.9,262.9 1161.1,262.9 1161.3,263 1161.5,263 1161.7,263 1161.8,263 1162,263 1162.2,263 1162.4,263 1162.6,263 1162.8,263.1 1162.9,263.1 1163.1,263.1 1163.3,263.1 1163.5,263.1 1163.7,263.1 1163.9,263.1 1164.1,263.1 1164.2,263.1 1164.4,263.2 1164.6,263.2 1164.8,263.2 1165,263.2 1165.2,263.2 1165.3,263.2 1165.5,263.2 1165.7,263.2 1165.9,263.3 1166.1,263.3 1166.3,263.3 1166.5,263.3 1166.6,263.3 1166.8,263.3 1167,263.3 1167.2,263.3 1167.4,263.3 1167.6,263.4 1167.8,263.4 1167.9,263.4 1168.1,263.4 1168.3,263.4 1168.5,263.4 1168.7,263.4 1168.9,263.4 1169,263.5 1169.2,263.5 1169.4,263.5 1169.6,263.5 1169.8,263.5 1170,263.5 1170.2,263.5 1170.3,263.5 1170.5,263.5 1170.7,263.6 1170.9,263.6 1171.1,263.6 1171.3,263.6 1171.4,263.6 1171.6,263.6 1171.8,263.6 1172,263.6 1172.2,263.7 1172.4,263.7 1172.6,263.7 1172.7,263.7 1172.9,263.7 1173.1,263.7 1173.3,263.7 1173.5,263.7 1173.7,263.8 1173.8,263.8 1174,263.8 1174.2,263.8 1174.4,263.8 1174.6,263.8 1174.8,263.8 1175,263.8 1175.1,263.8 1175.3,263.9 1175.5,263.9 1175.7,263.9 1175.9,263.9 1176.1,263.9 1176.3,263.9 1176.4,263.9 1176.6,263.9 1176.8,264 1177,264 1177.2,264 1177.4,264 1177.5,264 1177.7,264 1177.9,264 1178.1,264.1 1178.3,264.1 1178.5,264.1 1178.7,264.1 1178.8,264.1 1179,264.1 1179.2,264.1 1179.4,264.2 1179.6,264.2 1179.8,264.2 1179.9,264.2 1180.1,264.2 1180.3,264.2 1180.5,264.2 1180.7,264.3 1180.9,264.3 1181.1,264.3 1181.2,264.3 1181.4,264.3 1181.6,264.3 1181.8,264.3 1182,264.4 1182.2,264.4 1182.3,264.4 1182.5,264.4 1182.7,264.4 1182.9,264.4 1183.1,264.5 1183.3,264.5 1183.5,264.5 1183.6,264.5 1183.8,264.5 1184,264.5 1184.2,264.5 1184.4,264.6 1184.6,264.6 1184.8,264.6 1184.9,264.6 1185.1,264.6 1185.3,264.6 1185.5,264.7 1185.7,264.7 1185.9,264.7 1186,264.7 1186.2,264.7 1186.4,264.7 1186.6,264.8 1186.8,264.8 1187,264.8 1187.2,264.8 1187.3,264.8 1187.5,264.8 1187.7,264.8 1187.9,264.9 1188.1,264.9 1188.3,264.9 1188.4,264.9 1188.6,264.9 1188.8,264.9 1189,265 1189.2,265 1189.4,265 1189.6,265 1189.7,265 1189.9,265 1190.1,265 1190.3,265.1 1190.5,265.1 1190.7,265.1 1190.9,265.1 1191,265.1 1191.2,265.1 1191.4,265.2 1191.6,265.2 1191.8,265.2 1192,265.2 1192.1,265.2 1192.3,265.2 1192.5,265.2 1192.7,265.3 1192.9,265.3 1193.1,265.3 1193.3,265.3 1193.4,265.3 1193.6,265.3 1193.8,265.4 1194,265.4 1194.2,265.4 1194.4,265.4 1194.5,265.4 1194.7,265.4 1194.9,265.5 1195.1,265.5 1195.3,265.5 1195.5,265.5 1195.7,265.5 1195.8,265.5 1196,265.5 1196.2,265.6 1196.4,265.6 1196.6,265.6 1196.8,265.6 1196.9,265.6 1197.1,265.6 1197.3,265.7 1197.5,265.7 1197.7,265.7 1197.9,265.7 1198.1,265.7 1198.2,265.7 1198.4,265.7 1198.6,265.8 1198.8,265.8 1199,265.8 1199.2,265.8 1199.4,265.8 1199.5,265.8 1199.7,265.9 1199.9,265.9 1200.1,265.9 1200.3,265.9 1200.5,265.9 1200.6,265.9 1200.8,265.9 1201,266 1201.2,266 1201.4,266 1201.6,266 1201.8,266 1201.9,266 1202.1,266.1 1202.3,266.1 1202.5,266.1 1202.7,266.1 1202.9,266.1 1203,266.1 1203.2,266.1 1203.4,266.2 1203.6,266.2 1203.8,266.2 1204,266.2 1204.2,266.2 1204.3,266.2 1204.5,266.3 1204.7,266.3 1204.9,266.3 1205.1,266.3 1205.3,266.3 1205.4,266.3 1205.6,266.3 1205.8,266.4 1206,266.4 1206.2,266.4 1206.4,266.4 1206.6,266.4 1206.7,266.4 1206.9,266.4 1207.1,266.5 1207.3,266.5 1207.5,266.5 1207.7,266.5 1207.9,266.5 1208,266.5 1208.2,266.6 1208.4,266.6 1208.6,266.6 1208.8,266.6 1209,266.6 1209.1,266.6 1209.3,266.6 1209.5,266.7 1209.7,266.7 1209.9,266.7 1210.1,266.7 1210.3,266.7 1210.4,266.7 1210.6,266.7 1210.8,266.8 1211,266.8 1211.2,266.8 1211.4,266.8 1211.5,266.8 1211.7,266.8 1211.9,266.9 1212.1,266.9 1212.3,266.9 1212.5,266.9 1212.7,266.9 1212.8,266.9 1213,266.9 1213.2,267 1213.4,267 1213.6,267 1213.8,267 1214,267 1214.1,267 1214.3,267 1214.5,267.1 1214.7,267.1 1214.9,267.1 1215.1,267.1 1215.2,267.1 1215.4,267.1 1215.6,267.2 1215.8,267.2 1216,267.2 1216.2,267.2 1216.4,267.2 1216.5,267.2 1216.7,267.2 1216.9,267.3 1217.1,267.3 1217.3,267.3 1217.5,267.3 1217.6,267.3 1217.8,267.3 1218,267.3 1218.2,267.4 1218.4,267.4 1218.6,267.4 1218.8,267.4 1218.9,267.4 1219.1,267.4 1219.3,267.4 1219.5,267.5 1219.7,267.5 1219.9,267.5 1220,267.5 1220.2,267.5 1220.4,267.5 1220.6,267.5 1220.8,267.6 1221,267.6 1221.2,267.6 1221.3,267.6 1221.5,267.6 1221.7,267.6 1221.9,267.6 1222.1,267.7 1222.3,267.7 1222.5,267.7 1222.6,267.7 1222.8,267.7 1223,267.7 1223.2,267.7 1223.4,267.7 1223.6,267.8 1223.7,267.8 1223.9,267.8 1224.1,267.8 1224.3,267.8 1224.5,267.8 1224.7,267.8 1224.9,267.9 1225,267.9 1225.2,267.9 1225.4,267.9 1225.6,267.9 1225.8,267.9 1226,267.9 1226.1,268 1226.3,268 1226.5,268 1226.7,268 1226.9,268 1227.1,268 1227.3,268 1227.4,268 1227.6,268.1 1227.8,268.1 1228,268.1 1228.2,268.1 1228.4,268.1 1228.5,268.1 1228.7,268.1 1228.9,268.1 1229.1,268.2 1229.3,268.2 1229.5,268.2 1229.7,268.2 1229.8,268.2 1230,268.2 1230.2,268.2 1230.4,268.2 1230.6,268.3 1230.8,268.3 1231,268.3 1231.1,268.3 1231.3,268.3 1231.5,268.3 1231.7,268.3 1231.9,268.3 1232.1,268.3 1232.2,268.4 1232.4,268.4 1232.6,268.4 1232.8,268.4 1233,268.4 1233.2,268.4 1233.4,268.4 1233.5,268.4 1233.7,268.4 1233.9,268.4 1234.1,268.4 1234.3,268.4 1234.5,268.4 1234.6,268.4 1234.8,268.4 1235,268.4 1235.2,268.4 1235.4,268.4 1235.6,268.4 1235.8,268.4 1235.9,268.4 1236.1,268.4 1236.3,268.3 1236.5,268.3 1236.7,268.3 1236.9,268.3 1237.1,268.2 1237.2,268.2 1237.4,268.1 1237.6,268.1 1237.8,268 1238,267.9 1238.2,267.8 1238.3,267.7 1238.5,267.6 1238.7,267.4 1238.9,267.3 1239.1,267.1 1239.3,266.9 1239.5,266.7 1239.6,266.4 1239.8,266.1 1240,265.8 1240.2,265.5 1240.4,265.1 1240.6,264.7 1240.7,264.3 1240.9,263.9 1241.1,263.4 1241.3,262.9 1241.5,262.3 1241.7,261.8 1241.9,261.2 1242,260.5 1242.2,259.9 1242.4,259.2 1242.6,258.6 1242.8,257.9 1243,257.2 1243.1,256.5 1243.3,255.8 1243.5,255.2 1243.7,254.5 1243.9,253.9 1244.1,253.3 1244.3,252.8 1244.4,252.3 1244.6,251.9 1244.8,251.5 1245,251.3 1245.2,251.1 1245.4,250.9 1245.6,250.9 1245.7,251 1245.9,251.1 1246.1,251.4 1246.3,251.7 1246.5,252.1 1246.7,252.5 1246.8,253 1247,253.6 1247.2,254.2 1247.4,254.9 1247.6,255.5 1247.8,256.2 1248,257 1248.1,257.7 1248.3,258.4 1248.5,259.1 1248.7,259.8 1248.9,260.5 1249.1,261.2 1249.2,261.8 1249.4,262.5 1249.6,263.1 1249.8,263.6 1250,264.2 1250.2,264.7 1250.4,265.2 1250.5,265.6 1250.7,266.1 1250.9,266.5 1251.1,266.8 1251.3,267.2 1251.5,267.5 1251.6,267.7 1251.8,268 1252,268.2 1252.2,268.5 1252.4,268.6 1252.6,268.8 1252.8,269 1252.9,269.1 1253.1,269.3 1253.3,269.4 1253.5,269.5 1253.7,269.6 1253.9,269.7 1254.1,269.7 1254.2,269.8 1254.4,269.9 1254.6,269.9 1254.8,270 1255,270 1255.2,270.1 1255.3,270.1 1255.5,270.2 1255.7,270.2 1255.9,270.2 1256.1,270.3 1256.3,270.3 1256.5,270.3 1256.6,270.4 1256.8,270.4 1257,270.4 1257.2,270.4 1257.4,270.5 1257.6,270.5 1257.7,270.5 1257.9,270.5 1258.1,270.6 1258.3,270.6 1258.5,270.6 1258.7,270.6 1258.9,270.6 1259,270.7 1259.2,270.7 1259.4,270.7 1259.6,270.7 1259.8,270.7 1260,270.7 1260.2,270.7 1260.3,270.8 1260.5,270.8 1260.7,270.8 1260.9,270.8 1261.1,270.8 1261.3,270.8 1261.4,270.8 1261.6,270.8 1261.8,270.8 1262,270.8 1262.2,270.7 1262.4,270.7 1262.6,270.7 1262.7,270.7 1262.9,270.6 1263.1,270.6 1263.3,270.5 1263.5,270.5 1263.7,270.4 1263.8,270.3 1264,270.2 1264.2,270.1 1264.4,270 1264.6,269.8 1264.8,269.6 1265,269.4 1265.1,269.2 1265.3,269 1265.5,268.7 1265.7,268.4 1265.9,268.1 1266.1,267.8 1266.2,267.4 1266.4,267 1266.6,266.5 1266.8,266 1267,265.5 1267.2,265 1267.4,264.4 1267.5,263.8 1267.7,263.2 1267.9,262.6 1268.1,261.9 1268.3,261.2 1268.5,260.5 1268.7,259.8 1268.8,259.1 1269,258.4 1269.2,257.7 1269.4,257 1269.6,256.4 1269.8,255.7 1269.9,255.1 1270.1,254.6 1270.3,254.1 1270.5,253.7 1270.7,253.3 1270.9,253 1271.1,252.8 1271.2,252.7 1271.4,252.7 1271.6,252.8 1271.8,252.9 1272,253.2 1272.2,253.5 1272.3,253.9 1272.5,254.4 1272.7,254.9 1272.9,255.5 1273.1,256.2 1273.3,256.9 1273.5,257.6 1273.6,258.3 1273.8,259.1 1274,259.8 1274.2,260.6 1274.4,261.3 1274.6,262.1 1274.7,262.8 1274.9,263.5 1275.1,264.2 1275.3,264.9 1275.5,265.6 1275.7,266.2 1275.9,266.8 1276,267.3 1276.2,267.8 1276.4,268.3 1276.6,268.8 1276.8,269.2 1277,269.6 1277.2,270 1277.3,270.4 1277.5,270.7 1277.7,271 1277.9,271.2 1278.1,271.5 1278.3,271.7 1278.4,271.9 1278.6,272.1 1278.8,272.3 1279,272.4 1279.2,272.5 1279.4,272.7 1279.6,272.8 1279.7,272.9 1279.9,273 1280.1,273.1 1280.3,273.2 1280.5,273.3 1280.7,273.3 1280.8,273.4 1281,273.5 1281.2,273.5 1281.4,273.6 1281.6,273.6 1281.8,273.7 1282,273.8 1282.1,273.8 1282.3,273.9 1282.5,273.9 1282.7,274 1282.9,274 1283.1,274 1283.3,274.1 1283.4,274.1 1283.6,274.2 1283.8,274.2 1284,274.3 1284.2,274.3 1284.4,274.3 1284.5,274.4 1284.7,274.4 1284.9,274.5 1285.1,274.5 1285.3,274.6 1285.5,274.6 1285.7,274.6 1285.8,274.7 1286,274.7 1286.2,274.8 1286.4,274.8 1286.6,274.8 1286.8,274.9 1286.9,274.9 1287.1,275 1287.3,275 1287.5,275 1287.7,275.1 1287.9,275.1 1288.1,275.1 1288.2,275.2 1288.4,275.2 1288.6,275.3 1288.8,275.3 1289,275.3 1289.2,275.4 1289.3,275.4 1289.5,275.4 1289.7,275.5 1289.9,275.5 1290.1,275.6 1290.3,275.6 1290.5,275.6 1290.6,275.7 1290.8,275.7 1291,275.7 1291.2,275.8 1291.4,275.8 1291.6,275.8 1291.8,275.9 1291.9,275.9 1292.1,275.9 1292.3,276 1292.5,276 1292.7,276 1292.9,276.1 1293,276.1 1293.2,276.1 1293.4,276.1 1293.6,276.2 1293.8,276.2 1294,276.2 1294.2,276.3 1294.3,276.3 1294.5,276.3 1294.7,276.3 1294.9,276.4 1295.1,276.4 1295.3,276.4 1295.4,276.5 1295.6,276.5 1295.8,276.5 1296,276.5 1296.2,276.6 1296.4,276.6 1296.6,276.6" fill="none" stroke="#ff1a0f" stroke-width="2.4" stroke-linejoin="round"/>
<path d="M632.3 332.2V358.5M753.1 332.2V358.5M851.9 332.2V358.5M863 332.2V358.5M893.5 332.2V358.5M916.2 332.2V358.5M1008.5 332.2V358.5M1016 332.2V358.5M1025.5 332.2V358.5M1046.2 332.2V358.5M1066.9 332.2V358.5M1094.4 332.2V358.5M1109.2 332.2V358.5M1120.2 332.2V358.5M1208.9 332.2V358.5M1245.1 332.2V358.5M1270.2 332.2V358.5M1270.7 332.2V358.5" stroke="#a020f0" stroke-width="2"/>
<path d="M693 364V390.6M783.4 364V390.6M868.1 364V390.6M948.2 364V390.6M1024.3 364V390.6M1097.2 364V390.6M1167.3 364V390.6M1234.9 364V390.6" stroke="#52b4fb" stroke-width="2"/>
</g>
<rect x="553.3" y="3" width="740.8" height="424.3" fill="none" stroke="#000" stroke-width="1.9"/>
<path d="M553.3 391.1h-9.5M1294.1 391.1h-9.5M553.3 345.2h-5M1294.1 345.2h-5M553.3 299.4h-9.5M1294.1 299.4h-9.5M553.3 253.6h-5M1294.1 253.6h-5M553.3 207.7h-9.5M1294.1 207.7h-9.5M553.3 161.9h-5M1294.1 161.9h-5M553.3 116h-9.5M1294.1 116h-9.5M553.3 70.2h-5M1294.1 70.2h-5M553.3 24.3h-9.5M1294.1 24.3h-9.5M609.1 427.3v4.5M609.1 3v4.5M701.5 427.3v9M701.5 3v9M793.9 427.3v4.5M793.9 3v4.5M886.3 427.3v9M886.3 3v9M978.7 427.3v4.5M978.7 3v4.5M1071.1 427.3v9M1071.1 3v9M1163.5 427.3v4.5M1163.5 3v4.5M1255.9 427.3v9M1255.9 3v9" stroke="#000" stroke-width="1.9" fill="none"/>
<text x="701.5" y="465.6" font-family="Liberation Sans, sans-serif" stroke="#000" stroke-width="0.35" font-size="28" text-anchor="middle">30</text>
<text x="886.3" y="465.6" font-family="Liberation Sans, sans-serif" stroke="#000" stroke-width="0.35" font-size="28" text-anchor="middle">35</text>
<text x="1071.1" y="465.6" font-family="Liberation Sans, sans-serif" stroke="#000" stroke-width="0.35" font-size="28" text-anchor="middle">40</text>
<text x="1255.9" y="465.6" font-family="Liberation Sans, sans-serif" stroke="#000" stroke-width="0.35" font-size="28" text-anchor="middle">45</text>
<path d="M828.7 48.7V82.8" stroke="#52b4fb" stroke-width="2.2"/>
<path d="M828.7 96.4V130.5" stroke="#a020f0" stroke-width="2.2"/>
<text x="875.5" y="77" font-family="Liberation Sans, sans-serif" stroke="#000" stroke-width="0.35" font-size="32.5"><tspan font-style="italic">C</tspan>-type (Am<tspan font-size="22" dy="-13.3">4+/3+</tspan><tspan font-size="22" dy="22.2">1-x</tspan><tspan dy="-8.9">Zr</tspan><tspan font-size="22" dy="8.9">x</tspan><tspan dy="-8.9">)</tspan><tspan font-size="22" dy="8.9">2</tspan><tspan dy="-8.9">O</tspan><tspan font-size="22" dy="8.9">3+x</tspan></text>
<text x="875" y="124" font-family="Liberation Sans, sans-serif" stroke="#000" stroke-width="0.35" font-size="32.5"><tspan font-style="italic">m</tspan>-(Am<tspan font-size="22" dy="8.9">0.011(7)</tspan><tspan dy="-8.9">Zr</tspan><tspan font-size="22" dy="8.9">0.989(7)</tspan><tspan dy="-8.9">)O</tspan><tspan font-size="22" dy="8.9">2</tspan></text>
</svg>
</body></html>
